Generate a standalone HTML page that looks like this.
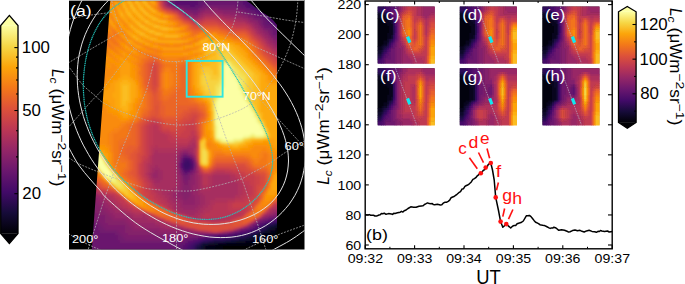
<!DOCTYPE html>
<html><head><meta charset="utf-8"><style>
html,body{margin:0;padding:0;background:#fff;width:685px;height:284px;overflow:hidden}
svg{display:block}
</style></head><body>
<svg width="685" height="284" viewBox="0 0 685 284">
<defs><linearGradient id="cbL" x1="0" y1="0" x2="0" y2="1"><stop offset="0.000" stop-color="#fcffa4"/><stop offset="0.100" stop-color="#f6d746"/><stop offset="0.200" stop-color="#fca50a"/><stop offset="0.300" stop-color="#f37819"/><stop offset="0.400" stop-color="#dd513a"/><stop offset="0.500" stop-color="#bc3754"/><stop offset="0.600" stop-color="#932667"/><stop offset="0.700" stop-color="#6a176e"/><stop offset="0.800" stop-color="#420a68"/><stop offset="0.900" stop-color="#160b39"/><stop offset="1.000" stop-color="#000004"/></linearGradient><linearGradient id="cbR" x1="0" y1="0" x2="0" y2="1"><stop offset="0.000" stop-color="#fcffa4"/><stop offset="0.100" stop-color="#f6d746"/><stop offset="0.200" stop-color="#fca50a"/><stop offset="0.300" stop-color="#f37819"/><stop offset="0.400" stop-color="#dd513a"/><stop offset="0.500" stop-color="#bc3754"/><stop offset="0.600" stop-color="#932667"/><stop offset="0.700" stop-color="#6a176e"/><stop offset="0.800" stop-color="#420a68"/><stop offset="0.900" stop-color="#160b39"/><stop offset="1.000" stop-color="#000004"/></linearGradient><clipPath id="clipA"><polygon points="110.3,0 245,0 250,3 256,8 262,12 268,16 273,20 277,25 277,249.5 91.8,249.5"/></clipPath><clipPath id="clipPanelA"><rect x="69" y="0" width="235.5" height="249.5"/></clipPath><filter id="blurA" x="-5%" y="-5%" width="110%" height="110%"><feGaussianBlur stdDeviation="1.3"/></filter></defs>
<rect x="69" y="0" width="235.5" height="249.5" fill="#000"/>
<g clip-path="url(#clipA)"><g filter="url(#blurA)"><path fill="#000004" d="M272.5 0h8.1v3.1h-8.1zM272.5 2.5h8.1v3.1h-8.1zM275 232.5h5.6v3.1h-5.6zM270 235h10.6v3.1h-10.6zM270 237.5h10.6v3.1h-10.6zM265 240h15.6v3.1h-15.6zM255 242.5h25.6v3.1h-25.6zM222.5 245h58.1v3.1h-58.1zM222.5 247.5h58.1v3.1h-58.1z"/>
<path fill="#02020c" d="M267.5 0h5.6v3.1h-5.6zM267.5 2.5h5.6v3.1h-5.6zM272.5 5h8.1v3.1h-8.1zM275 230h5.6v3.1h-5.6zM267.5 232.5h8.1v3.1h-8.1zM262.5 235h8.1v3.1h-8.1zM260 237.5h10.6v3.1h-10.6zM255 240h10.6v3.1h-10.6zM225 242.5h30.6v3.1h-30.6zM215 245h8.1v3.1h-8.1zM215 247.5h8.1v3.1h-8.1z"/>
<path fill="#050417" d="M265 0h3.1v3.1h-3.1zM265 2.5h3.1v3.1h-3.1zM267.5 5h5.6v3.1h-5.6zM272.5 7.5h8.1v3.1h-8.1zM275 227.5h5.6v3.1h-5.6zM270 230h5.6v3.1h-5.6zM262.5 232.5h5.6v3.1h-5.6zM260 235h3.1v3.1h-3.1zM255 237.5h5.6v3.1h-5.6zM245 240h10.6v3.1h-10.6zM217.5 242.5h8.1v3.1h-8.1zM205 245h10.6v3.1h-10.6zM205 247.5h10.6v3.1h-10.6z"/>
<path fill="#0b0724" d="M262.5 0h3.1v3.1h-3.1zM262.5 2.5h3.1v3.1h-3.1zM265 5h3.1v3.1h-3.1zM270 7.5h3.1v3.1h-3.1zM275 10h5.6v3.1h-5.6zM275 225h5.6v3.1h-5.6zM270 227.5h5.6v3.1h-5.6zM265 230h5.6v3.1h-5.6zM260 232.5h3.1v3.1h-3.1zM255 235h5.6v3.1h-5.6zM250 237.5h5.6v3.1h-5.6zM235 240h10.6v3.1h-10.6zM207.5 242.5h10.6v3.1h-10.6zM202.5 245h3.1v3.1h-3.1zM202.5 247.5h3.1v3.1h-3.1z"/>
<path fill="#110a30" d="M262.5 5h3.1v3.1h-3.1zM267.5 7.5h3.1v3.1h-3.1zM272.5 10h3.1v3.1h-3.1zM275 12.5h5.6v3.1h-5.6zM270 225h5.6v3.1h-5.6zM267.5 227.5h3.1v3.1h-3.1zM262.5 230h3.1v3.1h-3.1zM257.5 232.5h3.1v3.1h-3.1zM250 235h5.6v3.1h-5.6zM245 237.5h5.6v3.1h-5.6zM225 240h10.6v3.1h-10.6zM202.5 242.5h5.6v3.1h-5.6zM200 245h3.1v3.1h-3.1zM200 247.5h3.1v3.1h-3.1z"/>
<path fill="#190c3e" d="M260 0h3.1v3.1h-3.1zM260 2.5h3.1v3.1h-3.1zM265 7.5h3.1v3.1h-3.1zM270 10h3.1v3.1h-3.1zM272.5 12.5h3.1v3.1h-3.1zM275 222.5h5.6v3.1h-5.6zM267.5 225h3.1v3.1h-3.1zM265 227.5h3.1v3.1h-3.1zM260 230h3.1v3.1h-3.1zM252.5 232.5h5.6v3.1h-5.6zM247.5 235h3.1v3.1h-3.1zM237.5 237.5h8.1v3.1h-8.1zM212.5 240h13.1v3.1h-13.1zM200 242.5h3.1v3.1h-3.1zM197.5 245h3.1v3.1h-3.1zM197.5 247.5h3.1v3.1h-3.1z"/>
<path fill="#210c4a" d="M260 5h3.1v3.1h-3.1zM267.5 10h3.1v3.1h-3.1zM272.5 15h8.1v3.1h-8.1zM272.5 222.5h3.1v3.1h-3.1zM265 225h3.1v3.1h-3.1zM262.5 227.5h3.1v3.1h-3.1zM257.5 230h3.1v3.1h-3.1zM250 232.5h3.1v3.1h-3.1zM242.5 235h5.6v3.1h-5.6zM230 237.5h8.1v3.1h-8.1zM207.5 240h5.6v3.1h-5.6zM195 245h3.1v3.1h-3.1zM195 247.5h3.1v3.1h-3.1z"/>
<path fill="#2b0b57" d="M257.5 0h3.1v3.1h-3.1zM257.5 2.5h3.1v3.1h-3.1zM262.5 7.5h3.1v3.1h-3.1zM270 12.5h3.1v3.1h-3.1zM275 17.5h5.6v3.1h-5.6zM267.5 222.5h5.6v3.1h-5.6zM262.5 225h3.1v3.1h-3.1zM260 227.5h3.1v3.1h-3.1zM255 230h3.1v3.1h-3.1zM247.5 232.5h3.1v3.1h-3.1zM237.5 235h5.6v3.1h-5.6zM222.5 237.5h8.1v3.1h-8.1zM202.5 240h5.6v3.1h-5.6zM197.5 242.5h3.1v3.1h-3.1z"/>
<path fill="#340a5f" d="M257.5 5h3.1v3.1h-3.1zM260 7.5h3.1v3.1h-3.1zM265 10h3.1v3.1h-3.1zM267.5 12.5h3.1v3.1h-3.1zM270 15h3.1v3.1h-3.1zM272.5 17.5h3.1v3.1h-3.1zM265 222.5h3.1v3.1h-3.1zM257.5 227.5h3.1v3.1h-3.1zM252.5 230h3.1v3.1h-3.1zM245 232.5h3.1v3.1h-3.1zM232.5 235h5.6v3.1h-5.6zM212.5 237.5h10.6v3.1h-10.6zM200 240h3.1v3.1h-3.1zM195 242.5h3.1v3.1h-3.1zM192.5 245h3.1v3.1h-3.1zM192.5 247.5h3.1v3.1h-3.1z"/>
<path fill="#3e0966" d="M255 0h3.1v3.1h-3.1zM255 2.5h3.1v3.1h-3.1zM255 5h3.1v3.1h-3.1zM257.5 7.5h3.1v3.1h-3.1zM262.5 10h3.1v3.1h-3.1zM270 17.5h3.1v3.1h-3.1zM275 20h5.6v3.1h-5.6zM185 160h5.6v3.1h-5.6zM182.5 162.5h8.1v3.1h-8.1zM182.5 165h8.1v3.1h-8.1zM185 167.5h3.1v3.1h-3.1zM272.5 220h8.1v3.1h-8.1zM260 225h3.1v3.1h-3.1zM250 230h3.1v3.1h-3.1zM240 232.5h5.6v3.1h-5.6zM230 235h3.1v3.1h-3.1zM205 237.5h8.1v3.1h-8.1zM197.5 240h3.1v3.1h-3.1zM192.5 242.5h3.1v3.1h-3.1zM190 245h3.1v3.1h-3.1zM190 247.5h3.1v3.1h-3.1z"/>
<path fill="#470b6a" d="M250 0h5.6v3.1h-5.6zM250 2.5h5.6v3.1h-5.6zM252.5 5h3.1v3.1h-3.1zM260 10h3.1v3.1h-3.1zM265 12.5h3.1v3.1h-3.1zM267.5 15h3.1v3.1h-3.1zM272.5 20h3.1v3.1h-3.1zM185 157.5h3.1v3.1h-3.1zM182.5 160h3.1v3.1h-3.1zM190 162.5h3.1v3.1h-3.1zM190 165h3.1v3.1h-3.1zM182.5 167.5h3.1v3.1h-3.1zM187.5 167.5h3.1v3.1h-3.1zM270 220h3.1v3.1h-3.1zM262.5 222.5h3.1v3.1h-3.1zM257.5 225h3.1v3.1h-3.1zM255 227.5h3.1v3.1h-3.1zM247.5 230h3.1v3.1h-3.1zM237.5 232.5h3.1v3.1h-3.1zM215 235h15.6v3.1h-15.6zM202.5 237.5h3.1v3.1h-3.1zM195 240h3.1v3.1h-3.1zM190 242.5h3.1v3.1h-3.1zM187.5 245h3.1v3.1h-3.1zM187.5 247.5h3.1v3.1h-3.1z"/>
<path fill="#4f0d6c" d="M245 0h5.6v3.1h-5.6zM245 2.5h5.6v3.1h-5.6zM247.5 5h5.6v3.1h-5.6zM252.5 7.5h5.6v3.1h-5.6zM257.5 10h3.1v3.1h-3.1zM262.5 12.5h3.1v3.1h-3.1zM265 15h3.1v3.1h-3.1zM267.5 17.5h3.1v3.1h-3.1zM270 20h3.1v3.1h-3.1zM272.5 22.5h8.1v3.1h-8.1zM182.5 157.5h3.1v3.1h-3.1zM187.5 157.5h3.1v3.1h-3.1zM190 160h3.1v3.1h-3.1zM190 167.5h3.1v3.1h-3.1zM185 170h3.1v3.1h-3.1zM267.5 220h3.1v3.1h-3.1zM260 222.5h3.1v3.1h-3.1zM252.5 227.5h3.1v3.1h-3.1zM245 230h3.1v3.1h-3.1zM232.5 232.5h5.6v3.1h-5.6zM210 235h5.6v3.1h-5.6zM200 237.5h3.1v3.1h-3.1zM192.5 240h3.1v3.1h-3.1zM187.5 242.5h3.1v3.1h-3.1zM185 245h3.1v3.1h-3.1zM185 247.5h3.1v3.1h-3.1z"/>
<path fill="#59106e" d="M175 0h23.1v3.1h-23.1zM242.5 0h3.1v3.1h-3.1zM175 2.5h23.1v3.1h-23.1zM242.5 2.5h3.1v3.1h-3.1zM190 5h5.6v3.1h-5.6zM245 5h3.1v3.1h-3.1zM250 7.5h3.1v3.1h-3.1zM255 10h3.1v3.1h-3.1zM257.5 12.5h5.6v3.1h-5.6zM262.5 15h3.1v3.1h-3.1zM265 17.5h3.1v3.1h-3.1zM267.5 20h3.1v3.1h-3.1zM270 22.5h3.1v3.1h-3.1zM272.5 25h8.1v3.1h-8.1zM190 157.5h3.1v3.1h-3.1zM180 162.5h3.1v3.1h-3.1zM180 165h3.1v3.1h-3.1zM182.5 170h3.1v3.1h-3.1zM187.5 170h3.1v3.1h-3.1zM272.5 217.5h8.1v3.1h-8.1zM265 220h3.1v3.1h-3.1zM255 225h3.1v3.1h-3.1zM250 227.5h3.1v3.1h-3.1zM240 230h5.6v3.1h-5.6zM227.5 232.5h5.6v3.1h-5.6zM205 235h5.6v3.1h-5.6zM197.5 237.5h3.1v3.1h-3.1zM187.5 240h5.6v3.1h-5.6zM185 242.5h3.1v3.1h-3.1zM182.5 245h3.1v3.1h-3.1zM182.5 247.5h3.1v3.1h-3.1z"/>
<path fill="#61136e" d="M172.5 0h3.1v3.1h-3.1zM197.5 0h5.6v3.1h-5.6zM237.5 0h5.6v3.1h-5.6zM172.5 2.5h3.1v3.1h-3.1zM197.5 2.5h5.6v3.1h-5.6zM237.5 2.5h5.6v3.1h-5.6zM180 5h10.6v3.1h-10.6zM195 5h5.6v3.1h-5.6zM240 5h5.6v3.1h-5.6zM245 7.5h5.6v3.1h-5.6zM250 10h5.6v3.1h-5.6zM255 12.5h3.1v3.1h-3.1zM260 15h3.1v3.1h-3.1zM262.5 17.5h3.1v3.1h-3.1zM265 20h3.1v3.1h-3.1zM265 22.5h5.6v3.1h-5.6zM270 25h3.1v3.1h-3.1zM272.5 27.5h8.1v3.1h-8.1zM275 30h5.6v3.1h-5.6zM182.5 155h5.6v3.1h-5.6zM180 160h3.1v3.1h-3.1zM192.5 162.5h3.1v3.1h-3.1zM192.5 165h3.1v3.1h-3.1zM180 167.5h3.1v3.1h-3.1zM185 172.5h3.1v3.1h-3.1zM270 217.5h3.1v3.1h-3.1zM262.5 220h3.1v3.1h-3.1zM257.5 222.5h3.1v3.1h-3.1zM252.5 225h3.1v3.1h-3.1zM247.5 227.5h3.1v3.1h-3.1zM237.5 230h3.1v3.1h-3.1zM222.5 232.5h5.6v3.1h-5.6zM202.5 235h3.1v3.1h-3.1zM192.5 237.5h5.6v3.1h-5.6zM185 240h3.1v3.1h-3.1zM180 242.5h5.6v3.1h-5.6zM177.5 245h5.6v3.1h-5.6zM177.5 247.5h5.6v3.1h-5.6z"/>
<path fill="#6a176e" d="M170 0h3.1v3.1h-3.1zM202.5 0h35.6v3.1h-35.6zM170 2.5h3.1v3.1h-3.1zM202.5 2.5h35.6v3.1h-35.6zM175 5h5.6v3.1h-5.6zM200 5h3.1v3.1h-3.1zM235 5h5.6v3.1h-5.6zM185 7.5h13.1v3.1h-13.1zM240 7.5h5.6v3.1h-5.6zM245 10h5.6v3.1h-5.6zM250 12.5h5.6v3.1h-5.6zM255 15h5.6v3.1h-5.6zM260 17.5h3.1v3.1h-3.1zM262.5 20h3.1v3.1h-3.1zM262.5 22.5h3.1v3.1h-3.1zM265 25h5.6v3.1h-5.6zM270 27.5h3.1v3.1h-3.1zM272.5 30h3.1v3.1h-3.1zM272.5 32.5h8.1v3.1h-8.1zM187.5 155h3.1v3.1h-3.1zM180 157.5h3.1v3.1h-3.1zM192.5 160h3.1v3.1h-3.1zM192.5 167.5h3.1v3.1h-3.1zM190 170h3.1v3.1h-3.1zM182.5 172.5h3.1v3.1h-3.1zM267.5 217.5h3.1v3.1h-3.1zM260 220h3.1v3.1h-3.1zM90 222.5h5.6v3.1h-5.6zM255 222.5h3.1v3.1h-3.1zM90 225h8.1v3.1h-8.1zM90 227.5h8.1v3.1h-8.1zM245 227.5h3.1v3.1h-3.1zM90 230h10.6v3.1h-10.6zM235 230h3.1v3.1h-3.1zM90 232.5h25.6v3.1h-25.6zM217.5 232.5h5.6v3.1h-5.6zM90 235h28.1v3.1h-28.1zM197.5 235h5.6v3.1h-5.6zM90 237.5h28.1v3.1h-28.1zM185 237.5h8.1v3.1h-8.1zM90 240h30.6v3.1h-30.6zM177.5 240h8.1v3.1h-8.1zM90 242.5h90.6v3.1h-90.6zM90 245h88.1v3.1h-88.1zM90 247.5h88.1v3.1h-88.1z"/>
<path fill="#721a6e" d="M172.5 5h3.1v3.1h-3.1zM202.5 5h33.1v3.1h-33.1zM182.5 7.5h3.1v3.1h-3.1zM197.5 7.5h3.1v3.1h-3.1zM237.5 7.5h3.1v3.1h-3.1zM190 10h8.1v3.1h-8.1zM242.5 10h3.1v3.1h-3.1zM247.5 12.5h3.1v3.1h-3.1zM252.5 15h3.1v3.1h-3.1zM255 17.5h5.6v3.1h-5.6zM260 20h3.1v3.1h-3.1zM260 22.5h3.1v3.1h-3.1zM262.5 25h3.1v3.1h-3.1zM265 27.5h5.6v3.1h-5.6zM270 30h3.1v3.1h-3.1zM270 32.5h3.1v3.1h-3.1zM272.5 35h8.1v3.1h-8.1zM180 170h3.1v3.1h-3.1zM187.5 172.5h3.1v3.1h-3.1zM182.5 175h5.6v3.1h-5.6zM185 177.5h3.1v3.1h-3.1zM272.5 215h8.1v3.1h-8.1zM265 217.5h3.1v3.1h-3.1zM90 220h8.1v3.1h-8.1zM257.5 220h3.1v3.1h-3.1zM95 222.5h5.6v3.1h-5.6zM97.5 225h5.6v3.1h-5.6zM250 225h3.1v3.1h-3.1zM97.5 227.5h8.1v3.1h-8.1zM242.5 227.5h3.1v3.1h-3.1zM100 230h18.1v3.1h-18.1zM232.5 230h3.1v3.1h-3.1zM115 232.5h5.6v3.1h-5.6zM202.5 232.5h15.6v3.1h-15.6zM117.5 235h5.6v3.1h-5.6zM190 235h8.1v3.1h-8.1zM117.5 237.5h8.1v3.1h-8.1zM175 237.5h10.6v3.1h-10.6zM120 240h58.1v3.1h-58.1z"/>
<path fill="#7c1d6d" d="M167.5 0h3.1v3.1h-3.1zM167.5 2.5h3.1v3.1h-3.1zM180 7.5h3.1v3.1h-3.1zM200 7.5h5.6v3.1h-5.6zM217.5 7.5h20.6v3.1h-20.6zM185 10h5.6v3.1h-5.6zM197.5 10h3.1v3.1h-3.1zM237.5 10h5.6v3.1h-5.6zM192.5 12.5h5.6v3.1h-5.6zM242.5 12.5h5.6v3.1h-5.6zM247.5 15h5.6v3.1h-5.6zM252.5 17.5h3.1v3.1h-3.1zM257.5 20h3.1v3.1h-3.1zM260 25h3.1v3.1h-3.1zM262.5 27.5h3.1v3.1h-3.1zM267.5 30h3.1v3.1h-3.1zM270 35h3.1v3.1h-3.1zM272.5 37.5h8.1v3.1h-8.1zM182.5 152.5h5.6v3.1h-5.6zM180 155h3.1v3.1h-3.1zM190 155h3.1v3.1h-3.1zM192.5 157.5h3.1v3.1h-3.1zM177.5 162.5h3.1v3.1h-3.1zM177.5 165h3.1v3.1h-3.1zM192.5 170h3.1v3.1h-3.1zM180 172.5h3.1v3.1h-3.1zM190 172.5h3.1v3.1h-3.1zM187.5 175h3.1v3.1h-3.1zM182.5 177.5h3.1v3.1h-3.1zM187.5 177.5h3.1v3.1h-3.1zM182.5 180h5.6v3.1h-5.6zM185 182.5h3.1v3.1h-3.1zM90 205h5.6v3.1h-5.6zM90 207.5h5.6v3.1h-5.6zM90 210h5.6v3.1h-5.6zM90 212.5h8.1v3.1h-8.1zM90 215h15.6v3.1h-15.6zM270 215h3.1v3.1h-3.1zM90 217.5h15.6v3.1h-15.6zM262.5 217.5h3.1v3.1h-3.1zM97.5 220h8.1v3.1h-8.1zM100 222.5h8.1v3.1h-8.1zM252.5 222.5h3.1v3.1h-3.1zM102.5 225h23.1v3.1h-23.1zM247.5 225h3.1v3.1h-3.1zM105 227.5h20.6v3.1h-20.6zM240 227.5h3.1v3.1h-3.1zM117.5 230h8.1v3.1h-8.1zM120 232.5h8.1v3.1h-8.1zM197.5 232.5h5.6v3.1h-5.6zM122.5 235h68.1v3.1h-68.1zM125 237.5h50.6v3.1h-50.6z"/>
<path fill="#84206b" d="M170 5h3.1v3.1h-3.1zM177.5 7.5h3.1v3.1h-3.1zM205 7.5h13.1v3.1h-13.1zM182.5 10h3.1v3.1h-3.1zM200 10h3.1v3.1h-3.1zM222.5 10h15.6v3.1h-15.6zM187.5 12.5h5.6v3.1h-5.6zM237.5 12.5h5.6v3.1h-5.6zM245 15h3.1v3.1h-3.1zM250 17.5h3.1v3.1h-3.1zM255 20h3.1v3.1h-3.1zM257.5 22.5h3.1v3.1h-3.1zM265 30h3.1v3.1h-3.1zM267.5 32.5h3.1v3.1h-3.1zM275 40h5.6v3.1h-5.6zM180 152.5h3.1v3.1h-3.1zM187.5 152.5h3.1v3.1h-3.1zM177.5 160h3.1v3.1h-3.1zM195 162.5h3.1v3.1h-3.1zM195 165h3.1v3.1h-3.1zM177.5 167.5h3.1v3.1h-3.1zM192.5 172.5h3.1v3.1h-3.1zM180 175h3.1v3.1h-3.1zM190 175h3.1v3.1h-3.1zM180 177.5h3.1v3.1h-3.1zM190 177.5h3.1v3.1h-3.1zM187.5 180h3.1v3.1h-3.1zM182.5 182.5h3.1v3.1h-3.1zM187.5 182.5h3.1v3.1h-3.1zM182.5 185h8.1v3.1h-8.1zM182.5 187.5h8.1v3.1h-8.1zM182.5 190h8.1v3.1h-8.1zM180 192.5h10.6v3.1h-10.6zM182.5 195h8.1v3.1h-8.1zM182.5 197.5h5.6v3.1h-5.6zM90 200h5.6v3.1h-5.6zM90 202.5h8.1v3.1h-8.1zM95 205h5.6v3.1h-5.6zM95 207.5h8.1v3.1h-8.1zM95 210h10.6v3.1h-10.6zM97.5 212.5h10.6v3.1h-10.6zM275 212.5h5.6v3.1h-5.6zM105 215h5.6v3.1h-5.6zM267.5 215h3.1v3.1h-3.1zM105 217.5h8.1v3.1h-8.1zM260 217.5h3.1v3.1h-3.1zM105 220h20.6v3.1h-20.6zM255 220h3.1v3.1h-3.1zM107.5 222.5h20.6v3.1h-20.6zM125 225h5.6v3.1h-5.6zM125 227.5h8.1v3.1h-8.1zM125 230h33.1v3.1h-33.1zM127.5 232.5h70.6v3.1h-70.6z"/>
<path fill="#8d2369" d="M165 0h3.1v3.1h-3.1zM165 2.5h3.1v3.1h-3.1zM167.5 5h3.1v3.1h-3.1zM175 7.5h3.1v3.1h-3.1zM202.5 10h3.1v3.1h-3.1zM215 10h8.1v3.1h-8.1zM185 12.5h3.1v3.1h-3.1zM197.5 12.5h3.1v3.1h-3.1zM222.5 12.5h15.6v3.1h-15.6zM192.5 15h5.6v3.1h-5.6zM240 15h5.6v3.1h-5.6zM247.5 17.5h3.1v3.1h-3.1zM250 20h5.6v3.1h-5.6zM255 22.5h3.1v3.1h-3.1zM257.5 25h3.1v3.1h-3.1zM260 27.5h3.1v3.1h-3.1zM262.5 30h3.1v3.1h-3.1zM265 32.5h3.1v3.1h-3.1zM267.5 35h3.1v3.1h-3.1zM270 37.5h3.1v3.1h-3.1zM272.5 40h3.1v3.1h-3.1zM275 42.5h5.6v3.1h-5.6zM182.5 150h5.6v3.1h-5.6zM190 152.5h3.1v3.1h-3.1zM177.5 155h3.1v3.1h-3.1zM192.5 155h3.1v3.1h-3.1zM177.5 157.5h3.1v3.1h-3.1zM195 167.5h3.1v3.1h-3.1zM177.5 170h3.1v3.1h-3.1zM195 170h3.1v3.1h-3.1zM177.5 172.5h3.1v3.1h-3.1zM192.5 175h3.1v3.1h-3.1zM192.5 177.5h3.1v3.1h-3.1zM180 180h3.1v3.1h-3.1zM190 180h5.6v3.1h-5.6zM180 182.5h3.1v3.1h-3.1zM190 182.5h5.6v3.1h-5.6zM180 185h3.1v3.1h-3.1zM190 185h3.1v3.1h-3.1zM180 187.5h3.1v3.1h-3.1zM190 187.5h3.1v3.1h-3.1zM177.5 190h5.6v3.1h-5.6zM190 190h3.1v3.1h-3.1zM177.5 192.5h3.1v3.1h-3.1zM190 192.5h3.1v3.1h-3.1zM177.5 195h5.6v3.1h-5.6zM190 195h5.6v3.1h-5.6zM90 197.5h8.1v3.1h-8.1zM180 197.5h3.1v3.1h-3.1zM187.5 197.5h8.1v3.1h-8.1zM95 200h5.6v3.1h-5.6zM182.5 200h13.1v3.1h-13.1zM97.5 202.5h5.6v3.1h-5.6zM182.5 202.5h13.1v3.1h-13.1zM100 205h5.6v3.1h-5.6zM102.5 207.5h5.6v3.1h-5.6zM105 210h5.6v3.1h-5.6zM107.5 212.5h5.6v3.1h-5.6zM272.5 212.5h3.1v3.1h-3.1zM110 215h5.6v3.1h-5.6zM265 215h3.1v3.1h-3.1zM112.5 217.5h15.6v3.1h-15.6zM125 220h5.6v3.1h-5.6zM127.5 222.5h5.6v3.1h-5.6zM250 222.5h3.1v3.1h-3.1zM130 225h5.6v3.1h-5.6zM132.5 227.5h28.1v3.1h-28.1zM157.5 230h35.6v3.1h-35.6zM230 230h3.1v3.1h-3.1z"/>
<path fill="#952667" d="M180 10h3.1v3.1h-3.1zM205 10h10.6v3.1h-10.6zM182.5 12.5h3.1v3.1h-3.1zM200 12.5h3.1v3.1h-3.1zM217.5 12.5h5.6v3.1h-5.6zM187.5 15h5.6v3.1h-5.6zM197.5 15h3.1v3.1h-3.1zM230 15h10.6v3.1h-10.6zM242.5 17.5h5.6v3.1h-5.6zM247.5 20h3.1v3.1h-3.1zM252.5 22.5h3.1v3.1h-3.1zM255 25h3.1v3.1h-3.1zM257.5 27.5h3.1v3.1h-3.1zM260 30h3.1v3.1h-3.1zM262.5 32.5h3.1v3.1h-3.1zM265 35h3.1v3.1h-3.1zM267.5 37.5h3.1v3.1h-3.1zM270 40h3.1v3.1h-3.1zM272.5 42.5h3.1v3.1h-3.1zM275 45h5.6v3.1h-5.6zM180 150h3.1v3.1h-3.1zM187.5 150h3.1v3.1h-3.1zM177.5 152.5h3.1v3.1h-3.1zM195 160h3.1v3.1h-3.1zM155 170h3.1v3.1h-3.1zM152.5 172.5h5.6v3.1h-5.6zM195 172.5h3.1v3.1h-3.1zM152.5 175h5.6v3.1h-5.6zM177.5 175h3.1v3.1h-3.1zM195 175h3.1v3.1h-3.1zM177.5 177.5h3.1v3.1h-3.1zM195 177.5h3.1v3.1h-3.1zM177.5 180h3.1v3.1h-3.1zM195 180h3.1v3.1h-3.1zM177.5 182.5h3.1v3.1h-3.1zM195 182.5h3.1v3.1h-3.1zM177.5 185h3.1v3.1h-3.1zM192.5 185h5.6v3.1h-5.6zM177.5 187.5h3.1v3.1h-3.1zM192.5 187.5h5.6v3.1h-5.6zM175 190h3.1v3.1h-3.1zM192.5 190h5.6v3.1h-5.6zM172.5 192.5h5.6v3.1h-5.6zM192.5 192.5h5.6v3.1h-5.6zM90 195h10.6v3.1h-10.6zM172.5 195h5.6v3.1h-5.6zM195 195h5.6v3.1h-5.6zM97.5 197.5h5.6v3.1h-5.6zM175 197.5h5.6v3.1h-5.6zM195 197.5h5.6v3.1h-5.6zM100 200h5.6v3.1h-5.6zM177.5 200h5.6v3.1h-5.6zM195 200h5.6v3.1h-5.6zM102.5 202.5h5.6v3.1h-5.6zM180 202.5h3.1v3.1h-3.1zM195 202.5h5.6v3.1h-5.6zM105 205h5.6v3.1h-5.6zM180 205h18.1v3.1h-18.1zM107.5 207.5h5.6v3.1h-5.6zM182.5 207.5h13.1v3.1h-13.1zM110 210h5.6v3.1h-5.6zM275 210h5.6v3.1h-5.6zM112.5 212.5h13.1v3.1h-13.1zM270 212.5h3.1v3.1h-3.1zM115 215h15.6v3.1h-15.6zM262.5 215h3.1v3.1h-3.1zM127.5 217.5h5.6v3.1h-5.6zM257.5 217.5h3.1v3.1h-3.1zM130 220h5.6v3.1h-5.6zM132.5 222.5h23.1v3.1h-23.1zM135 225h25.6v3.1h-25.6zM245 225h3.1v3.1h-3.1zM160 227.5h23.1v3.1h-23.1zM237.5 227.5h3.1v3.1h-3.1zM192.5 230h5.6v3.1h-5.6z"/>
<path fill="#9d2964" d="M165 5h3.1v3.1h-3.1zM172.5 7.5h3.1v3.1h-3.1zM202.5 12.5h15.6v3.1h-15.6zM185 15h3.1v3.1h-3.1zM200 15h3.1v3.1h-3.1zM222.5 15h8.1v3.1h-8.1zM192.5 17.5h5.6v3.1h-5.6zM235 17.5h8.1v3.1h-8.1zM245 20h3.1v3.1h-3.1zM250 22.5h3.1v3.1h-3.1zM252.5 25h3.1v3.1h-3.1zM255 27.5h3.1v3.1h-3.1zM257.5 30h3.1v3.1h-3.1zM260 32.5h3.1v3.1h-3.1zM262.5 35h3.1v3.1h-3.1zM265 37.5h3.1v3.1h-3.1zM267.5 40h3.1v3.1h-3.1zM270 42.5h3.1v3.1h-3.1zM272.5 45h3.1v3.1h-3.1zM182.5 147.5h10.6v3.1h-10.6zM177.5 150h3.1v3.1h-3.1zM190 150h3.1v3.1h-3.1zM192.5 152.5h3.1v3.1h-3.1zM175 155h3.1v3.1h-3.1zM175 157.5h3.1v3.1h-3.1zM175 160h3.1v3.1h-3.1zM175 162.5h3.1v3.1h-3.1zM155 165h3.1v3.1h-3.1zM175 165h3.1v3.1h-3.1zM152.5 167.5h8.1v3.1h-8.1zM175 167.5h3.1v3.1h-3.1zM152.5 170h3.1v3.1h-3.1zM157.5 170h5.6v3.1h-5.6zM175 170h3.1v3.1h-3.1zM150 172.5h3.1v3.1h-3.1zM157.5 172.5h5.6v3.1h-5.6zM175 172.5h3.1v3.1h-3.1zM150 175h3.1v3.1h-3.1zM157.5 175h5.6v3.1h-5.6zM175 175h3.1v3.1h-3.1zM197.5 175h3.1v3.1h-3.1zM152.5 177.5h10.6v3.1h-10.6zM175 177.5h3.1v3.1h-3.1zM197.5 177.5h3.1v3.1h-3.1zM155 180h5.6v3.1h-5.6zM175 180h3.1v3.1h-3.1zM197.5 180h3.1v3.1h-3.1zM197.5 182.5h3.1v3.1h-3.1zM175 185h3.1v3.1h-3.1zM197.5 185h3.1v3.1h-3.1zM172.5 187.5h5.6v3.1h-5.6zM197.5 187.5h3.1v3.1h-3.1zM170 190h5.6v3.1h-5.6zM197.5 190h3.1v3.1h-3.1zM90 192.5h8.1v3.1h-8.1zM167.5 192.5h5.6v3.1h-5.6zM197.5 192.5h5.6v3.1h-5.6zM100 195h3.1v3.1h-3.1zM170 195h3.1v3.1h-3.1zM200 195h5.6v3.1h-5.6zM102.5 197.5h3.1v3.1h-3.1zM170 197.5h5.6v3.1h-5.6zM200 197.5h5.6v3.1h-5.6zM105 200h3.1v3.1h-3.1zM172.5 200h5.6v3.1h-5.6zM200 200h5.6v3.1h-5.6zM107.5 202.5h3.1v3.1h-3.1zM175 202.5h5.6v3.1h-5.6zM200 202.5h5.6v3.1h-5.6zM110 205h3.1v3.1h-3.1zM175 205h5.6v3.1h-5.6zM197.5 205h5.6v3.1h-5.6zM112.5 207.5h5.6v3.1h-5.6zM175 207.5h8.1v3.1h-8.1zM195 207.5h5.6v3.1h-5.6zM115 210h10.6v3.1h-10.6zM177.5 210h20.6v3.1h-20.6zM272.5 210h3.1v3.1h-3.1zM125 212.5h5.6v3.1h-5.6zM185 212.5h10.6v3.1h-10.6zM267.5 212.5h3.1v3.1h-3.1zM130 215h3.1v3.1h-3.1zM142.5 215h3.1v3.1h-3.1zM132.5 217.5h15.6v3.1h-15.6zM135 220h20.6v3.1h-20.6zM155 222.5h5.6v3.1h-5.6zM160 225h5.6v3.1h-5.6zM182.5 227.5h5.6v3.1h-5.6zM197.5 230h3.1v3.1h-3.1zM227.5 230h3.1v3.1h-3.1z"/>
<path fill="#a62d60" d="M162.5 0h3.1v3.1h-3.1zM162.5 2.5h3.1v3.1h-3.1zM170 7.5h3.1v3.1h-3.1zM177.5 10h3.1v3.1h-3.1zM202.5 15h3.1v3.1h-3.1zM217.5 15h5.6v3.1h-5.6zM197.5 17.5h3.1v3.1h-3.1zM225 17.5h10.6v3.1h-10.6zM237.5 20h8.1v3.1h-8.1zM247.5 22.5h3.1v3.1h-3.1zM250 25h3.1v3.1h-3.1zM252.5 27.5h3.1v3.1h-3.1zM255 30h3.1v3.1h-3.1zM257.5 32.5h3.1v3.1h-3.1zM260 35h3.1v3.1h-3.1zM262.5 37.5h3.1v3.1h-3.1zM265 40h3.1v3.1h-3.1zM267.5 42.5h3.1v3.1h-3.1zM270 45h3.1v3.1h-3.1zM272.5 47.5h8.1v3.1h-8.1zM192.5 142.5h3.1v3.1h-3.1zM187.5 145h8.1v3.1h-8.1zM177.5 147.5h5.6v3.1h-5.6zM192.5 147.5h3.1v3.1h-3.1zM155 150h3.1v3.1h-3.1zM175 150h3.1v3.1h-3.1zM192.5 150h3.1v3.1h-3.1zM152.5 152.5h25.6v3.1h-25.6zM152.5 155h23.1v3.1h-23.1zM152.5 157.5h23.1v3.1h-23.1zM195 157.5h3.1v3.1h-3.1zM152.5 160h23.1v3.1h-23.1zM152.5 162.5h23.1v3.1h-23.1zM150 165h5.6v3.1h-5.6zM157.5 165h18.1v3.1h-18.1zM150 167.5h3.1v3.1h-3.1zM160 167.5h15.6v3.1h-15.6zM150 170h3.1v3.1h-3.1zM162.5 170h13.1v3.1h-13.1zM197.5 170h3.1v3.1h-3.1zM147.5 172.5h3.1v3.1h-3.1zM162.5 172.5h13.1v3.1h-13.1zM197.5 172.5h3.1v3.1h-3.1zM162.5 175h13.1v3.1h-13.1zM200 175h3.1v3.1h-3.1zM212.5 175h18.1v3.1h-18.1zM150 177.5h3.1v3.1h-3.1zM162.5 177.5h13.1v3.1h-13.1zM200 177.5h3.1v3.1h-3.1zM212.5 177.5h18.1v3.1h-18.1zM152.5 180h3.1v3.1h-3.1zM160 180h15.6v3.1h-15.6zM200 180h3.1v3.1h-3.1zM212.5 180h23.1v3.1h-23.1zM152.5 182.5h25.6v3.1h-25.6zM200 182.5h3.1v3.1h-3.1zM212.5 182.5h25.6v3.1h-25.6zM155 185h20.6v3.1h-20.6zM200 185h3.1v3.1h-3.1zM210 185h28.1v3.1h-28.1zM160 187.5h13.1v3.1h-13.1zM200 187.5h3.1v3.1h-3.1zM210 187.5h28.1v3.1h-28.1zM90 190h5.6v3.1h-5.6zM162.5 190h8.1v3.1h-8.1zM200 190h38.1v3.1h-38.1zM97.5 192.5h5.6v3.1h-5.6zM162.5 192.5h5.6v3.1h-5.6zM202.5 192.5h35.6v3.1h-35.6zM102.5 195h5.6v3.1h-5.6zM165 195h5.6v3.1h-5.6zM205 195h30.6v3.1h-30.6zM105 197.5h5.6v3.1h-5.6zM167.5 197.5h3.1v3.1h-3.1zM205 197.5h10.6v3.1h-10.6zM107.5 200h5.6v3.1h-5.6zM167.5 200h5.6v3.1h-5.6zM205 200h5.6v3.1h-5.6zM110 202.5h5.6v3.1h-5.6zM170 202.5h5.6v3.1h-5.6zM205 202.5h5.6v3.1h-5.6zM112.5 205h5.6v3.1h-5.6zM172.5 205h3.1v3.1h-3.1zM202.5 205h5.6v3.1h-5.6zM117.5 207.5h5.6v3.1h-5.6zM172.5 207.5h3.1v3.1h-3.1zM200 207.5h5.6v3.1h-5.6zM272.5 207.5h8.1v3.1h-8.1zM125 210h5.6v3.1h-5.6zM175 210h3.1v3.1h-3.1zM197.5 210h5.6v3.1h-5.6zM270 210h3.1v3.1h-3.1zM130 212.5h5.6v3.1h-5.6zM140 212.5h5.6v3.1h-5.6zM180 212.5h5.6v3.1h-5.6zM195 212.5h5.6v3.1h-5.6zM265 212.5h3.1v3.1h-3.1zM132.5 215h10.6v3.1h-10.6zM145 215h5.6v3.1h-5.6zM187.5 215h10.6v3.1h-10.6zM147.5 217.5h8.1v3.1h-8.1zM155 220h8.1v3.1h-8.1zM252.5 220h3.1v3.1h-3.1zM160 222.5h10.6v3.1h-10.6zM165 225h15.6v3.1h-15.6zM187.5 227.5h3.1v3.1h-3.1zM200 230h3.1v3.1h-3.1zM225 230h3.1v3.1h-3.1z"/>
<path fill="#ae305c" d="M180 12.5h3.1v3.1h-3.1zM182.5 15h3.1v3.1h-3.1zM205 15h13.1v3.1h-13.1zM190 17.5h3.1v3.1h-3.1zM200 17.5h3.1v3.1h-3.1zM220 17.5h5.6v3.1h-5.6zM230 20h8.1v3.1h-8.1zM245 22.5h3.1v3.1h-3.1zM255 32.5h3.1v3.1h-3.1zM265 42.5h3.1v3.1h-3.1zM267.5 45h3.1v3.1h-3.1zM270 47.5h3.1v3.1h-3.1zM272.5 50h8.1v3.1h-8.1zM192.5 137.5h3.1v3.1h-3.1zM190 140h5.6v3.1h-5.6zM187.5 142.5h5.6v3.1h-5.6zM155 145h3.1v3.1h-3.1zM177.5 145h10.6v3.1h-10.6zM195 145h3.1v3.1h-3.1zM152.5 147.5h25.6v3.1h-25.6zM152.5 150h3.1v3.1h-3.1zM157.5 150h18.1v3.1h-18.1zM150 155h3.1v3.1h-3.1zM195 155h3.1v3.1h-3.1zM150 157.5h3.1v3.1h-3.1zM150 160h3.1v3.1h-3.1zM147.5 162.5h5.6v3.1h-5.6zM147.5 165h3.1v3.1h-3.1zM147.5 167.5h3.1v3.1h-3.1zM197.5 167.5h3.1v3.1h-3.1zM147.5 170h3.1v3.1h-3.1zM145 172.5h3.1v3.1h-3.1zM200 172.5h3.1v3.1h-3.1zM212.5 172.5h18.1v3.1h-18.1zM147.5 175h3.1v3.1h-3.1zM207.5 175h5.6v3.1h-5.6zM230 175h5.6v3.1h-5.6zM147.5 177.5h3.1v3.1h-3.1zM207.5 177.5h5.6v3.1h-5.6zM230 177.5h8.1v3.1h-8.1zM150 180h3.1v3.1h-3.1zM207.5 180h5.6v3.1h-5.6zM235 180h5.6v3.1h-5.6zM207.5 182.5h5.6v3.1h-5.6zM237.5 182.5h5.6v3.1h-5.6zM152.5 185h3.1v3.1h-3.1zM202.5 185h8.1v3.1h-8.1zM237.5 185h5.6v3.1h-5.6zM155 187.5h5.6v3.1h-5.6zM202.5 187.5h8.1v3.1h-8.1zM237.5 187.5h5.6v3.1h-5.6zM95 190h3.1v3.1h-3.1zM155 190h8.1v3.1h-8.1zM237.5 190h5.6v3.1h-5.6zM102.5 192.5h3.1v3.1h-3.1zM157.5 192.5h5.6v3.1h-5.6zM237.5 192.5h5.6v3.1h-5.6zM107.5 195h5.6v3.1h-5.6zM160 195h5.6v3.1h-5.6zM235 195h5.6v3.1h-5.6zM110 197.5h5.6v3.1h-5.6zM162.5 197.5h5.6v3.1h-5.6zM215 197.5h20.6v3.1h-20.6zM112.5 200h5.6v3.1h-5.6zM165 200h3.1v3.1h-3.1zM210 200h18.1v3.1h-18.1zM115 202.5h5.6v3.1h-5.6zM167.5 202.5h3.1v3.1h-3.1zM210 202.5h5.6v3.1h-5.6zM117.5 205h5.6v3.1h-5.6zM167.5 205h5.6v3.1h-5.6zM207.5 205h5.6v3.1h-5.6zM122.5 207.5h5.6v3.1h-5.6zM170 207.5h3.1v3.1h-3.1zM205 207.5h8.1v3.1h-8.1zM270 207.5h3.1v3.1h-3.1zM130 210h3.1v3.1h-3.1zM172.5 210h3.1v3.1h-3.1zM202.5 210h8.1v3.1h-8.1zM267.5 210h3.1v3.1h-3.1zM135 212.5h5.6v3.1h-5.6zM145 212.5h3.1v3.1h-3.1zM200 212.5h5.6v3.1h-5.6zM150 215h3.1v3.1h-3.1zM197.5 215h5.6v3.1h-5.6zM260 215h3.1v3.1h-3.1zM155 217.5h5.6v3.1h-5.6zM195 217.5h35.6v3.1h-35.6zM162.5 220h3.1v3.1h-3.1zM210 220h10.6v3.1h-10.6zM170 222.5h3.1v3.1h-3.1zM180 225h3.1v3.1h-3.1zM242.5 225h3.1v3.1h-3.1zM235 227.5h3.1v3.1h-3.1zM202.5 230h3.1v3.1h-3.1zM222.5 230h3.1v3.1h-3.1z"/>
<path fill="#b73557" d="M162.5 5h3.1v3.1h-3.1zM167.5 7.5h3.1v3.1h-3.1zM175 10h3.1v3.1h-3.1zM187.5 17.5h3.1v3.1h-3.1zM202.5 17.5h3.1v3.1h-3.1zM217.5 17.5h3.1v3.1h-3.1zM192.5 20h5.6v3.1h-5.6zM225 20h5.6v3.1h-5.6zM232.5 22.5h13.1v3.1h-13.1zM247.5 25h3.1v3.1h-3.1zM250 27.5h3.1v3.1h-3.1zM252.5 30h3.1v3.1h-3.1zM257.5 35h3.1v3.1h-3.1zM260 37.5h3.1v3.1h-3.1zM262.5 40h3.1v3.1h-3.1zM275 52.5h5.6v3.1h-5.6zM152.5 125h5.6v3.1h-5.6zM152.5 127.5h5.6v3.1h-5.6zM152.5 130h8.1v3.1h-8.1zM152.5 132.5h13.1v3.1h-13.1zM152.5 135h15.6v3.1h-15.6zM192.5 135h3.1v3.1h-3.1zM152.5 137.5h15.6v3.1h-15.6zM190 137.5h3.1v3.1h-3.1zM152.5 140h18.1v3.1h-18.1zM187.5 140h3.1v3.1h-3.1zM195 140h3.1v3.1h-3.1zM152.5 142.5h35.6v3.1h-35.6zM195 142.5h3.1v3.1h-3.1zM150 145h5.6v3.1h-5.6zM157.5 145h20.6v3.1h-20.6zM150 147.5h3.1v3.1h-3.1zM195 147.5h3.1v3.1h-3.1zM150 150h3.1v3.1h-3.1zM195 150h3.1v3.1h-3.1zM150 152.5h3.1v3.1h-3.1zM195 152.5h3.1v3.1h-3.1zM147.5 155h3.1v3.1h-3.1zM147.5 157.5h3.1v3.1h-3.1zM147.5 160h3.1v3.1h-3.1zM145 162.5h3.1v3.1h-3.1zM145 165h3.1v3.1h-3.1zM197.5 165h3.1v3.1h-3.1zM145 167.5h3.1v3.1h-3.1zM145 170h3.1v3.1h-3.1zM215 170h10.6v3.1h-10.6zM210 172.5h3.1v3.1h-3.1zM230 172.5h5.6v3.1h-5.6zM145 175h3.1v3.1h-3.1zM202.5 175h5.6v3.1h-5.6zM235 175h3.1v3.1h-3.1zM202.5 177.5h5.6v3.1h-5.6zM237.5 177.5h3.1v3.1h-3.1zM147.5 180h3.1v3.1h-3.1zM202.5 180h5.6v3.1h-5.6zM240 180h3.1v3.1h-3.1zM150 182.5h3.1v3.1h-3.1zM202.5 182.5h5.6v3.1h-5.6zM242.5 182.5h3.1v3.1h-3.1zM150 185h3.1v3.1h-3.1zM242.5 185h5.6v3.1h-5.6zM90 187.5h5.6v3.1h-5.6zM150 187.5h5.6v3.1h-5.6zM242.5 187.5h5.6v3.1h-5.6zM97.5 190h5.6v3.1h-5.6zM152.5 190h3.1v3.1h-3.1zM242.5 190h5.6v3.1h-5.6zM105 192.5h5.6v3.1h-5.6zM155 192.5h3.1v3.1h-3.1zM242.5 192.5h5.6v3.1h-5.6zM112.5 195h3.1v3.1h-3.1zM155 195h5.6v3.1h-5.6zM240 195h5.6v3.1h-5.6zM115 197.5h3.1v3.1h-3.1zM157.5 197.5h5.6v3.1h-5.6zM235 197.5h8.1v3.1h-8.1zM117.5 200h3.1v3.1h-3.1zM160 200h5.6v3.1h-5.6zM227.5 200h8.1v3.1h-8.1zM120 202.5h3.1v3.1h-3.1zM162.5 202.5h5.6v3.1h-5.6zM215 202.5h13.1v3.1h-13.1zM122.5 205h5.6v3.1h-5.6zM165 205h3.1v3.1h-3.1zM212.5 205h15.6v3.1h-15.6zM272.5 205h8.1v3.1h-8.1zM127.5 207.5h5.6v3.1h-5.6zM167.5 207.5h3.1v3.1h-3.1zM212.5 207.5h15.6v3.1h-15.6zM132.5 210h10.6v3.1h-10.6zM210 210h20.6v3.1h-20.6zM147.5 212.5h3.1v3.1h-3.1zM177.5 212.5h3.1v3.1h-3.1zM205 212.5h38.1v3.1h-38.1zM262.5 212.5h3.1v3.1h-3.1zM152.5 215h3.1v3.1h-3.1zM185 215h3.1v3.1h-3.1zM202.5 215h38.1v3.1h-38.1zM192.5 217.5h3.1v3.1h-3.1zM230 217.5h3.1v3.1h-3.1zM165 220h3.1v3.1h-3.1zM205 220h5.6v3.1h-5.6zM220 220h5.6v3.1h-5.6zM172.5 222.5h3.1v3.1h-3.1zM247.5 222.5h3.1v3.1h-3.1zM190 227.5h3.1v3.1h-3.1zM205 230h3.1v3.1h-3.1z"/>
<path fill="#bf3952" d="M165 7.5h3.1v3.1h-3.1zM172.5 10h3.1v3.1h-3.1zM177.5 12.5h3.1v3.1h-3.1zM185 17.5h3.1v3.1h-3.1zM205 17.5h13.1v3.1h-13.1zM190 20h3.1v3.1h-3.1zM197.5 20h5.6v3.1h-5.6zM220 20h5.6v3.1h-5.6zM227.5 22.5h5.6v3.1h-5.6zM235 25h13.1v3.1h-13.1zM247.5 27.5h3.1v3.1h-3.1zM250 30h3.1v3.1h-3.1zM252.5 32.5h3.1v3.1h-3.1zM255 35h3.1v3.1h-3.1zM257.5 37.5h3.1v3.1h-3.1zM260 40h3.1v3.1h-3.1zM262.5 42.5h3.1v3.1h-3.1zM265 45h3.1v3.1h-3.1zM267.5 47.5h3.1v3.1h-3.1zM270 50h3.1v3.1h-3.1zM272.5 52.5h3.1v3.1h-3.1zM275 55h5.6v3.1h-5.6zM150 122.5h8.1v3.1h-8.1zM147.5 125h5.6v3.1h-5.6zM157.5 125h3.1v3.1h-3.1zM147.5 127.5h5.6v3.1h-5.6zM157.5 127.5h3.1v3.1h-3.1zM147.5 130h5.6v3.1h-5.6zM160 130h3.1v3.1h-3.1zM190 130h5.6v3.1h-5.6zM147.5 132.5h5.6v3.1h-5.6zM165 132.5h5.6v3.1h-5.6zM190 132.5h5.6v3.1h-5.6zM147.5 135h5.6v3.1h-5.6zM167.5 135h5.6v3.1h-5.6zM187.5 135h5.6v3.1h-5.6zM195 135h3.1v3.1h-3.1zM147.5 137.5h5.6v3.1h-5.6zM167.5 137.5h23.1v3.1h-23.1zM195 137.5h3.1v3.1h-3.1zM147.5 140h5.6v3.1h-5.6zM170 140h18.1v3.1h-18.1zM147.5 142.5h5.6v3.1h-5.6zM147.5 145h3.1v3.1h-3.1zM147.5 147.5h3.1v3.1h-3.1zM147.5 150h3.1v3.1h-3.1zM147.5 152.5h3.1v3.1h-3.1zM145 157.5h3.1v3.1h-3.1zM142.5 160h5.6v3.1h-5.6zM142.5 162.5h3.1v3.1h-3.1zM142.5 165h3.1v3.1h-3.1zM142.5 167.5h3.1v3.1h-3.1zM142.5 170h3.1v3.1h-3.1zM200 170h3.1v3.1h-3.1zM212.5 170h3.1v3.1h-3.1zM225 170h8.1v3.1h-8.1zM142.5 172.5h3.1v3.1h-3.1zM202.5 172.5h8.1v3.1h-8.1zM235 172.5h5.6v3.1h-5.6zM142.5 175h3.1v3.1h-3.1zM237.5 175h5.6v3.1h-5.6zM145 177.5h3.1v3.1h-3.1zM240 177.5h5.6v3.1h-5.6zM145 180h3.1v3.1h-3.1zM242.5 180h8.1v3.1h-8.1zM147.5 182.5h3.1v3.1h-3.1zM245 182.5h5.6v3.1h-5.6zM147.5 185h3.1v3.1h-3.1zM247.5 185h5.6v3.1h-5.6zM95 187.5h3.1v3.1h-3.1zM147.5 187.5h3.1v3.1h-3.1zM247.5 187.5h5.6v3.1h-5.6zM102.5 190h3.1v3.1h-3.1zM150 190h3.1v3.1h-3.1zM247.5 190h5.6v3.1h-5.6zM110 192.5h5.6v3.1h-5.6zM150 192.5h5.6v3.1h-5.6zM247.5 192.5h5.6v3.1h-5.6zM115 195h5.6v3.1h-5.6zM152.5 195h3.1v3.1h-3.1zM245 195h5.6v3.1h-5.6zM117.5 197.5h5.6v3.1h-5.6zM152.5 197.5h5.6v3.1h-5.6zM242.5 197.5h5.6v3.1h-5.6zM120 200h5.6v3.1h-5.6zM155 200h5.6v3.1h-5.6zM235 200h10.6v3.1h-10.6zM122.5 202.5h5.6v3.1h-5.6zM157.5 202.5h5.6v3.1h-5.6zM227.5 202.5h5.6v3.1h-5.6zM127.5 205h5.6v3.1h-5.6zM162.5 205h3.1v3.1h-3.1zM227.5 205h5.6v3.1h-5.6zM132.5 207.5h5.6v3.1h-5.6zM227.5 207.5h18.1v3.1h-18.1zM267.5 207.5h3.1v3.1h-3.1zM230 210h18.1v3.1h-18.1zM265 210h3.1v3.1h-3.1zM242.5 212.5h3.1v3.1h-3.1zM240 215h3.1v3.1h-3.1zM160 217.5h3.1v3.1h-3.1zM232.5 217.5h3.1v3.1h-3.1zM255 217.5h3.1v3.1h-3.1zM167.5 220h3.1v3.1h-3.1zM200 220h5.6v3.1h-5.6zM225 220h5.6v3.1h-5.6zM175 222.5h3.1v3.1h-3.1zM182.5 225h3.1v3.1h-3.1zM192.5 227.5h3.1v3.1h-3.1zM207.5 230h3.1v3.1h-3.1zM220 230h3.1v3.1h-3.1z"/>
<path fill="#c73e4c" d="M160 0h3.1v3.1h-3.1zM160 2.5h3.1v3.1h-3.1zM180 15h3.1v3.1h-3.1zM182.5 17.5h3.1v3.1h-3.1zM202.5 20h3.1v3.1h-3.1zM215 20h5.6v3.1h-5.6zM192.5 22.5h5.6v3.1h-5.6zM222.5 22.5h5.6v3.1h-5.6zM230 25h5.6v3.1h-5.6zM245 27.5h3.1v3.1h-3.1zM250 32.5h3.1v3.1h-3.1zM252.5 35h3.1v3.1h-3.1zM255 37.5h3.1v3.1h-3.1zM260 42.5h3.1v3.1h-3.1zM262.5 45h3.1v3.1h-3.1zM265 47.5h3.1v3.1h-3.1zM267.5 50h3.1v3.1h-3.1zM270 52.5h3.1v3.1h-3.1zM272.5 55h3.1v3.1h-3.1zM275 57.5h5.6v3.1h-5.6zM152.5 120h5.6v3.1h-5.6zM147.5 122.5h3.1v3.1h-3.1zM157.5 122.5h3.1v3.1h-3.1zM192.5 122.5h3.1v3.1h-3.1zM145 125h3.1v3.1h-3.1zM160 125h3.1v3.1h-3.1zM185 125h10.6v3.1h-10.6zM145 127.5h3.1v3.1h-3.1zM160 127.5h3.1v3.1h-3.1zM185 127.5h10.6v3.1h-10.6zM145 130h3.1v3.1h-3.1zM162.5 130h8.1v3.1h-8.1zM182.5 130h8.1v3.1h-8.1zM195 130h3.1v3.1h-3.1zM145 132.5h3.1v3.1h-3.1zM170 132.5h5.6v3.1h-5.6zM180 132.5h10.6v3.1h-10.6zM195 132.5h3.1v3.1h-3.1zM145 135h3.1v3.1h-3.1zM172.5 135h15.6v3.1h-15.6zM145 137.5h3.1v3.1h-3.1zM145 140h3.1v3.1h-3.1zM145 142.5h3.1v3.1h-3.1zM145 145h3.1v3.1h-3.1zM145 147.5h3.1v3.1h-3.1zM145 150h3.1v3.1h-3.1zM145 152.5h3.1v3.1h-3.1zM142.5 155h5.6v3.1h-5.6zM142.5 157.5h3.1v3.1h-3.1zM140 162.5h3.1v3.1h-3.1zM140 165h3.1v3.1h-3.1zM140 167.5h3.1v3.1h-3.1zM215 167.5h15.6v3.1h-15.6zM140 170h3.1v3.1h-3.1zM210 170h3.1v3.1h-3.1zM232.5 170h8.1v3.1h-8.1zM140 172.5h3.1v3.1h-3.1zM240 172.5h5.6v3.1h-5.6zM140 175h3.1v3.1h-3.1zM242.5 175h13.1v3.1h-13.1zM142.5 177.5h3.1v3.1h-3.1zM245 177.5h10.6v3.1h-10.6zM142.5 180h3.1v3.1h-3.1zM250 180h5.6v3.1h-5.6zM145 182.5h3.1v3.1h-3.1zM250 182.5h5.6v3.1h-5.6zM90 185h5.6v3.1h-5.6zM145 185h3.1v3.1h-3.1zM252.5 185h3.1v3.1h-3.1zM97.5 187.5h3.1v3.1h-3.1zM145 187.5h3.1v3.1h-3.1zM252.5 187.5h3.1v3.1h-3.1zM105 190h3.1v3.1h-3.1zM145 190h5.6v3.1h-5.6zM252.5 190h3.1v3.1h-3.1zM115 192.5h3.1v3.1h-3.1zM147.5 192.5h3.1v3.1h-3.1zM252.5 192.5h3.1v3.1h-3.1zM120 195h3.1v3.1h-3.1zM147.5 195h5.6v3.1h-5.6zM250 195h5.6v3.1h-5.6zM122.5 197.5h3.1v3.1h-3.1zM147.5 197.5h5.6v3.1h-5.6zM247.5 197.5h5.6v3.1h-5.6zM125 200h3.1v3.1h-3.1zM152.5 200h3.1v3.1h-3.1zM245 200h5.6v3.1h-5.6zM127.5 202.5h3.1v3.1h-3.1zM232.5 202.5h15.6v3.1h-15.6zM272.5 202.5h8.1v3.1h-8.1zM132.5 205h3.1v3.1h-3.1zM232.5 205h15.6v3.1h-15.6zM270 205h3.1v3.1h-3.1zM137.5 207.5h3.1v3.1h-3.1zM165 207.5h3.1v3.1h-3.1zM245 207.5h5.6v3.1h-5.6zM142.5 210h3.1v3.1h-3.1zM170 210h3.1v3.1h-3.1zM155 215h3.1v3.1h-3.1zM182.5 215h3.1v3.1h-3.1zM190 217.5h3.1v3.1h-3.1zM235 217.5h3.1v3.1h-3.1zM197.5 220h3.1v3.1h-3.1zM240 225h3.1v3.1h-3.1zM232.5 227.5h3.1v3.1h-3.1zM210 230h3.1v3.1h-3.1zM217.5 230h3.1v3.1h-3.1z"/>
<path fill="#ce4347" d="M160 5h3.1v3.1h-3.1zM162.5 7.5h3.1v3.1h-3.1zM170 10h3.1v3.1h-3.1zM187.5 20h3.1v3.1h-3.1zM205 20h10.6v3.1h-10.6zM197.5 22.5h5.6v3.1h-5.6zM217.5 22.5h5.6v3.1h-5.6zM225 25h5.6v3.1h-5.6zM232.5 27.5h13.1v3.1h-13.1zM247.5 30h3.1v3.1h-3.1zM257.5 40h3.1v3.1h-3.1zM262.5 47.5h3.1v3.1h-3.1zM265 50h3.1v3.1h-3.1zM267.5 52.5h3.1v3.1h-3.1zM270 55h3.1v3.1h-3.1zM272.5 57.5h3.1v3.1h-3.1zM275 60h5.6v3.1h-5.6zM152.5 65h3.1v3.1h-3.1zM152.5 67.5h3.1v3.1h-3.1zM152.5 70h3.1v3.1h-3.1zM152.5 72.5h3.1v3.1h-3.1zM152.5 75h3.1v3.1h-3.1zM152.5 77.5h3.1v3.1h-3.1zM152.5 80h3.1v3.1h-3.1zM152.5 82.5h3.1v3.1h-3.1zM192.5 115h5.6v3.1h-5.6zM152.5 117.5h3.1v3.1h-3.1zM190 117.5h5.6v3.1h-5.6zM147.5 120h5.6v3.1h-5.6zM157.5 120h3.1v3.1h-3.1zM185 120h10.6v3.1h-10.6zM145 122.5h3.1v3.1h-3.1zM160 122.5h3.1v3.1h-3.1zM182.5 122.5h10.6v3.1h-10.6zM142.5 125h3.1v3.1h-3.1zM180 125h5.6v3.1h-5.6zM195 125h3.1v3.1h-3.1zM142.5 127.5h3.1v3.1h-3.1zM162.5 127.5h8.1v3.1h-8.1zM177.5 127.5h8.1v3.1h-8.1zM195 127.5h3.1v3.1h-3.1zM142.5 130h3.1v3.1h-3.1zM170 130h13.1v3.1h-13.1zM142.5 132.5h3.1v3.1h-3.1zM175 132.5h5.6v3.1h-5.6zM142.5 135h3.1v3.1h-3.1zM142.5 137.5h3.1v3.1h-3.1zM142.5 140h3.1v3.1h-3.1zM142.5 142.5h3.1v3.1h-3.1zM142.5 145h3.1v3.1h-3.1zM142.5 147.5h3.1v3.1h-3.1zM142.5 150h3.1v3.1h-3.1zM142.5 152.5h3.1v3.1h-3.1zM140 155h3.1v3.1h-3.1zM140 157.5h3.1v3.1h-3.1zM140 160h3.1v3.1h-3.1zM137.5 162.5h3.1v3.1h-3.1zM197.5 162.5h3.1v3.1h-3.1zM137.5 165h3.1v3.1h-3.1zM137.5 167.5h3.1v3.1h-3.1zM200 167.5h3.1v3.1h-3.1zM212.5 167.5h3.1v3.1h-3.1zM230 167.5h10.6v3.1h-10.6zM137.5 170h3.1v3.1h-3.1zM240 170h5.6v3.1h-5.6zM137.5 172.5h3.1v3.1h-3.1zM245 172.5h10.6v3.1h-10.6zM255 175h5.6v3.1h-5.6zM140 177.5h3.1v3.1h-3.1zM255 177.5h5.6v3.1h-5.6zM255 180h5.6v3.1h-5.6zM142.5 182.5h3.1v3.1h-3.1zM255 182.5h5.6v3.1h-5.6zM95 185h3.1v3.1h-3.1zM142.5 185h3.1v3.1h-3.1zM255 185h3.1v3.1h-3.1zM100 187.5h3.1v3.1h-3.1zM142.5 187.5h3.1v3.1h-3.1zM255 187.5h3.1v3.1h-3.1zM107.5 190h5.6v3.1h-5.6zM142.5 190h3.1v3.1h-3.1zM255 190h3.1v3.1h-3.1zM142.5 192.5h5.6v3.1h-5.6zM255 192.5h3.1v3.1h-3.1zM142.5 195h5.6v3.1h-5.6zM255 195h3.1v3.1h-3.1zM145 197.5h3.1v3.1h-3.1zM252.5 197.5h3.1v3.1h-3.1zM150 200h3.1v3.1h-3.1zM250 200h3.1v3.1h-3.1zM130 202.5h3.1v3.1h-3.1zM155 202.5h3.1v3.1h-3.1zM247.5 202.5h3.1v3.1h-3.1zM160 205h3.1v3.1h-3.1zM247.5 205h5.6v3.1h-5.6zM250 207.5h3.1v3.1h-3.1zM247.5 210h3.1v3.1h-3.1zM150 212.5h3.1v3.1h-3.1zM175 212.5h3.1v3.1h-3.1zM162.5 217.5h3.1v3.1h-3.1zM187.5 217.5h3.1v3.1h-3.1zM230 220h3.1v3.1h-3.1zM250 220h3.1v3.1h-3.1zM177.5 222.5h3.1v3.1h-3.1zM210 222.5h10.6v3.1h-10.6zM185 225h3.1v3.1h-3.1zM195 227.5h3.1v3.1h-3.1zM212.5 230h5.6v3.1h-5.6z"/>
<path fill="#d54a41" d="M167.5 10h3.1v3.1h-3.1zM175 12.5h3.1v3.1h-3.1zM177.5 15h3.1v3.1h-3.1zM180 17.5h3.1v3.1h-3.1zM185 20h3.1v3.1h-3.1zM190 22.5h3.1v3.1h-3.1zM202.5 22.5h15.6v3.1h-15.6zM195 25h3.1v3.1h-3.1zM222.5 25h3.1v3.1h-3.1zM230 27.5h3.1v3.1h-3.1zM245 30h3.1v3.1h-3.1zM247.5 32.5h3.1v3.1h-3.1zM250 35h3.1v3.1h-3.1zM252.5 37.5h3.1v3.1h-3.1zM255 40h3.1v3.1h-3.1zM257.5 42.5h3.1v3.1h-3.1zM260 45h3.1v3.1h-3.1zM262.5 50h3.1v3.1h-3.1zM265 52.5h3.1v3.1h-3.1zM267.5 55h3.1v3.1h-3.1zM270 57.5h3.1v3.1h-3.1zM272.5 60h3.1v3.1h-3.1zM152.5 62.5h3.1v3.1h-3.1zM155 65h3.1v3.1h-3.1zM155 67.5h3.1v3.1h-3.1zM155 70h3.1v3.1h-3.1zM155 72.5h3.1v3.1h-3.1zM155 75h3.1v3.1h-3.1zM155 77.5h3.1v3.1h-3.1zM155 80h3.1v3.1h-3.1zM155 82.5h3.1v3.1h-3.1zM152.5 85h5.6v3.1h-5.6zM152.5 87.5h3.1v3.1h-3.1zM190 112.5h8.1v3.1h-8.1zM187.5 115h5.6v3.1h-5.6zM150 117.5h3.1v3.1h-3.1zM155 117.5h5.6v3.1h-5.6zM182.5 117.5h8.1v3.1h-8.1zM195 117.5h3.1v3.1h-3.1zM145 120h3.1v3.1h-3.1zM160 120h3.1v3.1h-3.1zM180 120h5.6v3.1h-5.6zM195 120h3.1v3.1h-3.1zM142.5 122.5h3.1v3.1h-3.1zM162.5 122.5h3.1v3.1h-3.1zM177.5 122.5h5.6v3.1h-5.6zM195 122.5h3.1v3.1h-3.1zM140 125h3.1v3.1h-3.1zM162.5 125h18.1v3.1h-18.1zM140 127.5h3.1v3.1h-3.1zM170 127.5h8.1v3.1h-8.1zM140 130h3.1v3.1h-3.1zM140 132.5h3.1v3.1h-3.1zM140 135h3.1v3.1h-3.1zM197.5 135h3.1v3.1h-3.1zM140 137.5h3.1v3.1h-3.1zM197.5 137.5h3.1v3.1h-3.1zM140 140h3.1v3.1h-3.1zM140 142.5h3.1v3.1h-3.1zM140 145h3.1v3.1h-3.1zM140 147.5h3.1v3.1h-3.1zM140 150h3.1v3.1h-3.1zM137.5 152.5h5.6v3.1h-5.6zM137.5 155h3.1v3.1h-3.1zM137.5 157.5h3.1v3.1h-3.1zM137.5 160h3.1v3.1h-3.1zM215 165h30.6v3.1h-30.6zM240 167.5h8.1v3.1h-8.1zM202.5 170h3.1v3.1h-3.1zM207.5 170h3.1v3.1h-3.1zM245 170h8.1v3.1h-8.1zM255 172.5h5.6v3.1h-5.6zM137.5 175h3.1v3.1h-3.1zM260 175h5.6v3.1h-5.6zM137.5 177.5h3.1v3.1h-3.1zM260 177.5h5.6v3.1h-5.6zM140 180h3.1v3.1h-3.1zM260 180h5.6v3.1h-5.6zM90 182.5h8.1v3.1h-8.1zM140 182.5h3.1v3.1h-3.1zM260 182.5h5.6v3.1h-5.6zM97.5 185h3.1v3.1h-3.1zM257.5 185h5.6v3.1h-5.6zM102.5 187.5h5.6v3.1h-5.6zM140 187.5h3.1v3.1h-3.1zM257.5 187.5h3.1v3.1h-3.1zM112.5 190h3.1v3.1h-3.1zM140 190h3.1v3.1h-3.1zM257.5 190h3.1v3.1h-3.1zM117.5 192.5h3.1v3.1h-3.1zM140 192.5h3.1v3.1h-3.1zM255 197.5h3.1v3.1h-3.1zM252.5 200h5.6v3.1h-5.6zM250 202.5h5.6v3.1h-5.6zM252.5 205h3.1v3.1h-3.1zM245 212.5h3.1v3.1h-3.1zM180 215h3.1v3.1h-3.1zM242.5 215h3.1v3.1h-3.1zM185 217.5h3.1v3.1h-3.1zM237.5 217.5h3.1v3.1h-3.1zM170 220h3.1v3.1h-3.1zM192.5 220h5.6v3.1h-5.6zM205 222.5h5.6v3.1h-5.6zM220 222.5h5.6v3.1h-5.6zM245 222.5h3.1v3.1h-3.1zM187.5 225h3.1v3.1h-3.1zM237.5 225h3.1v3.1h-3.1zM197.5 227.5h3.1v3.1h-3.1zM227.5 227.5h5.6v3.1h-5.6z"/>
<path fill="#db503b" d="M165 10h3.1v3.1h-3.1zM182.5 20h3.1v3.1h-3.1zM192.5 25h3.1v3.1h-3.1zM197.5 25h5.6v3.1h-5.6zM217.5 25h5.6v3.1h-5.6zM225 27.5h5.6v3.1h-5.6zM232.5 30h13.1v3.1h-13.1zM250 37.5h3.1v3.1h-3.1zM257.5 45h3.1v3.1h-3.1zM260 47.5h3.1v3.1h-3.1zM262.5 52.5h3.1v3.1h-3.1zM265 55h3.1v3.1h-3.1zM267.5 57.5h3.1v3.1h-3.1zM270 60h3.1v3.1h-3.1zM150 62.5h3.1v3.1h-3.1zM155 62.5h3.1v3.1h-3.1zM272.5 62.5h8.1v3.1h-8.1zM150 65h3.1v3.1h-3.1zM150 67.5h3.1v3.1h-3.1zM150 70h3.1v3.1h-3.1zM150 72.5h3.1v3.1h-3.1zM150 75h3.1v3.1h-3.1zM150 77.5h3.1v3.1h-3.1zM150 80h3.1v3.1h-3.1zM150 82.5h3.1v3.1h-3.1zM150 85h3.1v3.1h-3.1zM150 87.5h3.1v3.1h-3.1zM155 87.5h3.1v3.1h-3.1zM152.5 90h5.6v3.1h-5.6zM152.5 92.5h3.1v3.1h-3.1zM155 105h3.1v3.1h-3.1zM155 107.5h3.1v3.1h-3.1zM155 110h3.1v3.1h-3.1zM190 110h8.1v3.1h-8.1zM155 112.5h3.1v3.1h-3.1zM185 112.5h5.6v3.1h-5.6zM197.5 112.5h3.1v3.1h-3.1zM150 115h8.1v3.1h-8.1zM182.5 115h5.6v3.1h-5.6zM197.5 115h3.1v3.1h-3.1zM145 117.5h5.6v3.1h-5.6zM160 117.5h3.1v3.1h-3.1zM180 117.5h3.1v3.1h-3.1zM197.5 117.5h3.1v3.1h-3.1zM142.5 120h3.1v3.1h-3.1zM162.5 120h3.1v3.1h-3.1zM175 120h5.6v3.1h-5.6zM140 122.5h3.1v3.1h-3.1zM165 122.5h13.1v3.1h-13.1zM197.5 130h3.1v3.1h-3.1zM197.5 132.5h3.1v3.1h-3.1zM137.5 145h3.1v3.1h-3.1zM137.5 147.5h3.1v3.1h-3.1zM137.5 150h3.1v3.1h-3.1zM135 152.5h3.1v3.1h-3.1zM135 155h3.1v3.1h-3.1zM135 157.5h3.1v3.1h-3.1zM135 160h3.1v3.1h-3.1zM197.5 160h3.1v3.1h-3.1zM135 162.5h3.1v3.1h-3.1zM215 162.5h30.6v3.1h-30.6zM135 165h3.1v3.1h-3.1zM212.5 165h3.1v3.1h-3.1zM245 165h3.1v3.1h-3.1zM135 167.5h3.1v3.1h-3.1zM210 167.5h3.1v3.1h-3.1zM247.5 167.5h3.1v3.1h-3.1zM135 170h3.1v3.1h-3.1zM205 170h3.1v3.1h-3.1zM252.5 170h5.6v3.1h-5.6zM135 172.5h3.1v3.1h-3.1zM260 172.5h5.6v3.1h-5.6zM135 175h3.1v3.1h-3.1zM90 180h5.6v3.1h-5.6zM137.5 180h3.1v3.1h-3.1zM97.5 182.5h3.1v3.1h-3.1zM100 185h3.1v3.1h-3.1zM140 185h3.1v3.1h-3.1zM262.5 185h3.1v3.1h-3.1zM107.5 187.5h3.1v3.1h-3.1zM137.5 187.5h3.1v3.1h-3.1zM260 187.5h3.1v3.1h-3.1zM115 190h3.1v3.1h-3.1zM137.5 190h3.1v3.1h-3.1zM137.5 192.5h3.1v3.1h-3.1zM257.5 192.5h3.1v3.1h-3.1zM257.5 195h3.1v3.1h-3.1zM257.5 197.5h3.1v3.1h-3.1zM127.5 200h3.1v3.1h-3.1zM147.5 200h3.1v3.1h-3.1zM275 200h5.6v3.1h-5.6zM152.5 202.5h3.1v3.1h-3.1zM255 202.5h3.1v3.1h-3.1zM135 205h3.1v3.1h-3.1zM157.5 205h3.1v3.1h-3.1zM162.5 207.5h3.1v3.1h-3.1zM145 210h3.1v3.1h-3.1zM167.5 210h3.1v3.1h-3.1zM172.5 212.5h3.1v3.1h-3.1zM260 212.5h3.1v3.1h-3.1zM157.5 215h3.1v3.1h-3.1zM257.5 215h3.1v3.1h-3.1zM182.5 217.5h3.1v3.1h-3.1zM240 217.5h3.1v3.1h-3.1zM172.5 220h3.1v3.1h-3.1zM185 220h8.1v3.1h-8.1zM232.5 220h3.1v3.1h-3.1zM180 222.5h25.6v3.1h-25.6zM225 222.5h8.1v3.1h-8.1zM190 225h48.1v3.1h-48.1zM200 227.5h28.1v3.1h-28.1z"/>
<path fill="#e15635" d="M157.5 0h3.1v3.1h-3.1zM157.5 2.5h3.1v3.1h-3.1zM160 7.5h3.1v3.1h-3.1zM172.5 12.5h3.1v3.1h-3.1zM177.5 17.5h3.1v3.1h-3.1zM187.5 22.5h3.1v3.1h-3.1zM190 25h3.1v3.1h-3.1zM202.5 25h15.6v3.1h-15.6zM192.5 27.5h8.1v3.1h-8.1zM220 27.5h5.6v3.1h-5.6zM227.5 30h5.6v3.1h-5.6zM245 32.5h3.1v3.1h-3.1zM247.5 35h3.1v3.1h-3.1zM252.5 40h3.1v3.1h-3.1zM255 42.5h3.1v3.1h-3.1zM257.5 47.5h3.1v3.1h-3.1zM260 50h3.1v3.1h-3.1zM260 52.5h3.1v3.1h-3.1zM262.5 55h3.1v3.1h-3.1zM265 57.5h3.1v3.1h-3.1zM152.5 60h5.6v3.1h-5.6zM267.5 60h3.1v3.1h-3.1zM147.5 62.5h3.1v3.1h-3.1zM157.5 62.5h3.1v3.1h-3.1zM270 62.5h3.1v3.1h-3.1zM147.5 65h3.1v3.1h-3.1zM157.5 65h3.1v3.1h-3.1zM272.5 65h8.1v3.1h-8.1zM147.5 67.5h3.1v3.1h-3.1zM157.5 67.5h3.1v3.1h-3.1zM147.5 70h3.1v3.1h-3.1zM157.5 70h3.1v3.1h-3.1zM147.5 72.5h3.1v3.1h-3.1zM157.5 72.5h3.1v3.1h-3.1zM147.5 75h3.1v3.1h-3.1zM157.5 75h3.1v3.1h-3.1zM147.5 77.5h3.1v3.1h-3.1zM157.5 77.5h3.1v3.1h-3.1zM147.5 80h3.1v3.1h-3.1zM157.5 80h3.1v3.1h-3.1zM147.5 82.5h3.1v3.1h-3.1zM157.5 82.5h3.1v3.1h-3.1zM147.5 85h3.1v3.1h-3.1zM157.5 85h3.1v3.1h-3.1zM150 90h3.1v3.1h-3.1zM155 92.5h3.1v3.1h-3.1zM152.5 95h5.6v3.1h-5.6zM152.5 97.5h5.6v3.1h-5.6zM152.5 100h8.1v3.1h-8.1zM152.5 102.5h8.1v3.1h-8.1zM152.5 105h3.1v3.1h-3.1zM157.5 105h3.1v3.1h-3.1zM152.5 107.5h3.1v3.1h-3.1zM157.5 107.5h3.1v3.1h-3.1zM187.5 107.5h10.6v3.1h-10.6zM150 110h5.6v3.1h-5.6zM157.5 110h3.1v3.1h-3.1zM182.5 110h8.1v3.1h-8.1zM197.5 110h3.1v3.1h-3.1zM150 112.5h5.6v3.1h-5.6zM157.5 112.5h3.1v3.1h-3.1zM180 112.5h5.6v3.1h-5.6zM200 112.5h3.1v3.1h-3.1zM147.5 115h3.1v3.1h-3.1zM157.5 115h5.6v3.1h-5.6zM177.5 115h5.6v3.1h-5.6zM200 115h3.1v3.1h-3.1zM142.5 117.5h3.1v3.1h-3.1zM162.5 117.5h18.1v3.1h-18.1zM140 120h3.1v3.1h-3.1zM165 120h10.6v3.1h-10.6zM197.5 120h3.1v3.1h-3.1zM137.5 122.5h3.1v3.1h-3.1zM197.5 122.5h3.1v3.1h-3.1zM137.5 125h3.1v3.1h-3.1zM197.5 125h3.1v3.1h-3.1zM137.5 127.5h3.1v3.1h-3.1zM197.5 127.5h3.1v3.1h-3.1zM137.5 130h3.1v3.1h-3.1zM137.5 132.5h3.1v3.1h-3.1zM137.5 135h3.1v3.1h-3.1zM137.5 137.5h3.1v3.1h-3.1zM137.5 140h3.1v3.1h-3.1zM197.5 140h3.1v3.1h-3.1zM137.5 142.5h3.1v3.1h-3.1zM197.5 142.5h3.1v3.1h-3.1zM197.5 145h3.1v3.1h-3.1zM135 147.5h3.1v3.1h-3.1zM197.5 147.5h3.1v3.1h-3.1zM132.5 150h5.6v3.1h-5.6zM130 152.5h5.6v3.1h-5.6zM130 155h5.6v3.1h-5.6zM130 157.5h5.6v3.1h-5.6zM197.5 157.5h3.1v3.1h-3.1zM132.5 160h3.1v3.1h-3.1zM132.5 162.5h3.1v3.1h-3.1zM245 162.5h3.1v3.1h-3.1zM132.5 165h3.1v3.1h-3.1zM247.5 165h3.1v3.1h-3.1zM132.5 167.5h3.1v3.1h-3.1zM207.5 167.5h3.1v3.1h-3.1zM250 167.5h3.1v3.1h-3.1zM130 170h5.6v3.1h-5.6zM257.5 170h8.1v3.1h-8.1zM130 172.5h5.6v3.1h-5.6zM265 172.5h3.1v3.1h-3.1zM132.5 175h3.1v3.1h-3.1zM265 175h3.1v3.1h-3.1zM135 177.5h3.1v3.1h-3.1zM265 177.5h3.1v3.1h-3.1zM95 180h3.1v3.1h-3.1zM135 180h3.1v3.1h-3.1zM265 180h3.1v3.1h-3.1zM100 182.5h3.1v3.1h-3.1zM137.5 182.5h3.1v3.1h-3.1zM265 182.5h3.1v3.1h-3.1zM102.5 185h3.1v3.1h-3.1zM137.5 185h3.1v3.1h-3.1zM110 187.5h3.1v3.1h-3.1zM135 187.5h3.1v3.1h-3.1zM262.5 187.5h3.1v3.1h-3.1zM135 190h3.1v3.1h-3.1zM260 190h3.1v3.1h-3.1zM140 195h3.1v3.1h-3.1zM125 197.5h3.1v3.1h-3.1zM257.5 200h3.1v3.1h-3.1zM272.5 200h3.1v3.1h-3.1zM270 202.5h3.1v3.1h-3.1zM267.5 205h3.1v3.1h-3.1zM140 207.5h3.1v3.1h-3.1zM265 207.5h3.1v3.1h-3.1zM250 210h3.1v3.1h-3.1zM262.5 210h3.1v3.1h-3.1zM152.5 212.5h3.1v3.1h-3.1zM177.5 215h3.1v3.1h-3.1zM165 217.5h3.1v3.1h-3.1zM177.5 217.5h5.6v3.1h-5.6zM252.5 217.5h3.1v3.1h-3.1zM175 220h10.6v3.1h-10.6zM235 220h8.1v3.1h-8.1zM247.5 220h3.1v3.1h-3.1zM232.5 222.5h13.1v3.1h-13.1z"/>
<path fill="#e75e2e" d="M157.5 5h3.1v3.1h-3.1zM162.5 10h3.1v3.1h-3.1zM170 12.5h3.1v3.1h-3.1zM175 15h3.1v3.1h-3.1zM180 20h3.1v3.1h-3.1zM185 22.5h3.1v3.1h-3.1zM190 27.5h3.1v3.1h-3.1zM200 27.5h3.1v3.1h-3.1zM217.5 27.5h3.1v3.1h-3.1zM225 30h3.1v3.1h-3.1zM232.5 32.5h13.1v3.1h-13.1zM245 35h3.1v3.1h-3.1zM247.5 37.5h3.1v3.1h-3.1zM250 40h3.1v3.1h-3.1zM252.5 42.5h3.1v3.1h-3.1zM255 45h3.1v3.1h-3.1zM257.5 50h3.1v3.1h-3.1zM152.5 57.5h3.1v3.1h-3.1zM147.5 60h5.6v3.1h-5.6zM157.5 60h3.1v3.1h-3.1zM145 62.5h3.1v3.1h-3.1zM145 65h3.1v3.1h-3.1zM160 65h3.1v3.1h-3.1zM145 67.5h3.1v3.1h-3.1zM275 67.5h5.6v3.1h-5.6zM145 70h3.1v3.1h-3.1zM145 72.5h3.1v3.1h-3.1zM145 75h3.1v3.1h-3.1zM145 77.5h3.1v3.1h-3.1zM145 80h3.1v3.1h-3.1zM145 82.5h3.1v3.1h-3.1zM145 85h3.1v3.1h-3.1zM147.5 87.5h3.1v3.1h-3.1zM157.5 87.5h3.1v3.1h-3.1zM147.5 90h3.1v3.1h-3.1zM157.5 90h3.1v3.1h-3.1zM150 92.5h3.1v3.1h-3.1zM157.5 92.5h3.1v3.1h-3.1zM150 95h3.1v3.1h-3.1zM157.5 95h3.1v3.1h-3.1zM150 97.5h3.1v3.1h-3.1zM157.5 97.5h3.1v3.1h-3.1zM150 100h3.1v3.1h-3.1zM160 100h3.1v3.1h-3.1zM150 102.5h3.1v3.1h-3.1zM160 102.5h3.1v3.1h-3.1zM150 105h3.1v3.1h-3.1zM160 105h5.6v3.1h-5.6zM177.5 105h20.6v3.1h-20.6zM150 107.5h3.1v3.1h-3.1zM160 107.5h5.6v3.1h-5.6zM175 107.5h13.1v3.1h-13.1zM197.5 107.5h3.1v3.1h-3.1zM147.5 110h3.1v3.1h-3.1zM160 110h5.6v3.1h-5.6zM175 110h8.1v3.1h-8.1zM200 110h3.1v3.1h-3.1zM147.5 112.5h3.1v3.1h-3.1zM160 112.5h5.6v3.1h-5.6zM175 112.5h5.6v3.1h-5.6zM202.5 112.5h3.1v3.1h-3.1zM142.5 115h5.6v3.1h-5.6zM162.5 115h15.6v3.1h-15.6zM202.5 115h3.1v3.1h-3.1zM140 117.5h3.1v3.1h-3.1zM200 117.5h3.1v3.1h-3.1zM137.5 120h3.1v3.1h-3.1zM135 122.5h3.1v3.1h-3.1zM135 125h3.1v3.1h-3.1zM135 127.5h3.1v3.1h-3.1zM135 130h3.1v3.1h-3.1zM135 132.5h3.1v3.1h-3.1zM135 135h3.1v3.1h-3.1zM135 137.5h3.1v3.1h-3.1zM135 140h3.1v3.1h-3.1zM135 142.5h3.1v3.1h-3.1zM127.5 145h10.6v3.1h-10.6zM125 147.5h10.6v3.1h-10.6zM125 150h8.1v3.1h-8.1zM197.5 150h3.1v3.1h-3.1zM125 152.5h5.6v3.1h-5.6zM197.5 152.5h3.1v3.1h-3.1zM127.5 155h3.1v3.1h-3.1zM197.5 155h3.1v3.1h-3.1zM127.5 157.5h3.1v3.1h-3.1zM130 160h3.1v3.1h-3.1zM215 160h33.1v3.1h-33.1zM130 162.5h3.1v3.1h-3.1zM212.5 162.5h3.1v3.1h-3.1zM247.5 162.5h3.1v3.1h-3.1zM130 165h3.1v3.1h-3.1zM200 165h3.1v3.1h-3.1zM210 165h3.1v3.1h-3.1zM250 165h3.1v3.1h-3.1zM130 167.5h3.1v3.1h-3.1zM202.5 167.5h3.1v3.1h-3.1zM252.5 167.5h8.1v3.1h-8.1zM127.5 170h3.1v3.1h-3.1zM265 170h3.1v3.1h-3.1zM127.5 172.5h3.1v3.1h-3.1zM127.5 175h5.6v3.1h-5.6zM90 177.5h5.6v3.1h-5.6zM130 177.5h5.6v3.1h-5.6zM97.5 180h3.1v3.1h-3.1zM132.5 180h3.1v3.1h-3.1zM135 182.5h3.1v3.1h-3.1zM105 185h5.6v3.1h-5.6zM135 185h3.1v3.1h-3.1zM265 185h3.1v3.1h-3.1zM112.5 187.5h3.1v3.1h-3.1zM132.5 187.5h3.1v3.1h-3.1zM262.5 190h3.1v3.1h-3.1zM260 192.5h3.1v3.1h-3.1zM260 195h3.1v3.1h-3.1zM142.5 197.5h3.1v3.1h-3.1zM260 197.5h3.1v3.1h-3.1zM252.5 207.5h3.1v3.1h-3.1zM170 212.5h3.1v3.1h-3.1zM247.5 212.5h3.1v3.1h-3.1zM160 215h3.1v3.1h-3.1zM172.5 215h5.6v3.1h-5.6zM245 215h3.1v3.1h-3.1zM167.5 217.5h10.6v3.1h-10.6zM242.5 217.5h5.6v3.1h-5.6zM242.5 220h5.6v3.1h-5.6z"/>
<path fill="#eb6628" d="M160 10h3.1v3.1h-3.1zM167.5 12.5h3.1v3.1h-3.1zM175 17.5h3.1v3.1h-3.1zM182.5 22.5h3.1v3.1h-3.1zM187.5 25h3.1v3.1h-3.1zM187.5 27.5h3.1v3.1h-3.1zM202.5 27.5h15.6v3.1h-15.6zM192.5 30h10.6v3.1h-10.6zM220 30h5.6v3.1h-5.6zM227.5 32.5h5.6v3.1h-5.6zM235 35h10.6v3.1h-10.6zM247.5 40h3.1v3.1h-3.1zM252.5 45h3.1v3.1h-3.1zM255 47.5h3.1v3.1h-3.1zM255 50h3.1v3.1h-3.1zM257.5 52.5h3.1v3.1h-3.1zM260 55h3.1v3.1h-3.1zM147.5 57.5h5.6v3.1h-5.6zM155 57.5h3.1v3.1h-3.1zM262.5 57.5h3.1v3.1h-3.1zM145 60h3.1v3.1h-3.1zM265 60h3.1v3.1h-3.1zM142.5 62.5h3.1v3.1h-3.1zM160 62.5h3.1v3.1h-3.1zM182.5 62.5h3.1v3.1h-3.1zM267.5 62.5h3.1v3.1h-3.1zM142.5 65h3.1v3.1h-3.1zM180 65h8.1v3.1h-8.1zM270 65h3.1v3.1h-3.1zM142.5 67.5h3.1v3.1h-3.1zM160 67.5h3.1v3.1h-3.1zM180 67.5h8.1v3.1h-8.1zM272.5 67.5h3.1v3.1h-3.1zM142.5 70h3.1v3.1h-3.1zM160 70h3.1v3.1h-3.1zM180 70h8.1v3.1h-8.1zM275 70h5.6v3.1h-5.6zM142.5 72.5h3.1v3.1h-3.1zM180 72.5h8.1v3.1h-8.1zM142.5 75h3.1v3.1h-3.1zM180 75h8.1v3.1h-8.1zM142.5 77.5h3.1v3.1h-3.1zM180 77.5h8.1v3.1h-8.1zM142.5 80h3.1v3.1h-3.1zM180 80h8.1v3.1h-8.1zM142.5 82.5h3.1v3.1h-3.1zM180 82.5h8.1v3.1h-8.1zM180 85h8.1v3.1h-8.1zM145 87.5h3.1v3.1h-3.1zM177.5 87.5h10.6v3.1h-10.6zM145 90h3.1v3.1h-3.1zM160 90h3.1v3.1h-3.1zM175 90h13.1v3.1h-13.1zM147.5 92.5h3.1v3.1h-3.1zM160 92.5h3.1v3.1h-3.1zM172.5 92.5h15.6v3.1h-15.6zM147.5 95h3.1v3.1h-3.1zM160 95h3.1v3.1h-3.1zM170 95h18.1v3.1h-18.1zM147.5 97.5h3.1v3.1h-3.1zM160 97.5h3.1v3.1h-3.1zM167.5 97.5h20.6v3.1h-20.6zM147.5 100h3.1v3.1h-3.1zM162.5 100h28.1v3.1h-28.1zM147.5 102.5h3.1v3.1h-3.1zM162.5 102.5h35.6v3.1h-35.6zM147.5 105h3.1v3.1h-3.1zM165 105h13.1v3.1h-13.1zM197.5 105h3.1v3.1h-3.1zM147.5 107.5h3.1v3.1h-3.1zM165 107.5h10.6v3.1h-10.6zM200 107.5h3.1v3.1h-3.1zM145 110h3.1v3.1h-3.1zM165 110h10.6v3.1h-10.6zM202.5 110h3.1v3.1h-3.1zM142.5 112.5h5.6v3.1h-5.6zM165 112.5h10.6v3.1h-10.6zM202.5 117.5h3.1v3.1h-3.1zM200 120h3.1v3.1h-3.1zM132.5 122.5h3.1v3.1h-3.1zM200 122.5h3.1v3.1h-3.1zM130 125h5.6v3.1h-5.6zM200 125h3.1v3.1h-3.1zM130 127.5h5.6v3.1h-5.6zM200 127.5h3.1v3.1h-3.1zM130 130h5.6v3.1h-5.6zM200 130h3.1v3.1h-3.1zM130 132.5h5.6v3.1h-5.6zM200 132.5h3.1v3.1h-3.1zM130 135h5.6v3.1h-5.6zM200 135h3.1v3.1h-3.1zM127.5 137.5h8.1v3.1h-8.1zM125 140h10.6v3.1h-10.6zM122.5 142.5h13.1v3.1h-13.1zM120 145h8.1v3.1h-8.1zM120 147.5h5.6v3.1h-5.6zM120 150h5.6v3.1h-5.6zM120 152.5h5.6v3.1h-5.6zM122.5 155h5.6v3.1h-5.6zM125 157.5h3.1v3.1h-3.1zM215 157.5h33.1v3.1h-33.1zM127.5 160h3.1v3.1h-3.1zM212.5 160h3.1v3.1h-3.1zM247.5 160h3.1v3.1h-3.1zM127.5 162.5h3.1v3.1h-3.1zM250 162.5h3.1v3.1h-3.1zM127.5 165h3.1v3.1h-3.1zM252.5 165h3.1v3.1h-3.1zM127.5 167.5h3.1v3.1h-3.1zM205 167.5h3.1v3.1h-3.1zM260 167.5h8.1v3.1h-8.1zM125 170h3.1v3.1h-3.1zM122.5 172.5h5.6v3.1h-5.6zM267.5 172.5h3.1v3.1h-3.1zM125 175h3.1v3.1h-3.1zM267.5 175h3.1v3.1h-3.1zM95 177.5h5.6v3.1h-5.6zM127.5 177.5h3.1v3.1h-3.1zM267.5 177.5h3.1v3.1h-3.1zM100 180h3.1v3.1h-3.1zM130 180h3.1v3.1h-3.1zM267.5 180h3.1v3.1h-3.1zM102.5 182.5h5.6v3.1h-5.6zM132.5 182.5h3.1v3.1h-3.1zM132.5 185h3.1v3.1h-3.1zM265 187.5h3.1v3.1h-3.1zM122.5 195h3.1v3.1h-3.1zM275 197.5h5.6v3.1h-5.6zM132.5 202.5h3.1v3.1h-3.1zM150 202.5h3.1v3.1h-3.1zM155 205h3.1v3.1h-3.1zM255 205h3.1v3.1h-3.1zM160 207.5h3.1v3.1h-3.1zM147.5 210h3.1v3.1h-3.1zM165 210h3.1v3.1h-3.1zM155 212.5h3.1v3.1h-3.1zM167.5 212.5h3.1v3.1h-3.1zM162.5 215h10.6v3.1h-10.6zM247.5 215h3.1v3.1h-3.1zM255 215h3.1v3.1h-3.1zM247.5 217.5h5.6v3.1h-5.6z"/>
<path fill="#f06f20" d="M155 0h3.1v3.1h-3.1zM157.5 7.5h3.1v3.1h-3.1zM165 12.5h3.1v3.1h-3.1zM172.5 15h3.1v3.1h-3.1zM172.5 17.5h3.1v3.1h-3.1zM177.5 20h3.1v3.1h-3.1zM180 22.5h3.1v3.1h-3.1zM112.5 30h3.1v3.1h-3.1zM190 30h3.1v3.1h-3.1zM202.5 30h3.1v3.1h-3.1zM210 30h10.6v3.1h-10.6zM90 32.5h3.1v3.1h-3.1zM97.5 32.5h3.1v3.1h-3.1zM105 32.5h3.1v3.1h-3.1zM115 32.5h3.1v3.1h-3.1zM192.5 32.5h5.6v3.1h-5.6zM222.5 32.5h5.6v3.1h-5.6zM92.5 35h3.1v3.1h-3.1zM100 35h3.1v3.1h-3.1zM107.5 35h3.1v3.1h-3.1zM117.5 35h3.1v3.1h-3.1zM230 35h5.6v3.1h-5.6zM92.5 37.5h3.1v3.1h-3.1zM102.5 37.5h3.1v3.1h-3.1zM110 37.5h3.1v3.1h-3.1zM242.5 37.5h5.6v3.1h-5.6zM95 40h3.1v3.1h-3.1zM102.5 40h5.6v3.1h-5.6zM112.5 40h3.1v3.1h-3.1zM90 42.5h3.1v3.1h-3.1zM97.5 42.5h3.1v3.1h-3.1zM105 42.5h5.6v3.1h-5.6zM115 42.5h3.1v3.1h-3.1zM250 42.5h3.1v3.1h-3.1zM90 45h3.1v3.1h-3.1zM100 45h3.1v3.1h-3.1zM107.5 45h3.1v3.1h-3.1zM252.5 47.5h3.1v3.1h-3.1zM145 52.5h3.1v3.1h-3.1zM255 52.5h3.1v3.1h-3.1zM147.5 55h10.6v3.1h-10.6zM257.5 55h3.1v3.1h-3.1zM142.5 57.5h5.6v3.1h-5.6zM157.5 57.5h3.1v3.1h-3.1zM260 57.5h3.1v3.1h-3.1zM142.5 60h3.1v3.1h-3.1zM160 60h3.1v3.1h-3.1zM262.5 60h3.1v3.1h-3.1zM162.5 62.5h3.1v3.1h-3.1zM177.5 62.5h5.6v3.1h-5.6zM185 62.5h3.1v3.1h-3.1zM265 62.5h3.1v3.1h-3.1zM140 65h3.1v3.1h-3.1zM162.5 65h3.1v3.1h-3.1zM177.5 65h3.1v3.1h-3.1zM267.5 65h3.1v3.1h-3.1zM140 67.5h3.1v3.1h-3.1zM177.5 67.5h3.1v3.1h-3.1zM270 67.5h3.1v3.1h-3.1zM140 70h3.1v3.1h-3.1zM177.5 70h3.1v3.1h-3.1zM272.5 70h3.1v3.1h-3.1zM140 72.5h3.1v3.1h-3.1zM160 72.5h3.1v3.1h-3.1zM177.5 72.5h3.1v3.1h-3.1zM275 72.5h5.6v3.1h-5.6zM140 75h3.1v3.1h-3.1zM160 75h3.1v3.1h-3.1zM177.5 75h3.1v3.1h-3.1zM160 77.5h3.1v3.1h-3.1zM177.5 77.5h3.1v3.1h-3.1zM160 80h3.1v3.1h-3.1zM177.5 80h3.1v3.1h-3.1zM160 82.5h3.1v3.1h-3.1zM177.5 82.5h3.1v3.1h-3.1zM142.5 85h3.1v3.1h-3.1zM160 85h3.1v3.1h-3.1zM175 85h5.6v3.1h-5.6zM142.5 87.5h3.1v3.1h-3.1zM160 87.5h3.1v3.1h-3.1zM172.5 87.5h5.6v3.1h-5.6zM170 90h5.6v3.1h-5.6zM145 92.5h3.1v3.1h-3.1zM167.5 92.5h5.6v3.1h-5.6zM187.5 92.5h3.1v3.1h-3.1zM145 95h3.1v3.1h-3.1zM162.5 95h8.1v3.1h-8.1zM187.5 95h3.1v3.1h-3.1zM145 97.5h3.1v3.1h-3.1zM162.5 97.5h5.6v3.1h-5.6zM187.5 97.5h5.6v3.1h-5.6zM145 100h3.1v3.1h-3.1zM190 100h5.6v3.1h-5.6zM145 102.5h3.1v3.1h-3.1zM197.5 102.5h3.1v3.1h-3.1zM145 105h3.1v3.1h-3.1zM200 105h5.6v3.1h-5.6zM142.5 107.5h5.6v3.1h-5.6zM202.5 107.5h3.1v3.1h-3.1zM142.5 110h3.1v3.1h-3.1zM140 112.5h3.1v3.1h-3.1zM205 112.5h3.1v3.1h-3.1zM140 115h3.1v3.1h-3.1zM205 115h3.1v3.1h-3.1zM137.5 117.5h3.1v3.1h-3.1zM135 120h3.1v3.1h-3.1zM202.5 120h3.1v3.1h-3.1zM130 122.5h3.1v3.1h-3.1zM127.5 125h3.1v3.1h-3.1zM127.5 127.5h3.1v3.1h-3.1zM127.5 130h3.1v3.1h-3.1zM127.5 132.5h3.1v3.1h-3.1zM125 135h5.6v3.1h-5.6zM120 137.5h8.1v3.1h-8.1zM117.5 140h8.1v3.1h-8.1zM117.5 142.5h5.6v3.1h-5.6zM117.5 145h3.1v3.1h-3.1zM117.5 147.5h3.1v3.1h-3.1zM117.5 150h3.1v3.1h-3.1zM117.5 152.5h3.1v3.1h-3.1zM117.5 155h5.6v3.1h-5.6zM215 155h30.6v3.1h-30.6zM117.5 157.5h8.1v3.1h-8.1zM212.5 157.5h3.1v3.1h-3.1zM247.5 157.5h3.1v3.1h-3.1zM120 160h8.1v3.1h-8.1zM250 160h3.1v3.1h-3.1zM125 162.5h3.1v3.1h-3.1zM210 162.5h3.1v3.1h-3.1zM125 165h3.1v3.1h-3.1zM255 165h10.6v3.1h-10.6zM122.5 167.5h5.6v3.1h-5.6zM122.5 170h3.1v3.1h-3.1zM267.5 170h3.1v3.1h-3.1zM120 172.5h3.1v3.1h-3.1zM90 175h8.1v3.1h-8.1zM122.5 175h3.1v3.1h-3.1zM100 177.5h3.1v3.1h-3.1zM125 177.5h3.1v3.1h-3.1zM102.5 180h3.1v3.1h-3.1zM127.5 180h3.1v3.1h-3.1zM130 182.5h3.1v3.1h-3.1zM267.5 182.5h3.1v3.1h-3.1zM110 185h3.1v3.1h-3.1zM130 185h3.1v3.1h-3.1zM132.5 190h3.1v3.1h-3.1zM262.5 192.5h3.1v3.1h-3.1zM145 200h3.1v3.1h-3.1zM257.5 202.5h3.1v3.1h-3.1zM157.5 207.5h3.1v3.1h-3.1zM160 210h5.6v3.1h-5.6zM252.5 210h3.1v3.1h-3.1zM157.5 212.5h10.6v3.1h-10.6zM250 212.5h5.6v3.1h-5.6zM257.5 212.5h3.1v3.1h-3.1zM250 215h5.6v3.1h-5.6z"/>
<path fill="#f37819" d="M90 0h3.1v3.1h-3.1zM110 0h3.1v3.1h-3.1zM97.5 2.5h3.1v3.1h-3.1zM105 5h3.1v3.1h-3.1zM112.5 5h3.1v3.1h-3.1zM92.5 7.5h3.1v3.1h-3.1zM155 7.5h3.1v3.1h-3.1zM100 10h3.1v3.1h-3.1zM107.5 10h3.1v3.1h-3.1zM157.5 10h3.1v3.1h-3.1zM95 15h3.1v3.1h-3.1zM102.5 15h3.1v3.1h-3.1zM110 15h3.1v3.1h-3.1zM167.5 17.5h5.6v3.1h-5.6zM90 20h3.1v3.1h-3.1zM97.5 20h3.1v3.1h-3.1zM105 20h3.1v3.1h-3.1zM112.5 20h3.1v3.1h-3.1zM175 20h3.1v3.1h-3.1zM107.5 22.5h3.1v3.1h-3.1zM115 22.5h3.1v3.1h-3.1zM177.5 22.5h3.1v3.1h-3.1zM92.5 25h3.1v3.1h-3.1zM100 25h3.1v3.1h-3.1zM117.5 25h3.1v3.1h-3.1zM175 25h5.6v3.1h-5.6zM185 25h3.1v3.1h-3.1zM95 27.5h3.1v3.1h-3.1zM102.5 27.5h3.1v3.1h-3.1zM110 27.5h3.1v3.1h-3.1zM185 27.5h3.1v3.1h-3.1zM90 30h3.1v3.1h-3.1zM95 30h5.6v3.1h-5.6zM102.5 30h5.6v3.1h-5.6zM120 30h3.1v3.1h-3.1zM180 30h10.6v3.1h-10.6zM207.5 30h3.1v3.1h-3.1zM100 32.5h3.1v3.1h-3.1zM107.5 32.5h3.1v3.1h-3.1zM112.5 32.5h3.1v3.1h-3.1zM190 32.5h3.1v3.1h-3.1zM197.5 32.5h3.1v3.1h-3.1zM207.5 32.5h3.1v3.1h-3.1zM217.5 32.5h5.6v3.1h-5.6zM90 35h3.1v3.1h-3.1zM97.5 35h3.1v3.1h-3.1zM102.5 35h3.1v3.1h-3.1zM110 35h3.1v3.1h-3.1zM115 35h3.1v3.1h-3.1zM187.5 35h8.1v3.1h-8.1zM225 35h5.6v3.1h-5.6zM95 37.5h3.1v3.1h-3.1zM100 37.5h3.1v3.1h-3.1zM107.5 37.5h3.1v3.1h-3.1zM112.5 37.5h3.1v3.1h-3.1zM120 37.5h3.1v3.1h-3.1zM197.5 37.5h3.1v3.1h-3.1zM232.5 37.5h10.6v3.1h-10.6zM90 40h3.1v3.1h-3.1zM97.5 40h3.1v3.1h-3.1zM110 40h3.1v3.1h-3.1zM115 40h3.1v3.1h-3.1zM122.5 40h3.1v3.1h-3.1zM192.5 40h5.6v3.1h-5.6zM245 40h3.1v3.1h-3.1zM95 42.5h3.1v3.1h-3.1zM100 42.5h3.1v3.1h-3.1zM112.5 42.5h3.1v3.1h-3.1zM117.5 42.5h3.1v3.1h-3.1zM125 42.5h3.1v3.1h-3.1zM137.5 42.5h3.1v3.1h-3.1zM157.5 42.5h3.1v3.1h-3.1zM182.5 42.5h8.1v3.1h-8.1zM247.5 42.5h3.1v3.1h-3.1zM92.5 45h3.1v3.1h-3.1zM97.5 45h3.1v3.1h-3.1zM110 45h3.1v3.1h-3.1zM117.5 45h3.1v3.1h-3.1zM130 45h3.1v3.1h-3.1zM142.5 45h5.6v3.1h-5.6zM250 45h3.1v3.1h-3.1zM92.5 47.5h3.1v3.1h-3.1zM102.5 47.5h3.1v3.1h-3.1zM110 47.5h5.6v3.1h-5.6zM147.5 47.5h8.1v3.1h-8.1zM250 47.5h3.1v3.1h-3.1zM95 50h3.1v3.1h-3.1zM105 50h3.1v3.1h-3.1zM115 50h3.1v3.1h-3.1zM137.5 50h5.6v3.1h-5.6zM155 50h8.1v3.1h-8.1zM252.5 50h3.1v3.1h-3.1zM142.5 52.5h3.1v3.1h-3.1zM147.5 52.5h5.6v3.1h-5.6zM252.5 52.5h3.1v3.1h-3.1zM145 55h3.1v3.1h-3.1zM157.5 55h3.1v3.1h-3.1zM255 55h3.1v3.1h-3.1zM140 57.5h3.1v3.1h-3.1zM160 57.5h5.6v3.1h-5.6zM177.5 57.5h8.1v3.1h-8.1zM257.5 57.5h3.1v3.1h-3.1zM140 60h3.1v3.1h-3.1zM180 60h8.1v3.1h-8.1zM260 60h3.1v3.1h-3.1zM137.5 62.5h5.6v3.1h-5.6zM165 62.5h13.1v3.1h-13.1zM187.5 62.5h3.1v3.1h-3.1zM262.5 62.5h3.1v3.1h-3.1zM137.5 65h3.1v3.1h-3.1zM165 65h13.1v3.1h-13.1zM187.5 65h3.1v3.1h-3.1zM265 65h3.1v3.1h-3.1zM162.5 67.5h3.1v3.1h-3.1zM170 67.5h8.1v3.1h-8.1zM187.5 67.5h3.1v3.1h-3.1zM267.5 67.5h3.1v3.1h-3.1zM137.5 70h3.1v3.1h-3.1zM162.5 70h3.1v3.1h-3.1zM170 70h8.1v3.1h-8.1zM187.5 70h3.1v3.1h-3.1zM270 70h3.1v3.1h-3.1zM137.5 72.5h3.1v3.1h-3.1zM172.5 72.5h5.6v3.1h-5.6zM187.5 72.5h3.1v3.1h-3.1zM272.5 72.5h3.1v3.1h-3.1zM172.5 75h5.6v3.1h-5.6zM187.5 75h3.1v3.1h-3.1zM275 75h5.6v3.1h-5.6zM140 77.5h3.1v3.1h-3.1zM172.5 77.5h5.6v3.1h-5.6zM187.5 77.5h3.1v3.1h-3.1zM140 80h3.1v3.1h-3.1zM172.5 80h5.6v3.1h-5.6zM187.5 80h3.1v3.1h-3.1zM140 82.5h3.1v3.1h-3.1zM172.5 82.5h5.6v3.1h-5.6zM187.5 82.5h3.1v3.1h-3.1zM140 85h3.1v3.1h-3.1zM170 85h5.6v3.1h-5.6zM187.5 85h3.1v3.1h-3.1zM162.5 87.5h3.1v3.1h-3.1zM167.5 87.5h5.6v3.1h-5.6zM187.5 87.5h3.1v3.1h-3.1zM142.5 90h3.1v3.1h-3.1zM162.5 90h8.1v3.1h-8.1zM187.5 90h3.1v3.1h-3.1zM142.5 92.5h3.1v3.1h-3.1zM162.5 92.5h5.6v3.1h-5.6zM142.5 95h3.1v3.1h-3.1zM190 95h3.1v3.1h-3.1zM142.5 97.5h3.1v3.1h-3.1zM192.5 97.5h3.1v3.1h-3.1zM142.5 100h3.1v3.1h-3.1zM195 100h3.1v3.1h-3.1zM142.5 102.5h3.1v3.1h-3.1zM200 102.5h5.6v3.1h-5.6zM142.5 105h3.1v3.1h-3.1zM140 107.5h3.1v3.1h-3.1zM205 107.5h3.1v3.1h-3.1zM140 110h3.1v3.1h-3.1zM205 110h3.1v3.1h-3.1zM137.5 115h3.1v3.1h-3.1zM135 117.5h3.1v3.1h-3.1zM205 117.5h3.1v3.1h-3.1zM130 120h5.6v3.1h-5.6zM125 122.5h5.6v3.1h-5.6zM122.5 125h5.6v3.1h-5.6zM120 127.5h8.1v3.1h-8.1zM117.5 130h10.6v3.1h-10.6zM112.5 132.5h15.6v3.1h-15.6zM112.5 135h13.1v3.1h-13.1zM112.5 137.5h8.1v3.1h-8.1zM200 137.5h3.1v3.1h-3.1zM112.5 140h5.6v3.1h-5.6zM112.5 142.5h5.6v3.1h-5.6zM112.5 145h5.6v3.1h-5.6zM112.5 147.5h5.6v3.1h-5.6zM112.5 150h5.6v3.1h-5.6zM112.5 152.5h5.6v3.1h-5.6zM215 152.5h10.6v3.1h-10.6zM262.5 152.5h5.6v3.1h-5.6zM112.5 155h5.6v3.1h-5.6zM212.5 155h3.1v3.1h-3.1zM245 155h5.6v3.1h-5.6zM262.5 155h5.6v3.1h-5.6zM112.5 157.5h5.6v3.1h-5.6zM250 157.5h3.1v3.1h-3.1zM260 157.5h8.1v3.1h-8.1zM112.5 160h8.1v3.1h-8.1zM210 160h3.1v3.1h-3.1zM252.5 160h3.1v3.1h-3.1zM257.5 160h10.6v3.1h-10.6zM112.5 162.5h13.1v3.1h-13.1zM252.5 162.5h15.6v3.1h-15.6zM115 165h10.6v3.1h-10.6zM207.5 165h3.1v3.1h-3.1zM265 165h5.6v3.1h-5.6zM117.5 167.5h5.6v3.1h-5.6zM267.5 167.5h3.1v3.1h-3.1zM117.5 170h5.6v3.1h-5.6zM270 170h3.1v3.1h-3.1zM90 172.5h5.6v3.1h-5.6zM117.5 172.5h3.1v3.1h-3.1zM270 172.5h3.1v3.1h-3.1zM97.5 175h3.1v3.1h-3.1zM120 175h3.1v3.1h-3.1zM270 175h3.1v3.1h-3.1zM122.5 177.5h3.1v3.1h-3.1zM105 180h3.1v3.1h-3.1zM125 180h3.1v3.1h-3.1zM107.5 182.5h3.1v3.1h-3.1zM127.5 182.5h3.1v3.1h-3.1zM267.5 185h3.1v3.1h-3.1zM130 187.5h3.1v3.1h-3.1zM265 190h3.1v3.1h-3.1zM120 192.5h3.1v3.1h-3.1zM135 192.5h3.1v3.1h-3.1zM262.5 195h3.1v3.1h-3.1zM272.5 197.5h3.1v3.1h-3.1zM260 200h3.1v3.1h-3.1zM270 200h3.1v3.1h-3.1zM137.5 205h3.1v3.1h-3.1zM152.5 205h3.1v3.1h-3.1zM142.5 207.5h3.1v3.1h-3.1zM155 207.5h3.1v3.1h-3.1zM255 207.5h3.1v3.1h-3.1zM262.5 207.5h3.1v3.1h-3.1zM150 210h10.6v3.1h-10.6zM255 210h8.1v3.1h-8.1zM255 212.5h3.1v3.1h-3.1z"/>
<path fill="#f78212" d="M97.5 0h3.1v3.1h-3.1zM102.5 0h3.1v3.1h-3.1zM117.5 0h3.1v3.1h-3.1zM90 2.5h3.1v3.1h-3.1zM105 2.5h3.1v3.1h-3.1zM110 2.5h5.6v3.1h-5.6zM117.5 2.5h3.1v3.1h-3.1zM155 2.5h3.1v3.1h-3.1zM92.5 5h3.1v3.1h-3.1zM97.5 5h3.1v3.1h-3.1zM152.5 5h5.6v3.1h-5.6zM100 7.5h3.1v3.1h-3.1zM105 7.5h5.6v3.1h-5.6zM112.5 7.5h3.1v3.1h-3.1zM92.5 10h3.1v3.1h-3.1zM115 10h3.1v3.1h-3.1zM95 12.5h3.1v3.1h-3.1zM100 12.5h5.6v3.1h-5.6zM107.5 12.5h3.1v3.1h-3.1zM115 12.5h3.1v3.1h-3.1zM162.5 12.5h3.1v3.1h-3.1zM117.5 15h3.1v3.1h-3.1zM170 15h3.1v3.1h-3.1zM90 17.5h3.1v3.1h-3.1zM97.5 17.5h3.1v3.1h-3.1zM102.5 17.5h5.6v3.1h-5.6zM110 17.5h5.6v3.1h-5.6zM162.5 17.5h5.6v3.1h-5.6zM120 20h3.1v3.1h-3.1zM172.5 20h3.1v3.1h-3.1zM92.5 22.5h3.1v3.1h-3.1zM100 22.5h3.1v3.1h-3.1zM122.5 22.5h3.1v3.1h-3.1zM107.5 25h5.6v3.1h-5.6zM115 25h3.1v3.1h-3.1zM125 25h3.1v3.1h-3.1zM170 25h5.6v3.1h-5.6zM180 25h5.6v3.1h-5.6zM112.5 27.5h3.1v3.1h-3.1zM117.5 27.5h5.6v3.1h-5.6zM127.5 27.5h3.1v3.1h-3.1zM110 30h3.1v3.1h-3.1zM115 30h3.1v3.1h-3.1zM122.5 30h3.1v3.1h-3.1zM177.5 30h3.1v3.1h-3.1zM205 30h3.1v3.1h-3.1zM92.5 32.5h5.6v3.1h-5.6zM102.5 32.5h3.1v3.1h-3.1zM110 32.5h3.1v3.1h-3.1zM122.5 32.5h5.6v3.1h-5.6zM205 32.5h3.1v3.1h-3.1zM210 32.5h3.1v3.1h-3.1zM215 32.5h3.1v3.1h-3.1zM95 35h3.1v3.1h-3.1zM105 35h3.1v3.1h-3.1zM112.5 35h3.1v3.1h-3.1zM125 35h5.6v3.1h-5.6zM185 35h3.1v3.1h-3.1zM202.5 35h5.6v3.1h-5.6zM222.5 35h3.1v3.1h-3.1zM90 37.5h3.1v3.1h-3.1zM97.5 37.5h3.1v3.1h-3.1zM105 37.5h3.1v3.1h-3.1zM115 37.5h5.6v3.1h-5.6zM130 37.5h3.1v3.1h-3.1zM175 37.5h10.6v3.1h-10.6zM195 37.5h3.1v3.1h-3.1zM200 37.5h3.1v3.1h-3.1zM230 37.5h3.1v3.1h-3.1zM92.5 40h3.1v3.1h-3.1zM100 40h3.1v3.1h-3.1zM107.5 40h3.1v3.1h-3.1zM120 40h3.1v3.1h-3.1zM132.5 40h5.6v3.1h-5.6zM147.5 40h5.6v3.1h-5.6zM190 40h3.1v3.1h-3.1zM237.5 40h8.1v3.1h-8.1zM92.5 42.5h3.1v3.1h-3.1zM102.5 42.5h3.1v3.1h-3.1zM110 42.5h3.1v3.1h-3.1zM127.5 42.5h3.1v3.1h-3.1zM140 42.5h3.1v3.1h-3.1zM152.5 42.5h5.6v3.1h-5.6zM160 42.5h5.6v3.1h-5.6zM180 42.5h3.1v3.1h-3.1zM190 42.5h3.1v3.1h-3.1zM245 42.5h3.1v3.1h-3.1zM95 45h3.1v3.1h-3.1zM102.5 45h5.6v3.1h-5.6zM112.5 45h5.6v3.1h-5.6zM120 45h3.1v3.1h-3.1zM127.5 45h3.1v3.1h-3.1zM165 45h15.6v3.1h-15.6zM247.5 45h3.1v3.1h-3.1zM95 47.5h3.1v3.1h-3.1zM100 47.5h3.1v3.1h-3.1zM105 47.5h3.1v3.1h-3.1zM120 47.5h5.6v3.1h-5.6zM132.5 47.5h5.6v3.1h-5.6zM145 47.5h3.1v3.1h-3.1zM155 47.5h3.1v3.1h-3.1zM187.5 47.5h8.1v3.1h-8.1zM247.5 47.5h3.1v3.1h-3.1zM97.5 50h3.1v3.1h-3.1zM102.5 50h3.1v3.1h-3.1zM112.5 50h3.1v3.1h-3.1zM125 50h3.1v3.1h-3.1zM142.5 50h3.1v3.1h-3.1zM152.5 50h3.1v3.1h-3.1zM162.5 50h25.6v3.1h-25.6zM250 50h3.1v3.1h-3.1zM90 52.5h3.1v3.1h-3.1zM97.5 52.5h3.1v3.1h-3.1zM107.5 52.5h3.1v3.1h-3.1zM117.5 52.5h3.1v3.1h-3.1zM127.5 52.5h5.6v3.1h-5.6zM140 52.5h3.1v3.1h-3.1zM152.5 52.5h5.6v3.1h-5.6zM195 52.5h3.1v3.1h-3.1zM250 52.5h3.1v3.1h-3.1zM90 55h3.1v3.1h-3.1zM100 55h3.1v3.1h-3.1zM110 55h3.1v3.1h-3.1zM120 55h3.1v3.1h-3.1zM132.5 55h13.1v3.1h-13.1zM160 55h3.1v3.1h-3.1zM182.5 55h10.6v3.1h-10.6zM252.5 55h3.1v3.1h-3.1zM102.5 57.5h3.1v3.1h-3.1zM112.5 57.5h3.1v3.1h-3.1zM137.5 57.5h3.1v3.1h-3.1zM165 57.5h13.1v3.1h-13.1zM185 57.5h3.1v3.1h-3.1zM255 57.5h3.1v3.1h-3.1zM137.5 60h3.1v3.1h-3.1zM162.5 60h18.1v3.1h-18.1zM187.5 60h3.1v3.1h-3.1zM257.5 60h3.1v3.1h-3.1zM135 62.5h3.1v3.1h-3.1zM260 62.5h3.1v3.1h-3.1zM262.5 65h3.1v3.1h-3.1zM137.5 67.5h3.1v3.1h-3.1zM165 67.5h5.6v3.1h-5.6zM265 67.5h3.1v3.1h-3.1zM165 70h5.6v3.1h-5.6zM267.5 70h3.1v3.1h-3.1zM162.5 72.5h3.1v3.1h-3.1zM167.5 72.5h5.6v3.1h-5.6zM270 72.5h3.1v3.1h-3.1zM137.5 75h3.1v3.1h-3.1zM162.5 75h3.1v3.1h-3.1zM167.5 75h5.6v3.1h-5.6zM272.5 75h3.1v3.1h-3.1zM137.5 77.5h3.1v3.1h-3.1zM162.5 77.5h3.1v3.1h-3.1zM167.5 77.5h5.6v3.1h-5.6zM137.5 80h3.1v3.1h-3.1zM162.5 80h3.1v3.1h-3.1zM167.5 80h5.6v3.1h-5.6zM162.5 82.5h3.1v3.1h-3.1zM167.5 82.5h5.6v3.1h-5.6zM162.5 85h3.1v3.1h-3.1zM167.5 85h3.1v3.1h-3.1zM140 87.5h3.1v3.1h-3.1zM165 87.5h3.1v3.1h-3.1zM190 87.5h3.1v3.1h-3.1zM140 90h3.1v3.1h-3.1zM190 90h3.1v3.1h-3.1zM140 92.5h3.1v3.1h-3.1zM190 92.5h3.1v3.1h-3.1zM192.5 95h3.1v3.1h-3.1zM140 97.5h3.1v3.1h-3.1zM195 97.5h3.1v3.1h-3.1zM140 100h3.1v3.1h-3.1zM197.5 100h5.6v3.1h-5.6zM140 102.5h3.1v3.1h-3.1zM137.5 105h5.6v3.1h-5.6zM205 105h3.1v3.1h-3.1zM137.5 107.5h3.1v3.1h-3.1zM137.5 110h3.1v3.1h-3.1zM137.5 112.5h3.1v3.1h-3.1zM135 115h3.1v3.1h-3.1zM130 117.5h5.6v3.1h-5.6zM125 120h5.6v3.1h-5.6zM205 120h3.1v3.1h-3.1zM120 122.5h5.6v3.1h-5.6zM202.5 122.5h3.1v3.1h-3.1zM117.5 125h5.6v3.1h-5.6zM202.5 125h3.1v3.1h-3.1zM112.5 127.5h8.1v3.1h-8.1zM202.5 127.5h3.1v3.1h-3.1zM110 130h8.1v3.1h-8.1zM202.5 130h3.1v3.1h-3.1zM107.5 132.5h5.6v3.1h-5.6zM202.5 132.5h3.1v3.1h-3.1zM107.5 135h5.6v3.1h-5.6zM107.5 137.5h5.6v3.1h-5.6zM107.5 140h5.6v3.1h-5.6zM107.5 142.5h5.6v3.1h-5.6zM207.5 142.5h3.1v3.1h-3.1zM110 145h3.1v3.1h-3.1zM207.5 145h3.1v3.1h-3.1zM110 147.5h3.1v3.1h-3.1zM262.5 147.5h3.1v3.1h-3.1zM110 150h3.1v3.1h-3.1zM212.5 150h10.6v3.1h-10.6zM260 150h8.1v3.1h-8.1zM212.5 152.5h3.1v3.1h-3.1zM225 152.5h25.6v3.1h-25.6zM257.5 152.5h5.6v3.1h-5.6zM267.5 152.5h3.1v3.1h-3.1zM250 155h3.1v3.1h-3.1zM257.5 155h5.6v3.1h-5.6zM267.5 155h5.6v3.1h-5.6zM210 157.5h3.1v3.1h-3.1zM252.5 157.5h8.1v3.1h-8.1zM267.5 157.5h5.6v3.1h-5.6zM255 160h3.1v3.1h-3.1zM267.5 160h5.6v3.1h-5.6zM267.5 162.5h5.6v3.1h-5.6zM112.5 165h3.1v3.1h-3.1zM270 165h3.1v3.1h-3.1zM112.5 167.5h5.6v3.1h-5.6zM270 167.5h3.1v3.1h-3.1zM115 170h3.1v3.1h-3.1zM95 172.5h5.6v3.1h-5.6zM100 175h3.1v3.1h-3.1zM102.5 177.5h3.1v3.1h-3.1zM120 177.5h3.1v3.1h-3.1zM270 177.5h3.1v3.1h-3.1zM127.5 185h3.1v3.1h-3.1zM137.5 195h3.1v3.1h-3.1zM275 195h5.6v3.1h-5.6zM262.5 197.5h3.1v3.1h-3.1zM130 200h3.1v3.1h-3.1zM147.5 202.5h3.1v3.1h-3.1zM260 202.5h3.1v3.1h-3.1zM267.5 202.5h3.1v3.1h-3.1zM150 205h3.1v3.1h-3.1zM257.5 205h10.6v3.1h-10.6zM145 207.5h3.1v3.1h-3.1zM150 207.5h5.6v3.1h-5.6zM257.5 207.5h5.6v3.1h-5.6z"/>
<path fill="#f98b0b" d="M105 0h3.1v3.1h-3.1zM147.5 0h3.1v3.1h-3.1zM92.5 2.5h3.1v3.1h-3.1zM147.5 2.5h5.6v3.1h-5.6zM90 5h3.1v3.1h-3.1zM100 5h3.1v3.1h-3.1zM120 5h3.1v3.1h-3.1zM150 5h3.1v3.1h-3.1zM97.5 7.5h3.1v3.1h-3.1zM115 7.5h3.1v3.1h-3.1zM120 7.5h3.1v3.1h-3.1zM145 7.5h3.1v3.1h-3.1zM95 10h3.1v3.1h-3.1zM122.5 10h3.1v3.1h-3.1zM147.5 10h3.1v3.1h-3.1zM92.5 12.5h3.1v3.1h-3.1zM110 12.5h3.1v3.1h-3.1zM90 15h3.1v3.1h-3.1zM125 15h3.1v3.1h-3.1zM155 15h5.6v3.1h-5.6zM167.5 15h3.1v3.1h-3.1zM95 17.5h3.1v3.1h-3.1zM117.5 17.5h5.6v3.1h-5.6zM127.5 17.5h3.1v3.1h-3.1zM160 17.5h3.1v3.1h-3.1zM122.5 20h3.1v3.1h-3.1zM130 20h3.1v3.1h-3.1zM170 20h3.1v3.1h-3.1zM90 22.5h3.1v3.1h-3.1zM97.5 22.5h3.1v3.1h-3.1zM105 22.5h3.1v3.1h-3.1zM125 22.5h3.1v3.1h-3.1zM132.5 22.5h3.1v3.1h-3.1zM142.5 22.5h3.1v3.1h-3.1zM157.5 22.5h3.1v3.1h-3.1zM175 22.5h3.1v3.1h-3.1zM95 25h3.1v3.1h-3.1zM102.5 25h3.1v3.1h-3.1zM135 25h3.1v3.1h-3.1zM167.5 25h3.1v3.1h-3.1zM92.5 27.5h3.1v3.1h-3.1zM100 27.5h3.1v3.1h-3.1zM105 27.5h5.6v3.1h-5.6zM182.5 27.5h3.1v3.1h-3.1zM92.5 30h3.1v3.1h-3.1zM100 30h3.1v3.1h-3.1zM107.5 30h3.1v3.1h-3.1zM130 30h3.1v3.1h-3.1zM142.5 30h3.1v3.1h-3.1zM160 30h3.1v3.1h-3.1zM175 30h3.1v3.1h-3.1zM117.5 32.5h3.1v3.1h-3.1zM187.5 32.5h3.1v3.1h-3.1zM200 32.5h5.6v3.1h-5.6zM120 35h3.1v3.1h-3.1zM137.5 35h3.1v3.1h-3.1zM152.5 35h5.6v3.1h-5.6zM182.5 35h3.1v3.1h-3.1zM195 35h3.1v3.1h-3.1zM200 35h3.1v3.1h-3.1zM212.5 35h3.1v3.1h-3.1zM217.5 35h5.6v3.1h-5.6zM122.5 37.5h3.1v3.1h-3.1zM127.5 37.5h3.1v3.1h-3.1zM142.5 37.5h3.1v3.1h-3.1zM160 37.5h15.6v3.1h-15.6zM185 37.5h3.1v3.1h-3.1zM192.5 37.5h3.1v3.1h-3.1zM212.5 37.5h3.1v3.1h-3.1zM225 37.5h5.6v3.1h-5.6zM117.5 40h3.1v3.1h-3.1zM125 40h3.1v3.1h-3.1zM145 40h3.1v3.1h-3.1zM187.5 40h3.1v3.1h-3.1zM232.5 40h5.6v3.1h-5.6zM135 42.5h3.1v3.1h-3.1zM165 42.5h5.6v3.1h-5.6zM172.5 42.5h8.1v3.1h-8.1zM240 42.5h5.6v3.1h-5.6zM132.5 45h3.1v3.1h-3.1zM140 45h3.1v3.1h-3.1zM147.5 45h3.1v3.1h-3.1zM160 45h5.6v3.1h-5.6zM180 45h3.1v3.1h-3.1zM195 45h5.6v3.1h-5.6zM245 45h3.1v3.1h-3.1zM90 47.5h3.1v3.1h-3.1zM97.5 47.5h3.1v3.1h-3.1zM107.5 47.5h3.1v3.1h-3.1zM115 47.5h5.6v3.1h-5.6zM137.5 47.5h3.1v3.1h-3.1zM157.5 47.5h3.1v3.1h-3.1zM185 47.5h3.1v3.1h-3.1zM195 47.5h3.1v3.1h-3.1zM90 50h5.6v3.1h-5.6zM107.5 50h3.1v3.1h-3.1zM117.5 50h3.1v3.1h-3.1zM122.5 50h3.1v3.1h-3.1zM127.5 50h3.1v3.1h-3.1zM135 50h3.1v3.1h-3.1zM145 50h8.1v3.1h-8.1zM187.5 50h3.1v3.1h-3.1zM247.5 50h3.1v3.1h-3.1zM95 52.5h3.1v3.1h-3.1zM100 52.5h3.1v3.1h-3.1zM105 52.5h3.1v3.1h-3.1zM110 52.5h3.1v3.1h-3.1zM115 52.5h3.1v3.1h-3.1zM120 52.5h3.1v3.1h-3.1zM132.5 52.5h3.1v3.1h-3.1zM137.5 52.5h3.1v3.1h-3.1zM157.5 52.5h5.6v3.1h-5.6zM192.5 52.5h3.1v3.1h-3.1zM197.5 52.5h3.1v3.1h-3.1zM92.5 55h3.1v3.1h-3.1zM102.5 55h3.1v3.1h-3.1zM107.5 55h3.1v3.1h-3.1zM112.5 55h3.1v3.1h-3.1zM122.5 55h3.1v3.1h-3.1zM162.5 55h20.6v3.1h-20.6zM192.5 55h3.1v3.1h-3.1zM250 55h3.1v3.1h-3.1zM92.5 57.5h5.6v3.1h-5.6zM105 57.5h3.1v3.1h-3.1zM115 57.5h3.1v3.1h-3.1zM125 57.5h5.6v3.1h-5.6zM135 57.5h3.1v3.1h-3.1zM187.5 57.5h3.1v3.1h-3.1zM252.5 57.5h3.1v3.1h-3.1zM95 60h5.6v3.1h-5.6zM105 60h5.6v3.1h-5.6zM115 60h5.6v3.1h-5.6zM130 60h8.1v3.1h-8.1zM190 60h3.1v3.1h-3.1zM255 60h3.1v3.1h-3.1zM90 62.5h3.1v3.1h-3.1zM97.5 62.5h5.6v3.1h-5.6zM107.5 62.5h8.1v3.1h-8.1zM132.5 62.5h3.1v3.1h-3.1zM190 62.5h3.1v3.1h-3.1zM257.5 62.5h3.1v3.1h-3.1zM90 65h8.1v3.1h-8.1zM100 65h8.1v3.1h-8.1zM110 65h8.1v3.1h-8.1zM135 65h3.1v3.1h-3.1zM190 65h3.1v3.1h-3.1zM260 65h3.1v3.1h-3.1zM90 67.5h28.1v3.1h-28.1zM132.5 67.5h5.6v3.1h-5.6zM190 67.5h3.1v3.1h-3.1zM262.5 67.5h3.1v3.1h-3.1zM90 70h25.6v3.1h-25.6zM135 70h3.1v3.1h-3.1zM190 70h3.1v3.1h-3.1zM265 70h3.1v3.1h-3.1zM90 72.5h25.6v3.1h-25.6zM135 72.5h3.1v3.1h-3.1zM165 72.5h3.1v3.1h-3.1zM190 72.5h3.1v3.1h-3.1zM267.5 72.5h3.1v3.1h-3.1zM90 75h23.1v3.1h-23.1zM135 75h3.1v3.1h-3.1zM165 75h3.1v3.1h-3.1zM190 75h3.1v3.1h-3.1zM270 75h3.1v3.1h-3.1zM90 77.5h18.1v3.1h-18.1zM135 77.5h3.1v3.1h-3.1zM165 77.5h3.1v3.1h-3.1zM190 77.5h3.1v3.1h-3.1zM272.5 77.5h8.1v3.1h-8.1zM90 80h18.1v3.1h-18.1zM165 80h3.1v3.1h-3.1zM190 80h3.1v3.1h-3.1zM90 82.5h15.6v3.1h-15.6zM137.5 82.5h3.1v3.1h-3.1zM165 82.5h3.1v3.1h-3.1zM190 82.5h3.1v3.1h-3.1zM137.5 85h3.1v3.1h-3.1zM165 85h3.1v3.1h-3.1zM190 85h3.1v3.1h-3.1zM137.5 87.5h3.1v3.1h-3.1zM192.5 90h3.1v3.1h-3.1zM192.5 92.5h3.1v3.1h-3.1zM140 95h3.1v3.1h-3.1zM195 95h3.1v3.1h-3.1zM137.5 97.5h3.1v3.1h-3.1zM197.5 97.5h3.1v3.1h-3.1zM137.5 100h3.1v3.1h-3.1zM202.5 100h3.1v3.1h-3.1zM135 102.5h5.6v3.1h-5.6zM205 102.5h3.1v3.1h-3.1zM90 105h15.6v3.1h-15.6zM135 105h3.1v3.1h-3.1zM90 107.5h18.1v3.1h-18.1zM135 107.5h3.1v3.1h-3.1zM90 110h18.1v3.1h-18.1zM135 110h3.1v3.1h-3.1zM90 112.5h23.1v3.1h-23.1zM135 112.5h3.1v3.1h-3.1zM207.5 112.5h3.1v3.1h-3.1zM90 115h28.1v3.1h-28.1zM132.5 115h3.1v3.1h-3.1zM207.5 115h3.1v3.1h-3.1zM90 117.5h30.6v3.1h-30.6zM127.5 117.5h3.1v3.1h-3.1zM90 120h35.6v3.1h-35.6zM90 122.5h30.6v3.1h-30.6zM205 122.5h3.1v3.1h-3.1zM90 125h28.1v3.1h-28.1zM90 127.5h23.1v3.1h-23.1zM90 130h20.6v3.1h-20.6zM90 132.5h18.1v3.1h-18.1zM90 135h18.1v3.1h-18.1zM202.5 135h5.6v3.1h-5.6zM92.5 137.5h15.6v3.1h-15.6zM207.5 137.5h3.1v3.1h-3.1zM95 140h13.1v3.1h-13.1zM207.5 140h5.6v3.1h-5.6zM97.5 142.5h10.6v3.1h-10.6zM205 142.5h3.1v3.1h-3.1zM210 142.5h5.6v3.1h-5.6zM105 145h5.6v3.1h-5.6zM210 145h8.1v3.1h-8.1zM252.5 145h15.6v3.1h-15.6zM107.5 147.5h3.1v3.1h-3.1zM207.5 147.5h15.6v3.1h-15.6zM250 147.5h13.1v3.1h-13.1zM265 147.5h5.6v3.1h-5.6zM107.5 150h3.1v3.1h-3.1zM210 150h3.1v3.1h-3.1zM222.5 150h38.1v3.1h-38.1zM267.5 150h5.6v3.1h-5.6zM110 152.5h3.1v3.1h-3.1zM210 152.5h3.1v3.1h-3.1zM250 152.5h8.1v3.1h-8.1zM270 152.5h5.6v3.1h-5.6zM110 155h3.1v3.1h-3.1zM210 155h3.1v3.1h-3.1zM252.5 155h5.6v3.1h-5.6zM272.5 155h8.1v3.1h-8.1zM110 157.5h3.1v3.1h-3.1zM272.5 157.5h8.1v3.1h-8.1zM110 160h3.1v3.1h-3.1zM272.5 160h8.1v3.1h-8.1zM110 162.5h3.1v3.1h-3.1zM272.5 162.5h8.1v3.1h-8.1zM110 165h3.1v3.1h-3.1zM202.5 165h3.1v3.1h-3.1zM272.5 165h8.1v3.1h-8.1zM272.5 167.5h8.1v3.1h-8.1zM90 170h8.1v3.1h-8.1zM272.5 170h3.1v3.1h-3.1zM117.5 175h3.1v3.1h-3.1zM122.5 180h3.1v3.1h-3.1zM270 180h3.1v3.1h-3.1zM125 182.5h3.1v3.1h-3.1zM267.5 187.5h3.1v3.1h-3.1zM117.5 190h3.1v3.1h-3.1zM265 192.5h3.1v3.1h-3.1zM140 197.5h3.1v3.1h-3.1zM142.5 200h3.1v3.1h-3.1zM262.5 200h8.1v3.1h-8.1zM145 202.5h3.1v3.1h-3.1zM262.5 202.5h5.6v3.1h-5.6zM140 205h3.1v3.1h-3.1zM145 205h5.6v3.1h-5.6zM147.5 207.5h3.1v3.1h-3.1z"/>
<path fill="#fb9606" d="M95 0h3.1v3.1h-3.1zM112.5 0h5.6v3.1h-5.6zM125 0h3.1v3.1h-3.1zM132.5 0h3.1v3.1h-3.1zM137.5 0h3.1v3.1h-3.1zM102.5 2.5h3.1v3.1h-3.1zM125 2.5h3.1v3.1h-3.1zM132.5 2.5h3.1v3.1h-3.1zM140 2.5h3.1v3.1h-3.1zM107.5 5h5.6v3.1h-5.6zM117.5 5h3.1v3.1h-3.1zM127.5 5h3.1v3.1h-3.1zM135 5h3.1v3.1h-3.1zM142.5 5h3.1v3.1h-3.1zM90 7.5h3.1v3.1h-3.1zM127.5 7.5h3.1v3.1h-3.1zM135 7.5h3.1v3.1h-3.1zM152.5 7.5h3.1v3.1h-3.1zM102.5 10h5.6v3.1h-5.6zM112.5 10h3.1v3.1h-3.1zM130 10h3.1v3.1h-3.1zM137.5 10h3.1v3.1h-3.1zM117.5 12.5h3.1v3.1h-3.1zM122.5 12.5h3.1v3.1h-3.1zM132.5 12.5h3.1v3.1h-3.1zM140 12.5h3.1v3.1h-3.1zM150 12.5h5.6v3.1h-5.6zM160 12.5h3.1v3.1h-3.1zM97.5 15h5.6v3.1h-5.6zM105 15h5.6v3.1h-5.6zM115 15h3.1v3.1h-3.1zM132.5 15h5.6v3.1h-5.6zM142.5 15h5.6v3.1h-5.6zM160 15h3.1v3.1h-3.1zM135 17.5h5.6v3.1h-5.6zM145 17.5h5.6v3.1h-5.6zM92.5 20h3.1v3.1h-3.1zM100 20h3.1v3.1h-3.1zM107.5 20h3.1v3.1h-3.1zM115 20h3.1v3.1h-3.1zM127.5 20h3.1v3.1h-3.1zM140 20h3.1v3.1h-3.1zM150 20h5.6v3.1h-5.6zM167.5 20h3.1v3.1h-3.1zM112.5 22.5h3.1v3.1h-3.1zM117.5 22.5h3.1v3.1h-3.1zM155 22.5h3.1v3.1h-3.1zM160 22.5h3.1v3.1h-3.1zM172.5 22.5h3.1v3.1h-3.1zM122.5 25h3.1v3.1h-3.1zM127.5 25h3.1v3.1h-3.1zM145 25h5.6v3.1h-5.6zM165 25h3.1v3.1h-3.1zM90 27.5h3.1v3.1h-3.1zM97.5 27.5h3.1v3.1h-3.1zM115 27.5h3.1v3.1h-3.1zM125 27.5h3.1v3.1h-3.1zM130 27.5h3.1v3.1h-3.1zM137.5 27.5h5.6v3.1h-5.6zM150 27.5h8.1v3.1h-8.1zM180 27.5h3.1v3.1h-3.1zM117.5 30h3.1v3.1h-3.1zM132.5 30h3.1v3.1h-3.1zM157.5 30h3.1v3.1h-3.1zM162.5 30h13.1v3.1h-13.1zM120 32.5h3.1v3.1h-3.1zM132.5 32.5h5.6v3.1h-5.6zM145 32.5h5.6v3.1h-5.6zM185 32.5h3.1v3.1h-3.1zM212.5 32.5h3.1v3.1h-3.1zM140 35h3.1v3.1h-3.1zM150 35h3.1v3.1h-3.1zM157.5 35h3.1v3.1h-3.1zM180 35h3.1v3.1h-3.1zM197.5 35h3.1v3.1h-3.1zM215 35h3.1v3.1h-3.1zM132.5 37.5h3.1v3.1h-3.1zM140 37.5h3.1v3.1h-3.1zM145 37.5h3.1v3.1h-3.1zM157.5 37.5h3.1v3.1h-3.1zM187.5 37.5h5.6v3.1h-5.6zM210 37.5h3.1v3.1h-3.1zM217.5 37.5h8.1v3.1h-8.1zM152.5 40h3.1v3.1h-3.1zM197.5 40h3.1v3.1h-3.1zM207.5 40h3.1v3.1h-3.1zM227.5 40h5.6v3.1h-5.6zM120 42.5h5.6v3.1h-5.6zM142.5 42.5h3.1v3.1h-3.1zM150 42.5h3.1v3.1h-3.1zM170 42.5h3.1v3.1h-3.1zM192.5 42.5h3.1v3.1h-3.1zM235 42.5h5.6v3.1h-5.6zM122.5 45h3.1v3.1h-3.1zM150 45h3.1v3.1h-3.1zM157.5 45h3.1v3.1h-3.1zM182.5 45h3.1v3.1h-3.1zM192.5 45h3.1v3.1h-3.1zM200 45h3.1v3.1h-3.1zM240 45h5.6v3.1h-5.6zM125 47.5h3.1v3.1h-3.1zM130 47.5h3.1v3.1h-3.1zM140 47.5h5.6v3.1h-5.6zM160 47.5h3.1v3.1h-3.1zM182.5 47.5h3.1v3.1h-3.1zM242.5 47.5h5.6v3.1h-5.6zM100 50h3.1v3.1h-3.1zM110 50h3.1v3.1h-3.1zM120 50h3.1v3.1h-3.1zM130 50h3.1v3.1h-3.1zM190 50h3.1v3.1h-3.1zM245 50h3.1v3.1h-3.1zM92.5 52.5h3.1v3.1h-3.1zM102.5 52.5h3.1v3.1h-3.1zM112.5 52.5h3.1v3.1h-3.1zM125 52.5h3.1v3.1h-3.1zM135 52.5h3.1v3.1h-3.1zM162.5 52.5h20.6v3.1h-20.6zM187.5 52.5h5.6v3.1h-5.6zM200 52.5h3.1v3.1h-3.1zM247.5 52.5h3.1v3.1h-3.1zM95 55h5.6v3.1h-5.6zM105 55h3.1v3.1h-3.1zM115 55h5.6v3.1h-5.6zM125 55h3.1v3.1h-3.1zM130 55h3.1v3.1h-3.1zM195 55h3.1v3.1h-3.1zM247.5 55h3.1v3.1h-3.1zM90 57.5h3.1v3.1h-3.1zM97.5 57.5h5.6v3.1h-5.6zM107.5 57.5h5.6v3.1h-5.6zM117.5 57.5h3.1v3.1h-3.1zM122.5 57.5h3.1v3.1h-3.1zM130 57.5h5.6v3.1h-5.6zM190 57.5h3.1v3.1h-3.1zM250 57.5h3.1v3.1h-3.1zM90 60h5.6v3.1h-5.6zM100 60h5.6v3.1h-5.6zM110 60h5.6v3.1h-5.6zM120 60h3.1v3.1h-3.1zM127.5 60h3.1v3.1h-3.1zM192.5 60h5.6v3.1h-5.6zM252.5 60h3.1v3.1h-3.1zM92.5 62.5h5.6v3.1h-5.6zM102.5 62.5h5.6v3.1h-5.6zM115 62.5h8.1v3.1h-8.1zM130 62.5h3.1v3.1h-3.1zM255 62.5h3.1v3.1h-3.1zM97.5 65h3.1v3.1h-3.1zM107.5 65h3.1v3.1h-3.1zM117.5 65h3.1v3.1h-3.1zM130 65h5.6v3.1h-5.6zM257.5 65h3.1v3.1h-3.1zM117.5 67.5h3.1v3.1h-3.1zM130 67.5h3.1v3.1h-3.1zM260 67.5h3.1v3.1h-3.1zM115 70h5.6v3.1h-5.6zM130 70h5.6v3.1h-5.6zM262.5 70h3.1v3.1h-3.1zM115 72.5h5.6v3.1h-5.6zM130 72.5h5.6v3.1h-5.6zM265 72.5h3.1v3.1h-3.1zM112.5 75h8.1v3.1h-8.1zM130 75h5.6v3.1h-5.6zM267.5 75h3.1v3.1h-3.1zM107.5 77.5h10.6v3.1h-10.6zM132.5 77.5h3.1v3.1h-3.1zM267.5 77.5h5.6v3.1h-5.6zM107.5 80h5.6v3.1h-5.6zM135 80h3.1v3.1h-3.1zM270 80h10.6v3.1h-10.6zM105 82.5h5.6v3.1h-5.6zM135 82.5h3.1v3.1h-3.1zM90 85h20.6v3.1h-20.6zM192.5 85h3.1v3.1h-3.1zM90 87.5h18.1v3.1h-18.1zM192.5 87.5h3.1v3.1h-3.1zM137.5 90h3.1v3.1h-3.1zM137.5 92.5h3.1v3.1h-3.1zM195 92.5h3.1v3.1h-3.1zM137.5 95h3.1v3.1h-3.1zM197.5 95h3.1v3.1h-3.1zM135 97.5h3.1v3.1h-3.1zM200 97.5h3.1v3.1h-3.1zM90 100h18.1v3.1h-18.1zM135 100h3.1v3.1h-3.1zM205 100h3.1v3.1h-3.1zM90 102.5h20.6v3.1h-20.6zM132.5 102.5h3.1v3.1h-3.1zM105 105h5.6v3.1h-5.6zM132.5 105h3.1v3.1h-3.1zM207.5 105h3.1v3.1h-3.1zM107.5 107.5h5.6v3.1h-5.6zM132.5 107.5h3.1v3.1h-3.1zM207.5 107.5h3.1v3.1h-3.1zM107.5 110h10.6v3.1h-10.6zM130 110h5.6v3.1h-5.6zM207.5 110h3.1v3.1h-3.1zM112.5 112.5h8.1v3.1h-8.1zM130 112.5h5.6v3.1h-5.6zM117.5 115h5.6v3.1h-5.6zM127.5 115h5.6v3.1h-5.6zM120 117.5h8.1v3.1h-8.1zM207.5 117.5h3.1v3.1h-3.1zM207.5 120h3.1v3.1h-3.1zM205 125h3.1v3.1h-3.1zM205 127.5h3.1v3.1h-3.1zM205 130h5.6v3.1h-5.6zM205 132.5h5.6v3.1h-5.6zM207.5 135h3.1v3.1h-3.1zM90 137.5h3.1v3.1h-3.1zM205 137.5h3.1v3.1h-3.1zM210 137.5h3.1v3.1h-3.1zM92.5 140h3.1v3.1h-3.1zM205 140h3.1v3.1h-3.1zM262.5 140h5.6v3.1h-5.6zM95 142.5h3.1v3.1h-3.1zM215 142.5h3.1v3.1h-3.1zM252.5 142.5h18.1v3.1h-18.1zM97.5 145h8.1v3.1h-8.1zM205 145h3.1v3.1h-3.1zM217.5 145h5.6v3.1h-5.6zM247.5 145h5.6v3.1h-5.6zM267.5 145h5.6v3.1h-5.6zM100 147.5h8.1v3.1h-8.1zM222.5 147.5h8.1v3.1h-8.1zM240 147.5h10.6v3.1h-10.6zM270 147.5h5.6v3.1h-5.6zM105 150h3.1v3.1h-3.1zM272.5 150h8.1v3.1h-8.1zM107.5 152.5h3.1v3.1h-3.1zM275 152.5h5.6v3.1h-5.6zM107.5 155h3.1v3.1h-3.1zM107.5 157.5h3.1v3.1h-3.1zM107.5 160h3.1v3.1h-3.1zM107.5 162.5h3.1v3.1h-3.1zM207.5 162.5h3.1v3.1h-3.1zM205 165h3.1v3.1h-3.1zM90 167.5h5.6v3.1h-5.6zM112.5 170h3.1v3.1h-3.1zM275 170h5.6v3.1h-5.6zM115 172.5h3.1v3.1h-3.1zM272.5 172.5h3.1v3.1h-3.1zM115 187.5h3.1v3.1h-3.1zM277.5 190h3.1v3.1h-3.1zM275 192.5h5.6v3.1h-5.6zM265 195h10.6v3.1h-10.6zM127.5 197.5h3.1v3.1h-3.1zM265 197.5h8.1v3.1h-8.1zM135 202.5h3.1v3.1h-3.1zM142.5 202.5h3.1v3.1h-3.1zM142.5 205h3.1v3.1h-3.1z"/>
<path fill="#fc9f07" d="M92.5 0h3.1v3.1h-3.1zM100 0h3.1v3.1h-3.1zM107.5 0h3.1v3.1h-3.1zM122.5 0h3.1v3.1h-3.1zM130 0h3.1v3.1h-3.1zM140 0h3.1v3.1h-3.1zM145 0h3.1v3.1h-3.1zM152.5 0h3.1v3.1h-3.1zM95 2.5h3.1v3.1h-3.1zM100 2.5h3.1v3.1h-3.1zM107.5 2.5h3.1v3.1h-3.1zM120 2.5h3.1v3.1h-3.1zM152.5 2.5h3.1v3.1h-3.1zM95 5h3.1v3.1h-3.1zM102.5 5h3.1v3.1h-3.1zM115 5h3.1v3.1h-3.1zM125 5h3.1v3.1h-3.1zM132.5 5h3.1v3.1h-3.1zM95 7.5h3.1v3.1h-3.1zM102.5 7.5h3.1v3.1h-3.1zM110 7.5h3.1v3.1h-3.1zM122.5 7.5h3.1v3.1h-3.1zM137.5 7.5h3.1v3.1h-3.1zM142.5 7.5h3.1v3.1h-3.1zM90 10h3.1v3.1h-3.1zM97.5 10h3.1v3.1h-3.1zM110 10h3.1v3.1h-3.1zM120 10h3.1v3.1h-3.1zM140 10h3.1v3.1h-3.1zM145 10h3.1v3.1h-3.1zM150 10h3.1v3.1h-3.1zM155 10h3.1v3.1h-3.1zM90 12.5h3.1v3.1h-3.1zM97.5 12.5h3.1v3.1h-3.1zM105 12.5h3.1v3.1h-3.1zM112.5 12.5h3.1v3.1h-3.1zM125 12.5h3.1v3.1h-3.1zM130 12.5h3.1v3.1h-3.1zM142.5 12.5h3.1v3.1h-3.1zM155 12.5h3.1v3.1h-3.1zM92.5 15h3.1v3.1h-3.1zM112.5 15h3.1v3.1h-3.1zM152.5 15h3.1v3.1h-3.1zM162.5 15h5.6v3.1h-5.6zM92.5 17.5h3.1v3.1h-3.1zM100 17.5h3.1v3.1h-3.1zM107.5 17.5h3.1v3.1h-3.1zM125 17.5h3.1v3.1h-3.1zM157.5 17.5h3.1v3.1h-3.1zM95 20h3.1v3.1h-3.1zM102.5 20h3.1v3.1h-3.1zM110 20h3.1v3.1h-3.1zM117.5 20h3.1v3.1h-3.1zM137.5 20h3.1v3.1h-3.1zM155 20h3.1v3.1h-3.1zM95 22.5h3.1v3.1h-3.1zM102.5 22.5h3.1v3.1h-3.1zM110 22.5h3.1v3.1h-3.1zM120 22.5h3.1v3.1h-3.1zM130 22.5h3.1v3.1h-3.1zM140 22.5h3.1v3.1h-3.1zM145 22.5h3.1v3.1h-3.1zM162.5 22.5h10.6v3.1h-10.6zM90 25h3.1v3.1h-3.1zM97.5 25h3.1v3.1h-3.1zM105 25h3.1v3.1h-3.1zM112.5 25h3.1v3.1h-3.1zM120 25h3.1v3.1h-3.1zM132.5 25h3.1v3.1h-3.1zM137.5 25h3.1v3.1h-3.1zM150 25h3.1v3.1h-3.1zM162.5 25h3.1v3.1h-3.1zM122.5 27.5h3.1v3.1h-3.1zM177.5 27.5h3.1v3.1h-3.1zM125 30h5.6v3.1h-5.6zM140 30h3.1v3.1h-3.1zM145 30h3.1v3.1h-3.1zM155 30h3.1v3.1h-3.1zM150 32.5h3.1v3.1h-3.1zM167.5 32.5h18.1v3.1h-18.1zM122.5 35h3.1v3.1h-3.1zM130 35h3.1v3.1h-3.1zM135 35h3.1v3.1h-3.1zM160 35h3.1v3.1h-3.1zM207.5 35h3.1v3.1h-3.1zM125 37.5h3.1v3.1h-3.1zM202.5 37.5h3.1v3.1h-3.1zM215 37.5h3.1v3.1h-3.1zM130 40h3.1v3.1h-3.1zM137.5 40h3.1v3.1h-3.1zM142.5 40h3.1v3.1h-3.1zM155 40h3.1v3.1h-3.1zM182.5 40h5.6v3.1h-5.6zM210 40h3.1v3.1h-3.1zM222.5 40h5.6v3.1h-5.6zM130 42.5h5.6v3.1h-5.6zM147.5 42.5h3.1v3.1h-3.1zM202.5 42.5h3.1v3.1h-3.1zM232.5 42.5h3.1v3.1h-3.1zM125 45h3.1v3.1h-3.1zM135 45h5.6v3.1h-5.6zM152.5 45h5.6v3.1h-5.6zM185 45h8.1v3.1h-8.1zM237.5 45h3.1v3.1h-3.1zM127.5 47.5h3.1v3.1h-3.1zM162.5 47.5h20.6v3.1h-20.6zM197.5 47.5h3.1v3.1h-3.1zM240 47.5h3.1v3.1h-3.1zM132.5 50h3.1v3.1h-3.1zM192.5 50h13.1v3.1h-13.1zM242.5 50h3.1v3.1h-3.1zM122.5 52.5h3.1v3.1h-3.1zM182.5 52.5h5.6v3.1h-5.6zM245 52.5h3.1v3.1h-3.1zM127.5 55h3.1v3.1h-3.1zM197.5 55h3.1v3.1h-3.1zM245 55h3.1v3.1h-3.1zM120 57.5h3.1v3.1h-3.1zM192.5 57.5h13.1v3.1h-13.1zM247.5 57.5h3.1v3.1h-3.1zM122.5 60h5.6v3.1h-5.6zM197.5 60h3.1v3.1h-3.1zM250 60h3.1v3.1h-3.1zM122.5 62.5h8.1v3.1h-8.1zM192.5 62.5h3.1v3.1h-3.1zM252.5 62.5h3.1v3.1h-3.1zM120 65h10.6v3.1h-10.6zM192.5 65h3.1v3.1h-3.1zM255 65h3.1v3.1h-3.1zM120 67.5h10.6v3.1h-10.6zM192.5 67.5h3.1v3.1h-3.1zM257.5 67.5h3.1v3.1h-3.1zM120 70h10.6v3.1h-10.6zM192.5 70h3.1v3.1h-3.1zM260 70h3.1v3.1h-3.1zM120 72.5h10.6v3.1h-10.6zM192.5 72.5h3.1v3.1h-3.1zM262.5 72.5h3.1v3.1h-3.1zM120 75h3.1v3.1h-3.1zM127.5 75h3.1v3.1h-3.1zM192.5 75h3.1v3.1h-3.1zM265 75h3.1v3.1h-3.1zM117.5 77.5h3.1v3.1h-3.1zM130 77.5h3.1v3.1h-3.1zM192.5 77.5h3.1v3.1h-3.1zM265 77.5h3.1v3.1h-3.1zM112.5 80h5.6v3.1h-5.6zM132.5 80h3.1v3.1h-3.1zM192.5 80h3.1v3.1h-3.1zM265 80h5.6v3.1h-5.6zM110 82.5h5.6v3.1h-5.6zM192.5 82.5h3.1v3.1h-3.1zM267.5 82.5h13.1v3.1h-13.1zM110 85h5.6v3.1h-5.6zM135 85h3.1v3.1h-3.1zM107.5 87.5h8.1v3.1h-8.1zM135 87.5h3.1v3.1h-3.1zM195 87.5h3.1v3.1h-3.1zM90 90h25.6v3.1h-25.6zM135 90h3.1v3.1h-3.1zM195 90h3.1v3.1h-3.1zM90 92.5h23.1v3.1h-23.1zM135 92.5h3.1v3.1h-3.1zM197.5 92.5h3.1v3.1h-3.1zM90 95h23.1v3.1h-23.1zM135 95h3.1v3.1h-3.1zM200 95h3.1v3.1h-3.1zM90 97.5h25.6v3.1h-25.6zM132.5 97.5h3.1v3.1h-3.1zM202.5 97.5h3.1v3.1h-3.1zM107.5 100h8.1v3.1h-8.1zM132.5 100h3.1v3.1h-3.1zM110 102.5h5.6v3.1h-5.6zM130 102.5h3.1v3.1h-3.1zM207.5 102.5h3.1v3.1h-3.1zM110 105h5.6v3.1h-5.6zM130 105h3.1v3.1h-3.1zM112.5 107.5h5.6v3.1h-5.6zM130 107.5h3.1v3.1h-3.1zM117.5 110h3.1v3.1h-3.1zM127.5 110h3.1v3.1h-3.1zM120 112.5h3.1v3.1h-3.1zM127.5 112.5h3.1v3.1h-3.1zM122.5 115h5.6v3.1h-5.6zM207.5 122.5h3.1v3.1h-3.1zM207.5 125h3.1v3.1h-3.1zM207.5 127.5h3.1v3.1h-3.1zM210 130h3.1v3.1h-3.1zM210 132.5h3.1v3.1h-3.1zM210 135h3.1v3.1h-3.1zM270 137.5h5.6v3.1h-5.6zM212.5 140h3.1v3.1h-3.1zM252.5 140h10.6v3.1h-10.6zM267.5 140h8.1v3.1h-8.1zM217.5 142.5h3.1v3.1h-3.1zM247.5 142.5h5.6v3.1h-5.6zM270 142.5h5.6v3.1h-5.6zM222.5 145h5.6v3.1h-5.6zM242.5 145h5.6v3.1h-5.6zM272.5 145h8.1v3.1h-8.1zM97.5 147.5h3.1v3.1h-3.1zM230 147.5h10.6v3.1h-10.6zM275 147.5h5.6v3.1h-5.6zM100 150h5.6v3.1h-5.6zM207.5 150h3.1v3.1h-3.1zM102.5 152.5h5.6v3.1h-5.6zM105 155h3.1v3.1h-3.1zM105 157.5h3.1v3.1h-3.1zM207.5 157.5h3.1v3.1h-3.1zM207.5 160h3.1v3.1h-3.1zM90 165h5.6v3.1h-5.6zM95 167.5h3.1v3.1h-3.1zM110 167.5h3.1v3.1h-3.1zM97.5 170h3.1v3.1h-3.1zM275 172.5h5.6v3.1h-5.6zM272.5 175h3.1v3.1h-3.1zM272.5 177.5h3.1v3.1h-3.1zM270 182.5h3.1v3.1h-3.1zM270 185h3.1v3.1h-3.1zM277.5 185h3.1v3.1h-3.1zM270 187.5h3.1v3.1h-3.1zM277.5 187.5h3.1v3.1h-3.1zM267.5 190h10.6v3.1h-10.6zM267.5 192.5h8.1v3.1h-8.1zM137.5 197.5h3.1v3.1h-3.1zM132.5 200h3.1v3.1h-3.1zM137.5 200h5.6v3.1h-5.6zM137.5 202.5h5.6v3.1h-5.6z"/>
<path fill="#fca80d" d="M120 0h3.1v3.1h-3.1zM150 0h3.1v3.1h-3.1zM115 2.5h3.1v3.1h-3.1zM127.5 2.5h3.1v3.1h-3.1zM135 2.5h3.1v3.1h-3.1zM142.5 2.5h3.1v3.1h-3.1zM140 5h3.1v3.1h-3.1zM145 5h3.1v3.1h-3.1zM117.5 7.5h3.1v3.1h-3.1zM130 7.5h3.1v3.1h-3.1zM147.5 7.5h3.1v3.1h-3.1zM117.5 10h3.1v3.1h-3.1zM127.5 10h3.1v3.1h-3.1zM147.5 12.5h3.1v3.1h-3.1zM157.5 12.5h3.1v3.1h-3.1zM120 15h5.6v3.1h-5.6zM127.5 15h3.1v3.1h-3.1zM115 17.5h3.1v3.1h-3.1zM122.5 17.5h3.1v3.1h-3.1zM130 17.5h3.1v3.1h-3.1zM150 17.5h3.1v3.1h-3.1zM125 20h3.1v3.1h-3.1zM132.5 20h3.1v3.1h-3.1zM142.5 20h3.1v3.1h-3.1zM147.5 20h3.1v3.1h-3.1zM165 20h3.1v3.1h-3.1zM127.5 22.5h3.1v3.1h-3.1zM135 22.5h3.1v3.1h-3.1zM152.5 22.5h3.1v3.1h-3.1zM160 25h3.1v3.1h-3.1zM135 27.5h3.1v3.1h-3.1zM147.5 27.5h3.1v3.1h-3.1zM157.5 27.5h3.1v3.1h-3.1zM172.5 27.5h5.6v3.1h-5.6zM127.5 32.5h5.6v3.1h-5.6zM137.5 32.5h3.1v3.1h-3.1zM152.5 32.5h3.1v3.1h-3.1zM162.5 32.5h5.6v3.1h-5.6zM142.5 35h3.1v3.1h-3.1zM147.5 35h3.1v3.1h-3.1zM162.5 35h3.1v3.1h-3.1zM177.5 35h3.1v3.1h-3.1zM210 35h3.1v3.1h-3.1zM137.5 37.5h3.1v3.1h-3.1zM147.5 37.5h3.1v3.1h-3.1zM155 37.5h3.1v3.1h-3.1zM207.5 37.5h3.1v3.1h-3.1zM127.5 40h3.1v3.1h-3.1zM140 40h3.1v3.1h-3.1zM157.5 40h25.6v3.1h-25.6zM205 40h3.1v3.1h-3.1zM215 40h8.1v3.1h-8.1zM145 42.5h3.1v3.1h-3.1zM195 42.5h8.1v3.1h-8.1zM205 42.5h3.1v3.1h-3.1zM227.5 42.5h5.6v3.1h-5.6zM212.5 45h3.1v3.1h-3.1zM232.5 45h5.6v3.1h-5.6zM207.5 47.5h3.1v3.1h-3.1zM235 47.5h5.6v3.1h-5.6zM205 50h3.1v3.1h-3.1zM237.5 50h5.6v3.1h-5.6zM202.5 52.5h3.1v3.1h-3.1zM212.5 52.5h3.1v3.1h-3.1zM240 52.5h5.6v3.1h-5.6zM200 55h10.6v3.1h-10.6zM242.5 55h3.1v3.1h-3.1zM205 57.5h3.1v3.1h-3.1zM245 57.5h3.1v3.1h-3.1zM200 60h3.1v3.1h-3.1zM247.5 60h3.1v3.1h-3.1zM195 62.5h3.1v3.1h-3.1zM250 62.5h3.1v3.1h-3.1zM195 65h5.6v3.1h-5.6zM252.5 65h3.1v3.1h-3.1zM195 67.5h3.1v3.1h-3.1zM255 67.5h3.1v3.1h-3.1zM195 70h3.1v3.1h-3.1zM257.5 70h3.1v3.1h-3.1zM195 72.5h3.1v3.1h-3.1zM260 72.5h3.1v3.1h-3.1zM122.5 75h5.6v3.1h-5.6zM195 75h3.1v3.1h-3.1zM260 75h5.6v3.1h-5.6zM120 77.5h10.6v3.1h-10.6zM195 77.5h3.1v3.1h-3.1zM260 77.5h5.6v3.1h-5.6zM117.5 80h5.6v3.1h-5.6zM127.5 80h5.6v3.1h-5.6zM195 80h3.1v3.1h-3.1zM260 80h5.6v3.1h-5.6zM115 82.5h5.6v3.1h-5.6zM130 82.5h5.6v3.1h-5.6zM195 82.5h3.1v3.1h-3.1zM260 82.5h8.1v3.1h-8.1zM115 85h5.6v3.1h-5.6zM130 85h5.6v3.1h-5.6zM195 85h3.1v3.1h-3.1zM260 85h20.6v3.1h-20.6zM115 87.5h5.6v3.1h-5.6zM130 87.5h5.6v3.1h-5.6zM197.5 87.5h3.1v3.1h-3.1zM260 87.5h20.6v3.1h-20.6zM115 90h5.6v3.1h-5.6zM130 90h5.6v3.1h-5.6zM197.5 90h3.1v3.1h-3.1zM260 90h20.6v3.1h-20.6zM112.5 92.5h8.1v3.1h-8.1zM130 92.5h5.6v3.1h-5.6zM200 92.5h3.1v3.1h-3.1zM260 92.5h20.6v3.1h-20.6zM112.5 95h8.1v3.1h-8.1zM130 95h5.6v3.1h-5.6zM260 95h20.6v3.1h-20.6zM115 97.5h5.6v3.1h-5.6zM130 97.5h3.1v3.1h-3.1zM205 97.5h3.1v3.1h-3.1zM260 97.5h20.6v3.1h-20.6zM115 100h5.6v3.1h-5.6zM130 100h3.1v3.1h-3.1zM207.5 100h3.1v3.1h-3.1zM260 100h20.6v3.1h-20.6zM115 102.5h5.6v3.1h-5.6zM127.5 102.5h3.1v3.1h-3.1zM260 102.5h20.6v3.1h-20.6zM115 105h5.6v3.1h-5.6zM127.5 105h3.1v3.1h-3.1zM260 105h20.6v3.1h-20.6zM117.5 107.5h5.6v3.1h-5.6zM127.5 107.5h3.1v3.1h-3.1zM260 107.5h20.6v3.1h-20.6zM120 110h8.1v3.1h-8.1zM210 110h3.1v3.1h-3.1zM260 110h20.6v3.1h-20.6zM122.5 112.5h5.6v3.1h-5.6zM210 112.5h3.1v3.1h-3.1zM262.5 112.5h18.1v3.1h-18.1zM210 115h3.1v3.1h-3.1zM262.5 115h18.1v3.1h-18.1zM210 117.5h3.1v3.1h-3.1zM262.5 117.5h18.1v3.1h-18.1zM210 120h3.1v3.1h-3.1zM265 120h15.6v3.1h-15.6zM210 122.5h3.1v3.1h-3.1zM265 122.5h15.6v3.1h-15.6zM210 125h3.1v3.1h-3.1zM265 125h15.6v3.1h-15.6zM210 127.5h3.1v3.1h-3.1zM267.5 127.5h13.1v3.1h-13.1zM267.5 130h13.1v3.1h-13.1zM270 132.5h10.6v3.1h-10.6zM270 135h10.6v3.1h-10.6zM212.5 137.5h3.1v3.1h-3.1zM267.5 137.5h3.1v3.1h-3.1zM275 137.5h5.6v3.1h-5.6zM250 140h3.1v3.1h-3.1zM275 140h5.6v3.1h-5.6zM245 142.5h3.1v3.1h-3.1zM275 142.5h5.6v3.1h-5.6zM95 145h3.1v3.1h-3.1zM227.5 145h5.6v3.1h-5.6zM237.5 145h5.6v3.1h-5.6zM205 147.5h3.1v3.1h-3.1zM207.5 152.5h3.1v3.1h-3.1zM102.5 155h3.1v3.1h-3.1zM207.5 155h3.1v3.1h-3.1zM90 160h3.1v3.1h-3.1zM105 160h3.1v3.1h-3.1zM90 162.5h3.1v3.1h-3.1zM100 172.5h3.1v3.1h-3.1zM275 175h5.6v3.1h-5.6zM275 177.5h5.6v3.1h-5.6zM272.5 180h8.1v3.1h-8.1zM110 182.5h3.1v3.1h-3.1zM272.5 182.5h8.1v3.1h-8.1zM112.5 185h3.1v3.1h-3.1zM272.5 185h5.6v3.1h-5.6zM127.5 187.5h3.1v3.1h-3.1zM272.5 187.5h5.6v3.1h-5.6zM130 190h3.1v3.1h-3.1zM132.5 192.5h3.1v3.1h-3.1zM125 195h3.1v3.1h-3.1zM135 195h3.1v3.1h-3.1zM135 197.5h3.1v3.1h-3.1zM135 200h3.1v3.1h-3.1z"/>
<path fill="#fcb418" d="M122.5 2.5h3.1v3.1h-3.1zM130 2.5h3.1v3.1h-3.1zM137.5 2.5h3.1v3.1h-3.1zM145 2.5h3.1v3.1h-3.1zM122.5 5h3.1v3.1h-3.1zM137.5 5h3.1v3.1h-3.1zM147.5 5h3.1v3.1h-3.1zM125 7.5h3.1v3.1h-3.1zM150 7.5h3.1v3.1h-3.1zM125 10h3.1v3.1h-3.1zM132.5 10h5.6v3.1h-5.6zM152.5 10h3.1v3.1h-3.1zM120 12.5h3.1v3.1h-3.1zM135 12.5h5.6v3.1h-5.6zM130 15h3.1v3.1h-3.1zM137.5 15h5.6v3.1h-5.6zM147.5 15h5.6v3.1h-5.6zM132.5 17.5h3.1v3.1h-3.1zM140 17.5h5.6v3.1h-5.6zM155 17.5h3.1v3.1h-3.1zM135 20h3.1v3.1h-3.1zM157.5 20h8.1v3.1h-8.1zM147.5 22.5h5.6v3.1h-5.6zM130 25h3.1v3.1h-3.1zM142.5 25h3.1v3.1h-3.1zM152.5 25h3.1v3.1h-3.1zM157.5 25h3.1v3.1h-3.1zM132.5 27.5h3.1v3.1h-3.1zM142.5 27.5h3.1v3.1h-3.1zM160 27.5h3.1v3.1h-3.1zM167.5 27.5h5.6v3.1h-5.6zM135 30h5.6v3.1h-5.6zM147.5 30h3.1v3.1h-3.1zM152.5 30h3.1v3.1h-3.1zM142.5 32.5h3.1v3.1h-3.1zM160 32.5h3.1v3.1h-3.1zM132.5 35h3.1v3.1h-3.1zM145 35h3.1v3.1h-3.1zM165 35h13.1v3.1h-13.1zM135 37.5h3.1v3.1h-3.1zM150 37.5h5.6v3.1h-5.6zM205 37.5h3.1v3.1h-3.1zM200 40h5.6v3.1h-5.6zM215 42.5h13.1v3.1h-13.1zM202.5 45h3.1v3.1h-3.1zM210 45h3.1v3.1h-3.1zM227.5 45h5.6v3.1h-5.6zM200 47.5h3.1v3.1h-3.1zM205 47.5h3.1v3.1h-3.1zM210 47.5h3.1v3.1h-3.1zM230 47.5h5.6v3.1h-5.6zM232.5 50h5.6v3.1h-5.6zM207.5 52.5h5.6v3.1h-5.6zM235 52.5h5.6v3.1h-5.6zM210 55h3.1v3.1h-3.1zM237.5 55h5.6v3.1h-5.6zM240 57.5h5.6v3.1h-5.6zM202.5 60h3.1v3.1h-3.1zM210 60h5.6v3.1h-5.6zM242.5 60h5.6v3.1h-5.6zM197.5 62.5h13.1v3.1h-13.1zM245 62.5h5.6v3.1h-5.6zM200 65h3.1v3.1h-3.1zM247.5 65h5.6v3.1h-5.6zM197.5 67.5h3.1v3.1h-3.1zM250 67.5h5.6v3.1h-5.6zM197.5 70h3.1v3.1h-3.1zM252.5 70h5.6v3.1h-5.6zM197.5 72.5h3.1v3.1h-3.1zM255 72.5h5.6v3.1h-5.6zM197.5 75h3.1v3.1h-3.1zM257.5 75h3.1v3.1h-3.1zM197.5 77.5h3.1v3.1h-3.1zM257.5 77.5h3.1v3.1h-3.1zM122.5 80h5.6v3.1h-5.6zM197.5 80h3.1v3.1h-3.1zM257.5 80h3.1v3.1h-3.1zM120 82.5h10.6v3.1h-10.6zM197.5 82.5h3.1v3.1h-3.1zM257.5 82.5h3.1v3.1h-3.1zM120 85h3.1v3.1h-3.1zM127.5 85h3.1v3.1h-3.1zM197.5 85h3.1v3.1h-3.1zM257.5 85h3.1v3.1h-3.1zM120 87.5h3.1v3.1h-3.1zM127.5 87.5h3.1v3.1h-3.1zM257.5 87.5h3.1v3.1h-3.1zM120 90h3.1v3.1h-3.1zM127.5 90h3.1v3.1h-3.1zM200 90h3.1v3.1h-3.1zM257.5 90h3.1v3.1h-3.1zM120 92.5h3.1v3.1h-3.1zM127.5 92.5h3.1v3.1h-3.1zM257.5 92.5h3.1v3.1h-3.1zM120 95h3.1v3.1h-3.1zM127.5 95h3.1v3.1h-3.1zM202.5 95h5.6v3.1h-5.6zM257.5 95h3.1v3.1h-3.1zM120 97.5h3.1v3.1h-3.1zM127.5 97.5h3.1v3.1h-3.1zM207.5 97.5h3.1v3.1h-3.1zM257.5 97.5h3.1v3.1h-3.1zM120 100h3.1v3.1h-3.1zM125 100h5.6v3.1h-5.6zM257.5 100h3.1v3.1h-3.1zM120 102.5h3.1v3.1h-3.1zM125 102.5h3.1v3.1h-3.1zM210 102.5h3.1v3.1h-3.1zM257.5 102.5h3.1v3.1h-3.1zM120 105h8.1v3.1h-8.1zM210 105h3.1v3.1h-3.1zM257.5 105h3.1v3.1h-3.1zM122.5 107.5h5.6v3.1h-5.6zM210 107.5h3.1v3.1h-3.1zM257.5 107.5h3.1v3.1h-3.1zM257.5 110h3.1v3.1h-3.1zM260 112.5h3.1v3.1h-3.1zM260 115h3.1v3.1h-3.1zM260 117.5h3.1v3.1h-3.1zM262.5 120h3.1v3.1h-3.1zM267.5 132.5h3.1v3.1h-3.1zM212.5 135h3.1v3.1h-3.1zM267.5 135h3.1v3.1h-3.1zM202.5 137.5h3.1v3.1h-3.1zM262.5 137.5h5.6v3.1h-5.6zM200 140h3.1v3.1h-3.1zM215 140h3.1v3.1h-3.1zM245 140h5.6v3.1h-5.6zM220 142.5h3.1v3.1h-3.1zM240 142.5h5.6v3.1h-5.6zM232.5 145h5.6v3.1h-5.6zM100 152.5h3.1v3.1h-3.1zM92.5 162.5h3.1v3.1h-3.1zM200 162.5h3.1v3.1h-3.1zM107.5 165h3.1v3.1h-3.1zM107.5 180h3.1v3.1h-3.1zM122.5 182.5h3.1v3.1h-3.1zM125 185h3.1v3.1h-3.1zM122.5 192.5h3.1v3.1h-3.1zM132.5 195h3.1v3.1h-3.1zM130 197.5h5.6v3.1h-5.6z"/>
<path fill="#fbbe23" d="M127.5 0h3.1v3.1h-3.1zM135 0h3.1v3.1h-3.1zM142.5 0h3.1v3.1h-3.1zM130 5h3.1v3.1h-3.1zM132.5 7.5h3.1v3.1h-3.1zM140 7.5h3.1v3.1h-3.1zM142.5 10h3.1v3.1h-3.1zM127.5 12.5h3.1v3.1h-3.1zM145 12.5h3.1v3.1h-3.1zM152.5 17.5h3.1v3.1h-3.1zM145 20h3.1v3.1h-3.1zM137.5 22.5h3.1v3.1h-3.1zM140 25h3.1v3.1h-3.1zM155 25h3.1v3.1h-3.1zM145 27.5h3.1v3.1h-3.1zM162.5 27.5h5.6v3.1h-5.6zM150 30h3.1v3.1h-3.1zM140 32.5h3.1v3.1h-3.1zM155 32.5h5.6v3.1h-5.6zM212.5 40h3.1v3.1h-3.1zM207.5 42.5h3.1v3.1h-3.1zM212.5 42.5h3.1v3.1h-3.1zM215 45h13.1v3.1h-13.1zM202.5 47.5h3.1v3.1h-3.1zM215 47.5h5.6v3.1h-5.6zM227.5 47.5h3.1v3.1h-3.1zM207.5 50h3.1v3.1h-3.1zM212.5 50h5.6v3.1h-5.6zM230 50h3.1v3.1h-3.1zM205 52.5h3.1v3.1h-3.1zM215 52.5h3.1v3.1h-3.1zM232.5 52.5h3.1v3.1h-3.1zM212.5 55h5.6v3.1h-5.6zM235 55h3.1v3.1h-3.1zM207.5 57.5h10.6v3.1h-10.6zM237.5 57.5h3.1v3.1h-3.1zM205 60h5.6v3.1h-5.6zM215 60h3.1v3.1h-3.1zM240 60h3.1v3.1h-3.1zM210 62.5h8.1v3.1h-8.1zM242.5 62.5h3.1v3.1h-3.1zM202.5 65h15.6v3.1h-15.6zM245 65h3.1v3.1h-3.1zM200 67.5h3.1v3.1h-3.1zM210 67.5h8.1v3.1h-8.1zM247.5 67.5h3.1v3.1h-3.1zM200 70h3.1v3.1h-3.1zM212.5 70h5.6v3.1h-5.6zM250 70h3.1v3.1h-3.1zM200 72.5h3.1v3.1h-3.1zM212.5 72.5h5.6v3.1h-5.6zM252.5 72.5h3.1v3.1h-3.1zM252.5 75h5.6v3.1h-5.6zM252.5 77.5h5.6v3.1h-5.6zM252.5 80h5.6v3.1h-5.6zM252.5 82.5h5.6v3.1h-5.6zM122.5 85h5.6v3.1h-5.6zM200 85h3.1v3.1h-3.1zM252.5 85h5.6v3.1h-5.6zM122.5 87.5h5.6v3.1h-5.6zM200 87.5h3.1v3.1h-3.1zM252.5 87.5h5.6v3.1h-5.6zM122.5 90h5.6v3.1h-5.6zM202.5 90h3.1v3.1h-3.1zM252.5 90h5.6v3.1h-5.6zM122.5 92.5h5.6v3.1h-5.6zM202.5 92.5h3.1v3.1h-3.1zM252.5 92.5h5.6v3.1h-5.6zM122.5 95h5.6v3.1h-5.6zM207.5 95h3.1v3.1h-3.1zM252.5 95h5.6v3.1h-5.6zM122.5 97.5h5.6v3.1h-5.6zM210 97.5h3.1v3.1h-3.1zM252.5 97.5h5.6v3.1h-5.6zM122.5 100h3.1v3.1h-3.1zM210 100h3.1v3.1h-3.1zM252.5 100h5.6v3.1h-5.6zM122.5 102.5h3.1v3.1h-3.1zM252.5 102.5h5.6v3.1h-5.6zM255 105h3.1v3.1h-3.1zM255 107.5h3.1v3.1h-3.1zM257.5 112.5h3.1v3.1h-3.1zM262.5 122.5h3.1v3.1h-3.1zM265 127.5h3.1v3.1h-3.1zM212.5 130h3.1v3.1h-3.1zM212.5 132.5h3.1v3.1h-3.1zM250 137.5h13.1v3.1h-13.1zM242.5 140h3.1v3.1h-3.1zM92.5 142.5h3.1v3.1h-3.1zM222.5 142.5h3.1v3.1h-3.1zM237.5 142.5h3.1v3.1h-3.1zM97.5 150h3.1v3.1h-3.1zM90 157.5h3.1v3.1h-3.1zM102.5 157.5h3.1v3.1h-3.1zM102.5 175h3.1v3.1h-3.1zM105 177.5h3.1v3.1h-3.1zM117.5 177.5h3.1v3.1h-3.1zM120 180h3.1v3.1h-3.1zM120 190h3.1v3.1h-3.1zM127.5 190h3.1v3.1h-3.1zM127.5 192.5h5.6v3.1h-5.6zM127.5 195h5.6v3.1h-5.6z"/>
<path fill="#f9c932" d="M210 42.5h3.1v3.1h-3.1zM207.5 45h3.1v3.1h-3.1zM212.5 47.5h3.1v3.1h-3.1zM220 47.5h8.1v3.1h-8.1zM210 50h3.1v3.1h-3.1zM217.5 50h13.1v3.1h-13.1zM217.5 52.5h5.6v3.1h-5.6zM227.5 52.5h5.6v3.1h-5.6zM217.5 55h5.6v3.1h-5.6zM230 55h5.6v3.1h-5.6zM217.5 57.5h5.6v3.1h-5.6zM230 57.5h8.1v3.1h-8.1zM217.5 60h3.1v3.1h-3.1zM235 60h5.6v3.1h-5.6zM217.5 62.5h3.1v3.1h-3.1zM237.5 62.5h5.6v3.1h-5.6zM217.5 65h3.1v3.1h-3.1zM240 65h5.6v3.1h-5.6zM202.5 67.5h8.1v3.1h-8.1zM217.5 67.5h3.1v3.1h-3.1zM242.5 67.5h5.6v3.1h-5.6zM202.5 70h10.6v3.1h-10.6zM217.5 70h3.1v3.1h-3.1zM245 70h5.6v3.1h-5.6zM202.5 72.5h3.1v3.1h-3.1zM207.5 72.5h5.6v3.1h-5.6zM217.5 72.5h3.1v3.1h-3.1zM247.5 72.5h5.6v3.1h-5.6zM200 75h3.1v3.1h-3.1zM210 75h10.6v3.1h-10.6zM247.5 75h5.6v3.1h-5.6zM200 77.5h3.1v3.1h-3.1zM210 77.5h8.1v3.1h-8.1zM247.5 77.5h5.6v3.1h-5.6zM200 80h3.1v3.1h-3.1zM247.5 80h5.6v3.1h-5.6zM200 82.5h3.1v3.1h-3.1zM247.5 82.5h5.6v3.1h-5.6zM202.5 85h3.1v3.1h-3.1zM247.5 85h5.6v3.1h-5.6zM202.5 87.5h3.1v3.1h-3.1zM247.5 87.5h5.6v3.1h-5.6zM205 90h5.6v3.1h-5.6zM247.5 90h5.6v3.1h-5.6zM205 92.5h5.6v3.1h-5.6zM247.5 92.5h5.6v3.1h-5.6zM210 95h3.1v3.1h-3.1zM250 95h3.1v3.1h-3.1zM250 97.5h3.1v3.1h-3.1zM250 100h3.1v3.1h-3.1zM252.5 105h3.1v3.1h-3.1zM255 110h3.1v3.1h-3.1zM257.5 115h3.1v3.1h-3.1zM260 120h3.1v3.1h-3.1zM212.5 122.5h3.1v3.1h-3.1zM212.5 125h3.1v3.1h-3.1zM262.5 125h3.1v3.1h-3.1zM212.5 127.5h3.1v3.1h-3.1zM265 130h3.1v3.1h-3.1zM247.5 137.5h3.1v3.1h-3.1zM202.5 140h3.1v3.1h-3.1zM217.5 140h3.1v3.1h-3.1zM200 142.5h5.6v3.1h-5.6zM225 142.5h13.1v3.1h-13.1zM200 145h5.6v3.1h-5.6zM200 147.5h3.1v3.1h-3.1zM200 150h3.1v3.1h-3.1zM205 150h3.1v3.1h-3.1zM200 152.5h3.1v3.1h-3.1zM200 155h3.1v3.1h-3.1zM200 157.5h3.1v3.1h-3.1zM200 160h3.1v3.1h-3.1zM105 162.5h3.1v3.1h-3.1zM205 162.5h3.1v3.1h-3.1zM95 165h3.1v3.1h-3.1zM115 175h3.1v3.1h-3.1zM125 187.5h3.1v3.1h-3.1zM122.5 190h5.6v3.1h-5.6zM125 192.5h3.1v3.1h-3.1z"/>
<path fill="#f7d340" d="M205 45h3.1v3.1h-3.1zM222.5 52.5h5.6v3.1h-5.6zM222.5 55h8.1v3.1h-8.1zM222.5 57.5h8.1v3.1h-8.1zM220 60h3.1v3.1h-3.1zM230 60h5.6v3.1h-5.6zM220 62.5h3.1v3.1h-3.1zM232.5 62.5h5.6v3.1h-5.6zM235 65h5.6v3.1h-5.6zM237.5 67.5h5.6v3.1h-5.6zM240 70h5.6v3.1h-5.6zM205 72.5h3.1v3.1h-3.1zM242.5 72.5h5.6v3.1h-5.6zM202.5 75h8.1v3.1h-8.1zM245 75h3.1v3.1h-3.1zM202.5 77.5h8.1v3.1h-8.1zM217.5 77.5h3.1v3.1h-3.1zM245 77.5h3.1v3.1h-3.1zM202.5 80h18.1v3.1h-18.1zM245 80h3.1v3.1h-3.1zM202.5 82.5h15.6v3.1h-15.6zM245 82.5h3.1v3.1h-3.1zM205 85h10.6v3.1h-10.6zM245 85h3.1v3.1h-3.1zM205 87.5h10.6v3.1h-10.6zM245 87.5h3.1v3.1h-3.1zM210 90h5.6v3.1h-5.6zM245 90h3.1v3.1h-3.1zM210 92.5h5.6v3.1h-5.6zM245 92.5h3.1v3.1h-3.1zM212.5 95h3.1v3.1h-3.1zM247.5 95h3.1v3.1h-3.1zM212.5 97.5h3.1v3.1h-3.1zM247.5 97.5h3.1v3.1h-3.1zM250 102.5h3.1v3.1h-3.1zM252.5 107.5h3.1v3.1h-3.1zM212.5 110h3.1v3.1h-3.1zM212.5 112.5h3.1v3.1h-3.1zM255 112.5h3.1v3.1h-3.1zM212.5 115h3.1v3.1h-3.1zM212.5 117.5h3.1v3.1h-3.1zM257.5 117.5h3.1v3.1h-3.1zM212.5 120h3.1v3.1h-3.1zM245 137.5h3.1v3.1h-3.1zM90 140h3.1v3.1h-3.1zM240 140h3.1v3.1h-3.1zM202.5 147.5h3.1v3.1h-3.1zM205 152.5h3.1v3.1h-3.1zM100 155h3.1v3.1h-3.1zM205 155h3.1v3.1h-3.1zM205 157.5h3.1v3.1h-3.1zM205 160h3.1v3.1h-3.1zM202.5 162.5h3.1v3.1h-3.1zM110 170h3.1v3.1h-3.1zM112.5 172.5h3.1v3.1h-3.1zM115 185h3.1v3.1h-3.1zM122.5 185h3.1v3.1h-3.1zM117.5 187.5h8.1v3.1h-8.1z"/>
<path fill="#f4df53" d="M222.5 60h8.1v3.1h-8.1zM230 62.5h3.1v3.1h-3.1zM220 65h3.1v3.1h-3.1zM232.5 65h3.1v3.1h-3.1zM220 67.5h3.1v3.1h-3.1zM235 67.5h3.1v3.1h-3.1zM220 70h3.1v3.1h-3.1zM237.5 70h3.1v3.1h-3.1zM220 72.5h3.1v3.1h-3.1zM237.5 72.5h5.6v3.1h-5.6zM220 75h3.1v3.1h-3.1zM240 75h5.6v3.1h-5.6zM220 77.5h3.1v3.1h-3.1zM242.5 77.5h3.1v3.1h-3.1zM242.5 80h3.1v3.1h-3.1zM217.5 82.5h3.1v3.1h-3.1zM242.5 82.5h3.1v3.1h-3.1zM215 85h5.6v3.1h-5.6zM242.5 85h3.1v3.1h-3.1zM215 87.5h3.1v3.1h-3.1zM242.5 87.5h3.1v3.1h-3.1zM215 90h3.1v3.1h-3.1zM215 92.5h3.1v3.1h-3.1zM215 95h3.1v3.1h-3.1zM245 95h3.1v3.1h-3.1zM212.5 100h3.1v3.1h-3.1zM247.5 100h3.1v3.1h-3.1zM212.5 102.5h3.1v3.1h-3.1zM212.5 105h3.1v3.1h-3.1zM250 105h3.1v3.1h-3.1zM212.5 107.5h3.1v3.1h-3.1zM265 132.5h3.1v3.1h-3.1zM265 135h3.1v3.1h-3.1zM215 137.5h3.1v3.1h-3.1zM242.5 137.5h3.1v3.1h-3.1zM235 140h5.6v3.1h-5.6zM95 147.5h3.1v3.1h-3.1zM202.5 150h3.1v3.1h-3.1zM202.5 152.5h3.1v3.1h-3.1zM202.5 155h3.1v3.1h-3.1zM202.5 157.5h3.1v3.1h-3.1zM92.5 160h3.1v3.1h-3.1zM202.5 160h3.1v3.1h-3.1zM97.5 167.5h3.1v3.1h-3.1zM117.5 180h3.1v3.1h-3.1zM112.5 182.5h3.1v3.1h-3.1zM120 182.5h3.1v3.1h-3.1zM117.5 185h5.6v3.1h-5.6z"/>
<path fill="#f2e865" d="M230 65h3.1v3.1h-3.1zM232.5 67.5h3.1v3.1h-3.1zM232.5 70h5.6v3.1h-5.6zM235 72.5h3.1v3.1h-3.1zM237.5 75h3.1v3.1h-3.1zM237.5 77.5h5.6v3.1h-5.6zM220 80h3.1v3.1h-3.1zM240 80h3.1v3.1h-3.1zM220 82.5h3.1v3.1h-3.1zM240 82.5h3.1v3.1h-3.1zM240 85h3.1v3.1h-3.1zM217.5 87.5h3.1v3.1h-3.1zM217.5 90h3.1v3.1h-3.1zM242.5 90h3.1v3.1h-3.1zM217.5 92.5h3.1v3.1h-3.1zM242.5 92.5h3.1v3.1h-3.1zM215 97.5h3.1v3.1h-3.1zM245 97.5h3.1v3.1h-3.1zM252.5 110h3.1v3.1h-3.1zM255 115h3.1v3.1h-3.1zM257.5 120h3.1v3.1h-3.1zM260 122.5h3.1v3.1h-3.1zM262.5 127.5h3.1v3.1h-3.1zM250 135h5.6v3.1h-5.6zM262.5 135h3.1v3.1h-3.1zM220 140h3.1v3.1h-3.1zM232.5 140h3.1v3.1h-3.1zM92.5 145h3.1v3.1h-3.1zM97.5 152.5h3.1v3.1h-3.1zM90 155h3.1v3.1h-3.1zM102.5 160h3.1v3.1h-3.1zM107.5 167.5h3.1v3.1h-3.1zM100 170h3.1v3.1h-3.1zM115 177.5h3.1v3.1h-3.1zM110 180h3.1v3.1h-3.1zM115 180h3.1v3.1h-3.1zM115 182.5h5.6v3.1h-5.6z"/>
<path fill="#f2f27d" d="M222.5 62.5h3.1v3.1h-3.1zM227.5 62.5h3.1v3.1h-3.1zM230 67.5h3.1v3.1h-3.1zM232.5 72.5h3.1v3.1h-3.1zM235 75h3.1v3.1h-3.1zM237.5 80h3.1v3.1h-3.1zM237.5 82.5h3.1v3.1h-3.1zM220 85h3.1v3.1h-3.1zM220 87.5h3.1v3.1h-3.1zM240 87.5h3.1v3.1h-3.1zM220 90h3.1v3.1h-3.1zM217.5 95h3.1v3.1h-3.1zM242.5 95h3.1v3.1h-3.1zM215 100h3.1v3.1h-3.1zM245 100h3.1v3.1h-3.1zM247.5 102.5h3.1v3.1h-3.1zM250 107.5h3.1v3.1h-3.1zM215 125h3.1v3.1h-3.1zM260 125h3.1v3.1h-3.1zM215 127.5h3.1v3.1h-3.1zM215 130h3.1v3.1h-3.1zM262.5 130h3.1v3.1h-3.1zM215 132.5h3.1v3.1h-3.1zM215 135h3.1v3.1h-3.1zM247.5 135h3.1v3.1h-3.1zM255 135h8.1v3.1h-8.1zM217.5 137.5h3.1v3.1h-3.1zM240 137.5h3.1v3.1h-3.1zM222.5 140h10.6v3.1h-10.6zM95 162.5h3.1v3.1h-3.1zM105 165h3.1v3.1h-3.1zM102.5 172.5h3.1v3.1h-3.1zM112.5 175h3.1v3.1h-3.1zM107.5 177.5h3.1v3.1h-3.1zM112.5 177.5h3.1v3.1h-3.1zM112.5 180h3.1v3.1h-3.1z"/>
<path fill="#f5f992" d="M225 62.5h3.1v3.1h-3.1zM222.5 65h3.1v3.1h-3.1zM227.5 65h3.1v3.1h-3.1zM222.5 67.5h3.1v3.1h-3.1zM222.5 70h3.1v3.1h-3.1zM230 70h3.1v3.1h-3.1zM222.5 72.5h3.1v3.1h-3.1zM230 72.5h3.1v3.1h-3.1zM222.5 75h3.1v3.1h-3.1zM232.5 75h3.1v3.1h-3.1zM222.5 77.5h3.1v3.1h-3.1zM235 77.5h3.1v3.1h-3.1zM222.5 80h3.1v3.1h-3.1zM235 80h3.1v3.1h-3.1zM222.5 82.5h3.1v3.1h-3.1zM222.5 85h3.1v3.1h-3.1zM237.5 85h3.1v3.1h-3.1zM237.5 87.5h3.1v3.1h-3.1zM240 90h3.1v3.1h-3.1zM220 92.5h3.1v3.1h-3.1zM240 92.5h3.1v3.1h-3.1zM220 95h3.1v3.1h-3.1zM217.5 97.5h3.1v3.1h-3.1zM242.5 97.5h3.1v3.1h-3.1zM215 102.5h3.1v3.1h-3.1zM215 105h3.1v3.1h-3.1zM247.5 105h3.1v3.1h-3.1zM215 107.5h3.1v3.1h-3.1zM215 110h3.1v3.1h-3.1zM250 110h3.1v3.1h-3.1zM215 112.5h3.1v3.1h-3.1zM252.5 112.5h3.1v3.1h-3.1zM215 115h3.1v3.1h-3.1zM252.5 115h3.1v3.1h-3.1zM215 117.5h3.1v3.1h-3.1zM255 117.5h3.1v3.1h-3.1zM215 120h3.1v3.1h-3.1zM255 120h3.1v3.1h-3.1zM215 122.5h3.1v3.1h-3.1zM257.5 122.5h3.1v3.1h-3.1zM260 127.5h3.1v3.1h-3.1zM250 132.5h5.6v3.1h-5.6zM262.5 132.5h3.1v3.1h-3.1zM242.5 135h5.6v3.1h-5.6zM220 137.5h3.1v3.1h-3.1zM232.5 137.5h8.1v3.1h-8.1zM90 142.5h3.1v3.1h-3.1zM95 150h3.1v3.1h-3.1zM90 152.5h3.1v3.1h-3.1zM92.5 157.5h3.1v3.1h-3.1zM100 157.5h3.1v3.1h-3.1zM102.5 162.5h3.1v3.1h-3.1zM97.5 165h3.1v3.1h-3.1zM110 172.5h3.1v3.1h-3.1zM105 175h8.1v3.1h-8.1zM110 177.5h3.1v3.1h-3.1z"/>
<path fill="#fcffa4" d="M225 65h3.1v3.1h-3.1zM225 67.5h5.6v3.1h-5.6zM225 70h5.6v3.1h-5.6zM225 72.5h5.6v3.1h-5.6zM225 75h8.1v3.1h-8.1zM225 77.5h10.6v3.1h-10.6zM225 80h10.6v3.1h-10.6zM225 82.5h13.1v3.1h-13.1zM225 85h13.1v3.1h-13.1zM222.5 87.5h15.6v3.1h-15.6zM222.5 90h18.1v3.1h-18.1zM222.5 92.5h18.1v3.1h-18.1zM222.5 95h20.6v3.1h-20.6zM220 97.5h23.1v3.1h-23.1zM217.5 100h28.1v3.1h-28.1zM217.5 102.5h30.6v3.1h-30.6zM217.5 105h30.6v3.1h-30.6zM217.5 107.5h33.1v3.1h-33.1zM217.5 110h33.1v3.1h-33.1zM217.5 112.5h35.6v3.1h-35.6zM217.5 115h35.6v3.1h-35.6zM217.5 117.5h38.1v3.1h-38.1zM217.5 120h38.1v3.1h-38.1zM217.5 122.5h40.6v3.1h-40.6zM217.5 125h43.1v3.1h-43.1zM217.5 127.5h43.1v3.1h-43.1zM217.5 130h45.6v3.1h-45.6zM217.5 132.5h33.1v3.1h-33.1zM255 132.5h8.1v3.1h-8.1zM217.5 135h25.6v3.1h-25.6zM222.5 137.5h10.6v3.1h-10.6zM90 145h3.1v3.1h-3.1zM90 147.5h5.6v3.1h-5.6zM90 150h5.6v3.1h-5.6zM92.5 152.5h5.6v3.1h-5.6zM92.5 155h8.1v3.1h-8.1zM95 157.5h5.6v3.1h-5.6zM95 160h8.1v3.1h-8.1zM97.5 162.5h5.6v3.1h-5.6zM100 165h5.6v3.1h-5.6zM100 167.5h8.1v3.1h-8.1zM102.5 170h8.1v3.1h-8.1zM105 172.5h5.6v3.1h-5.6z"/></g></g>
<g clip-path="url(#clipPanelA)" fill="none">
<path d="M111.0 -2.0C111.5 0.0 113.0 6.3 114.0 10.0C115.0 13.7 115.7 16.7 117.0 20.0C118.3 23.3 119.1 25.3 122.0 30.0C124.9 34.7 128.1 43.4 134.4 48.3C140.7 53.2 153.1 57.2 160.0 59.4C166.9 61.6 169.3 61.7 176.0 61.5C182.7 61.3 193.5 59.9 200.0 58.0C206.5 56.1 210.0 54.4 215.0 50.0C220.0 45.6 226.3 37.5 229.8 31.7C233.3 25.9 234.6 20.6 236.0 15.0C237.4 9.4 237.9 0.8 238.3 -2.0" stroke="#b4b4b4" stroke-width="0.8" stroke-dasharray="2 1.2" opacity="0.9"/>
<path d="M62.0 58.0C63.5 60.0 67.8 65.5 71.3 70.0C74.8 74.5 78.8 80.6 82.9 85.0C87.0 89.4 92.7 93.5 96.0 96.4C99.3 99.3 99.0 100.2 103.0 102.6C107.0 105.0 113.8 108.4 120.0 111.0C126.2 113.6 135.0 116.3 140.0 118.0C145.0 119.7 143.3 119.8 150.0 121.0C156.7 122.2 170.0 125.0 180.0 125.0C190.0 125.0 200.0 123.5 210.0 121.0C220.0 118.5 232.5 113.5 240.0 110.0C247.5 106.5 250.3 104.0 255.0 100.0C259.7 96.0 263.8 91.3 268.0 86.0C272.2 80.7 276.3 74.8 280.0 68.0C283.7 61.2 287.3 53.0 290.0 45.0C292.7 37.0 294.7 27.8 296.0 20.0C297.3 12.2 297.7 1.7 298.0 -2.0" stroke="#b4b4b4" stroke-width="0.8" stroke-dasharray="2 1.2" opacity="0.9"/>
<path d="M60.0 153.0C61.5 153.8 66.3 156.3 69.2 158.0C72.1 159.7 72.5 160.7 77.3 163.0C82.0 165.3 90.6 168.9 97.7 171.7C104.8 174.5 113.6 177.7 120.0 180.0C126.4 182.3 131.0 183.9 136.0 185.4C141.0 186.9 142.7 188.1 150.0 189.0C157.3 189.9 171.7 190.9 180.0 191.0C188.3 191.1 190.3 191.3 200.0 189.5C209.7 187.7 229.7 182.6 238.0 180.0C246.3 177.4 244.7 176.8 250.0 174.0C255.3 171.2 264.0 166.7 270.0 163.0C276.0 159.3 280.0 155.8 286.0 152.0C292.0 148.2 302.7 142.0 306.0 140.0" stroke="#b4b4b4" stroke-width="0.8" stroke-dasharray="2 1.2" opacity="0.9"/>
<path d="M60.0 229.0C61.5 229.8 64.8 231.7 69.0 234.0C73.2 236.3 79.8 240.3 85.0 243.0C90.2 245.7 95.8 247.8 100.0 250.0C104.2 252.2 108.3 255.0 110.0 256.0" stroke="#b4b4b4" stroke-width="0.8" stroke-dasharray="2 1.2" opacity="0.9"/>
<path d="M235.0 256.0C237.0 254.8 240.4 251.8 247.0 248.5C253.6 245.2 265.2 240.0 274.6 236.2C284.0 232.3 297.4 227.8 303.6 225.4C309.8 223.0 310.6 222.6 312.0 222.0" stroke="#b4b4b4" stroke-width="0.8" stroke-dasharray="2 1.2" opacity="0.9"/>
<path d="M176.5 61.5L176.5 250.0 M155.3 57L146.7 90L121.7 150L104 200L88 250 M199 58L212.6 100L230.2 150L242.3 180L257 222.3L266 250 M134.4 48.3L102.3 90L92.4 100L69.2 126.4L60 137 M215 50L236 73.3L265.6 105.3L306 149 M122 31L90 49.6L69 62.5L60 68 M229.8 31.7L256 47.1L306 69.3 M69 19L85 15.8L105 13.2L112 12.3 M238 12L256 14.8L285.6 20L304 22.5" stroke="#b4b4b4" stroke-width="0.8" stroke-dasharray="2 1.2" opacity="0.9"/>
<path d="M110.2 -1.4 L106.1 2.7 L102.3 6.9 L98.8 11.2 L95.5 15.6 L92.6 20.1 L89.9 24.8 L87.5 29.5 L85.3 34.3 L83.5 39.1 L81.8 44.1 L80.5 49.1 L79.3 54.1 L78.4 59.2 L77.8 64.4 L77.4 69.6 L77.2 74.8 L77.3 80.0 L77.5 85.2 L78.0 90.4 L78.7 95.7 L79.6 100.9 L80.7 106.1 L82.0 111.3 L83.4 116.5 L85.1 121.6 L87.0 126.7 L89.0 131.7 L91.2 136.7 L93.6 141.6 L96.1 146.4 L98.8 151.2 L101.6 155.8 L104.6 160.4 L107.7 164.9 L111.0 169.3 L114.4 173.5 L118.0 177.7 L121.6 181.7 L125.4 185.6 L129.3 189.3 L133.3 192.9 L137.4 196.3 L141.6 199.6 L146.0 202.7 L150.4 205.6 L154.9 208.3 L159.4 210.9 L164.1 213.3 L168.8 215.4 L173.6 217.3 L178.5 219.1 L183.4 220.6 L188.4 221.8 L193.4 222.9 L198.5 223.6 L203.6 224.2 L208.7 224.4 L213.9 224.4 L219.1 224.2 L224.3 223.6 L229.5 222.8 L234.8 221.6 L240.0 220.2 L245.1 218.5 L250.0 216.5 L254.9 214.2 L259.5 211.6 L263.9 208.7 L268.0 205.5 L271.8 202.1 L275.2 198.3 L278.3 194.3 L280.9 190.0 L283.2 185.5 L285.1 180.8 L286.5 176.0 L287.6 171.0 L288.2 166.0 L288.5 161.0 L288.3 155.9 L287.8 150.8 L286.9 145.8 L285.6 140.7 L284.1 135.6 L282.3 130.6 L280.2 125.6 L277.9 120.6 L275.4 115.7 L272.7 110.8 L269.8 106.0 L266.9 101.2 L263.8 96.5 L260.6 91.9 L257.4 87.4 L254.2 82.9 L250.9 78.5 L247.6 74.3 L244.2 70.1 L240.8 66.0 L237.4 62.0 L234.0 58.0 L230.5 54.1 L226.9 50.3 L223.4 46.6 L219.7 42.9 L216.0 39.3 L212.3 35.8 L208.5 32.3 L204.6 28.9 L200.7 25.5 L196.8 22.2 L192.7 18.9 L188.6 15.7 L184.4 12.5 L180.2 9.4 L175.9 6.3 L171.5 3.2 L167.0 0.2 L162.4 -2.8" stroke="#e2e2e2" stroke-width="1.0"/>
<path d="M83.2 -2.0 L80.5 3.1 L78.0 8.3 L75.8 13.5 L73.8 18.7 L72.0 24.0 L70.4 29.4 L69.0 34.7 L67.8 40.1 L66.8 45.4 L66.0 50.8 L65.4 56.3 L65.0 61.7 L64.9 67.1 L64.8 72.5 L65.0 77.9 L65.4 83.2 L65.9 88.6 L66.7 93.9 L67.6 99.3 L68.7 104.5 L69.9 109.8 L71.3 115.0 L72.9 120.1 L74.7 125.2 L76.6 130.3 L78.7 135.3 L80.9 140.2 L83.3 145.1 L85.9 149.8 L88.6 154.6 L91.4 159.2 L94.4 163.7 L97.6 168.2 L100.8 172.6 L104.3 176.8 L107.9 181.0 L111.6 185.1 L115.4 189.1 L119.4 192.9 L123.6 196.7 L127.8 200.3 L132.3 203.8 L136.8 207.2 L141.5 210.4 L146.3 213.6 L151.2 216.5 L156.2 219.4 L161.3 222.0 L166.5 224.5 L171.7 226.8 L177.1 228.9 L182.4 230.8 L187.8 232.5 L193.3 234.0 L198.7 235.2 L204.2 236.2 L209.6 237.0 L215.0 237.4 L220.4 237.6 L225.8 237.5 L231.1 237.2 L236.3 236.5 L241.4 235.5 L246.5 234.2 L251.5 232.5 L256.3 230.5 L261.1 228.2 L265.7 225.6 L270.1 222.7 L274.3 219.5 L278.4 216.0 L282.2 212.3 L285.7 208.4 L289.1 204.3 L292.1 199.9 L294.9 195.4 L297.3 190.7 L299.5 185.8 L301.2 180.9 L302.7 175.8 L303.8 170.5 L304.7 165.3 L305.2 159.9 L305.3 154.5 L305.2 149.1 L304.8 143.7 L304.1 138.4 L303.1 133.0 L301.8 127.8 L300.2 122.6 L298.4 117.4 L296.3 112.4 L294.0 107.4 L291.5 102.5 L288.8 97.7 L285.9 93.0 L282.8 88.3 L279.5 83.7 L276.1 79.2 L272.6 74.7 L269.0 70.3 L265.3 66.0 L261.5 61.7 L257.7 57.4 L253.8 53.3 L249.9 49.2 L245.9 45.1 L242.0 41.1 L238.1 37.1 L234.2 33.2 L230.3 29.3 L226.5 25.4 L222.7 21.6 L219.1 17.8 L215.5 14.0 L211.9 10.2 L208.6 6.3 L205.3 2.5 L202.1 -1.3" stroke="#e2e2e2" stroke-width="1.0"/>
<path d="M58.0 128.0C59.9 131.4 65.6 142.0 69.1 148.2C72.5 154.4 75.2 159.9 78.7 165.0C82.2 170.1 86.5 174.8 90.0 179.0C93.5 183.2 96.9 186.8 100.0 190.3C103.1 193.8 101.8 194.1 108.5 200.0C115.2 205.9 127.7 217.6 140.0 225.9C152.3 234.2 172.3 244.7 182.3 250.0C192.3 255.3 197.1 256.7 200.0 258.0" stroke="#e2e2e2" stroke-width="1.0"/>
<path d="M250.0 262.0C254.1 259.8 267.9 252.6 274.6 249.0C281.3 245.4 285.4 243.3 290.0 240.5C294.6 237.7 298.3 235.0 302.5 231.9C306.7 228.8 312.9 223.7 315.0 222.0" stroke="#e2e2e2" stroke-width="1.0"/>
<path d="M318.0 68.0C316.0 66.2 314.3 65.0 306.0 57.0C297.7 49.0 277.7 29.7 268.3 20.0C258.9 10.3 255.0 4.3 249.9 -1.0C244.8 -6.3 240.0 -10.2 238.0 -12.0" stroke="#e2e2e2" stroke-width="1.0"/>
<path d="M130.0 -2.0 L125.1 0.2 L120.5 2.7 L116.2 5.5 L112.3 8.6 L108.6 11.9 L105.3 15.5 L102.2 19.4 L99.4 23.4 L96.9 27.7 L94.6 32.1 L92.5 36.7 L90.7 41.4 L89.1 46.2 L87.7 51.1 L86.5 56.1 L85.5 61.1 L84.7 66.2 L84.1 71.4 L83.6 76.5 L83.4 81.7 L83.3 86.9 L83.5 92.0 L83.8 97.1 L84.3 102.2 L85.0 107.3 L85.9 112.2 L86.9 117.1 L88.1 121.9 L89.6 126.6 L91.2 131.3 L92.9 135.8 L94.9 140.3 L97.0 144.6 L99.3 148.9 L101.8 153.2 L104.5 157.3 L107.3 161.4 L110.3 165.4 L113.5 169.3 L116.8 173.1 L120.4 176.9 L124.1 180.6 L127.9 184.2 L131.9 187.7 L136.1 191.1 L140.3 194.4 L144.7 197.5 L149.2 200.5 L153.8 203.3 L158.5 206.0 L163.2 208.4 L168.0 210.7 L172.9 212.7 L177.8 214.5 L182.8 216.0 L187.7 217.3 L192.7 218.3 L197.7 219.0 L202.6 219.4 L207.6 219.5 L212.5 219.2 L217.4 218.6 L222.2 217.7 L227.0 216.4 L231.6 214.7 L236.2 212.6 L240.7 210.2 L245.0 207.5 L249.0 204.5 L252.9 201.3 L256.5 197.7 L259.9 194.0 L262.9 190.1 L265.5 186.0 L267.8 181.8 L269.7 177.4 L271.1 173.0 L272.1 168.5 L272.6 164.0 L272.6 159.4 L272.2 154.7 L271.5 150.1 L270.4 145.4 L269.0 140.7 L267.4 135.9 L265.5 131.2 L263.4 126.4 L261.1 121.7 L258.7 117.0 L256.1 112.3 L253.5 107.6 L250.9 102.9 L248.2 98.3 L245.6 93.7 L243.0 89.1 L240.4 84.6 L237.8 80.1 L235.2 75.7 L232.5 71.3 L229.9 67.0 L227.2 62.8 L224.5 58.6 L221.7 54.4 L218.9 50.3 L216.0 46.3 L213.0 42.4 L210.0 38.6 L206.9 34.8 L203.7 31.1 L200.4 27.5 L196.9 23.9 L193.4 20.5 L189.8 17.1 L186.0 13.9 L182.0 10.7 L178.0 7.7 L173.7 4.7 L169.3 1.8 L164.8 -0.9" stroke="#22c4bc" stroke-width="1.2" stroke-dasharray="1.2 0.6"/>
<rect x="186.7" y="60.9" width="35.9" height="35.8" fill="none" stroke="#2ee6e0" stroke-width="1.9"/>
<line x1="69" y1="0.4" x2="304.5" y2="0.4" stroke="#c8c8c8" stroke-width="0.9"/>
</g>
<text x="70.11" y="16.14" font-size="15.10" textLength="21.51" lengthAdjust="spacingAndGlyphs" fill="#ffffff" font-family='"Liberation Sans", sans-serif'>(a)</text>
<text x="202.46" y="51.10" font-size="11.71" textLength="27.73" lengthAdjust="spacingAndGlyphs" fill="#ffffff" font-family='"Liberation Sans", sans-serif'>80°N</text>
<text x="243.00" y="99.80" font-size="11.71" textLength="27.73" lengthAdjust="spacingAndGlyphs" fill="#ffffff" font-family='"Liberation Sans", sans-serif'>70°N</text>
<text x="284.54" y="150.00" font-size="11.71" textLength="19.50" lengthAdjust="spacingAndGlyphs" fill="#ffffff" font-family='"Liberation Sans", sans-serif'>60°</text>
<text x="71.90" y="242.50" font-size="11.71" textLength="26.50" lengthAdjust="spacingAndGlyphs" fill="#ffffff" font-family='"Liberation Sans", sans-serif'>200°</text>
<text x="162.00" y="241.80" font-size="11.71" textLength="26.50" lengthAdjust="spacingAndGlyphs" fill="#ffffff" font-family='"Liberation Sans", sans-serif'>180°</text>
<text x="252.00" y="243.00" font-size="11.71" textLength="26.50" lengthAdjust="spacingAndGlyphs" fill="#ffffff" font-family='"Liberation Sans", sans-serif'>160°</text>
<polygon points="9.35,15.4 18.0,25.6 0.7,25.6" fill="#fcffa4"/>
<polygon points="0.7,233.4 18.0,233.4 9.35,243.6" fill="#000004"/>
<rect x="0.7" y="25.3" width="17.3" height="208.4" fill="url(#cbL)"/>
<polygon points="9.35,15.4 18.0,25.6 18.0,233.4 9.35,243.6 0.7,233.4 0.7,25.6" fill="none" stroke="#000" stroke-width="1.3"/>
<line x1="14.4" y1="193.68" x2="18.0" y2="193.68" stroke="#000" stroke-width="1.1"/>
<line x1="16.0" y1="156.88" x2="18.0" y2="156.88" stroke="#000" stroke-width="1.1"/>
<line x1="16.0" y1="130.77" x2="18.0" y2="130.77" stroke="#000" stroke-width="1.1"/>
<line x1="14.4" y1="110.52" x2="18.0" y2="110.52" stroke="#000" stroke-width="1.1"/>
<line x1="16.0" y1="93.97" x2="18.0" y2="93.97" stroke="#000" stroke-width="1.1"/>
<line x1="16.0" y1="79.97" x2="18.0" y2="79.97" stroke="#000" stroke-width="1.1"/>
<line x1="16.0" y1="67.85" x2="18.0" y2="67.85" stroke="#000" stroke-width="1.1"/>
<line x1="16.0" y1="57.16" x2="18.0" y2="57.16" stroke="#000" stroke-width="1.1"/>
<line x1="14.4" y1="47.60" x2="18.0" y2="47.60" stroke="#000" stroke-width="1.1"/>
<text x="21.80" y="53.10" font-size="15.66" textLength="28.06" lengthAdjust="spacingAndGlyphs" fill="#000" font-family='"Liberation Sans", sans-serif'>100</text>
<text x="22.27" y="116.02" font-size="15.66" textLength="18.71" lengthAdjust="spacingAndGlyphs" fill="#000" font-family='"Liberation Sans", sans-serif'>50</text>
<text x="22.33" y="199.18" font-size="15.66" textLength="18.71" lengthAdjust="spacingAndGlyphs" fill="#000" font-family='"Liberation Sans", sans-serif'>20</text>
<polygon points="627.3,6.5 636.1,11.8 618.5,11.8" fill="#fcffa4"/>
<polygon points="618.5,122.5 636.1,122.5 627.3,128.2" fill="#000004"/>
<rect x="618.5" y="11.5" width="17.600000000000023" height="111.3" fill="url(#cbR)"/>
<polygon points="627.3,6.5 636.1,11.8 636.1,122.5 627.3,128.2 618.5,122.5 618.5,11.8" fill="none" stroke="#000" stroke-width="1.3"/>
<line x1="634.1" y1="111.12" x2="636.1" y2="111.12" stroke="#000" stroke-width="1.1"/>
<line x1="632.5" y1="93.80" x2="636.1" y2="93.80" stroke="#000" stroke-width="1.1"/>
<line x1="634.1" y1="76.47" x2="636.1" y2="76.47" stroke="#000" stroke-width="1.1"/>
<line x1="632.5" y1="59.15" x2="636.1" y2="59.15" stroke="#000" stroke-width="1.1"/>
<line x1="634.1" y1="41.83" x2="636.1" y2="41.83" stroke="#000" stroke-width="1.1"/>
<line x1="632.5" y1="24.50" x2="636.1" y2="24.50" stroke="#000" stroke-width="1.1"/>
<text x="639.60" y="30.00" font-size="15.66" textLength="28.06" lengthAdjust="spacingAndGlyphs" fill="#000" font-family='"Liberation Sans", sans-serif'>120</text>
<text x="639.60" y="64.65" font-size="15.66" textLength="28.06" lengthAdjust="spacingAndGlyphs" fill="#000" font-family='"Liberation Sans", sans-serif'>100</text>
<text x="640.22" y="99.30" font-size="15.66" textLength="18.71" lengthAdjust="spacingAndGlyphs" fill="#000" font-family='"Liberation Sans", sans-serif'>80</text>
<g clip-path="url(#clip_c)"><rect x="377.7" y="6.6" width="56.7" height="56.5" fill="#000"/><g filter="url(#blurI)"><path fill="#02020e" d="M377.7 17.94h4.28v2.39h-4.28zM377.7 19.83h6.17v2.39h-6.17zM377.7 21.72h6.17v2.39h-6.17zM377.7 23.61h9.95v2.39h-9.95zM377.7 25.5h11.84v2.39h-11.84zM377.7 27.39h11.84v2.39h-11.84zM377.7 29.28h11.84v2.39h-11.84zM377.7 31.17h11.84v2.39h-11.84zM377.7 33.06h9.95v2.39h-9.95zM377.7 34.95h9.95v2.39h-9.95zM377.7 36.84h9.95v2.39h-9.95zM377.7 38.73h9.95v2.39h-9.95zM377.7 40.62h6.17v2.39h-6.17zM377.7 42.51h6.17v2.39h-6.17zM377.7 44.4h4.28v2.39h-4.28z"/>
<path fill="#08051d" d="M377.7 14.16h6.17v2.39h-6.17zM377.7 16.05h8.06v2.39h-8.06zM381.48 17.94h6.17v2.39h-6.17zM383.37 19.83h6.17v2.39h-6.17zM383.37 21.72h8.06v2.39h-8.06zM387.15 23.61h6.17v2.39h-6.17zM389.04 25.5h4.28v2.39h-4.28zM389.04 27.39h4.28v2.39h-4.28zM389.04 29.28h4.28v2.39h-4.28zM389.04 31.17h4.28v2.39h-4.28zM387.15 33.06h6.17v2.39h-6.17zM387.15 34.95h4.28v2.39h-4.28zM387.15 36.84h4.28v2.39h-4.28zM383.37 40.62h4.28v2.39h-4.28zM383.37 42.51h4.28v2.39h-4.28zM381.48 44.4h2.39v2.39h-2.39zM377.7 46.29h4.28v2.39h-4.28zM377.7 48.18h4.28v2.39h-4.28z"/>
<path fill="#0e092b" d="M377.7 12.27h4.28v2.39h-4.28zM383.37 14.16h4.28v2.39h-4.28zM385.26 16.05h2.39v2.39h-2.39zM387.15 17.94h2.39v2.39h-2.39zM389.04 19.83h4.28v2.39h-4.28zM390.93 21.72h2.39v2.39h-2.39zM390.93 34.95h2.39v2.39h-2.39zM390.93 36.84h2.39v2.39h-2.39zM387.15 38.73h2.39v2.39h-2.39zM387.15 40.62h2.39v2.39h-2.39zM383.37 44.4h4.28v2.39h-4.28zM381.48 46.29h2.39v2.39h-2.39zM381.48 48.18h2.39v2.39h-2.39zM377.7 50.07h4.28v2.39h-4.28zM377.7 51.96h4.28v2.39h-4.28z"/>
<path fill="#180c3c" d="M381.48 12.27h4.28v2.39h-4.28zM387.15 16.05h2.39v2.39h-2.39zM389.04 17.94h2.39v2.39h-2.39zM389.04 38.73h2.39v2.39h-2.39zM387.15 42.51h2.39v2.39h-2.39zM383.37 46.29h2.39v2.39h-2.39zM381.48 50.07h2.39v2.39h-2.39zM377.7 53.85h4.28v2.39h-4.28z"/>
<path fill="#210c4a" d="M377.7 10.38h6.17v2.39h-6.17zM385.26 12.27h2.39v2.39h-2.39zM387.15 14.16h2.39v2.39h-2.39zM390.93 17.94h2.39v2.39h-2.39zM392.82 23.61h2.39v2.39h-2.39zM392.82 25.5h2.39v2.39h-2.39zM392.82 27.39h2.39v2.39h-2.39zM392.82 29.28h2.39v2.39h-2.39zM392.82 31.17h2.39v2.39h-2.39zM392.82 33.06h2.39v2.39h-2.39zM390.93 38.73h2.39v2.39h-2.39zM389.04 40.62h2.39v2.39h-2.39zM387.15 44.4h2.39v2.39h-2.39zM385.26 46.29h2.39v2.39h-2.39zM383.37 48.18h2.39v2.39h-2.39zM381.48 51.96h2.39v2.39h-2.39zM377.7 55.74h4.28v2.39h-4.28z"/>
<path fill="#2d0b59" d="M377.7 6.6h6.17v2.39h-6.17zM377.7 8.49h6.17v2.39h-6.17zM383.37 10.38h4.28v2.39h-4.28zM387.15 12.27h2.39v2.39h-2.39zM389.04 16.05h2.39v2.39h-2.39zM392.82 19.83h2.39v2.39h-2.39zM392.82 21.72h2.39v2.39h-2.39zM392.82 34.95h2.39v2.39h-2.39zM392.82 36.84h2.39v2.39h-2.39zM390.93 40.62h2.39v2.39h-2.39zM389.04 42.51h2.39v2.39h-2.39zM387.15 46.29h2.39v2.39h-2.39zM385.26 48.18h2.39v2.39h-2.39zM383.37 50.07h2.39v2.39h-2.39zM381.48 53.85h2.39v2.39h-2.39zM377.7 57.63h4.28v2.39h-4.28z"/>
<path fill="#380962" d="M383.37 6.6h2.39v2.39h-2.39zM383.37 8.49h2.39v2.39h-2.39zM387.15 10.38h2.39v2.39h-2.39zM392.82 38.73h2.39v2.39h-2.39zM389.04 44.4h2.39v2.39h-2.39zM385.26 50.07h2.39v2.39h-2.39zM383.37 51.96h2.39v2.39h-2.39zM381.48 55.74h2.39v2.39h-2.39z"/>
<path fill="#440a68" d="M385.26 6.6h4.28v2.39h-4.28zM385.26 8.49h4.28v2.39h-4.28zM389.04 12.27h2.39v2.39h-2.39zM389.04 14.16h2.39v2.39h-2.39zM390.93 16.05h2.39v2.39h-2.39zM392.82 17.94h2.39v2.39h-2.39zM394.71 25.5h2.39v2.39h-2.39zM394.71 27.39h2.39v2.39h-2.39zM394.71 29.28h2.39v2.39h-2.39zM394.71 31.17h2.39v2.39h-2.39zM392.82 40.62h2.39v2.39h-2.39zM390.93 42.51h2.39v2.39h-2.39zM389.04 46.29h2.39v2.39h-2.39zM387.15 48.18h2.39v2.39h-2.39zM385.26 51.96h2.39v2.39h-2.39zM383.37 53.85h2.39v2.39h-2.39zM381.48 57.63h2.39v2.39h-2.39zM377.7 59.52h4.28v2.39h-4.28zM377.7 61.41h4.28v2.39h-4.28z"/>
<path fill="#4f0d6c" d="M389.04 6.6h2.39v2.39h-2.39zM389.04 8.49h2.39v2.39h-2.39zM389.04 10.38h2.39v2.39h-2.39zM392.82 16.05h2.39v2.39h-2.39zM394.71 19.83h2.39v2.39h-2.39zM394.71 21.72h2.39v2.39h-2.39zM394.71 23.61h2.39v2.39h-2.39zM394.71 33.06h2.39v2.39h-2.39zM394.71 34.95h2.39v2.39h-2.39zM394.71 36.84h2.39v2.39h-2.39zM390.93 44.4h2.39v2.39h-2.39zM387.15 50.07h2.39v2.39h-2.39zM383.37 55.74h2.39v2.39h-2.39zM381.48 59.52h2.39v2.39h-2.39zM381.48 61.41h2.39v2.39h-2.39z"/>
<path fill="#59106e" d="M390.93 6.6h4.28v2.39h-4.28zM390.93 8.49h4.28v2.39h-4.28zM390.93 10.38h2.39v2.39h-2.39zM390.93 12.27h2.39v2.39h-2.39zM390.93 14.16h2.39v2.39h-2.39zM394.71 17.94h2.39v2.39h-2.39zM394.71 38.73h2.39v2.39h-2.39zM392.82 42.51h2.39v2.39h-2.39zM390.93 46.29h2.39v2.39h-2.39zM389.04 48.18h2.39v2.39h-2.39zM389.04 50.07h2.39v2.39h-2.39zM387.15 51.96h2.39v2.39h-2.39zM385.26 53.85h4.28v2.39h-4.28zM385.26 55.74h2.39v2.39h-2.39zM383.37 57.63h2.39v2.39h-2.39zM383.37 59.52h2.39v2.39h-2.39zM383.37 61.41h2.39v2.39h-2.39z"/>
<path fill="#64156e" d="M394.71 6.6h2.39v2.39h-2.39zM394.71 8.49h2.39v2.39h-2.39zM392.82 10.38h4.28v2.39h-4.28zM392.82 12.27h2.39v2.39h-2.39zM392.82 14.16h2.39v2.39h-2.39zM394.71 16.05h2.39v2.39h-2.39zM394.71 40.62h2.39v2.39h-2.39zM392.82 44.4h2.39v2.39h-2.39zM392.82 46.29h2.39v2.39h-2.39zM389.04 51.96h2.39v2.39h-2.39zM389.04 53.85h2.39v2.39h-2.39zM387.15 55.74h4.28v2.39h-4.28zM385.26 57.63h6.17v2.39h-6.17z"/>
<path fill="#6d186e" d="M396.6 6.6h2.39v2.39h-2.39zM396.6 8.49h2.39v2.39h-2.39zM396.6 10.38h2.39v2.39h-2.39zM394.71 12.27h2.39v2.39h-2.39zM394.71 14.16h2.39v2.39h-2.39zM396.6 17.94h2.39v2.39h-2.39zM396.6 19.83h2.39v2.39h-2.39zM396.6 21.72h2.39v2.39h-2.39zM396.6 23.61h2.39v2.39h-2.39zM396.6 25.5h2.39v2.39h-2.39zM396.6 27.39h2.39v2.39h-2.39zM396.6 29.28h2.39v2.39h-2.39zM396.6 31.17h2.39v2.39h-2.39zM396.6 33.06h2.39v2.39h-2.39zM396.6 34.95h2.39v2.39h-2.39zM396.6 36.84h2.39v2.39h-2.39zM396.6 38.73h2.39v2.39h-2.39zM394.71 42.51h2.39v2.39h-2.39zM394.71 44.4h2.39v2.39h-2.39zM390.93 48.18h4.28v2.39h-4.28zM390.93 50.07h4.28v2.39h-4.28zM390.93 51.96h4.28v2.39h-4.28zM390.93 53.85h4.28v2.39h-4.28zM390.93 55.74h4.28v2.39h-4.28zM390.93 57.63h4.28v2.39h-4.28zM385.26 59.52h9.95v2.39h-9.95zM385.26 61.41h9.95v2.39h-9.95z"/>
<path fill="#781c6d" d="M396.6 12.27h2.39v2.39h-2.39zM396.6 16.05h2.39v2.39h-2.39zM396.6 40.62h2.39v2.39h-2.39zM394.71 46.29h2.39v2.39h-2.39zM394.71 48.18h2.39v2.39h-2.39zM394.71 50.07h2.39v2.39h-2.39zM394.71 51.96h2.39v2.39h-2.39zM394.71 53.85h2.39v2.39h-2.39zM394.71 55.74h2.39v2.39h-2.39zM394.71 57.63h2.39v2.39h-2.39zM394.71 59.52h2.39v2.39h-2.39zM394.71 61.41h2.39v2.39h-2.39z"/>
<path fill="#82206c" d="M398.49 6.6h2.39v2.39h-2.39zM398.49 8.49h2.39v2.39h-2.39zM396.6 14.16h2.39v2.39h-2.39zM396.6 42.51h2.39v2.39h-2.39zM396.6 44.4h2.39v2.39h-2.39zM396.6 46.29h2.39v2.39h-2.39zM396.6 48.18h4.28v2.39h-4.28zM396.6 50.07h4.28v2.39h-4.28zM396.6 51.96h4.28v2.39h-4.28zM396.6 53.85h4.28v2.39h-4.28zM396.6 55.74h4.28v2.39h-4.28zM396.6 57.63h4.28v2.39h-4.28zM396.6 59.52h4.28v2.39h-4.28zM396.6 61.41h4.28v2.39h-4.28z"/>
<path fill="#8d2369" d="M398.49 10.38h2.39v2.39h-2.39zM398.49 34.95h2.39v2.39h-2.39zM398.49 36.84h2.39v2.39h-2.39zM398.49 38.73h2.39v2.39h-2.39zM398.49 40.62h2.39v2.39h-2.39zM398.49 42.51h2.39v2.39h-2.39zM398.49 44.4h2.39v2.39h-2.39zM398.49 46.29h4.28v2.39h-4.28zM400.38 48.18h2.39v2.39h-2.39zM400.38 50.07h2.39v2.39h-2.39zM400.38 51.96h2.39v2.39h-2.39zM400.38 53.85h2.39v2.39h-2.39zM400.38 55.74h2.39v2.39h-2.39zM400.38 57.63h2.39v2.39h-2.39zM400.38 59.52h2.39v2.39h-2.39zM400.38 61.41h2.39v2.39h-2.39z"/>
<path fill="#982766" d="M400.38 6.6h2.39v2.39h-2.39zM423.06 6.6h11.84v2.39h-11.84zM400.38 8.49h2.39v2.39h-2.39zM423.06 8.49h11.84v2.39h-11.84zM423.06 10.38h11.84v2.39h-11.84zM398.49 12.27h2.39v2.39h-2.39zM423.06 12.27h8.06v2.39h-8.06zM423.06 14.16h6.17v2.39h-6.17zM424.95 16.05h2.39v2.39h-2.39zM398.49 17.94h2.39v2.39h-2.39zM398.49 19.83h2.39v2.39h-2.39zM398.49 21.72h2.39v2.39h-2.39zM398.49 23.61h2.39v2.39h-2.39zM398.49 25.5h2.39v2.39h-2.39zM398.49 27.39h2.39v2.39h-2.39zM398.49 29.28h2.39v2.39h-2.39zM398.49 31.17h2.39v2.39h-2.39zM398.49 33.06h2.39v2.39h-2.39zM400.38 42.51h2.39v2.39h-2.39zM400.38 44.4h2.39v2.39h-2.39zM402.27 46.29h2.39v2.39h-2.39zM402.27 48.18h2.39v2.39h-2.39zM402.27 50.07h2.39v2.39h-2.39zM402.27 51.96h2.39v2.39h-2.39zM402.27 53.85h4.28v2.39h-4.28zM402.27 55.74h6.17v2.39h-6.17zM402.27 57.63h8.06v2.39h-8.06zM402.27 59.52h9.95v2.39h-9.95zM402.27 61.41h9.95v2.39h-9.95z"/>
<path fill="#a22b62" d="M421.17 6.6h2.39v2.39h-2.39zM421.17 8.49h2.39v2.39h-2.39zM400.38 10.38h2.39v2.39h-2.39zM421.17 10.38h2.39v2.39h-2.39zM421.17 12.27h2.39v2.39h-2.39zM430.62 12.27h4.28v2.39h-4.28zM398.49 14.16h2.39v2.39h-2.39zM421.17 14.16h2.39v2.39h-2.39zM428.73 14.16h2.39v2.39h-2.39zM398.49 16.05h2.39v2.39h-2.39zM423.06 16.05h2.39v2.39h-2.39zM426.84 16.05h2.39v2.39h-2.39zM424.95 17.94h2.39v2.39h-2.39zM400.38 40.62h2.39v2.39h-2.39zM402.27 44.4h2.39v2.39h-2.39zM404.16 50.07h2.39v2.39h-2.39zM404.16 51.96h2.39v2.39h-2.39zM406.05 53.85h2.39v2.39h-2.39zM407.94 55.74h2.39v2.39h-2.39zM409.83 57.63h2.39v2.39h-2.39zM411.72 59.52h2.39v2.39h-2.39zM411.72 61.41h2.39v2.39h-2.39z"/>
<path fill="#ad305d" d="M402.27 6.6h2.39v2.39h-2.39zM417.39 6.6h4.28v2.39h-4.28zM402.27 8.49h2.39v2.39h-2.39zM417.39 8.49h4.28v2.39h-4.28zM417.39 10.38h4.28v2.39h-4.28zM417.39 12.27h4.28v2.39h-4.28zM417.39 14.16h4.28v2.39h-4.28zM430.62 14.16h4.28v2.39h-4.28zM421.17 16.05h2.39v2.39h-2.39zM428.73 16.05h2.39v2.39h-2.39zM423.06 17.94h2.39v2.39h-2.39zM426.84 17.94h2.39v2.39h-2.39zM424.95 19.83h2.39v2.39h-2.39zM424.95 21.72h2.39v2.39h-2.39zM424.95 23.61h2.39v2.39h-2.39zM424.95 25.5h2.39v2.39h-2.39zM424.95 27.39h2.39v2.39h-2.39zM424.95 29.28h2.39v2.39h-2.39zM424.95 31.17h2.39v2.39h-2.39zM424.95 33.06h2.39v2.39h-2.39zM400.38 36.84h2.39v2.39h-2.39zM400.38 38.73h2.39v2.39h-2.39zM402.27 42.51h2.39v2.39h-2.39zM404.16 46.29h2.39v2.39h-2.39zM404.16 48.18h2.39v2.39h-2.39zM406.05 51.96h2.39v2.39h-2.39zM407.94 53.85h4.28v2.39h-4.28zM409.83 55.74h4.28v2.39h-4.28zM411.72 57.63h9.95v2.39h-9.95zM413.61 59.52h9.95v2.39h-9.95zM413.61 61.41h9.95v2.39h-9.95z"/>
<path fill="#b63458" d="M404.16 6.6h2.39v2.39h-2.39zM415.5 6.6h2.39v2.39h-2.39zM404.16 8.49h2.39v2.39h-2.39zM415.5 8.49h2.39v2.39h-2.39zM402.27 10.38h2.39v2.39h-2.39zM415.5 10.38h2.39v2.39h-2.39zM400.38 12.27h2.39v2.39h-2.39zM415.5 12.27h2.39v2.39h-2.39zM415.5 14.16h2.39v2.39h-2.39zM430.62 16.05h4.28v2.39h-4.28zM428.73 17.94h2.39v2.39h-2.39zM426.84 19.83h2.39v2.39h-2.39zM426.84 21.72h2.39v2.39h-2.39zM426.84 23.61h2.39v2.39h-2.39zM400.38 34.95h2.39v2.39h-2.39zM424.95 34.95h2.39v2.39h-2.39zM402.27 40.62h2.39v2.39h-2.39zM404.16 44.4h2.39v2.39h-2.39zM406.05 48.18h2.39v2.39h-2.39zM406.05 50.07h2.39v2.39h-2.39zM407.94 51.96h2.39v2.39h-2.39zM411.72 53.85h2.39v2.39h-2.39zM413.61 55.74h11.84v2.39h-11.84zM421.17 57.63h4.28v2.39h-4.28zM423.06 59.52h2.39v2.39h-2.39zM423.06 61.41h2.39v2.39h-2.39z"/>
<path fill="#c03a51" d="M406.05 6.6h2.39v2.39h-2.39zM411.72 6.6h4.28v2.39h-4.28zM406.05 8.49h2.39v2.39h-2.39zM411.72 8.49h4.28v2.39h-4.28zM413.61 10.38h2.39v2.39h-2.39zM413.61 12.27h2.39v2.39h-2.39zM400.38 14.16h2.39v2.39h-2.39zM413.61 14.16h2.39v2.39h-2.39zM400.38 16.05h2.39v2.39h-2.39zM413.61 16.05h8.06v2.39h-8.06zM413.61 17.94h4.28v2.39h-4.28zM421.17 17.94h2.39v2.39h-2.39zM430.62 17.94h4.28v2.39h-4.28zM413.61 19.83h2.39v2.39h-2.39zM423.06 19.83h2.39v2.39h-2.39zM428.73 19.83h2.39v2.39h-2.39zM413.61 21.72h2.39v2.39h-2.39zM423.06 21.72h2.39v2.39h-2.39zM423.06 23.61h2.39v2.39h-2.39zM426.84 25.5h2.39v2.39h-2.39zM426.84 27.39h2.39v2.39h-2.39zM413.61 29.28h2.39v2.39h-2.39zM426.84 29.28h2.39v2.39h-2.39zM413.61 31.17h2.39v2.39h-2.39zM426.84 31.17h2.39v2.39h-2.39zM400.38 33.06h2.39v2.39h-2.39zM413.61 33.06h2.39v2.39h-2.39zM413.61 34.95h2.39v2.39h-2.39zM413.61 36.84h2.39v2.39h-2.39zM424.95 36.84h2.39v2.39h-2.39zM402.27 38.73h2.39v2.39h-2.39zM424.95 38.73h2.39v2.39h-2.39zM424.95 40.62h2.39v2.39h-2.39zM404.16 42.51h2.39v2.39h-2.39zM424.95 42.51h2.39v2.39h-2.39zM424.95 44.4h2.39v2.39h-2.39zM424.95 46.29h2.39v2.39h-2.39zM424.95 48.18h2.39v2.39h-2.39zM407.94 50.07h2.39v2.39h-2.39zM423.06 50.07h4.28v2.39h-4.28zM409.83 51.96h2.39v2.39h-2.39zM421.17 51.96h6.17v2.39h-6.17zM413.61 53.85h13.73v2.39h-13.73zM424.95 55.74h2.39v2.39h-2.39zM424.95 57.63h2.39v2.39h-2.39zM424.95 59.52h2.39v2.39h-2.39zM424.95 61.41h2.39v2.39h-2.39z"/>
<path fill="#c83f4b" d="M407.94 6.6h4.28v2.39h-4.28zM407.94 8.49h4.28v2.39h-4.28zM404.16 10.38h2.39v2.39h-2.39zM411.72 10.38h2.39v2.39h-2.39zM402.27 12.27h2.39v2.39h-2.39zM411.72 12.27h2.39v2.39h-2.39zM411.72 14.16h2.39v2.39h-2.39zM400.38 17.94h2.39v2.39h-2.39zM417.39 17.94h4.28v2.39h-4.28zM400.38 19.83h2.39v2.39h-2.39zM415.5 19.83h2.39v2.39h-2.39zM421.17 19.83h2.39v2.39h-2.39zM430.62 19.83h4.28v2.39h-4.28zM400.38 21.72h2.39v2.39h-2.39zM428.73 21.72h2.39v2.39h-2.39zM400.38 23.61h2.39v2.39h-2.39zM413.61 23.61h2.39v2.39h-2.39zM428.73 23.61h2.39v2.39h-2.39zM400.38 25.5h2.39v2.39h-2.39zM413.61 25.5h2.39v2.39h-2.39zM423.06 25.5h2.39v2.39h-2.39zM428.73 25.5h2.39v2.39h-2.39zM400.38 27.39h2.39v2.39h-2.39zM413.61 27.39h2.39v2.39h-2.39zM423.06 27.39h2.39v2.39h-2.39zM400.38 29.28h2.39v2.39h-2.39zM423.06 29.28h2.39v2.39h-2.39zM400.38 31.17h2.39v2.39h-2.39zM423.06 31.17h2.39v2.39h-2.39zM423.06 33.06h2.39v2.39h-2.39zM426.84 33.06h2.39v2.39h-2.39zM426.84 34.95h2.39v2.39h-2.39zM402.27 36.84h2.39v2.39h-2.39zM413.61 38.73h2.39v2.39h-2.39zM404.16 40.62h2.39v2.39h-2.39zM406.05 46.29h2.39v2.39h-2.39zM423.06 46.29h2.39v2.39h-2.39zM407.94 48.18h2.39v2.39h-2.39zM423.06 48.18h2.39v2.39h-2.39zM409.83 50.07h2.39v2.39h-2.39zM421.17 50.07h2.39v2.39h-2.39zM411.72 51.96h9.95v2.39h-9.95z"/>
<path fill="#d24644" d="M406.05 10.38h2.39v2.39h-2.39zM409.83 10.38h2.39v2.39h-2.39zM404.16 12.27h2.39v2.39h-2.39zM411.72 16.05h2.39v2.39h-2.39zM411.72 17.94h2.39v2.39h-2.39zM411.72 19.83h2.39v2.39h-2.39zM417.39 19.83h2.39v2.39h-2.39zM415.5 21.72h2.39v2.39h-2.39zM421.17 21.72h2.39v2.39h-2.39zM430.62 21.72h4.28v2.39h-4.28zM428.73 27.39h2.39v2.39h-2.39zM428.73 29.28h2.39v2.39h-2.39zM415.5 31.17h2.39v2.39h-2.39zM415.5 33.06h2.39v2.39h-2.39zM411.72 34.95h2.39v2.39h-2.39zM415.5 34.95h2.39v2.39h-2.39zM423.06 34.95h2.39v2.39h-2.39zM411.72 36.84h2.39v2.39h-2.39zM415.5 36.84h2.39v2.39h-2.39zM423.06 36.84h2.39v2.39h-2.39zM426.84 36.84h2.39v2.39h-2.39zM404.16 38.73h2.39v2.39h-2.39zM423.06 38.73h2.39v2.39h-2.39zM426.84 38.73h2.39v2.39h-2.39zM413.61 40.62h2.39v2.39h-2.39zM423.06 40.62h2.39v2.39h-2.39zM423.06 42.51h2.39v2.39h-2.39zM406.05 44.4h2.39v2.39h-2.39zM423.06 44.4h2.39v2.39h-2.39zM421.17 48.18h2.39v2.39h-2.39zM411.72 50.07h2.39v2.39h-2.39zM419.28 50.07h2.39v2.39h-2.39z"/>
<path fill="#d94d3d" d="M407.94 10.38h2.39v2.39h-2.39zM406.05 12.27h2.39v2.39h-2.39zM409.83 12.27h2.39v2.39h-2.39zM402.27 14.16h2.39v2.39h-2.39zM409.83 14.16h2.39v2.39h-2.39zM419.28 19.83h2.39v2.39h-2.39zM411.72 21.72h2.39v2.39h-2.39zM417.39 21.72h2.39v2.39h-2.39zM411.72 23.61h2.39v2.39h-2.39zM415.5 23.61h2.39v2.39h-2.39zM421.17 23.61h2.39v2.39h-2.39zM430.62 23.61h4.28v2.39h-4.28zM411.72 25.5h2.39v2.39h-2.39zM415.5 25.5h2.39v2.39h-2.39zM430.62 25.5h4.28v2.39h-4.28zM411.72 27.39h2.39v2.39h-2.39zM415.5 27.39h2.39v2.39h-2.39zM411.72 29.28h2.39v2.39h-2.39zM415.5 29.28h2.39v2.39h-2.39zM411.72 31.17h2.39v2.39h-2.39zM428.73 31.17h2.39v2.39h-2.39zM411.72 33.06h2.39v2.39h-2.39zM428.73 33.06h2.39v2.39h-2.39zM402.27 34.95h2.39v2.39h-2.39zM404.16 36.84h2.39v2.39h-2.39zM411.72 38.73h2.39v2.39h-2.39zM415.5 38.73h2.39v2.39h-2.39zM411.72 40.62h2.39v2.39h-2.39zM426.84 40.62h2.39v2.39h-2.39zM406.05 42.51h2.39v2.39h-2.39zM413.61 42.51h2.39v2.39h-2.39zM426.84 42.51h2.39v2.39h-2.39zM426.84 44.4h2.39v2.39h-2.39zM407.94 46.29h4.28v2.39h-4.28zM421.17 46.29h2.39v2.39h-2.39zM426.84 46.29h2.39v2.39h-2.39zM409.83 48.18h2.39v2.39h-2.39zM419.28 48.18h2.39v2.39h-2.39zM426.84 48.18h2.39v2.39h-2.39zM413.61 50.07h6.17v2.39h-6.17zM426.84 50.07h2.39v2.39h-2.39zM426.84 51.96h2.39v2.39h-2.39zM426.84 53.85h2.39v2.39h-2.39z"/>
<path fill="#e15635" d="M407.94 12.27h2.39v2.39h-2.39zM404.16 14.16h2.39v2.39h-2.39zM402.27 16.05h2.39v2.39h-2.39zM409.83 16.05h2.39v2.39h-2.39zM409.83 17.94h2.39v2.39h-2.39zM417.39 23.61h2.39v2.39h-2.39zM421.17 25.5h2.39v2.39h-2.39zM421.17 27.39h2.39v2.39h-2.39zM430.62 27.39h4.28v2.39h-4.28zM421.17 29.28h2.39v2.39h-2.39zM421.17 31.17h2.39v2.39h-2.39zM402.27 33.06h2.39v2.39h-2.39zM421.17 33.06h2.39v2.39h-2.39zM404.16 34.95h2.39v2.39h-2.39zM421.17 34.95h2.39v2.39h-2.39zM428.73 34.95h2.39v2.39h-2.39zM406.05 38.73h2.39v2.39h-2.39zM406.05 40.62h2.39v2.39h-2.39zM415.5 40.62h2.39v2.39h-2.39zM411.72 42.51h2.39v2.39h-2.39zM407.94 44.4h8.06v2.39h-8.06zM421.17 44.4h2.39v2.39h-2.39zM411.72 46.29h2.39v2.39h-2.39zM411.72 48.18h2.39v2.39h-2.39zM417.39 48.18h2.39v2.39h-2.39zM426.84 55.74h2.39v2.39h-2.39zM426.84 57.63h2.39v2.39h-2.39zM426.84 59.52h2.39v2.39h-2.39zM426.84 61.41h2.39v2.39h-2.39z"/>
<path fill="#e8602d" d="M406.05 14.16h4.28v2.39h-4.28zM404.16 16.05h4.28v2.39h-4.28zM402.27 17.94h4.28v2.39h-4.28zM402.27 19.83h2.39v2.39h-2.39zM409.83 19.83h2.39v2.39h-2.39zM402.27 21.72h2.39v2.39h-2.39zM409.83 21.72h2.39v2.39h-2.39zM419.28 21.72h2.39v2.39h-2.39zM402.27 23.61h2.39v2.39h-2.39zM409.83 23.61h2.39v2.39h-2.39zM402.27 25.5h2.39v2.39h-2.39zM409.83 25.5h2.39v2.39h-2.39zM417.39 25.5h2.39v2.39h-2.39zM402.27 27.39h2.39v2.39h-2.39zM417.39 27.39h2.39v2.39h-2.39zM402.27 29.28h2.39v2.39h-2.39zM417.39 29.28h2.39v2.39h-2.39zM430.62 29.28h4.28v2.39h-4.28zM402.27 31.17h2.39v2.39h-2.39zM417.39 31.17h2.39v2.39h-2.39zM430.62 31.17h4.28v2.39h-4.28zM417.39 33.06h2.39v2.39h-2.39zM409.83 34.95h2.39v2.39h-2.39zM417.39 34.95h2.39v2.39h-2.39zM406.05 36.84h2.39v2.39h-2.39zM409.83 36.84h2.39v2.39h-2.39zM417.39 36.84h2.39v2.39h-2.39zM421.17 36.84h2.39v2.39h-2.39zM428.73 36.84h2.39v2.39h-2.39zM409.83 38.73h2.39v2.39h-2.39zM417.39 38.73h2.39v2.39h-2.39zM421.17 38.73h2.39v2.39h-2.39zM428.73 38.73h2.39v2.39h-2.39zM409.83 40.62h2.39v2.39h-2.39zM421.17 40.62h2.39v2.39h-2.39zM407.94 42.51h4.28v2.39h-4.28zM415.5 42.51h2.39v2.39h-2.39zM421.17 42.51h2.39v2.39h-2.39zM415.5 44.4h4.28v2.39h-4.28zM413.61 46.29h8.06v2.39h-8.06zM413.61 48.18h4.28v2.39h-4.28z"/>
<path fill="#ed6925" d="M407.94 16.05h2.39v2.39h-2.39zM406.05 17.94h2.39v2.39h-2.39zM404.16 19.83h2.39v2.39h-2.39zM404.16 21.72h2.39v2.39h-2.39zM404.16 23.61h2.39v2.39h-2.39zM419.28 23.61h2.39v2.39h-2.39zM404.16 25.5h2.39v2.39h-2.39zM404.16 27.39h2.39v2.39h-2.39zM409.83 27.39h2.39v2.39h-2.39zM404.16 29.28h2.39v2.39h-2.39zM409.83 29.28h2.39v2.39h-2.39zM409.83 31.17h2.39v2.39h-2.39zM404.16 33.06h2.39v2.39h-2.39zM409.83 33.06h2.39v2.39h-2.39zM430.62 33.06h4.28v2.39h-4.28zM406.05 34.95h2.39v2.39h-2.39zM407.94 40.62h2.39v2.39h-2.39zM417.39 40.62h2.39v2.39h-2.39zM428.73 40.62h2.39v2.39h-2.39zM417.39 42.51h2.39v2.39h-2.39zM428.73 42.51h2.39v2.39h-2.39zM419.28 44.4h2.39v2.39h-2.39zM428.73 44.4h2.39v2.39h-2.39z"/>
<path fill="#f2741c" d="M407.94 17.94h2.39v2.39h-2.39zM406.05 19.83h4.28v2.39h-4.28zM406.05 21.72h4.28v2.39h-4.28zM406.05 23.61h4.28v2.39h-4.28zM406.05 25.5h4.28v2.39h-4.28zM419.28 25.5h2.39v2.39h-2.39zM406.05 27.39h2.39v2.39h-2.39zM419.28 27.39h2.39v2.39h-2.39zM419.28 29.28h2.39v2.39h-2.39zM404.16 31.17h2.39v2.39h-2.39zM419.28 31.17h2.39v2.39h-2.39zM406.05 33.06h2.39v2.39h-2.39zM419.28 33.06h2.39v2.39h-2.39zM419.28 34.95h2.39v2.39h-2.39zM430.62 34.95h4.28v2.39h-4.28zM407.94 36.84h2.39v2.39h-2.39zM419.28 36.84h2.39v2.39h-2.39zM430.62 36.84h4.28v2.39h-4.28zM407.94 38.73h2.39v2.39h-2.39zM419.28 38.73h2.39v2.39h-2.39zM419.28 40.62h2.39v2.39h-2.39zM419.28 42.51h2.39v2.39h-2.39zM428.73 46.29h2.39v2.39h-2.39zM428.73 48.18h2.39v2.39h-2.39zM428.73 50.07h2.39v2.39h-2.39zM428.73 51.96h2.39v2.39h-2.39zM428.73 53.85h2.39v2.39h-2.39z"/>
<path fill="#f67e14" d="M407.94 27.39h2.39v2.39h-2.39zM406.05 29.28h2.39v2.39h-2.39zM406.05 31.17h2.39v2.39h-2.39zM407.94 34.95h2.39v2.39h-2.39zM430.62 38.73h4.28v2.39h-4.28zM428.73 55.74h2.39v2.39h-2.39zM428.73 57.63h2.39v2.39h-2.39z"/>
<path fill="#f98b0b" d="M407.94 29.28h2.39v2.39h-2.39zM407.94 31.17h2.39v2.39h-2.39zM407.94 33.06h2.39v2.39h-2.39zM430.62 40.62h4.28v2.39h-4.28zM430.62 42.51h4.28v2.39h-4.28zM428.73 59.52h2.39v2.39h-2.39zM428.73 61.41h2.39v2.39h-2.39z"/>
<path fill="#fb9606" d="M430.62 44.4h4.28v2.39h-4.28z"/>
<path fill="#fca309" d="M430.62 46.29h4.28v2.39h-4.28zM430.62 48.18h4.28v2.39h-4.28zM430.62 50.07h4.28v2.39h-4.28zM430.62 51.96h4.28v2.39h-4.28zM430.62 53.85h4.28v2.39h-4.28z"/>
<path fill="#fcb014" d="M430.62 55.74h4.28v2.39h-4.28zM430.62 57.63h4.28v2.39h-4.28z"/>
<path fill="#fbbc21" d="M430.62 59.52h4.28v2.39h-4.28zM430.62 61.41h4.28v2.39h-4.28z"/></g>
<line x1="395.5" y1="6.6" x2="416.6" y2="63.1" stroke="#b8b8c8" stroke-width="0.8" stroke-dasharray="1.5 1" opacity="0.85"/>
<rect x="407.1" y="36.4" width="3.2" height="6.4" fill="#10e8f0" transform="rotate(-21 408.7 39.6)"/>
</g>
<text x="380.18" y="19.64" font-size="14.15" textLength="19.21" lengthAdjust="spacingAndGlyphs" fill="#fff" font-family='"Liberation Sans", sans-serif'>(c)</text>
<g clip-path="url(#clip_d)"><rect x="459.8" y="6.6" width="56.7" height="56.5" fill="#000"/><g filter="url(#blurI)"><path fill="#02020e" d="M459.8 17.94h4.28v2.39h-4.28zM459.8 19.83h6.17v2.39h-6.17zM459.8 21.72h6.17v2.39h-6.17zM459.8 23.61h9.95v2.39h-9.95zM459.8 25.5h11.84v2.39h-11.84zM459.8 27.39h11.84v2.39h-11.84zM459.8 29.28h11.84v2.39h-11.84zM459.8 31.17h11.84v2.39h-11.84zM459.8 33.06h9.95v2.39h-9.95zM459.8 34.95h9.95v2.39h-9.95zM459.8 36.84h9.95v2.39h-9.95zM459.8 38.73h9.95v2.39h-9.95zM459.8 40.62h6.17v2.39h-6.17zM459.8 42.51h6.17v2.39h-6.17zM459.8 44.4h4.28v2.39h-4.28z"/>
<path fill="#08051d" d="M459.8 14.16h6.17v2.39h-6.17zM459.8 16.05h8.06v2.39h-8.06zM463.58 17.94h6.17v2.39h-6.17zM465.47 19.83h6.17v2.39h-6.17zM465.47 21.72h8.06v2.39h-8.06zM469.25 23.61h6.17v2.39h-6.17zM471.14 25.5h4.28v2.39h-4.28zM471.14 27.39h4.28v2.39h-4.28zM471.14 29.28h4.28v2.39h-4.28zM471.14 31.17h4.28v2.39h-4.28zM469.25 33.06h6.17v2.39h-6.17zM469.25 34.95h4.28v2.39h-4.28zM469.25 36.84h4.28v2.39h-4.28zM465.47 40.62h4.28v2.39h-4.28zM465.47 42.51h4.28v2.39h-4.28zM463.58 44.4h2.39v2.39h-2.39zM459.8 46.29h4.28v2.39h-4.28zM459.8 48.18h4.28v2.39h-4.28z"/>
<path fill="#0e092b" d="M459.8 12.27h4.28v2.39h-4.28zM465.47 14.16h4.28v2.39h-4.28zM467.36 16.05h2.39v2.39h-2.39zM469.25 17.94h2.39v2.39h-2.39zM471.14 19.83h4.28v2.39h-4.28zM473.03 21.72h2.39v2.39h-2.39zM473.03 34.95h2.39v2.39h-2.39zM473.03 36.84h2.39v2.39h-2.39zM469.25 38.73h2.39v2.39h-2.39zM469.25 40.62h2.39v2.39h-2.39zM465.47 44.4h4.28v2.39h-4.28zM463.58 46.29h2.39v2.39h-2.39zM463.58 48.18h2.39v2.39h-2.39zM459.8 50.07h4.28v2.39h-4.28zM459.8 51.96h4.28v2.39h-4.28z"/>
<path fill="#180c3c" d="M463.58 12.27h4.28v2.39h-4.28zM469.25 16.05h2.39v2.39h-2.39zM471.14 17.94h2.39v2.39h-2.39zM471.14 38.73h2.39v2.39h-2.39zM469.25 42.51h2.39v2.39h-2.39zM465.47 46.29h2.39v2.39h-2.39zM463.58 50.07h2.39v2.39h-2.39zM459.8 53.85h4.28v2.39h-4.28z"/>
<path fill="#210c4a" d="M459.8 10.38h6.17v2.39h-6.17zM467.36 12.27h2.39v2.39h-2.39zM469.25 14.16h2.39v2.39h-2.39zM473.03 17.94h2.39v2.39h-2.39zM474.92 23.61h2.39v2.39h-2.39zM474.92 25.5h2.39v2.39h-2.39zM474.92 27.39h2.39v2.39h-2.39zM474.92 29.28h2.39v2.39h-2.39zM474.92 31.17h2.39v2.39h-2.39zM474.92 33.06h2.39v2.39h-2.39zM473.03 38.73h2.39v2.39h-2.39zM471.14 40.62h2.39v2.39h-2.39zM469.25 44.4h2.39v2.39h-2.39zM467.36 46.29h2.39v2.39h-2.39zM465.47 48.18h2.39v2.39h-2.39zM463.58 51.96h2.39v2.39h-2.39zM459.8 55.74h4.28v2.39h-4.28z"/>
<path fill="#2d0b59" d="M459.8 6.6h6.17v2.39h-6.17zM459.8 8.49h6.17v2.39h-6.17zM465.47 10.38h4.28v2.39h-4.28zM469.25 12.27h2.39v2.39h-2.39zM471.14 16.05h2.39v2.39h-2.39zM474.92 19.83h2.39v2.39h-2.39zM474.92 21.72h2.39v2.39h-2.39zM474.92 34.95h2.39v2.39h-2.39zM474.92 36.84h2.39v2.39h-2.39zM473.03 40.62h2.39v2.39h-2.39zM471.14 42.51h2.39v2.39h-2.39zM469.25 46.29h2.39v2.39h-2.39zM467.36 48.18h2.39v2.39h-2.39zM465.47 50.07h2.39v2.39h-2.39zM463.58 53.85h2.39v2.39h-2.39zM459.8 57.63h4.28v2.39h-4.28z"/>
<path fill="#380962" d="M465.47 6.6h2.39v2.39h-2.39zM465.47 8.49h2.39v2.39h-2.39zM469.25 10.38h2.39v2.39h-2.39zM474.92 38.73h2.39v2.39h-2.39zM471.14 44.4h2.39v2.39h-2.39zM467.36 50.07h2.39v2.39h-2.39zM465.47 51.96h2.39v2.39h-2.39zM463.58 55.74h2.39v2.39h-2.39z"/>
<path fill="#440a68" d="M467.36 6.6h4.28v2.39h-4.28zM467.36 8.49h4.28v2.39h-4.28zM471.14 12.27h2.39v2.39h-2.39zM471.14 14.16h2.39v2.39h-2.39zM473.03 16.05h2.39v2.39h-2.39zM474.92 17.94h2.39v2.39h-2.39zM476.81 25.5h2.39v2.39h-2.39zM476.81 27.39h2.39v2.39h-2.39zM476.81 29.28h2.39v2.39h-2.39zM476.81 31.17h2.39v2.39h-2.39zM474.92 40.62h2.39v2.39h-2.39zM473.03 42.51h2.39v2.39h-2.39zM471.14 46.29h2.39v2.39h-2.39zM469.25 48.18h2.39v2.39h-2.39zM467.36 51.96h2.39v2.39h-2.39zM465.47 53.85h2.39v2.39h-2.39zM463.58 57.63h2.39v2.39h-2.39zM459.8 59.52h4.28v2.39h-4.28zM459.8 61.41h4.28v2.39h-4.28z"/>
<path fill="#4f0d6c" d="M471.14 6.6h2.39v2.39h-2.39zM471.14 8.49h2.39v2.39h-2.39zM471.14 10.38h2.39v2.39h-2.39zM474.92 16.05h2.39v2.39h-2.39zM476.81 19.83h2.39v2.39h-2.39zM476.81 21.72h2.39v2.39h-2.39zM476.81 23.61h2.39v2.39h-2.39zM476.81 33.06h2.39v2.39h-2.39zM476.81 34.95h2.39v2.39h-2.39zM476.81 36.84h2.39v2.39h-2.39zM473.03 44.4h2.39v2.39h-2.39zM469.25 50.07h2.39v2.39h-2.39zM465.47 55.74h2.39v2.39h-2.39zM463.58 59.52h2.39v2.39h-2.39zM463.58 61.41h2.39v2.39h-2.39z"/>
<path fill="#59106e" d="M473.03 6.6h4.28v2.39h-4.28zM473.03 8.49h4.28v2.39h-4.28zM473.03 10.38h2.39v2.39h-2.39zM473.03 12.27h2.39v2.39h-2.39zM473.03 14.16h2.39v2.39h-2.39zM476.81 17.94h2.39v2.39h-2.39zM476.81 38.73h2.39v2.39h-2.39zM474.92 42.51h2.39v2.39h-2.39zM473.03 46.29h2.39v2.39h-2.39zM471.14 48.18h2.39v2.39h-2.39zM471.14 50.07h2.39v2.39h-2.39zM469.25 51.96h2.39v2.39h-2.39zM467.36 53.85h4.28v2.39h-4.28zM467.36 55.74h2.39v2.39h-2.39zM465.47 57.63h2.39v2.39h-2.39zM465.47 59.52h2.39v2.39h-2.39zM465.47 61.41h2.39v2.39h-2.39z"/>
<path fill="#64156e" d="M476.81 6.6h2.39v2.39h-2.39zM476.81 8.49h2.39v2.39h-2.39zM474.92 10.38h4.28v2.39h-4.28zM474.92 12.27h2.39v2.39h-2.39zM474.92 14.16h2.39v2.39h-2.39zM476.81 16.05h2.39v2.39h-2.39zM476.81 40.62h2.39v2.39h-2.39zM474.92 44.4h2.39v2.39h-2.39zM474.92 46.29h2.39v2.39h-2.39zM471.14 51.96h2.39v2.39h-2.39zM471.14 53.85h2.39v2.39h-2.39zM469.25 55.74h4.28v2.39h-4.28zM467.36 57.63h6.17v2.39h-6.17z"/>
<path fill="#6d186e" d="M478.7 6.6h2.39v2.39h-2.39zM478.7 8.49h2.39v2.39h-2.39zM478.7 10.38h2.39v2.39h-2.39zM476.81 12.27h2.39v2.39h-2.39zM476.81 14.16h2.39v2.39h-2.39zM478.7 17.94h2.39v2.39h-2.39zM478.7 19.83h2.39v2.39h-2.39zM478.7 21.72h2.39v2.39h-2.39zM478.7 23.61h2.39v2.39h-2.39zM478.7 25.5h2.39v2.39h-2.39zM478.7 27.39h2.39v2.39h-2.39zM478.7 29.28h2.39v2.39h-2.39zM478.7 31.17h2.39v2.39h-2.39zM478.7 33.06h2.39v2.39h-2.39zM478.7 34.95h2.39v2.39h-2.39zM478.7 36.84h2.39v2.39h-2.39zM478.7 38.73h2.39v2.39h-2.39zM476.81 42.51h2.39v2.39h-2.39zM476.81 44.4h2.39v2.39h-2.39zM473.03 48.18h4.28v2.39h-4.28zM473.03 50.07h4.28v2.39h-4.28zM473.03 51.96h4.28v2.39h-4.28zM473.03 53.85h4.28v2.39h-4.28zM473.03 55.74h4.28v2.39h-4.28zM473.03 57.63h4.28v2.39h-4.28zM467.36 59.52h9.95v2.39h-9.95zM467.36 61.41h9.95v2.39h-9.95z"/>
<path fill="#781c6d" d="M478.7 12.27h2.39v2.39h-2.39zM478.7 16.05h2.39v2.39h-2.39zM478.7 40.62h2.39v2.39h-2.39zM476.81 46.29h2.39v2.39h-2.39zM476.81 48.18h2.39v2.39h-2.39zM476.81 50.07h2.39v2.39h-2.39zM476.81 51.96h2.39v2.39h-2.39zM476.81 53.85h2.39v2.39h-2.39zM476.81 55.74h2.39v2.39h-2.39zM476.81 57.63h2.39v2.39h-2.39zM476.81 59.52h2.39v2.39h-2.39zM476.81 61.41h2.39v2.39h-2.39z"/>
<path fill="#82206c" d="M480.59 6.6h2.39v2.39h-2.39zM480.59 8.49h2.39v2.39h-2.39zM478.7 14.16h2.39v2.39h-2.39zM478.7 42.51h2.39v2.39h-2.39zM478.7 44.4h2.39v2.39h-2.39zM478.7 46.29h2.39v2.39h-2.39zM478.7 48.18h4.28v2.39h-4.28zM478.7 50.07h4.28v2.39h-4.28zM478.7 51.96h4.28v2.39h-4.28zM478.7 53.85h4.28v2.39h-4.28zM478.7 55.74h4.28v2.39h-4.28zM478.7 57.63h4.28v2.39h-4.28zM478.7 59.52h4.28v2.39h-4.28zM478.7 61.41h4.28v2.39h-4.28z"/>
<path fill="#8d2369" d="M480.59 10.38h2.39v2.39h-2.39zM480.59 34.95h2.39v2.39h-2.39zM480.59 36.84h2.39v2.39h-2.39zM480.59 38.73h2.39v2.39h-2.39zM480.59 40.62h2.39v2.39h-2.39zM480.59 42.51h2.39v2.39h-2.39zM480.59 44.4h2.39v2.39h-2.39zM480.59 46.29h4.28v2.39h-4.28zM482.48 48.18h2.39v2.39h-2.39zM482.48 50.07h2.39v2.39h-2.39zM482.48 51.96h2.39v2.39h-2.39zM482.48 53.85h2.39v2.39h-2.39zM482.48 55.74h2.39v2.39h-2.39zM482.48 57.63h2.39v2.39h-2.39zM482.48 59.52h2.39v2.39h-2.39zM482.48 61.41h2.39v2.39h-2.39z"/>
<path fill="#982766" d="M482.48 6.6h2.39v2.39h-2.39zM505.16 6.6h11.84v2.39h-11.84zM482.48 8.49h2.39v2.39h-2.39zM505.16 8.49h11.84v2.39h-11.84zM507.05 10.38h9.95v2.39h-9.95zM480.59 12.27h2.39v2.39h-2.39zM480.59 17.94h2.39v2.39h-2.39zM480.59 19.83h2.39v2.39h-2.39zM480.59 21.72h2.39v2.39h-2.39zM480.59 23.61h2.39v2.39h-2.39zM480.59 25.5h2.39v2.39h-2.39zM480.59 27.39h2.39v2.39h-2.39zM480.59 29.28h2.39v2.39h-2.39zM480.59 31.17h2.39v2.39h-2.39zM480.59 33.06h2.39v2.39h-2.39zM482.48 42.51h2.39v2.39h-2.39zM482.48 44.4h2.39v2.39h-2.39zM484.37 46.29h2.39v2.39h-2.39zM484.37 48.18h2.39v2.39h-2.39zM484.37 50.07h2.39v2.39h-2.39zM484.37 51.96h2.39v2.39h-2.39zM484.37 53.85h4.28v2.39h-4.28zM484.37 55.74h6.17v2.39h-6.17zM484.37 57.63h8.06v2.39h-8.06zM484.37 59.52h9.95v2.39h-9.95zM484.37 61.41h9.95v2.39h-9.95z"/>
<path fill="#a22b62" d="M503.27 6.6h2.39v2.39h-2.39zM503.27 8.49h2.39v2.39h-2.39zM482.48 10.38h2.39v2.39h-2.39zM503.27 10.38h4.28v2.39h-4.28zM503.27 12.27h13.73v2.39h-13.73zM480.59 14.16h2.39v2.39h-2.39zM480.59 16.05h2.39v2.39h-2.39zM482.48 40.62h2.39v2.39h-2.39zM484.37 44.4h2.39v2.39h-2.39zM486.26 50.07h2.39v2.39h-2.39zM486.26 51.96h2.39v2.39h-2.39zM488.15 53.85h2.39v2.39h-2.39zM490.04 55.74h2.39v2.39h-2.39zM491.93 57.63h2.39v2.39h-2.39zM493.82 59.52h2.39v2.39h-2.39zM493.82 61.41h2.39v2.39h-2.39z"/>
<path fill="#ad305d" d="M484.37 6.6h2.39v2.39h-2.39zM499.49 6.6h4.28v2.39h-4.28zM484.37 8.49h2.39v2.39h-2.39zM499.49 8.49h4.28v2.39h-4.28zM499.49 10.38h4.28v2.39h-4.28zM499.49 12.27h4.28v2.39h-4.28zM499.49 14.16h17.51v2.39h-17.51zM507.05 16.05h4.28v2.39h-4.28zM482.48 36.84h2.39v2.39h-2.39zM482.48 38.73h2.39v2.39h-2.39zM484.37 42.51h2.39v2.39h-2.39zM486.26 46.29h2.39v2.39h-2.39zM486.26 48.18h2.39v2.39h-2.39zM488.15 51.96h2.39v2.39h-2.39zM490.04 53.85h4.28v2.39h-4.28zM491.93 55.74h4.28v2.39h-4.28zM493.82 57.63h9.95v2.39h-9.95zM495.71 59.52h9.95v2.39h-9.95zM495.71 61.41h9.95v2.39h-9.95z"/>
<path fill="#b63458" d="M486.26 6.6h2.39v2.39h-2.39zM497.6 6.6h2.39v2.39h-2.39zM486.26 8.49h2.39v2.39h-2.39zM497.6 8.49h2.39v2.39h-2.39zM484.37 10.38h2.39v2.39h-2.39zM497.6 10.38h2.39v2.39h-2.39zM482.48 12.27h2.39v2.39h-2.39zM497.6 12.27h2.39v2.39h-2.39zM497.6 14.16h2.39v2.39h-2.39zM505.16 16.05h2.39v2.39h-2.39zM510.83 16.05h6.17v2.39h-6.17zM507.05 17.94h4.28v2.39h-4.28zM482.48 34.95h2.39v2.39h-2.39zM484.37 40.62h2.39v2.39h-2.39zM486.26 44.4h2.39v2.39h-2.39zM488.15 48.18h2.39v2.39h-2.39zM488.15 50.07h2.39v2.39h-2.39zM490.04 51.96h2.39v2.39h-2.39zM493.82 53.85h2.39v2.39h-2.39zM495.71 55.74h8.06v2.39h-8.06zM503.27 57.63h2.39v2.39h-2.39zM505.16 59.52h2.39v2.39h-2.39zM505.16 61.41h2.39v2.39h-2.39z"/>
<path fill="#c03a51" d="M488.15 6.6h2.39v2.39h-2.39zM493.82 6.6h4.28v2.39h-4.28zM488.15 8.49h2.39v2.39h-2.39zM493.82 8.49h4.28v2.39h-4.28zM495.71 10.38h2.39v2.39h-2.39zM495.71 12.27h2.39v2.39h-2.39zM482.48 14.16h2.39v2.39h-2.39zM495.71 14.16h2.39v2.39h-2.39zM482.48 16.05h2.39v2.39h-2.39zM495.71 16.05h9.95v2.39h-9.95zM495.71 17.94h2.39v2.39h-2.39zM505.16 17.94h2.39v2.39h-2.39zM510.83 17.94h6.17v2.39h-6.17zM495.71 19.83h2.39v2.39h-2.39zM507.05 19.83h4.28v2.39h-4.28zM495.71 21.72h2.39v2.39h-2.39zM507.05 21.72h2.39v2.39h-2.39zM507.05 23.61h2.39v2.39h-2.39zM507.05 25.5h2.39v2.39h-2.39zM507.05 27.39h2.39v2.39h-2.39zM495.71 29.28h2.39v2.39h-2.39zM507.05 29.28h2.39v2.39h-2.39zM495.71 31.17h2.39v2.39h-2.39zM507.05 31.17h2.39v2.39h-2.39zM482.48 33.06h2.39v2.39h-2.39zM495.71 33.06h2.39v2.39h-2.39zM507.05 33.06h2.39v2.39h-2.39zM484.37 38.73h2.39v2.39h-2.39zM486.26 42.51h2.39v2.39h-2.39zM490.04 50.07h2.39v2.39h-2.39zM491.93 51.96h2.39v2.39h-2.39zM495.71 53.85h9.95v2.39h-9.95zM503.27 55.74h4.28v2.39h-4.28zM505.16 57.63h4.28v2.39h-4.28zM507.05 59.52h2.39v2.39h-2.39zM507.05 61.41h2.39v2.39h-2.39z"/>
<path fill="#c83f4b" d="M490.04 6.6h4.28v2.39h-4.28zM490.04 8.49h4.28v2.39h-4.28zM486.26 10.38h2.39v2.39h-2.39zM493.82 10.38h2.39v2.39h-2.39zM484.37 12.27h2.39v2.39h-2.39zM493.82 12.27h2.39v2.39h-2.39zM493.82 14.16h2.39v2.39h-2.39zM482.48 17.94h2.39v2.39h-2.39zM497.6 17.94h2.39v2.39h-2.39zM503.27 17.94h2.39v2.39h-2.39zM482.48 19.83h2.39v2.39h-2.39zM497.6 19.83h2.39v2.39h-2.39zM505.16 19.83h2.39v2.39h-2.39zM510.83 19.83h6.17v2.39h-6.17zM482.48 21.72h2.39v2.39h-2.39zM508.94 21.72h2.39v2.39h-2.39zM482.48 23.61h2.39v2.39h-2.39zM495.71 23.61h2.39v2.39h-2.39zM482.48 25.5h2.39v2.39h-2.39zM495.71 25.5h2.39v2.39h-2.39zM482.48 27.39h2.39v2.39h-2.39zM495.71 27.39h2.39v2.39h-2.39zM482.48 29.28h2.39v2.39h-2.39zM482.48 31.17h2.39v2.39h-2.39zM495.71 34.95h2.39v2.39h-2.39zM507.05 34.95h2.39v2.39h-2.39zM484.37 36.84h2.39v2.39h-2.39zM495.71 36.84h2.39v2.39h-2.39zM507.05 36.84h2.39v2.39h-2.39zM507.05 38.73h2.39v2.39h-2.39zM486.26 40.62h2.39v2.39h-2.39zM507.05 40.62h2.39v2.39h-2.39zM507.05 42.51h2.39v2.39h-2.39zM507.05 44.4h2.39v2.39h-2.39zM488.15 46.29h2.39v2.39h-2.39zM507.05 46.29h2.39v2.39h-2.39zM490.04 48.18h2.39v2.39h-2.39zM507.05 48.18h2.39v2.39h-2.39zM491.93 50.07h2.39v2.39h-2.39zM507.05 50.07h2.39v2.39h-2.39zM493.82 51.96h15.62v2.39h-15.62zM505.16 53.85h4.28v2.39h-4.28zM507.05 55.74h2.39v2.39h-2.39z"/>
<path fill="#d24644" d="M488.15 10.38h2.39v2.39h-2.39zM491.93 10.38h2.39v2.39h-2.39zM486.26 12.27h2.39v2.39h-2.39zM493.82 16.05h2.39v2.39h-2.39zM493.82 17.94h2.39v2.39h-2.39zM499.49 17.94h2.39v2.39h-2.39zM493.82 19.83h2.39v2.39h-2.39zM497.6 21.72h2.39v2.39h-2.39zM505.16 21.72h2.39v2.39h-2.39zM505.16 23.61h2.39v2.39h-2.39zM508.94 23.61h2.39v2.39h-2.39zM505.16 25.5h2.39v2.39h-2.39zM505.16 27.39h2.39v2.39h-2.39zM505.16 29.28h2.39v2.39h-2.39zM497.6 31.17h2.39v2.39h-2.39zM505.16 31.17h2.39v2.39h-2.39zM486.26 38.73h2.39v2.39h-2.39zM495.71 38.73h2.39v2.39h-2.39zM488.15 44.4h2.39v2.39h-2.39zM505.16 48.18h2.39v2.39h-2.39zM493.82 50.07h2.39v2.39h-2.39zM501.38 50.07h6.17v2.39h-6.17z"/>
<path fill="#d94d3d" d="M490.04 10.38h2.39v2.39h-2.39zM488.15 12.27h2.39v2.39h-2.39zM491.93 12.27h2.39v2.39h-2.39zM484.37 14.16h2.39v2.39h-2.39zM491.93 14.16h2.39v2.39h-2.39zM501.38 17.94h2.39v2.39h-2.39zM499.49 19.83h2.39v2.39h-2.39zM503.27 19.83h2.39v2.39h-2.39zM493.82 21.72h2.39v2.39h-2.39zM510.83 21.72h2.39v2.39h-2.39zM493.82 23.61h2.39v2.39h-2.39zM497.6 23.61h2.39v2.39h-2.39zM493.82 25.5h2.39v2.39h-2.39zM497.6 25.5h2.39v2.39h-2.39zM508.94 25.5h2.39v2.39h-2.39zM493.82 27.39h2.39v2.39h-2.39zM497.6 27.39h2.39v2.39h-2.39zM508.94 27.39h2.39v2.39h-2.39zM493.82 29.28h2.39v2.39h-2.39zM497.6 29.28h2.39v2.39h-2.39zM493.82 31.17h2.39v2.39h-2.39zM493.82 33.06h2.39v2.39h-2.39zM497.6 33.06h2.39v2.39h-2.39zM505.16 33.06h2.39v2.39h-2.39zM484.37 34.95h2.39v2.39h-2.39zM493.82 34.95h2.39v2.39h-2.39zM497.6 34.95h2.39v2.39h-2.39zM505.16 34.95h2.39v2.39h-2.39zM486.26 36.84h2.39v2.39h-2.39zM493.82 36.84h2.39v2.39h-2.39zM497.6 36.84h2.39v2.39h-2.39zM505.16 36.84h2.39v2.39h-2.39zM505.16 38.73h2.39v2.39h-2.39zM495.71 40.62h2.39v2.39h-2.39zM505.16 40.62h2.39v2.39h-2.39zM488.15 42.51h2.39v2.39h-2.39zM495.71 42.51h2.39v2.39h-2.39zM505.16 42.51h2.39v2.39h-2.39zM505.16 44.4h2.39v2.39h-2.39zM490.04 46.29h4.28v2.39h-4.28zM505.16 46.29h2.39v2.39h-2.39zM491.93 48.18h2.39v2.39h-2.39zM501.38 48.18h4.28v2.39h-4.28zM495.71 50.07h6.17v2.39h-6.17z"/>
<path fill="#e15635" d="M490.04 12.27h2.39v2.39h-2.39zM486.26 14.16h2.39v2.39h-2.39zM484.37 16.05h2.39v2.39h-2.39zM491.93 16.05h2.39v2.39h-2.39zM491.93 17.94h2.39v2.39h-2.39zM499.49 21.72h2.39v2.39h-2.39zM503.27 21.72h2.39v2.39h-2.39zM512.72 21.72h4.28v2.39h-4.28zM503.27 23.61h2.39v2.39h-2.39zM510.83 23.61h2.39v2.39h-2.39zM508.94 29.28h2.39v2.39h-2.39zM508.94 31.17h2.39v2.39h-2.39zM484.37 33.06h2.39v2.39h-2.39zM508.94 33.06h2.39v2.39h-2.39zM486.26 34.95h2.39v2.39h-2.39zM488.15 38.73h2.39v2.39h-2.39zM493.82 38.73h2.39v2.39h-2.39zM497.6 38.73h2.39v2.39h-2.39zM488.15 40.62h2.39v2.39h-2.39zM493.82 40.62h2.39v2.39h-2.39zM497.6 40.62h2.39v2.39h-2.39zM493.82 42.51h2.39v2.39h-2.39zM490.04 44.4h8.06v2.39h-8.06zM503.27 44.4h2.39v2.39h-2.39zM493.82 46.29h2.39v2.39h-2.39zM503.27 46.29h2.39v2.39h-2.39zM493.82 48.18h2.39v2.39h-2.39zM499.49 48.18h2.39v2.39h-2.39zM508.94 57.63h2.39v2.39h-2.39zM508.94 59.52h2.39v2.39h-2.39zM508.94 61.41h2.39v2.39h-2.39z"/>
<path fill="#e8602d" d="M488.15 14.16h4.28v2.39h-4.28zM486.26 16.05h4.28v2.39h-4.28zM484.37 17.94h4.28v2.39h-4.28zM484.37 19.83h2.39v2.39h-2.39zM491.93 19.83h2.39v2.39h-2.39zM501.38 19.83h2.39v2.39h-2.39zM484.37 21.72h2.39v2.39h-2.39zM491.93 21.72h2.39v2.39h-2.39zM484.37 23.61h2.39v2.39h-2.39zM491.93 23.61h2.39v2.39h-2.39zM499.49 23.61h2.39v2.39h-2.39zM484.37 25.5h2.39v2.39h-2.39zM491.93 25.5h2.39v2.39h-2.39zM499.49 25.5h2.39v2.39h-2.39zM503.27 25.5h2.39v2.39h-2.39zM484.37 27.39h2.39v2.39h-2.39zM499.49 27.39h2.39v2.39h-2.39zM503.27 27.39h2.39v2.39h-2.39zM484.37 29.28h2.39v2.39h-2.39zM499.49 29.28h2.39v2.39h-2.39zM503.27 29.28h2.39v2.39h-2.39zM484.37 31.17h2.39v2.39h-2.39zM499.49 31.17h2.39v2.39h-2.39zM503.27 31.17h2.39v2.39h-2.39zM499.49 33.06h2.39v2.39h-2.39zM503.27 33.06h2.39v2.39h-2.39zM499.49 34.95h2.39v2.39h-2.39zM503.27 34.95h2.39v2.39h-2.39zM508.94 34.95h2.39v2.39h-2.39zM488.15 36.84h2.39v2.39h-2.39zM491.93 36.84h2.39v2.39h-2.39zM499.49 36.84h2.39v2.39h-2.39zM503.27 36.84h2.39v2.39h-2.39zM508.94 36.84h2.39v2.39h-2.39zM491.93 38.73h2.39v2.39h-2.39zM503.27 38.73h2.39v2.39h-2.39zM508.94 38.73h2.39v2.39h-2.39zM491.93 40.62h2.39v2.39h-2.39zM503.27 40.62h2.39v2.39h-2.39zM508.94 40.62h2.39v2.39h-2.39zM490.04 42.51h4.28v2.39h-4.28zM497.6 42.51h2.39v2.39h-2.39zM503.27 42.51h2.39v2.39h-2.39zM508.94 42.51h2.39v2.39h-2.39zM497.6 44.4h4.28v2.39h-4.28zM508.94 44.4h2.39v2.39h-2.39zM495.71 46.29h8.06v2.39h-8.06zM508.94 46.29h2.39v2.39h-2.39zM495.71 48.18h4.28v2.39h-4.28zM508.94 48.18h2.39v2.39h-2.39zM508.94 50.07h2.39v2.39h-2.39zM508.94 51.96h2.39v2.39h-2.39zM508.94 53.85h2.39v2.39h-2.39zM508.94 55.74h2.39v2.39h-2.39z"/>
<path fill="#ed6925" d="M490.04 16.05h2.39v2.39h-2.39zM488.15 17.94h2.39v2.39h-2.39zM486.26 19.83h2.39v2.39h-2.39zM486.26 21.72h2.39v2.39h-2.39zM501.38 21.72h2.39v2.39h-2.39zM486.26 23.61h2.39v2.39h-2.39zM486.26 25.5h2.39v2.39h-2.39zM510.83 25.5h2.39v2.39h-2.39zM486.26 27.39h2.39v2.39h-2.39zM491.93 27.39h2.39v2.39h-2.39zM486.26 29.28h2.39v2.39h-2.39zM491.93 29.28h2.39v2.39h-2.39zM491.93 31.17h2.39v2.39h-2.39zM486.26 33.06h2.39v2.39h-2.39zM491.93 33.06h2.39v2.39h-2.39zM488.15 34.95h2.39v2.39h-2.39zM491.93 34.95h2.39v2.39h-2.39zM499.49 38.73h2.39v2.39h-2.39zM490.04 40.62h2.39v2.39h-2.39zM499.49 40.62h2.39v2.39h-2.39zM499.49 42.51h2.39v2.39h-2.39zM501.38 44.4h2.39v2.39h-2.39z"/>
<path fill="#f2741c" d="M490.04 17.94h2.39v2.39h-2.39zM488.15 19.83h4.28v2.39h-4.28zM488.15 21.72h4.28v2.39h-4.28zM488.15 23.61h4.28v2.39h-4.28zM501.38 23.61h2.39v2.39h-2.39zM512.72 23.61h4.28v2.39h-4.28zM488.15 25.5h4.28v2.39h-4.28zM501.38 25.5h2.39v2.39h-2.39zM488.15 27.39h2.39v2.39h-2.39zM501.38 27.39h2.39v2.39h-2.39zM510.83 27.39h2.39v2.39h-2.39zM501.38 29.28h2.39v2.39h-2.39zM486.26 31.17h2.39v2.39h-2.39zM501.38 31.17h2.39v2.39h-2.39zM488.15 33.06h2.39v2.39h-2.39zM501.38 33.06h2.39v2.39h-2.39zM501.38 34.95h2.39v2.39h-2.39zM490.04 36.84h2.39v2.39h-2.39zM501.38 36.84h2.39v2.39h-2.39zM490.04 38.73h2.39v2.39h-2.39zM501.38 38.73h2.39v2.39h-2.39zM501.38 40.62h2.39v2.39h-2.39zM501.38 42.51h2.39v2.39h-2.39z"/>
<path fill="#f67e14" d="M490.04 27.39h2.39v2.39h-2.39zM488.15 29.28h2.39v2.39h-2.39zM510.83 29.28h2.39v2.39h-2.39zM488.15 31.17h2.39v2.39h-2.39zM490.04 34.95h2.39v2.39h-2.39zM510.83 40.62h2.39v2.39h-2.39zM510.83 42.51h2.39v2.39h-2.39zM510.83 44.4h2.39v2.39h-2.39zM510.83 46.29h2.39v2.39h-2.39zM510.83 48.18h2.39v2.39h-2.39zM510.83 50.07h2.39v2.39h-2.39z"/>
<path fill="#f98b0b" d="M512.72 25.5h4.28v2.39h-4.28zM490.04 29.28h2.39v2.39h-2.39zM490.04 31.17h2.39v2.39h-2.39zM510.83 31.17h2.39v2.39h-2.39zM490.04 33.06h2.39v2.39h-2.39zM510.83 33.06h2.39v2.39h-2.39zM510.83 34.95h2.39v2.39h-2.39zM510.83 36.84h2.39v2.39h-2.39zM510.83 38.73h2.39v2.39h-2.39zM510.83 51.96h2.39v2.39h-2.39zM510.83 53.85h2.39v2.39h-2.39zM510.83 55.74h2.39v2.39h-2.39zM510.83 57.63h2.39v2.39h-2.39zM510.83 59.52h2.39v2.39h-2.39zM510.83 61.41h2.39v2.39h-2.39z"/>
<path fill="#fca309" d="M512.72 27.39h4.28v2.39h-4.28zM512.72 42.51h4.28v2.39h-4.28zM512.72 44.4h4.28v2.39h-4.28zM512.72 46.29h4.28v2.39h-4.28zM512.72 48.18h4.28v2.39h-4.28z"/>
<path fill="#fcb014" d="M512.72 29.28h4.28v2.39h-4.28zM512.72 38.73h4.28v2.39h-4.28zM512.72 40.62h4.28v2.39h-4.28zM512.72 50.07h4.28v2.39h-4.28zM512.72 51.96h4.28v2.39h-4.28z"/>
<path fill="#fbbc21" d="M512.72 31.17h4.28v2.39h-4.28zM512.72 33.06h4.28v2.39h-4.28zM512.72 34.95h4.28v2.39h-4.28zM512.72 36.84h4.28v2.39h-4.28zM512.72 53.85h4.28v2.39h-4.28zM512.72 55.74h4.28v2.39h-4.28zM512.72 57.63h4.28v2.39h-4.28zM512.72 59.52h4.28v2.39h-4.28zM512.72 61.41h4.28v2.39h-4.28z"/></g>
<line x1="477.6" y1="6.6" x2="498.7" y2="63.1" stroke="#b8b8c8" stroke-width="0.8" stroke-dasharray="1.5 1" opacity="0.85"/>
<rect x="489.2" y="36.4" width="3.2" height="6.4" fill="#10e8f0" transform="rotate(-21 490.8 39.6)"/>
</g>
<text x="462.26" y="19.66" font-size="14.16" textLength="20.51" lengthAdjust="spacingAndGlyphs" fill="#fff" font-family='"Liberation Sans", sans-serif'>(d)</text>
<g clip-path="url(#clip_e)"><rect x="542.5" y="6.6" width="56.7" height="56.5" fill="#000"/><g filter="url(#blurI)"><path fill="#02020e" d="M542.5 17.94h4.28v2.39h-4.28zM542.5 19.83h6.17v2.39h-6.17zM542.5 21.72h6.17v2.39h-6.17zM542.5 23.61h9.95v2.39h-9.95zM542.5 25.5h11.84v2.39h-11.84zM542.5 27.39h11.84v2.39h-11.84zM542.5 29.28h11.84v2.39h-11.84zM542.5 31.17h11.84v2.39h-11.84zM542.5 33.06h9.95v2.39h-9.95zM542.5 34.95h9.95v2.39h-9.95zM542.5 36.84h9.95v2.39h-9.95zM542.5 38.73h9.95v2.39h-9.95zM542.5 40.62h6.17v2.39h-6.17zM542.5 42.51h6.17v2.39h-6.17zM542.5 44.4h4.28v2.39h-4.28z"/>
<path fill="#08051d" d="M542.5 14.16h6.17v2.39h-6.17zM542.5 16.05h8.06v2.39h-8.06zM546.28 17.94h6.17v2.39h-6.17zM548.17 19.83h6.17v2.39h-6.17zM548.17 21.72h8.06v2.39h-8.06zM551.95 23.61h6.17v2.39h-6.17zM553.84 25.5h4.28v2.39h-4.28zM553.84 27.39h4.28v2.39h-4.28zM553.84 29.28h4.28v2.39h-4.28zM553.84 31.17h4.28v2.39h-4.28zM551.95 33.06h6.17v2.39h-6.17zM551.95 34.95h4.28v2.39h-4.28zM551.95 36.84h4.28v2.39h-4.28zM548.17 40.62h4.28v2.39h-4.28zM548.17 42.51h4.28v2.39h-4.28zM546.28 44.4h2.39v2.39h-2.39zM542.5 46.29h4.28v2.39h-4.28zM542.5 48.18h4.28v2.39h-4.28z"/>
<path fill="#0e092b" d="M542.5 12.27h4.28v2.39h-4.28zM548.17 14.16h4.28v2.39h-4.28zM550.06 16.05h2.39v2.39h-2.39zM551.95 17.94h2.39v2.39h-2.39zM553.84 19.83h4.28v2.39h-4.28zM555.73 21.72h2.39v2.39h-2.39zM555.73 34.95h2.39v2.39h-2.39zM555.73 36.84h2.39v2.39h-2.39zM551.95 38.73h2.39v2.39h-2.39zM551.95 40.62h2.39v2.39h-2.39zM548.17 44.4h4.28v2.39h-4.28zM546.28 46.29h2.39v2.39h-2.39zM546.28 48.18h2.39v2.39h-2.39zM542.5 50.07h4.28v2.39h-4.28zM542.5 51.96h4.28v2.39h-4.28z"/>
<path fill="#180c3c" d="M546.28 12.27h4.28v2.39h-4.28zM551.95 16.05h2.39v2.39h-2.39zM553.84 17.94h2.39v2.39h-2.39zM553.84 38.73h2.39v2.39h-2.39zM551.95 42.51h2.39v2.39h-2.39zM548.17 46.29h2.39v2.39h-2.39zM546.28 50.07h2.39v2.39h-2.39zM542.5 53.85h4.28v2.39h-4.28z"/>
<path fill="#210c4a" d="M542.5 10.38h6.17v2.39h-6.17zM550.06 12.27h2.39v2.39h-2.39zM551.95 14.16h2.39v2.39h-2.39zM555.73 17.94h2.39v2.39h-2.39zM557.62 23.61h2.39v2.39h-2.39zM557.62 25.5h2.39v2.39h-2.39zM557.62 27.39h2.39v2.39h-2.39zM557.62 29.28h2.39v2.39h-2.39zM557.62 31.17h2.39v2.39h-2.39zM557.62 33.06h2.39v2.39h-2.39zM555.73 38.73h2.39v2.39h-2.39zM553.84 40.62h2.39v2.39h-2.39zM551.95 44.4h2.39v2.39h-2.39zM550.06 46.29h2.39v2.39h-2.39zM548.17 48.18h2.39v2.39h-2.39zM546.28 51.96h2.39v2.39h-2.39zM542.5 55.74h4.28v2.39h-4.28z"/>
<path fill="#2d0b59" d="M542.5 6.6h6.17v2.39h-6.17zM542.5 8.49h6.17v2.39h-6.17zM548.17 10.38h4.28v2.39h-4.28zM551.95 12.27h2.39v2.39h-2.39zM553.84 16.05h2.39v2.39h-2.39zM557.62 19.83h2.39v2.39h-2.39zM557.62 21.72h2.39v2.39h-2.39zM557.62 34.95h2.39v2.39h-2.39zM557.62 36.84h2.39v2.39h-2.39zM555.73 40.62h2.39v2.39h-2.39zM553.84 42.51h2.39v2.39h-2.39zM551.95 46.29h2.39v2.39h-2.39zM550.06 48.18h2.39v2.39h-2.39zM548.17 50.07h2.39v2.39h-2.39zM546.28 53.85h2.39v2.39h-2.39zM542.5 57.63h4.28v2.39h-4.28z"/>
<path fill="#380962" d="M548.17 6.6h2.39v2.39h-2.39zM548.17 8.49h2.39v2.39h-2.39zM551.95 10.38h2.39v2.39h-2.39zM557.62 38.73h2.39v2.39h-2.39zM553.84 44.4h2.39v2.39h-2.39zM550.06 50.07h2.39v2.39h-2.39zM548.17 51.96h2.39v2.39h-2.39zM546.28 55.74h2.39v2.39h-2.39z"/>
<path fill="#440a68" d="M550.06 6.6h4.28v2.39h-4.28zM550.06 8.49h4.28v2.39h-4.28zM553.84 12.27h2.39v2.39h-2.39zM553.84 14.16h2.39v2.39h-2.39zM555.73 16.05h2.39v2.39h-2.39zM557.62 17.94h2.39v2.39h-2.39zM559.51 25.5h2.39v2.39h-2.39zM559.51 27.39h2.39v2.39h-2.39zM559.51 29.28h2.39v2.39h-2.39zM559.51 31.17h2.39v2.39h-2.39zM557.62 40.62h2.39v2.39h-2.39zM555.73 42.51h2.39v2.39h-2.39zM553.84 46.29h2.39v2.39h-2.39zM551.95 48.18h2.39v2.39h-2.39zM550.06 51.96h2.39v2.39h-2.39zM548.17 53.85h2.39v2.39h-2.39zM546.28 57.63h2.39v2.39h-2.39zM542.5 59.52h4.28v2.39h-4.28zM542.5 61.41h4.28v2.39h-4.28z"/>
<path fill="#4f0d6c" d="M553.84 6.6h2.39v2.39h-2.39zM553.84 8.49h2.39v2.39h-2.39zM553.84 10.38h2.39v2.39h-2.39zM557.62 16.05h2.39v2.39h-2.39zM559.51 19.83h2.39v2.39h-2.39zM559.51 21.72h2.39v2.39h-2.39zM559.51 23.61h2.39v2.39h-2.39zM559.51 33.06h2.39v2.39h-2.39zM559.51 34.95h2.39v2.39h-2.39zM559.51 36.84h2.39v2.39h-2.39zM555.73 44.4h2.39v2.39h-2.39zM551.95 50.07h2.39v2.39h-2.39zM548.17 55.74h2.39v2.39h-2.39zM546.28 59.52h2.39v2.39h-2.39zM546.28 61.41h2.39v2.39h-2.39z"/>
<path fill="#59106e" d="M555.73 6.6h4.28v2.39h-4.28zM555.73 8.49h4.28v2.39h-4.28zM555.73 10.38h2.39v2.39h-2.39zM555.73 12.27h2.39v2.39h-2.39zM555.73 14.16h2.39v2.39h-2.39zM559.51 17.94h2.39v2.39h-2.39zM559.51 38.73h2.39v2.39h-2.39zM557.62 42.51h2.39v2.39h-2.39zM555.73 46.29h2.39v2.39h-2.39zM553.84 48.18h2.39v2.39h-2.39zM553.84 50.07h2.39v2.39h-2.39zM551.95 51.96h2.39v2.39h-2.39zM550.06 53.85h4.28v2.39h-4.28zM550.06 55.74h2.39v2.39h-2.39zM548.17 57.63h2.39v2.39h-2.39zM548.17 59.52h2.39v2.39h-2.39zM548.17 61.41h2.39v2.39h-2.39z"/>
<path fill="#64156e" d="M559.51 6.6h2.39v2.39h-2.39zM559.51 8.49h2.39v2.39h-2.39zM557.62 10.38h4.28v2.39h-4.28zM557.62 12.27h2.39v2.39h-2.39zM557.62 14.16h2.39v2.39h-2.39zM559.51 16.05h2.39v2.39h-2.39zM559.51 40.62h2.39v2.39h-2.39zM557.62 44.4h2.39v2.39h-2.39zM557.62 46.29h2.39v2.39h-2.39zM553.84 51.96h2.39v2.39h-2.39zM553.84 53.85h2.39v2.39h-2.39zM551.95 55.74h4.28v2.39h-4.28zM550.06 57.63h6.17v2.39h-6.17z"/>
<path fill="#6d186e" d="M561.4 6.6h2.39v2.39h-2.39zM561.4 8.49h2.39v2.39h-2.39zM561.4 10.38h2.39v2.39h-2.39zM559.51 12.27h2.39v2.39h-2.39zM559.51 14.16h2.39v2.39h-2.39zM561.4 17.94h2.39v2.39h-2.39zM561.4 19.83h2.39v2.39h-2.39zM561.4 21.72h2.39v2.39h-2.39zM561.4 23.61h2.39v2.39h-2.39zM561.4 25.5h2.39v2.39h-2.39zM561.4 27.39h2.39v2.39h-2.39zM561.4 29.28h2.39v2.39h-2.39zM561.4 31.17h2.39v2.39h-2.39zM561.4 33.06h2.39v2.39h-2.39zM561.4 34.95h2.39v2.39h-2.39zM561.4 36.84h2.39v2.39h-2.39zM561.4 38.73h2.39v2.39h-2.39zM559.51 42.51h2.39v2.39h-2.39zM559.51 44.4h2.39v2.39h-2.39zM555.73 48.18h4.28v2.39h-4.28zM555.73 50.07h4.28v2.39h-4.28zM555.73 51.96h4.28v2.39h-4.28zM555.73 53.85h4.28v2.39h-4.28zM555.73 55.74h4.28v2.39h-4.28zM555.73 57.63h4.28v2.39h-4.28zM550.06 59.52h9.95v2.39h-9.95zM550.06 61.41h9.95v2.39h-9.95z"/>
<path fill="#781c6d" d="M561.4 12.27h2.39v2.39h-2.39zM561.4 16.05h2.39v2.39h-2.39zM561.4 40.62h2.39v2.39h-2.39zM559.51 46.29h2.39v2.39h-2.39zM559.51 48.18h2.39v2.39h-2.39zM559.51 50.07h2.39v2.39h-2.39zM559.51 51.96h2.39v2.39h-2.39zM559.51 53.85h2.39v2.39h-2.39zM559.51 55.74h2.39v2.39h-2.39zM559.51 57.63h2.39v2.39h-2.39zM559.51 59.52h2.39v2.39h-2.39zM559.51 61.41h2.39v2.39h-2.39z"/>
<path fill="#82206c" d="M563.29 6.6h2.39v2.39h-2.39zM563.29 8.49h2.39v2.39h-2.39zM561.4 14.16h2.39v2.39h-2.39zM561.4 42.51h2.39v2.39h-2.39zM561.4 44.4h2.39v2.39h-2.39zM561.4 46.29h2.39v2.39h-2.39zM561.4 48.18h4.28v2.39h-4.28zM561.4 50.07h4.28v2.39h-4.28zM561.4 51.96h4.28v2.39h-4.28zM561.4 53.85h4.28v2.39h-4.28zM561.4 55.74h4.28v2.39h-4.28zM561.4 57.63h4.28v2.39h-4.28zM561.4 59.52h4.28v2.39h-4.28zM561.4 61.41h4.28v2.39h-4.28z"/>
<path fill="#8d2369" d="M563.29 10.38h2.39v2.39h-2.39zM563.29 34.95h2.39v2.39h-2.39zM563.29 36.84h2.39v2.39h-2.39zM563.29 38.73h2.39v2.39h-2.39zM563.29 40.62h2.39v2.39h-2.39zM563.29 42.51h2.39v2.39h-2.39zM563.29 44.4h2.39v2.39h-2.39zM563.29 46.29h4.28v2.39h-4.28zM565.18 48.18h2.39v2.39h-2.39zM565.18 50.07h2.39v2.39h-2.39zM565.18 51.96h2.39v2.39h-2.39zM565.18 53.85h2.39v2.39h-2.39zM565.18 55.74h2.39v2.39h-2.39zM565.18 57.63h2.39v2.39h-2.39zM565.18 59.52h2.39v2.39h-2.39zM565.18 61.41h2.39v2.39h-2.39z"/>
<path fill="#982766" d="M565.18 6.6h2.39v2.39h-2.39zM587.86 6.6h11.84v2.39h-11.84zM565.18 8.49h2.39v2.39h-2.39zM587.86 8.49h11.84v2.39h-11.84zM589.75 10.38h9.95v2.39h-9.95zM563.29 12.27h2.39v2.39h-2.39zM563.29 17.94h2.39v2.39h-2.39zM563.29 19.83h2.39v2.39h-2.39zM563.29 21.72h2.39v2.39h-2.39zM563.29 23.61h2.39v2.39h-2.39zM563.29 25.5h2.39v2.39h-2.39zM563.29 27.39h2.39v2.39h-2.39zM563.29 29.28h2.39v2.39h-2.39zM563.29 31.17h2.39v2.39h-2.39zM563.29 33.06h2.39v2.39h-2.39zM565.18 42.51h2.39v2.39h-2.39zM565.18 44.4h2.39v2.39h-2.39zM567.07 46.29h2.39v2.39h-2.39zM567.07 48.18h2.39v2.39h-2.39zM567.07 50.07h2.39v2.39h-2.39zM567.07 51.96h2.39v2.39h-2.39zM567.07 53.85h4.28v2.39h-4.28zM567.07 55.74h6.17v2.39h-6.17zM567.07 57.63h8.06v2.39h-8.06zM567.07 59.52h9.95v2.39h-9.95zM567.07 61.41h9.95v2.39h-9.95z"/>
<path fill="#a22b62" d="M585.97 6.6h2.39v2.39h-2.39zM585.97 8.49h2.39v2.39h-2.39zM565.18 10.38h2.39v2.39h-2.39zM585.97 10.38h4.28v2.39h-4.28zM585.97 12.27h13.73v2.39h-13.73zM563.29 14.16h2.39v2.39h-2.39zM563.29 16.05h2.39v2.39h-2.39zM565.18 40.62h2.39v2.39h-2.39zM567.07 44.4h2.39v2.39h-2.39zM568.96 50.07h2.39v2.39h-2.39zM568.96 51.96h2.39v2.39h-2.39zM570.85 53.85h2.39v2.39h-2.39zM572.74 55.74h2.39v2.39h-2.39zM574.63 57.63h2.39v2.39h-2.39zM576.52 59.52h2.39v2.39h-2.39zM576.52 61.41h2.39v2.39h-2.39z"/>
<path fill="#ad305d" d="M567.07 6.6h2.39v2.39h-2.39zM582.19 6.6h4.28v2.39h-4.28zM567.07 8.49h2.39v2.39h-2.39zM582.19 8.49h4.28v2.39h-4.28zM582.19 10.38h4.28v2.39h-4.28zM582.19 12.27h4.28v2.39h-4.28zM582.19 14.16h17.51v2.39h-17.51zM589.75 16.05h4.28v2.39h-4.28zM565.18 36.84h2.39v2.39h-2.39zM565.18 38.73h2.39v2.39h-2.39zM567.07 42.51h2.39v2.39h-2.39zM568.96 46.29h2.39v2.39h-2.39zM568.96 48.18h2.39v2.39h-2.39zM570.85 51.96h2.39v2.39h-2.39zM572.74 53.85h4.28v2.39h-4.28zM574.63 55.74h4.28v2.39h-4.28zM576.52 57.63h9.95v2.39h-9.95zM578.41 59.52h9.95v2.39h-9.95zM578.41 61.41h9.95v2.39h-9.95z"/>
<path fill="#b63458" d="M568.96 6.6h2.39v2.39h-2.39zM580.3 6.6h2.39v2.39h-2.39zM568.96 8.49h2.39v2.39h-2.39zM580.3 8.49h2.39v2.39h-2.39zM567.07 10.38h2.39v2.39h-2.39zM580.3 10.38h2.39v2.39h-2.39zM565.18 12.27h2.39v2.39h-2.39zM580.3 12.27h2.39v2.39h-2.39zM580.3 14.16h2.39v2.39h-2.39zM587.86 16.05h2.39v2.39h-2.39zM593.53 16.05h6.17v2.39h-6.17zM589.75 17.94h4.28v2.39h-4.28zM565.18 34.95h2.39v2.39h-2.39zM567.07 40.62h2.39v2.39h-2.39zM568.96 44.4h2.39v2.39h-2.39zM570.85 48.18h2.39v2.39h-2.39zM570.85 50.07h2.39v2.39h-2.39zM572.74 51.96h2.39v2.39h-2.39zM576.52 53.85h2.39v2.39h-2.39zM578.41 55.74h8.06v2.39h-8.06zM585.97 57.63h2.39v2.39h-2.39zM587.86 59.52h2.39v2.39h-2.39zM587.86 61.41h2.39v2.39h-2.39z"/>
<path fill="#c03a51" d="M570.85 6.6h2.39v2.39h-2.39zM576.52 6.6h4.28v2.39h-4.28zM570.85 8.49h2.39v2.39h-2.39zM576.52 8.49h4.28v2.39h-4.28zM578.41 10.38h2.39v2.39h-2.39zM578.41 12.27h2.39v2.39h-2.39zM565.18 14.16h2.39v2.39h-2.39zM578.41 14.16h2.39v2.39h-2.39zM565.18 16.05h2.39v2.39h-2.39zM578.41 16.05h9.95v2.39h-9.95zM578.41 17.94h2.39v2.39h-2.39zM587.86 17.94h2.39v2.39h-2.39zM593.53 17.94h6.17v2.39h-6.17zM578.41 19.83h2.39v2.39h-2.39zM589.75 19.83h4.28v2.39h-4.28zM578.41 21.72h2.39v2.39h-2.39zM589.75 21.72h2.39v2.39h-2.39zM589.75 23.61h2.39v2.39h-2.39zM589.75 25.5h2.39v2.39h-2.39zM589.75 27.39h2.39v2.39h-2.39zM578.41 29.28h2.39v2.39h-2.39zM589.75 29.28h2.39v2.39h-2.39zM578.41 31.17h2.39v2.39h-2.39zM589.75 31.17h2.39v2.39h-2.39zM565.18 33.06h2.39v2.39h-2.39zM578.41 33.06h2.39v2.39h-2.39zM589.75 33.06h2.39v2.39h-2.39zM567.07 38.73h2.39v2.39h-2.39zM568.96 42.51h2.39v2.39h-2.39zM572.74 50.07h2.39v2.39h-2.39zM574.63 51.96h2.39v2.39h-2.39zM578.41 53.85h9.95v2.39h-9.95zM585.97 55.74h4.28v2.39h-4.28zM587.86 57.63h4.28v2.39h-4.28zM589.75 59.52h2.39v2.39h-2.39zM589.75 61.41h2.39v2.39h-2.39z"/>
<path fill="#c83f4b" d="M572.74 6.6h4.28v2.39h-4.28zM572.74 8.49h4.28v2.39h-4.28zM568.96 10.38h2.39v2.39h-2.39zM576.52 10.38h2.39v2.39h-2.39zM567.07 12.27h2.39v2.39h-2.39zM576.52 12.27h2.39v2.39h-2.39zM576.52 14.16h2.39v2.39h-2.39zM565.18 17.94h2.39v2.39h-2.39zM580.3 17.94h2.39v2.39h-2.39zM585.97 17.94h2.39v2.39h-2.39zM565.18 19.83h2.39v2.39h-2.39zM580.3 19.83h2.39v2.39h-2.39zM587.86 19.83h2.39v2.39h-2.39zM593.53 19.83h6.17v2.39h-6.17zM565.18 21.72h2.39v2.39h-2.39zM591.64 21.72h2.39v2.39h-2.39zM565.18 23.61h2.39v2.39h-2.39zM578.41 23.61h2.39v2.39h-2.39zM565.18 25.5h2.39v2.39h-2.39zM578.41 25.5h2.39v2.39h-2.39zM565.18 27.39h2.39v2.39h-2.39zM578.41 27.39h2.39v2.39h-2.39zM565.18 29.28h2.39v2.39h-2.39zM565.18 31.17h2.39v2.39h-2.39zM578.41 34.95h2.39v2.39h-2.39zM589.75 34.95h2.39v2.39h-2.39zM567.07 36.84h2.39v2.39h-2.39zM578.41 36.84h2.39v2.39h-2.39zM589.75 36.84h2.39v2.39h-2.39zM589.75 38.73h2.39v2.39h-2.39zM568.96 40.62h2.39v2.39h-2.39zM589.75 40.62h2.39v2.39h-2.39zM589.75 42.51h2.39v2.39h-2.39zM589.75 44.4h2.39v2.39h-2.39zM570.85 46.29h2.39v2.39h-2.39zM589.75 46.29h2.39v2.39h-2.39zM572.74 48.18h2.39v2.39h-2.39zM589.75 48.18h2.39v2.39h-2.39zM574.63 50.07h2.39v2.39h-2.39zM589.75 50.07h2.39v2.39h-2.39zM576.52 51.96h15.62v2.39h-15.62zM587.86 53.85h4.28v2.39h-4.28zM589.75 55.74h2.39v2.39h-2.39z"/>
<path fill="#d24644" d="M570.85 10.38h2.39v2.39h-2.39zM574.63 10.38h2.39v2.39h-2.39zM568.96 12.27h2.39v2.39h-2.39zM576.52 16.05h2.39v2.39h-2.39zM576.52 17.94h2.39v2.39h-2.39zM582.19 17.94h2.39v2.39h-2.39zM576.52 19.83h2.39v2.39h-2.39zM580.3 21.72h2.39v2.39h-2.39zM587.86 21.72h2.39v2.39h-2.39zM587.86 23.61h2.39v2.39h-2.39zM591.64 23.61h2.39v2.39h-2.39zM587.86 25.5h2.39v2.39h-2.39zM587.86 27.39h2.39v2.39h-2.39zM587.86 29.28h2.39v2.39h-2.39zM580.3 31.17h2.39v2.39h-2.39zM587.86 31.17h2.39v2.39h-2.39zM568.96 38.73h2.39v2.39h-2.39zM578.41 38.73h2.39v2.39h-2.39zM570.85 44.4h2.39v2.39h-2.39zM587.86 48.18h2.39v2.39h-2.39zM576.52 50.07h2.39v2.39h-2.39zM584.08 50.07h6.17v2.39h-6.17z"/>
<path fill="#d94d3d" d="M572.74 10.38h2.39v2.39h-2.39zM570.85 12.27h2.39v2.39h-2.39zM574.63 12.27h2.39v2.39h-2.39zM567.07 14.16h2.39v2.39h-2.39zM574.63 14.16h2.39v2.39h-2.39zM584.08 17.94h2.39v2.39h-2.39zM582.19 19.83h2.39v2.39h-2.39zM585.97 19.83h2.39v2.39h-2.39zM576.52 21.72h2.39v2.39h-2.39zM593.53 21.72h2.39v2.39h-2.39zM576.52 23.61h2.39v2.39h-2.39zM580.3 23.61h2.39v2.39h-2.39zM576.52 25.5h2.39v2.39h-2.39zM580.3 25.5h2.39v2.39h-2.39zM591.64 25.5h2.39v2.39h-2.39zM576.52 27.39h2.39v2.39h-2.39zM580.3 27.39h2.39v2.39h-2.39zM591.64 27.39h2.39v2.39h-2.39zM576.52 29.28h2.39v2.39h-2.39zM580.3 29.28h2.39v2.39h-2.39zM576.52 31.17h2.39v2.39h-2.39zM576.52 33.06h2.39v2.39h-2.39zM580.3 33.06h2.39v2.39h-2.39zM587.86 33.06h2.39v2.39h-2.39zM567.07 34.95h2.39v2.39h-2.39zM576.52 34.95h2.39v2.39h-2.39zM580.3 34.95h2.39v2.39h-2.39zM587.86 34.95h2.39v2.39h-2.39zM568.96 36.84h2.39v2.39h-2.39zM576.52 36.84h2.39v2.39h-2.39zM580.3 36.84h2.39v2.39h-2.39zM587.86 36.84h2.39v2.39h-2.39zM587.86 38.73h2.39v2.39h-2.39zM578.41 40.62h2.39v2.39h-2.39zM587.86 40.62h2.39v2.39h-2.39zM570.85 42.51h2.39v2.39h-2.39zM578.41 42.51h2.39v2.39h-2.39zM587.86 42.51h2.39v2.39h-2.39zM587.86 44.4h2.39v2.39h-2.39zM572.74 46.29h4.28v2.39h-4.28zM587.86 46.29h2.39v2.39h-2.39zM574.63 48.18h2.39v2.39h-2.39zM584.08 48.18h4.28v2.39h-4.28zM578.41 50.07h6.17v2.39h-6.17z"/>
<path fill="#e15635" d="M572.74 12.27h2.39v2.39h-2.39zM568.96 14.16h2.39v2.39h-2.39zM567.07 16.05h2.39v2.39h-2.39zM574.63 16.05h2.39v2.39h-2.39zM574.63 17.94h2.39v2.39h-2.39zM582.19 21.72h2.39v2.39h-2.39zM585.97 21.72h2.39v2.39h-2.39zM595.42 21.72h4.28v2.39h-4.28zM585.97 23.61h2.39v2.39h-2.39zM593.53 23.61h2.39v2.39h-2.39zM591.64 29.28h2.39v2.39h-2.39zM591.64 31.17h2.39v2.39h-2.39zM567.07 33.06h2.39v2.39h-2.39zM591.64 33.06h2.39v2.39h-2.39zM568.96 34.95h2.39v2.39h-2.39zM570.85 38.73h2.39v2.39h-2.39zM576.52 38.73h2.39v2.39h-2.39zM580.3 38.73h2.39v2.39h-2.39zM570.85 40.62h2.39v2.39h-2.39zM576.52 40.62h2.39v2.39h-2.39zM580.3 40.62h2.39v2.39h-2.39zM576.52 42.51h2.39v2.39h-2.39zM572.74 44.4h8.06v2.39h-8.06zM585.97 44.4h2.39v2.39h-2.39zM576.52 46.29h2.39v2.39h-2.39zM585.97 46.29h2.39v2.39h-2.39zM576.52 48.18h2.39v2.39h-2.39zM582.19 48.18h2.39v2.39h-2.39zM591.64 57.63h2.39v2.39h-2.39zM591.64 59.52h2.39v2.39h-2.39zM591.64 61.41h2.39v2.39h-2.39z"/>
<path fill="#e8602d" d="M570.85 14.16h4.28v2.39h-4.28zM568.96 16.05h4.28v2.39h-4.28zM567.07 17.94h4.28v2.39h-4.28zM567.07 19.83h2.39v2.39h-2.39zM574.63 19.83h2.39v2.39h-2.39zM584.08 19.83h2.39v2.39h-2.39zM567.07 21.72h2.39v2.39h-2.39zM574.63 21.72h2.39v2.39h-2.39zM567.07 23.61h2.39v2.39h-2.39zM574.63 23.61h2.39v2.39h-2.39zM582.19 23.61h2.39v2.39h-2.39zM567.07 25.5h2.39v2.39h-2.39zM574.63 25.5h2.39v2.39h-2.39zM582.19 25.5h2.39v2.39h-2.39zM585.97 25.5h2.39v2.39h-2.39zM567.07 27.39h2.39v2.39h-2.39zM582.19 27.39h2.39v2.39h-2.39zM585.97 27.39h2.39v2.39h-2.39zM567.07 29.28h2.39v2.39h-2.39zM582.19 29.28h2.39v2.39h-2.39zM585.97 29.28h2.39v2.39h-2.39zM567.07 31.17h2.39v2.39h-2.39zM582.19 31.17h2.39v2.39h-2.39zM585.97 31.17h2.39v2.39h-2.39zM582.19 33.06h2.39v2.39h-2.39zM585.97 33.06h2.39v2.39h-2.39zM582.19 34.95h2.39v2.39h-2.39zM585.97 34.95h2.39v2.39h-2.39zM591.64 34.95h2.39v2.39h-2.39zM570.85 36.84h2.39v2.39h-2.39zM574.63 36.84h2.39v2.39h-2.39zM582.19 36.84h2.39v2.39h-2.39zM585.97 36.84h2.39v2.39h-2.39zM591.64 36.84h2.39v2.39h-2.39zM574.63 38.73h2.39v2.39h-2.39zM585.97 38.73h2.39v2.39h-2.39zM591.64 38.73h2.39v2.39h-2.39zM574.63 40.62h2.39v2.39h-2.39zM585.97 40.62h2.39v2.39h-2.39zM591.64 40.62h2.39v2.39h-2.39zM572.74 42.51h4.28v2.39h-4.28zM580.3 42.51h2.39v2.39h-2.39zM585.97 42.51h2.39v2.39h-2.39zM591.64 42.51h2.39v2.39h-2.39zM580.3 44.4h4.28v2.39h-4.28zM591.64 44.4h2.39v2.39h-2.39zM578.41 46.29h8.06v2.39h-8.06zM591.64 46.29h2.39v2.39h-2.39zM578.41 48.18h4.28v2.39h-4.28zM591.64 48.18h2.39v2.39h-2.39zM591.64 50.07h2.39v2.39h-2.39zM591.64 51.96h2.39v2.39h-2.39zM591.64 53.85h2.39v2.39h-2.39zM591.64 55.74h2.39v2.39h-2.39z"/>
<path fill="#ed6925" d="M572.74 16.05h2.39v2.39h-2.39zM570.85 17.94h2.39v2.39h-2.39zM568.96 19.83h2.39v2.39h-2.39zM568.96 21.72h2.39v2.39h-2.39zM584.08 21.72h2.39v2.39h-2.39zM568.96 23.61h2.39v2.39h-2.39zM568.96 25.5h2.39v2.39h-2.39zM593.53 25.5h2.39v2.39h-2.39zM568.96 27.39h2.39v2.39h-2.39zM574.63 27.39h2.39v2.39h-2.39zM568.96 29.28h2.39v2.39h-2.39zM574.63 29.28h2.39v2.39h-2.39zM574.63 31.17h2.39v2.39h-2.39zM568.96 33.06h2.39v2.39h-2.39zM574.63 33.06h2.39v2.39h-2.39zM570.85 34.95h2.39v2.39h-2.39zM574.63 34.95h2.39v2.39h-2.39zM582.19 38.73h2.39v2.39h-2.39zM572.74 40.62h2.39v2.39h-2.39zM582.19 40.62h2.39v2.39h-2.39zM582.19 42.51h2.39v2.39h-2.39zM584.08 44.4h2.39v2.39h-2.39z"/>
<path fill="#f2741c" d="M572.74 17.94h2.39v2.39h-2.39zM570.85 19.83h4.28v2.39h-4.28zM570.85 21.72h4.28v2.39h-4.28zM570.85 23.61h4.28v2.39h-4.28zM584.08 23.61h2.39v2.39h-2.39zM595.42 23.61h4.28v2.39h-4.28zM570.85 25.5h4.28v2.39h-4.28zM584.08 25.5h2.39v2.39h-2.39zM570.85 27.39h2.39v2.39h-2.39zM584.08 27.39h2.39v2.39h-2.39zM593.53 27.39h2.39v2.39h-2.39zM584.08 29.28h2.39v2.39h-2.39zM568.96 31.17h2.39v2.39h-2.39zM584.08 31.17h2.39v2.39h-2.39zM570.85 33.06h2.39v2.39h-2.39zM584.08 33.06h2.39v2.39h-2.39zM584.08 34.95h2.39v2.39h-2.39zM572.74 36.84h2.39v2.39h-2.39zM584.08 36.84h2.39v2.39h-2.39zM572.74 38.73h2.39v2.39h-2.39zM584.08 38.73h2.39v2.39h-2.39zM584.08 40.62h2.39v2.39h-2.39zM584.08 42.51h2.39v2.39h-2.39z"/>
<path fill="#f67e14" d="M572.74 27.39h2.39v2.39h-2.39zM570.85 29.28h2.39v2.39h-2.39zM593.53 29.28h2.39v2.39h-2.39zM570.85 31.17h2.39v2.39h-2.39zM572.74 34.95h2.39v2.39h-2.39zM593.53 40.62h2.39v2.39h-2.39zM593.53 42.51h2.39v2.39h-2.39zM593.53 44.4h2.39v2.39h-2.39zM593.53 46.29h2.39v2.39h-2.39zM593.53 48.18h2.39v2.39h-2.39zM593.53 50.07h2.39v2.39h-2.39z"/>
<path fill="#f98b0b" d="M595.42 25.5h4.28v2.39h-4.28zM572.74 29.28h2.39v2.39h-2.39zM572.74 31.17h2.39v2.39h-2.39zM593.53 31.17h2.39v2.39h-2.39zM572.74 33.06h2.39v2.39h-2.39zM593.53 33.06h2.39v2.39h-2.39zM593.53 34.95h2.39v2.39h-2.39zM593.53 36.84h2.39v2.39h-2.39zM593.53 38.73h2.39v2.39h-2.39zM593.53 51.96h2.39v2.39h-2.39zM593.53 53.85h2.39v2.39h-2.39zM593.53 55.74h2.39v2.39h-2.39zM593.53 57.63h2.39v2.39h-2.39zM593.53 59.52h2.39v2.39h-2.39zM593.53 61.41h2.39v2.39h-2.39z"/>
<path fill="#fca309" d="M595.42 27.39h4.28v2.39h-4.28zM595.42 42.51h4.28v2.39h-4.28zM595.42 44.4h4.28v2.39h-4.28zM595.42 46.29h4.28v2.39h-4.28zM595.42 48.18h4.28v2.39h-4.28z"/>
<path fill="#fcb014" d="M595.42 29.28h4.28v2.39h-4.28zM595.42 38.73h4.28v2.39h-4.28zM595.42 40.62h4.28v2.39h-4.28zM595.42 50.07h4.28v2.39h-4.28zM595.42 51.96h4.28v2.39h-4.28z"/>
<path fill="#fbbc21" d="M595.42 31.17h4.28v2.39h-4.28zM595.42 33.06h4.28v2.39h-4.28zM595.42 34.95h4.28v2.39h-4.28zM595.42 36.84h4.28v2.39h-4.28zM595.42 53.85h4.28v2.39h-4.28zM595.42 55.74h4.28v2.39h-4.28zM595.42 57.63h4.28v2.39h-4.28zM595.42 59.52h4.28v2.39h-4.28zM595.42 61.41h4.28v2.39h-4.28z"/></g>
<line x1="560.3" y1="6.6" x2="581.4" y2="63.1" stroke="#b8b8c8" stroke-width="0.8" stroke-dasharray="1.5 1" opacity="0.85"/>
<rect x="571.9" y="36.4" width="3.2" height="6.4" fill="#10e8f0" transform="rotate(-21 573.5 39.6)"/>
</g>
<text x="544.98" y="19.64" font-size="14.15" textLength="20.18" lengthAdjust="spacingAndGlyphs" fill="#fff" font-family='"Liberation Sans", sans-serif'>(e)</text>
<g clip-path="url(#clip_f)"><rect x="377.7" y="68.3" width="56.7" height="56.5" fill="#000"/><g filter="url(#blurI)"><path fill="#02020e" d="M377.7 79.64h4.28v2.39h-4.28zM377.7 81.53h6.17v2.39h-6.17zM377.7 83.42h6.17v2.39h-6.17zM377.7 85.31h9.95v2.39h-9.95zM377.7 87.2h11.84v2.39h-11.84zM377.7 89.09h11.84v2.39h-11.84zM377.7 90.98h11.84v2.39h-11.84zM377.7 92.87h11.84v2.39h-11.84zM377.7 94.76h9.95v2.39h-9.95zM377.7 96.65h9.95v2.39h-9.95zM377.7 98.54h9.95v2.39h-9.95zM377.7 100.43h9.95v2.39h-9.95zM377.7 102.32h6.17v2.39h-6.17zM377.7 104.21h6.17v2.39h-6.17zM377.7 106.1h4.28v2.39h-4.28z"/>
<path fill="#08051d" d="M377.7 75.86h6.17v2.39h-6.17zM377.7 77.75h8.06v2.39h-8.06zM381.48 79.64h6.17v2.39h-6.17zM383.37 81.53h6.17v2.39h-6.17zM383.37 83.42h8.06v2.39h-8.06zM387.15 85.31h6.17v2.39h-6.17zM389.04 87.2h4.28v2.39h-4.28zM389.04 89.09h4.28v2.39h-4.28zM389.04 90.98h4.28v2.39h-4.28zM389.04 92.87h4.28v2.39h-4.28zM387.15 94.76h6.17v2.39h-6.17zM387.15 96.65h4.28v2.39h-4.28zM387.15 98.54h4.28v2.39h-4.28zM383.37 102.32h4.28v2.39h-4.28zM383.37 104.21h4.28v2.39h-4.28zM381.48 106.1h2.39v2.39h-2.39zM377.7 107.99h4.28v2.39h-4.28zM377.7 109.88h4.28v2.39h-4.28z"/>
<path fill="#0e092b" d="M377.7 73.97h4.28v2.39h-4.28zM383.37 75.86h4.28v2.39h-4.28zM385.26 77.75h2.39v2.39h-2.39zM387.15 79.64h2.39v2.39h-2.39zM389.04 81.53h4.28v2.39h-4.28zM390.93 83.42h2.39v2.39h-2.39zM390.93 96.65h2.39v2.39h-2.39zM390.93 98.54h2.39v2.39h-2.39zM387.15 100.43h2.39v2.39h-2.39zM387.15 102.32h2.39v2.39h-2.39zM383.37 106.1h4.28v2.39h-4.28zM381.48 107.99h2.39v2.39h-2.39zM381.48 109.88h2.39v2.39h-2.39zM377.7 111.77h4.28v2.39h-4.28zM377.7 113.66h4.28v2.39h-4.28z"/>
<path fill="#180c3c" d="M381.48 73.97h4.28v2.39h-4.28zM387.15 77.75h2.39v2.39h-2.39zM389.04 79.64h2.39v2.39h-2.39zM389.04 100.43h2.39v2.39h-2.39zM387.15 104.21h2.39v2.39h-2.39zM383.37 107.99h2.39v2.39h-2.39zM381.48 111.77h2.39v2.39h-2.39zM377.7 115.55h4.28v2.39h-4.28z"/>
<path fill="#210c4a" d="M377.7 72.08h6.17v2.39h-6.17zM385.26 73.97h2.39v2.39h-2.39zM387.15 75.86h2.39v2.39h-2.39zM390.93 79.64h2.39v2.39h-2.39zM390.93 100.43h2.39v2.39h-2.39zM389.04 102.32h2.39v2.39h-2.39zM387.15 106.1h2.39v2.39h-2.39zM385.26 107.99h2.39v2.39h-2.39zM383.37 109.88h2.39v2.39h-2.39zM381.48 113.66h2.39v2.39h-2.39zM377.7 117.44h4.28v2.39h-4.28z"/>
<path fill="#2d0b59" d="M377.7 68.3h6.17v2.39h-6.17zM377.7 70.19h6.17v2.39h-6.17zM383.37 72.08h4.28v2.39h-4.28zM387.15 73.97h2.39v2.39h-2.39zM389.04 77.75h2.39v2.39h-2.39zM392.82 83.42h2.39v2.39h-2.39zM392.82 85.31h2.39v2.39h-2.39zM392.82 87.2h2.39v2.39h-2.39zM392.82 89.09h2.39v2.39h-2.39zM392.82 90.98h2.39v2.39h-2.39zM392.82 92.87h2.39v2.39h-2.39zM392.82 94.76h2.39v2.39h-2.39zM392.82 96.65h2.39v2.39h-2.39zM390.93 102.32h2.39v2.39h-2.39zM389.04 104.21h2.39v2.39h-2.39zM387.15 107.99h2.39v2.39h-2.39zM385.26 109.88h2.39v2.39h-2.39zM383.37 111.77h2.39v2.39h-2.39zM381.48 115.55h2.39v2.39h-2.39zM377.7 119.33h4.28v2.39h-4.28z"/>
<path fill="#380962" d="M383.37 68.3h2.39v2.39h-2.39zM383.37 70.19h2.39v2.39h-2.39zM387.15 72.08h2.39v2.39h-2.39zM392.82 81.53h2.39v2.39h-2.39zM392.82 98.54h2.39v2.39h-2.39zM389.04 106.1h2.39v2.39h-2.39zM385.26 111.77h2.39v2.39h-2.39zM383.37 113.66h2.39v2.39h-2.39zM381.48 117.44h2.39v2.39h-2.39z"/>
<path fill="#440a68" d="M385.26 68.3h4.28v2.39h-4.28zM385.26 70.19h4.28v2.39h-4.28zM389.04 73.97h2.39v2.39h-2.39zM389.04 75.86h2.39v2.39h-2.39zM390.93 77.75h2.39v2.39h-2.39zM392.82 79.64h2.39v2.39h-2.39zM392.82 100.43h2.39v2.39h-2.39zM390.93 104.21h2.39v2.39h-2.39zM389.04 107.99h2.39v2.39h-2.39zM387.15 109.88h2.39v2.39h-2.39zM385.26 113.66h2.39v2.39h-2.39zM383.37 115.55h2.39v2.39h-2.39zM381.48 119.33h2.39v2.39h-2.39zM377.7 121.22h4.28v2.39h-4.28zM377.7 123.11h4.28v2.39h-4.28z"/>
<path fill="#4f0d6c" d="M389.04 68.3h2.39v2.39h-2.39zM389.04 70.19h2.39v2.39h-2.39zM389.04 72.08h2.39v2.39h-2.39zM392.82 102.32h2.39v2.39h-2.39zM390.93 106.1h2.39v2.39h-2.39zM387.15 111.77h2.39v2.39h-2.39zM383.37 117.44h2.39v2.39h-2.39zM381.48 121.22h2.39v2.39h-2.39zM381.48 123.11h2.39v2.39h-2.39z"/>
<path fill="#59106e" d="M390.93 68.3h4.28v2.39h-4.28zM390.93 70.19h4.28v2.39h-4.28zM390.93 72.08h2.39v2.39h-2.39zM390.93 73.97h2.39v2.39h-2.39zM390.93 75.86h2.39v2.39h-2.39zM392.82 77.75h2.39v2.39h-2.39zM394.71 81.53h2.39v2.39h-2.39zM394.71 83.42h2.39v2.39h-2.39zM394.71 85.31h2.39v2.39h-2.39zM394.71 87.2h2.39v2.39h-2.39zM394.71 89.09h2.39v2.39h-2.39zM394.71 90.98h2.39v2.39h-2.39zM394.71 92.87h2.39v2.39h-2.39zM394.71 94.76h2.39v2.39h-2.39zM394.71 96.65h2.39v2.39h-2.39zM394.71 98.54h2.39v2.39h-2.39zM392.82 104.21h2.39v2.39h-2.39zM390.93 107.99h2.39v2.39h-2.39zM389.04 109.88h2.39v2.39h-2.39zM389.04 111.77h2.39v2.39h-2.39zM387.15 113.66h2.39v2.39h-2.39zM385.26 115.55h4.28v2.39h-4.28zM385.26 117.44h2.39v2.39h-2.39zM383.37 119.33h2.39v2.39h-2.39zM383.37 121.22h2.39v2.39h-2.39zM383.37 123.11h2.39v2.39h-2.39z"/>
<path fill="#64156e" d="M394.71 68.3h2.39v2.39h-2.39zM394.71 70.19h2.39v2.39h-2.39zM392.82 72.08h4.28v2.39h-4.28zM392.82 73.97h2.39v2.39h-2.39zM392.82 75.86h2.39v2.39h-2.39zM394.71 79.64h2.39v2.39h-2.39zM394.71 100.43h2.39v2.39h-2.39zM394.71 102.32h2.39v2.39h-2.39zM392.82 106.1h2.39v2.39h-2.39zM389.04 113.66h2.39v2.39h-2.39zM389.04 115.55h2.39v2.39h-2.39zM387.15 117.44h4.28v2.39h-4.28zM385.26 119.33h6.17v2.39h-6.17z"/>
<path fill="#6d186e" d="M396.6 68.3h2.39v2.39h-2.39zM396.6 70.19h2.39v2.39h-2.39zM396.6 72.08h2.39v2.39h-2.39zM394.71 73.97h2.39v2.39h-2.39zM394.71 75.86h2.39v2.39h-2.39zM394.71 77.75h2.39v2.39h-2.39zM394.71 104.21h2.39v2.39h-2.39zM392.82 107.99h2.39v2.39h-2.39zM390.93 109.88h2.39v2.39h-2.39zM390.93 111.77h2.39v2.39h-2.39zM390.93 113.66h2.39v2.39h-2.39zM390.93 115.55h2.39v2.39h-2.39zM390.93 117.44h2.39v2.39h-2.39zM390.93 119.33h2.39v2.39h-2.39zM385.26 121.22h9.95v2.39h-9.95zM385.26 123.11h9.95v2.39h-9.95z"/>
<path fill="#781c6d" d="M398.49 68.3h2.39v2.39h-2.39zM398.49 70.19h2.39v2.39h-2.39zM396.6 73.97h2.39v2.39h-2.39zM394.71 106.1h2.39v2.39h-2.39zM394.71 107.99h2.39v2.39h-2.39zM392.82 109.88h2.39v2.39h-2.39zM392.82 111.77h2.39v2.39h-2.39zM392.82 113.66h2.39v2.39h-2.39zM392.82 115.55h2.39v2.39h-2.39zM392.82 117.44h2.39v2.39h-2.39zM392.82 119.33h4.28v2.39h-4.28zM394.71 121.22h2.39v2.39h-2.39zM394.71 123.11h2.39v2.39h-2.39z"/>
<path fill="#82206c" d="M400.38 68.3h2.39v2.39h-2.39zM400.38 70.19h2.39v2.39h-2.39zM398.49 72.08h2.39v2.39h-2.39zM398.49 73.97h2.39v2.39h-2.39zM396.6 75.86h2.39v2.39h-2.39zM396.6 77.75h2.39v2.39h-2.39zM396.6 79.64h2.39v2.39h-2.39zM396.6 81.53h2.39v2.39h-2.39zM396.6 83.42h2.39v2.39h-2.39zM396.6 85.31h2.39v2.39h-2.39zM396.6 87.2h2.39v2.39h-2.39zM396.6 89.09h2.39v2.39h-2.39zM396.6 90.98h2.39v2.39h-2.39zM396.6 92.87h2.39v2.39h-2.39zM396.6 94.76h2.39v2.39h-2.39zM396.6 96.65h2.39v2.39h-2.39zM396.6 98.54h2.39v2.39h-2.39zM396.6 100.43h2.39v2.39h-2.39zM396.6 102.32h2.39v2.39h-2.39zM396.6 104.21h2.39v2.39h-2.39zM396.6 106.1h2.39v2.39h-2.39zM394.71 109.88h2.39v2.39h-2.39zM394.71 111.77h2.39v2.39h-2.39zM394.71 113.66h2.39v2.39h-2.39zM394.71 115.55h2.39v2.39h-2.39zM394.71 117.44h2.39v2.39h-2.39zM396.6 119.33h2.39v2.39h-2.39zM396.6 121.22h4.28v2.39h-4.28zM396.6 123.11h4.28v2.39h-4.28z"/>
<path fill="#8d2369" d="M400.38 72.08h2.39v2.39h-2.39zM398.49 75.86h2.39v2.39h-2.39zM398.49 77.75h2.39v2.39h-2.39zM398.49 79.64h2.39v2.39h-2.39zM396.6 107.99h2.39v2.39h-2.39zM396.6 117.44h2.39v2.39h-2.39zM398.49 119.33h2.39v2.39h-2.39zM400.38 121.22h2.39v2.39h-2.39zM400.38 123.11h2.39v2.39h-2.39z"/>
<path fill="#982766" d="M402.27 68.3h4.28v2.39h-4.28zM423.06 68.3h11.84v2.39h-11.84zM402.27 70.19h4.28v2.39h-4.28zM423.06 70.19h11.84v2.39h-11.84zM402.27 72.08h2.39v2.39h-2.39zM424.95 72.08h9.95v2.39h-9.95zM400.38 73.97h2.39v2.39h-2.39zM400.38 75.86h2.39v2.39h-2.39zM398.49 81.53h2.39v2.39h-2.39zM398.49 83.42h2.39v2.39h-2.39zM398.49 85.31h2.39v2.39h-2.39zM398.49 87.2h2.39v2.39h-2.39zM398.49 89.09h2.39v2.39h-2.39zM398.49 90.98h2.39v2.39h-2.39zM398.49 92.87h2.39v2.39h-2.39zM398.49 94.76h2.39v2.39h-2.39zM398.49 96.65h2.39v2.39h-2.39zM398.49 98.54h2.39v2.39h-2.39zM398.49 100.43h2.39v2.39h-2.39zM398.49 102.32h2.39v2.39h-2.39zM398.49 104.21h2.39v2.39h-2.39zM398.49 106.1h2.39v2.39h-2.39zM398.49 107.99h2.39v2.39h-2.39zM396.6 109.88h2.39v2.39h-2.39zM396.6 111.77h2.39v2.39h-2.39zM396.6 113.66h4.28v2.39h-4.28zM396.6 115.55h4.28v2.39h-4.28zM398.49 117.44h4.28v2.39h-4.28zM400.38 119.33h9.95v2.39h-9.95zM402.27 121.22h9.95v2.39h-9.95zM402.27 123.11h9.95v2.39h-9.95z"/>
<path fill="#a22b62" d="M406.05 68.3h2.39v2.39h-2.39zM421.17 68.3h2.39v2.39h-2.39zM406.05 70.19h2.39v2.39h-2.39zM421.17 70.19h2.39v2.39h-2.39zM404.16 72.08h2.39v2.39h-2.39zM423.06 72.08h2.39v2.39h-2.39zM402.27 73.97h2.39v2.39h-2.39zM424.95 73.97h9.95v2.39h-9.95zM400.38 77.75h2.39v2.39h-2.39zM400.38 79.64h2.39v2.39h-2.39zM398.49 109.88h2.39v2.39h-2.39zM398.49 111.77h2.39v2.39h-2.39zM400.38 113.66h2.39v2.39h-2.39zM400.38 115.55h2.39v2.39h-2.39zM402.27 117.44h8.06v2.39h-8.06zM409.83 119.33h2.39v2.39h-2.39zM411.72 121.22h2.39v2.39h-2.39zM411.72 123.11h2.39v2.39h-2.39z"/>
<path fill="#ad305d" d="M407.94 68.3h13.73v2.39h-13.73zM407.94 70.19h13.73v2.39h-13.73zM406.05 72.08h9.95v2.39h-9.95zM421.17 72.08h2.39v2.39h-2.39zM404.16 73.97h4.28v2.39h-4.28zM423.06 73.97h2.39v2.39h-2.39zM402.27 75.86h4.28v2.39h-4.28zM424.95 75.86h9.95v2.39h-9.95zM402.27 77.75h2.39v2.39h-2.39zM424.95 77.75h4.28v2.39h-4.28zM400.38 81.53h2.39v2.39h-2.39zM400.38 83.42h2.39v2.39h-2.39zM400.38 85.31h2.39v2.39h-2.39zM413.61 85.31h2.39v2.39h-2.39zM400.38 87.2h2.39v2.39h-2.39zM411.72 87.2h4.28v2.39h-4.28zM400.38 89.09h2.39v2.39h-2.39zM411.72 89.09h4.28v2.39h-4.28zM400.38 90.98h2.39v2.39h-2.39zM411.72 90.98h4.28v2.39h-4.28zM400.38 92.87h2.39v2.39h-2.39zM411.72 92.87h4.28v2.39h-4.28zM400.38 94.76h2.39v2.39h-2.39zM411.72 94.76h4.28v2.39h-4.28zM400.38 96.65h2.39v2.39h-2.39zM411.72 96.65h4.28v2.39h-4.28zM400.38 98.54h2.39v2.39h-2.39zM411.72 98.54h4.28v2.39h-4.28zM400.38 100.43h2.39v2.39h-2.39zM413.61 100.43h2.39v2.39h-2.39zM400.38 102.32h2.39v2.39h-2.39zM400.38 104.21h2.39v2.39h-2.39zM400.38 106.1h2.39v2.39h-2.39zM400.38 107.99h2.39v2.39h-2.39zM400.38 109.88h2.39v2.39h-2.39zM400.38 111.77h2.39v2.39h-2.39zM402.27 113.66h8.06v2.39h-8.06zM402.27 115.55h9.95v2.39h-9.95zM409.83 117.44h4.28v2.39h-4.28zM411.72 119.33h4.28v2.39h-4.28zM413.61 121.22h4.28v2.39h-4.28zM413.61 123.11h4.28v2.39h-4.28z"/>
<path fill="#b63458" d="M415.5 72.08h4.28v2.39h-4.28zM407.94 73.97h8.06v2.39h-8.06zM406.05 75.86h2.39v2.39h-2.39zM404.16 77.75h4.28v2.39h-4.28zM428.73 77.75h6.17v2.39h-6.17zM402.27 79.64h6.17v2.39h-6.17zM424.95 79.64h4.28v2.39h-4.28zM402.27 81.53h2.39v2.39h-2.39zM402.27 83.42h2.39v2.39h-2.39zM409.83 83.42h6.17v2.39h-6.17zM402.27 85.31h2.39v2.39h-2.39zM409.83 85.31h4.28v2.39h-4.28zM402.27 87.2h2.39v2.39h-2.39zM409.83 87.2h2.39v2.39h-2.39zM402.27 89.09h2.39v2.39h-2.39zM409.83 89.09h2.39v2.39h-2.39zM402.27 90.98h2.39v2.39h-2.39zM409.83 90.98h2.39v2.39h-2.39zM402.27 92.87h2.39v2.39h-2.39zM409.83 92.87h2.39v2.39h-2.39zM402.27 94.76h2.39v2.39h-2.39zM409.83 94.76h2.39v2.39h-2.39zM402.27 96.65h2.39v2.39h-2.39zM409.83 96.65h2.39v2.39h-2.39zM402.27 98.54h2.39v2.39h-2.39zM409.83 98.54h2.39v2.39h-2.39zM402.27 100.43h2.39v2.39h-2.39zM409.83 100.43h4.28v2.39h-4.28zM402.27 102.32h2.39v2.39h-2.39zM409.83 102.32h6.17v2.39h-6.17zM402.27 104.21h2.39v2.39h-2.39zM413.61 104.21h2.39v2.39h-2.39zM402.27 106.1h2.39v2.39h-2.39zM402.27 107.99h2.39v2.39h-2.39zM402.27 109.88h2.39v2.39h-2.39zM402.27 111.77h11.84v2.39h-11.84zM409.83 113.66h4.28v2.39h-4.28zM411.72 115.55h2.39v2.39h-2.39zM413.61 117.44h2.39v2.39h-2.39zM415.5 119.33h2.39v2.39h-2.39zM417.39 121.22h2.39v2.39h-2.39zM417.39 123.11h2.39v2.39h-2.39z"/>
<path fill="#c03a51" d="M419.28 72.08h2.39v2.39h-2.39zM415.5 73.97h2.39v2.39h-2.39zM421.17 73.97h2.39v2.39h-2.39zM407.94 75.86h8.06v2.39h-8.06zM423.06 75.86h2.39v2.39h-2.39zM407.94 77.75h8.06v2.39h-8.06zM407.94 79.64h8.06v2.39h-8.06zM428.73 79.64h6.17v2.39h-6.17zM404.16 81.53h11.84v2.39h-11.84zM424.95 81.53h4.28v2.39h-4.28zM404.16 83.42h6.17v2.39h-6.17zM424.95 83.42h4.28v2.39h-4.28zM404.16 85.31h6.17v2.39h-6.17zM424.95 85.31h2.39v2.39h-2.39zM404.16 87.2h6.17v2.39h-6.17zM424.95 87.2h2.39v2.39h-2.39zM404.16 89.09h6.17v2.39h-6.17zM424.95 89.09h2.39v2.39h-2.39zM404.16 90.98h6.17v2.39h-6.17zM424.95 90.98h2.39v2.39h-2.39zM404.16 92.87h6.17v2.39h-6.17zM424.95 92.87h2.39v2.39h-2.39zM404.16 94.76h6.17v2.39h-6.17zM424.95 94.76h2.39v2.39h-2.39zM404.16 96.65h6.17v2.39h-6.17zM424.95 96.65h2.39v2.39h-2.39zM404.16 98.54h6.17v2.39h-6.17zM424.95 98.54h2.39v2.39h-2.39zM404.16 100.43h6.17v2.39h-6.17zM424.95 100.43h2.39v2.39h-2.39zM404.16 102.32h6.17v2.39h-6.17zM424.95 102.32h2.39v2.39h-2.39zM404.16 104.21h9.95v2.39h-9.95zM424.95 104.21h2.39v2.39h-2.39zM404.16 106.1h11.84v2.39h-11.84zM424.95 106.1h2.39v2.39h-2.39zM404.16 107.99h11.84v2.39h-11.84zM424.95 107.99h2.39v2.39h-2.39zM404.16 109.88h11.84v2.39h-11.84zM424.95 109.88h2.39v2.39h-2.39zM413.61 111.77h2.39v2.39h-2.39zM424.95 111.77h2.39v2.39h-2.39zM413.61 113.66h2.39v2.39h-2.39zM424.95 113.66h2.39v2.39h-2.39zM413.61 115.55h4.28v2.39h-4.28zM423.06 115.55h4.28v2.39h-4.28zM415.5 117.44h4.28v2.39h-4.28zM421.17 117.44h6.17v2.39h-6.17zM417.39 119.33h9.95v2.39h-9.95zM419.28 121.22h8.06v2.39h-8.06zM419.28 123.11h8.06v2.39h-8.06z"/>
<path fill="#c83f4b" d="M417.39 73.97h4.28v2.39h-4.28zM415.5 75.86h2.39v2.39h-2.39zM421.17 75.86h2.39v2.39h-2.39zM415.5 77.75h2.39v2.39h-2.39zM423.06 77.75h2.39v2.39h-2.39zM428.73 81.53h6.17v2.39h-6.17zM428.73 83.42h2.39v2.39h-2.39zM426.84 85.31h2.39v2.39h-2.39zM426.84 87.2h2.39v2.39h-2.39zM426.84 89.09h2.39v2.39h-2.39zM426.84 90.98h2.39v2.39h-2.39zM426.84 92.87h2.39v2.39h-2.39zM415.5 98.54h2.39v2.39h-2.39zM415.5 109.88h2.39v2.39h-2.39zM423.06 109.88h2.39v2.39h-2.39zM415.5 111.77h2.39v2.39h-2.39zM423.06 111.77h2.39v2.39h-2.39zM415.5 113.66h2.39v2.39h-2.39zM423.06 113.66h2.39v2.39h-2.39zM417.39 115.55h6.17v2.39h-6.17zM419.28 117.44h2.39v2.39h-2.39z"/>
<path fill="#d24644" d="M417.39 75.86h2.39v2.39h-2.39zM415.5 79.64h2.39v2.39h-2.39zM423.06 79.64h2.39v2.39h-2.39zM430.62 83.42h4.28v2.39h-4.28zM415.5 85.31h2.39v2.39h-2.39zM428.73 85.31h2.39v2.39h-2.39zM415.5 87.2h2.39v2.39h-2.39zM428.73 87.2h2.39v2.39h-2.39zM415.5 89.09h2.39v2.39h-2.39zM415.5 90.98h2.39v2.39h-2.39zM415.5 92.87h2.39v2.39h-2.39zM415.5 94.76h2.39v2.39h-2.39zM426.84 94.76h2.39v2.39h-2.39zM415.5 96.65h2.39v2.39h-2.39zM426.84 96.65h2.39v2.39h-2.39zM426.84 98.54h2.39v2.39h-2.39zM415.5 100.43h2.39v2.39h-2.39zM426.84 100.43h2.39v2.39h-2.39zM415.5 102.32h2.39v2.39h-2.39zM423.06 102.32h2.39v2.39h-2.39zM415.5 104.21h2.39v2.39h-2.39zM423.06 104.21h2.39v2.39h-2.39zM415.5 106.1h2.39v2.39h-2.39zM423.06 106.1h2.39v2.39h-2.39zM415.5 107.99h2.39v2.39h-2.39zM423.06 107.99h2.39v2.39h-2.39zM417.39 113.66h2.39v2.39h-2.39zM421.17 113.66h2.39v2.39h-2.39z"/>
<path fill="#d94d3d" d="M419.28 75.86h2.39v2.39h-2.39zM417.39 77.75h2.39v2.39h-2.39zM421.17 77.75h2.39v2.39h-2.39zM415.5 81.53h2.39v2.39h-2.39zM423.06 81.53h2.39v2.39h-2.39zM415.5 83.42h2.39v2.39h-2.39zM423.06 83.42h2.39v2.39h-2.39zM423.06 85.31h2.39v2.39h-2.39zM430.62 85.31h4.28v2.39h-4.28zM423.06 87.2h2.39v2.39h-2.39zM430.62 87.2h4.28v2.39h-4.28zM423.06 89.09h2.39v2.39h-2.39zM428.73 89.09h2.39v2.39h-2.39zM423.06 90.98h2.39v2.39h-2.39zM428.73 90.98h2.39v2.39h-2.39zM423.06 92.87h2.39v2.39h-2.39zM428.73 92.87h2.39v2.39h-2.39zM423.06 94.76h2.39v2.39h-2.39zM423.06 96.65h2.39v2.39h-2.39zM423.06 98.54h2.39v2.39h-2.39zM423.06 100.43h2.39v2.39h-2.39zM426.84 102.32h2.39v2.39h-2.39zM426.84 104.21h2.39v2.39h-2.39zM426.84 106.1h2.39v2.39h-2.39zM426.84 107.99h2.39v2.39h-2.39zM417.39 109.88h2.39v2.39h-2.39zM421.17 109.88h2.39v2.39h-2.39zM426.84 109.88h2.39v2.39h-2.39zM417.39 111.77h2.39v2.39h-2.39zM421.17 111.77h2.39v2.39h-2.39zM426.84 111.77h2.39v2.39h-2.39zM419.28 113.66h2.39v2.39h-2.39zM426.84 113.66h2.39v2.39h-2.39zM426.84 115.55h2.39v2.39h-2.39z"/>
<path fill="#e15635" d="M421.17 79.64h2.39v2.39h-2.39zM430.62 89.09h4.28v2.39h-4.28zM428.73 94.76h2.39v2.39h-2.39zM428.73 96.65h2.39v2.39h-2.39zM417.39 106.1h2.39v2.39h-2.39zM421.17 106.1h2.39v2.39h-2.39zM417.39 107.99h2.39v2.39h-2.39zM421.17 107.99h2.39v2.39h-2.39zM419.28 111.77h2.39v2.39h-2.39zM426.84 117.44h2.39v2.39h-2.39zM426.84 119.33h2.39v2.39h-2.39zM426.84 121.22h2.39v2.39h-2.39zM426.84 123.11h2.39v2.39h-2.39z"/>
<path fill="#e8602d" d="M419.28 77.75h2.39v2.39h-2.39zM417.39 79.64h2.39v2.39h-2.39zM430.62 90.98h4.28v2.39h-4.28zM430.62 92.87h4.28v2.39h-4.28zM417.39 98.54h2.39v2.39h-2.39zM428.73 98.54h2.39v2.39h-2.39zM417.39 100.43h2.39v2.39h-2.39zM428.73 100.43h2.39v2.39h-2.39zM417.39 102.32h2.39v2.39h-2.39zM421.17 102.32h2.39v2.39h-2.39zM417.39 104.21h2.39v2.39h-2.39zM421.17 104.21h2.39v2.39h-2.39zM419.28 109.88h2.39v2.39h-2.39z"/>
<path fill="#ed6925" d="M417.39 81.53h2.39v2.39h-2.39zM421.17 81.53h2.39v2.39h-2.39zM417.39 83.42h2.39v2.39h-2.39zM421.17 83.42h2.39v2.39h-2.39zM417.39 85.31h2.39v2.39h-2.39zM417.39 94.76h2.39v2.39h-2.39zM430.62 94.76h4.28v2.39h-4.28zM417.39 96.65h2.39v2.39h-2.39zM421.17 96.65h2.39v2.39h-2.39zM421.17 98.54h2.39v2.39h-2.39zM421.17 100.43h2.39v2.39h-2.39zM428.73 102.32h2.39v2.39h-2.39zM428.73 104.21h2.39v2.39h-2.39zM428.73 106.1h2.39v2.39h-2.39zM419.28 107.99h2.39v2.39h-2.39z"/>
<path fill="#f2741c" d="M419.28 79.64h2.39v2.39h-2.39zM421.17 85.31h2.39v2.39h-2.39zM417.39 87.2h2.39v2.39h-2.39zM421.17 87.2h2.39v2.39h-2.39zM417.39 89.09h2.39v2.39h-2.39zM421.17 89.09h2.39v2.39h-2.39zM417.39 90.98h2.39v2.39h-2.39zM421.17 90.98h2.39v2.39h-2.39zM417.39 92.87h2.39v2.39h-2.39zM421.17 92.87h2.39v2.39h-2.39zM421.17 94.76h2.39v2.39h-2.39zM430.62 96.65h4.28v2.39h-4.28zM430.62 98.54h4.28v2.39h-4.28zM419.28 104.21h2.39v2.39h-2.39zM419.28 106.1h2.39v2.39h-2.39zM428.73 107.99h2.39v2.39h-2.39zM428.73 109.88h2.39v2.39h-2.39zM428.73 111.77h2.39v2.39h-2.39zM428.73 113.66h2.39v2.39h-2.39zM428.73 115.55h2.39v2.39h-2.39z"/>
<path fill="#f67e14" d="M430.62 100.43h4.28v2.39h-4.28zM419.28 102.32h2.39v2.39h-2.39zM428.73 117.44h2.39v2.39h-2.39zM428.73 119.33h2.39v2.39h-2.39z"/>
<path fill="#f98b0b" d="M419.28 81.53h2.39v2.39h-2.39zM419.28 98.54h2.39v2.39h-2.39zM419.28 100.43h2.39v2.39h-2.39zM430.62 102.32h4.28v2.39h-4.28zM430.62 104.21h4.28v2.39h-4.28zM428.73 121.22h2.39v2.39h-2.39zM428.73 123.11h2.39v2.39h-2.39z"/>
<path fill="#fb9606" d="M419.28 83.42h2.39v2.39h-2.39zM419.28 96.65h2.39v2.39h-2.39zM430.62 106.1h4.28v2.39h-4.28z"/>
<path fill="#fca309" d="M419.28 85.31h2.39v2.39h-2.39zM419.28 87.2h2.39v2.39h-2.39zM419.28 89.09h2.39v2.39h-2.39zM419.28 90.98h2.39v2.39h-2.39zM419.28 92.87h2.39v2.39h-2.39zM419.28 94.76h2.39v2.39h-2.39zM430.62 107.99h4.28v2.39h-4.28zM430.62 109.88h4.28v2.39h-4.28zM430.62 111.77h4.28v2.39h-4.28zM430.62 113.66h4.28v2.39h-4.28zM430.62 115.55h4.28v2.39h-4.28z"/>
<path fill="#fcb014" d="M430.62 117.44h4.28v2.39h-4.28zM430.62 119.33h4.28v2.39h-4.28z"/>
<path fill="#fbbc21" d="M430.62 121.22h4.28v2.39h-4.28zM430.62 123.11h4.28v2.39h-4.28z"/></g>
<line x1="395.5" y1="68.3" x2="416.6" y2="124.8" stroke="#b8b8c8" stroke-width="0.8" stroke-dasharray="1.5 1" opacity="0.85"/>
<rect x="407.1" y="98.1" width="3.2" height="6.4" fill="#10e8f0" transform="rotate(-21 408.7 101.3)"/>
</g>
<text x="380.12" y="81.36" font-size="14.16" textLength="16.39" lengthAdjust="spacingAndGlyphs" fill="#fff" font-family='"Liberation Sans", sans-serif'>(f)</text>
<g clip-path="url(#clip_g)"><rect x="459.8" y="68.3" width="56.7" height="56.5" fill="#000"/><g filter="url(#blurI)"><path fill="#02020e" d="M459.8 79.64h4.28v2.39h-4.28zM459.8 81.53h6.17v2.39h-6.17zM459.8 83.42h6.17v2.39h-6.17zM459.8 85.31h9.95v2.39h-9.95zM459.8 87.2h9.95v2.39h-9.95zM459.8 89.09h9.95v2.39h-9.95zM459.8 90.98h9.95v2.39h-9.95zM459.8 92.87h9.95v2.39h-9.95zM459.8 94.76h9.95v2.39h-9.95zM459.8 96.65h9.95v2.39h-9.95zM459.8 98.54h9.95v2.39h-9.95zM459.8 100.43h6.17v2.39h-6.17zM459.8 102.32h4.28v2.39h-4.28zM459.8 104.21h4.28v2.39h-4.28zM459.8 106.1h4.28v2.39h-4.28z"/>
<path fill="#08051d" d="M459.8 75.86h6.17v2.39h-6.17zM459.8 77.75h8.06v2.39h-8.06zM463.58 79.64h6.17v2.39h-6.17zM465.47 81.53h6.17v2.39h-6.17zM465.47 83.42h6.17v2.39h-6.17zM469.25 85.31h2.39v2.39h-2.39zM469.25 87.2h4.28v2.39h-4.28zM469.25 89.09h4.28v2.39h-4.28zM469.25 90.98h4.28v2.39h-4.28zM469.25 92.87h4.28v2.39h-4.28zM469.25 94.76h4.28v2.39h-4.28zM469.25 96.65h4.28v2.39h-4.28zM469.25 98.54h4.28v2.39h-4.28zM465.47 100.43h4.28v2.39h-4.28zM463.58 102.32h4.28v2.39h-4.28zM463.58 104.21h2.39v2.39h-2.39zM459.8 107.99h4.28v2.39h-4.28zM459.8 109.88h4.28v2.39h-4.28z"/>
<path fill="#0e092b" d="M459.8 73.97h4.28v2.39h-4.28zM465.47 75.86h4.28v2.39h-4.28zM467.36 77.75h2.39v2.39h-2.39zM469.25 79.64h2.39v2.39h-2.39zM471.14 81.53h4.28v2.39h-4.28zM471.14 83.42h4.28v2.39h-4.28zM471.14 85.31h4.28v2.39h-4.28zM473.03 87.2h2.39v2.39h-2.39zM473.03 89.09h2.39v2.39h-2.39zM473.03 90.98h2.39v2.39h-2.39zM473.03 92.87h2.39v2.39h-2.39zM473.03 94.76h2.39v2.39h-2.39zM473.03 96.65h2.39v2.39h-2.39zM473.03 98.54h2.39v2.39h-2.39zM469.25 100.43h2.39v2.39h-2.39zM467.36 102.32h2.39v2.39h-2.39zM465.47 104.21h2.39v2.39h-2.39zM463.58 106.1h2.39v2.39h-2.39zM463.58 107.99h2.39v2.39h-2.39zM459.8 111.77h4.28v2.39h-4.28zM459.8 113.66h4.28v2.39h-4.28z"/>
<path fill="#180c3c" d="M463.58 73.97h4.28v2.39h-4.28zM469.25 77.75h2.39v2.39h-2.39zM471.14 79.64h2.39v2.39h-2.39zM467.36 104.21h2.39v2.39h-2.39zM465.47 106.1h2.39v2.39h-2.39zM463.58 109.88h2.39v2.39h-2.39zM459.8 115.55h4.28v2.39h-4.28z"/>
<path fill="#210c4a" d="M459.8 72.08h6.17v2.39h-6.17zM467.36 73.97h2.39v2.39h-2.39zM469.25 75.86h2.39v2.39h-2.39zM473.03 79.64h2.39v2.39h-2.39zM471.14 100.43h2.39v2.39h-2.39zM469.25 102.32h2.39v2.39h-2.39zM467.36 106.1h2.39v2.39h-2.39zM465.47 107.99h2.39v2.39h-2.39zM463.58 111.77h2.39v2.39h-2.39zM463.58 113.66h2.39v2.39h-2.39zM459.8 117.44h4.28v2.39h-4.28z"/>
<path fill="#2d0b59" d="M459.8 68.3h6.17v2.39h-6.17zM459.8 70.19h6.17v2.39h-6.17zM465.47 72.08h4.28v2.39h-4.28zM469.25 73.97h2.39v2.39h-2.39zM471.14 77.75h2.39v2.39h-2.39zM474.92 81.53h2.39v2.39h-2.39zM474.92 83.42h2.39v2.39h-2.39zM474.92 85.31h2.39v2.39h-2.39zM474.92 87.2h2.39v2.39h-2.39zM474.92 89.09h2.39v2.39h-2.39zM474.92 90.98h2.39v2.39h-2.39zM474.92 92.87h2.39v2.39h-2.39zM474.92 94.76h2.39v2.39h-2.39zM474.92 96.65h2.39v2.39h-2.39zM474.92 98.54h2.39v2.39h-2.39zM473.03 100.43h2.39v2.39h-2.39zM469.25 104.21h2.39v2.39h-2.39zM467.36 107.99h2.39v2.39h-2.39zM465.47 109.88h2.39v2.39h-2.39zM465.47 111.77h2.39v2.39h-2.39zM463.58 115.55h2.39v2.39h-2.39zM459.8 119.33h4.28v2.39h-4.28z"/>
<path fill="#380962" d="M465.47 68.3h2.39v2.39h-2.39zM465.47 70.19h2.39v2.39h-2.39zM469.25 72.08h2.39v2.39h-2.39zM474.92 79.64h2.39v2.39h-2.39zM471.14 102.32h2.39v2.39h-2.39zM465.47 113.66h2.39v2.39h-2.39zM463.58 117.44h2.39v2.39h-2.39z"/>
<path fill="#440a68" d="M467.36 68.3h4.28v2.39h-4.28zM467.36 70.19h4.28v2.39h-4.28zM471.14 73.97h2.39v2.39h-2.39zM471.14 75.86h2.39v2.39h-2.39zM473.03 77.75h2.39v2.39h-2.39zM474.92 100.43h2.39v2.39h-2.39zM469.25 106.1h2.39v2.39h-2.39zM467.36 109.88h2.39v2.39h-2.39zM467.36 111.77h2.39v2.39h-2.39zM465.47 115.55h2.39v2.39h-2.39zM463.58 119.33h2.39v2.39h-2.39zM459.8 121.22h4.28v2.39h-4.28zM459.8 123.11h4.28v2.39h-4.28z"/>
<path fill="#4f0d6c" d="M471.14 68.3h2.39v2.39h-2.39zM471.14 70.19h2.39v2.39h-2.39zM471.14 72.08h2.39v2.39h-2.39zM474.92 77.75h2.39v2.39h-2.39zM476.81 81.53h2.39v2.39h-2.39zM476.81 83.42h2.39v2.39h-2.39zM476.81 85.31h2.39v2.39h-2.39zM476.81 87.2h2.39v2.39h-2.39zM476.81 89.09h2.39v2.39h-2.39zM476.81 90.98h2.39v2.39h-2.39zM476.81 92.87h2.39v2.39h-2.39zM476.81 94.76h2.39v2.39h-2.39zM476.81 96.65h2.39v2.39h-2.39zM476.81 98.54h2.39v2.39h-2.39zM473.03 102.32h2.39v2.39h-2.39zM471.14 104.21h2.39v2.39h-2.39zM469.25 107.99h2.39v2.39h-2.39zM467.36 113.66h2.39v2.39h-2.39zM465.47 117.44h2.39v2.39h-2.39zM463.58 121.22h2.39v2.39h-2.39zM463.58 123.11h2.39v2.39h-2.39z"/>
<path fill="#59106e" d="M473.03 68.3h4.28v2.39h-4.28zM473.03 70.19h4.28v2.39h-4.28zM473.03 72.08h4.28v2.39h-4.28zM473.03 73.97h4.28v2.39h-4.28zM473.03 75.86h4.28v2.39h-4.28zM476.81 77.75h2.39v2.39h-2.39zM476.81 79.64h2.39v2.39h-2.39zM471.14 106.1h2.39v2.39h-2.39zM469.25 109.88h2.39v2.39h-2.39zM467.36 115.55h2.39v2.39h-2.39zM467.36 117.44h2.39v2.39h-2.39zM465.47 119.33h2.39v2.39h-2.39zM465.47 121.22h2.39v2.39h-2.39zM465.47 123.11h2.39v2.39h-2.39z"/>
<path fill="#64156e" d="M476.81 68.3h2.39v2.39h-2.39zM476.81 70.19h2.39v2.39h-2.39zM476.81 72.08h2.39v2.39h-2.39zM476.81 73.97h2.39v2.39h-2.39zM476.81 75.86h2.39v2.39h-2.39zM476.81 100.43h2.39v2.39h-2.39zM474.92 102.32h2.39v2.39h-2.39zM469.25 111.77h2.39v2.39h-2.39zM469.25 113.66h2.39v2.39h-2.39zM467.36 119.33h2.39v2.39h-2.39z"/>
<path fill="#6d186e" d="M478.7 68.3h4.28v2.39h-4.28zM478.7 70.19h4.28v2.39h-4.28zM478.7 72.08h4.28v2.39h-4.28zM478.7 73.97h4.28v2.39h-4.28zM478.7 75.86h4.28v2.39h-4.28zM478.7 77.75h4.28v2.39h-4.28zM478.7 79.64h4.28v2.39h-4.28zM478.7 81.53h4.28v2.39h-4.28zM478.7 83.42h4.28v2.39h-4.28zM478.7 85.31h4.28v2.39h-4.28zM490.04 85.31h2.39v2.39h-2.39zM478.7 87.2h4.28v2.39h-4.28zM488.15 87.2h4.28v2.39h-4.28zM478.7 89.09h4.28v2.39h-4.28zM488.15 89.09h4.28v2.39h-4.28zM478.7 90.98h4.28v2.39h-4.28zM488.15 90.98h4.28v2.39h-4.28zM478.7 92.87h4.28v2.39h-4.28zM488.15 92.87h4.28v2.39h-4.28zM478.7 94.76h2.39v2.39h-2.39zM478.7 96.65h2.39v2.39h-2.39zM478.7 98.54h2.39v2.39h-2.39zM476.81 102.32h2.39v2.39h-2.39zM473.03 104.21h2.39v2.39h-2.39zM471.14 107.99h2.39v2.39h-2.39zM469.25 115.55h2.39v2.39h-2.39zM469.25 117.44h2.39v2.39h-2.39zM469.25 119.33h2.39v2.39h-2.39zM467.36 121.22h4.28v2.39h-4.28zM467.36 123.11h4.28v2.39h-4.28z"/>
<path fill="#781c6d" d="M482.48 68.3h2.39v2.39h-2.39zM482.48 70.19h2.39v2.39h-2.39zM482.48 72.08h2.39v2.39h-2.39zM482.48 73.97h2.39v2.39h-2.39zM482.48 75.86h2.39v2.39h-2.39zM482.48 77.75h2.39v2.39h-2.39zM482.48 79.64h2.39v2.39h-2.39zM482.48 81.53h2.39v2.39h-2.39zM482.48 83.42h2.39v2.39h-2.39zM486.26 83.42h6.17v2.39h-6.17zM482.48 85.31h2.39v2.39h-2.39zM486.26 85.31h4.28v2.39h-4.28zM482.48 87.2h2.39v2.39h-2.39zM486.26 87.2h2.39v2.39h-2.39zM482.48 89.09h2.39v2.39h-2.39zM486.26 89.09h2.39v2.39h-2.39zM482.48 90.98h2.39v2.39h-2.39zM486.26 90.98h2.39v2.39h-2.39zM482.48 92.87h2.39v2.39h-2.39zM486.26 92.87h2.39v2.39h-2.39zM480.59 94.76h4.28v2.39h-4.28zM488.15 94.76h4.28v2.39h-4.28zM480.59 96.65h2.39v2.39h-2.39zM480.59 98.54h2.39v2.39h-2.39zM478.7 100.43h2.39v2.39h-2.39zM474.92 104.21h2.39v2.39h-2.39zM473.03 106.1h2.39v2.39h-2.39zM471.14 109.88h2.39v2.39h-2.39zM471.14 111.77h2.39v2.39h-2.39zM471.14 113.66h2.39v2.39h-2.39zM471.14 117.44h2.39v2.39h-2.39zM471.14 119.33h2.39v2.39h-2.39zM471.14 121.22h2.39v2.39h-2.39zM471.14 123.11h2.39v2.39h-2.39z"/>
<path fill="#82206c" d="M484.37 68.3h4.28v2.39h-4.28zM484.37 70.19h4.28v2.39h-4.28zM484.37 72.08h4.28v2.39h-4.28zM484.37 73.97h4.28v2.39h-4.28zM484.37 75.86h4.28v2.39h-4.28zM484.37 77.75h4.28v2.39h-4.28zM484.37 79.64h8.06v2.39h-8.06zM484.37 81.53h8.06v2.39h-8.06zM484.37 83.42h2.39v2.39h-2.39zM484.37 85.31h2.39v2.39h-2.39zM484.37 87.2h2.39v2.39h-2.39zM491.93 87.2h2.39v2.39h-2.39zM484.37 89.09h2.39v2.39h-2.39zM491.93 89.09h2.39v2.39h-2.39zM484.37 90.98h2.39v2.39h-2.39zM491.93 90.98h2.39v2.39h-2.39zM484.37 92.87h2.39v2.39h-2.39zM491.93 92.87h2.39v2.39h-2.39zM484.37 94.76h4.28v2.39h-4.28zM482.48 96.65h2.39v2.39h-2.39zM490.04 96.65h2.39v2.39h-2.39zM482.48 98.54h2.39v2.39h-2.39zM480.59 100.43h2.39v2.39h-2.39zM478.7 102.32h2.39v2.39h-2.39zM476.81 104.21h2.39v2.39h-2.39zM473.03 107.99h2.39v2.39h-2.39zM471.14 115.55h2.39v2.39h-2.39zM473.03 119.33h2.39v2.39h-2.39zM473.03 121.22h2.39v2.39h-2.39zM473.03 123.11h2.39v2.39h-2.39z"/>
<path fill="#8d2369" d="M488.15 68.3h2.39v2.39h-2.39zM488.15 70.19h2.39v2.39h-2.39zM488.15 72.08h2.39v2.39h-2.39zM488.15 73.97h2.39v2.39h-2.39zM488.15 75.86h2.39v2.39h-2.39zM488.15 77.75h4.28v2.39h-4.28zM491.93 83.42h2.39v2.39h-2.39zM491.93 85.31h2.39v2.39h-2.39zM491.93 94.76h2.39v2.39h-2.39zM484.37 96.65h6.17v2.39h-6.17zM482.48 100.43h2.39v2.39h-2.39zM480.59 102.32h2.39v2.39h-2.39zM474.92 106.1h2.39v2.39h-2.39zM473.03 117.44h2.39v2.39h-2.39zM474.92 121.22h2.39v2.39h-2.39zM474.92 123.11h2.39v2.39h-2.39z"/>
<path fill="#982766" d="M490.04 68.3h26.96v2.39h-26.96zM490.04 70.19h26.96v2.39h-26.96zM490.04 72.08h8.06v2.39h-8.06zM507.05 72.08h9.95v2.39h-9.95zM490.04 73.97h6.17v2.39h-6.17zM490.04 75.86h4.28v2.39h-4.28zM491.93 77.75h2.39v2.39h-2.39zM491.93 79.64h2.39v2.39h-2.39zM491.93 81.53h2.39v2.39h-2.39zM491.93 96.65h2.39v2.39h-2.39zM484.37 98.54h9.95v2.39h-9.95zM484.37 100.43h8.06v2.39h-8.06zM482.48 102.32h2.39v2.39h-2.39zM478.7 104.21h4.28v2.39h-4.28zM476.81 106.1h2.39v2.39h-2.39zM474.92 107.99h2.39v2.39h-2.39zM473.03 109.88h2.39v2.39h-2.39zM473.03 111.77h2.39v2.39h-2.39zM473.03 113.66h2.39v2.39h-2.39zM490.04 113.66h2.39v2.39h-2.39zM473.03 115.55h2.39v2.39h-2.39zM490.04 115.55h4.28v2.39h-4.28zM490.04 117.44h4.28v2.39h-4.28zM474.92 119.33h2.39v2.39h-2.39zM488.15 119.33h6.17v2.39h-6.17zM476.81 121.22h2.39v2.39h-2.39zM488.15 121.22h6.17v2.39h-6.17zM476.81 123.11h2.39v2.39h-2.39zM488.15 123.11h6.17v2.39h-6.17z"/>
<path fill="#a22b62" d="M497.6 72.08h2.39v2.39h-2.39zM505.16 72.08h2.39v2.39h-2.39zM495.71 73.97h2.39v2.39h-2.39zM507.05 73.97h9.95v2.39h-9.95zM493.82 75.86h2.39v2.39h-2.39zM493.82 77.75h2.39v2.39h-2.39zM493.82 79.64h2.39v2.39h-2.39zM493.82 83.42h2.39v2.39h-2.39zM493.82 85.31h2.39v2.39h-2.39zM493.82 87.2h2.39v2.39h-2.39zM493.82 89.09h2.39v2.39h-2.39zM493.82 90.98h2.39v2.39h-2.39zM493.82 92.87h2.39v2.39h-2.39zM493.82 94.76h2.39v2.39h-2.39zM493.82 96.65h2.39v2.39h-2.39zM493.82 98.54h2.39v2.39h-2.39zM491.93 100.43h2.39v2.39h-2.39zM484.37 102.32h8.06v2.39h-8.06zM482.48 104.21h2.39v2.39h-2.39zM490.04 111.77h2.39v2.39h-2.39zM488.15 113.66h2.39v2.39h-2.39zM491.93 113.66h2.39v2.39h-2.39zM488.15 115.55h2.39v2.39h-2.39zM493.82 115.55h2.39v2.39h-2.39zM474.92 117.44h2.39v2.39h-2.39zM488.15 117.44h2.39v2.39h-2.39zM493.82 117.44h2.39v2.39h-2.39zM476.81 119.33h2.39v2.39h-2.39zM486.26 119.33h2.39v2.39h-2.39zM493.82 119.33h2.39v2.39h-2.39zM486.26 121.22h2.39v2.39h-2.39zM493.82 121.22h2.39v2.39h-2.39zM486.26 123.11h2.39v2.39h-2.39zM493.82 123.11h2.39v2.39h-2.39z"/>
<path fill="#ad305d" d="M499.49 72.08h2.39v2.39h-2.39zM503.27 72.08h2.39v2.39h-2.39zM495.71 75.86h2.39v2.39h-2.39zM507.05 75.86h9.95v2.39h-9.95zM495.71 77.75h2.39v2.39h-2.39zM507.05 77.75h9.95v2.39h-9.95zM493.82 81.53h2.39v2.39h-2.39zM495.71 96.65h2.39v2.39h-2.39zM495.71 98.54h2.39v2.39h-2.39zM493.82 100.43h4.28v2.39h-4.28zM491.93 102.32h4.28v2.39h-4.28zM484.37 104.21h9.95v2.39h-9.95zM478.7 106.1h15.62v2.39h-15.62zM476.81 107.99h2.39v2.39h-2.39zM486.26 107.99h8.06v2.39h-8.06zM474.92 109.88h2.39v2.39h-2.39zM488.15 109.88h6.17v2.39h-6.17zM474.92 111.77h2.39v2.39h-2.39zM488.15 111.77h2.39v2.39h-2.39zM491.93 111.77h4.28v2.39h-4.28zM474.92 113.66h2.39v2.39h-2.39zM486.26 113.66h2.39v2.39h-2.39zM493.82 113.66h4.28v2.39h-4.28zM474.92 115.55h2.39v2.39h-2.39zM486.26 115.55h2.39v2.39h-2.39zM495.71 115.55h2.39v2.39h-2.39zM476.81 117.44h2.39v2.39h-2.39zM486.26 117.44h2.39v2.39h-2.39zM495.71 117.44h2.39v2.39h-2.39zM482.48 119.33h4.28v2.39h-4.28zM495.71 119.33h4.28v2.39h-4.28zM478.7 121.22h8.06v2.39h-8.06zM495.71 121.22h4.28v2.39h-4.28zM478.7 123.11h8.06v2.39h-8.06zM495.71 123.11h4.28v2.39h-4.28z"/>
<path fill="#b63458" d="M501.38 72.08h2.39v2.39h-2.39zM497.6 73.97h2.39v2.39h-2.39zM505.16 73.97h2.39v2.39h-2.39zM495.71 79.64h2.39v2.39h-2.39zM507.05 79.64h9.95v2.39h-9.95zM495.71 81.53h2.39v2.39h-2.39zM495.71 83.42h2.39v2.39h-2.39zM495.71 85.31h2.39v2.39h-2.39zM495.71 87.2h2.39v2.39h-2.39zM495.71 89.09h2.39v2.39h-2.39zM495.71 90.98h2.39v2.39h-2.39zM495.71 92.87h2.39v2.39h-2.39zM495.71 94.76h2.39v2.39h-2.39zM495.71 102.32h2.39v2.39h-2.39zM493.82 104.21h4.28v2.39h-4.28zM493.82 106.1h4.28v2.39h-4.28zM478.7 107.99h8.06v2.39h-8.06zM493.82 107.99h4.28v2.39h-4.28zM486.26 109.88h2.39v2.39h-2.39zM493.82 109.88h2.39v2.39h-2.39zM486.26 111.77h2.39v2.39h-2.39zM495.71 111.77h2.39v2.39h-2.39zM497.6 115.55h2.39v2.39h-2.39zM482.48 117.44h4.28v2.39h-4.28zM497.6 117.44h2.39v2.39h-2.39zM478.7 119.33h4.28v2.39h-4.28zM499.49 119.33h2.39v2.39h-2.39zM499.49 121.22h2.39v2.39h-2.39zM499.49 123.11h2.39v2.39h-2.39z"/>
<path fill="#c03a51" d="M499.49 73.97h2.39v2.39h-2.39zM503.27 73.97h2.39v2.39h-2.39zM497.6 75.86h2.39v2.39h-2.39zM505.16 75.86h2.39v2.39h-2.39zM507.05 81.53h9.95v2.39h-9.95zM507.05 83.42h6.17v2.39h-6.17zM507.05 85.31h4.28v2.39h-4.28zM507.05 87.2h2.39v2.39h-2.39zM507.05 89.09h2.39v2.39h-2.39zM507.05 90.98h2.39v2.39h-2.39zM507.05 92.87h2.39v2.39h-2.39zM507.05 94.76h2.39v2.39h-2.39zM507.05 96.65h2.39v2.39h-2.39zM507.05 98.54h2.39v2.39h-2.39zM507.05 100.43h2.39v2.39h-2.39zM507.05 102.32h2.39v2.39h-2.39zM507.05 104.21h2.39v2.39h-2.39zM507.05 106.1h2.39v2.39h-2.39zM507.05 107.99h2.39v2.39h-2.39zM476.81 109.88h2.39v2.39h-2.39zM482.48 109.88h4.28v2.39h-4.28zM495.71 109.88h2.39v2.39h-2.39zM507.05 109.88h2.39v2.39h-2.39zM476.81 111.77h2.39v2.39h-2.39zM482.48 111.77h4.28v2.39h-4.28zM507.05 111.77h2.39v2.39h-2.39zM476.81 113.66h2.39v2.39h-2.39zM482.48 113.66h4.28v2.39h-4.28zM497.6 113.66h2.39v2.39h-2.39zM507.05 113.66h2.39v2.39h-2.39zM476.81 115.55h2.39v2.39h-2.39zM482.48 115.55h4.28v2.39h-4.28zM499.49 115.55h2.39v2.39h-2.39zM505.16 115.55h4.28v2.39h-4.28zM478.7 117.44h4.28v2.39h-4.28zM499.49 117.44h2.39v2.39h-2.39zM503.27 117.44h6.17v2.39h-6.17zM501.38 119.33h8.06v2.39h-8.06zM501.38 121.22h8.06v2.39h-8.06zM501.38 123.11h8.06v2.39h-8.06z"/>
<path fill="#c83f4b" d="M497.6 77.75h2.39v2.39h-2.39zM505.16 77.75h2.39v2.39h-2.39zM512.72 83.42h4.28v2.39h-4.28zM510.83 85.31h2.39v2.39h-2.39zM508.94 87.2h2.39v2.39h-2.39zM508.94 89.09h2.39v2.39h-2.39zM478.7 109.88h4.28v2.39h-4.28zM497.6 109.88h2.39v2.39h-2.39zM505.16 109.88h2.39v2.39h-2.39zM478.7 111.77h4.28v2.39h-4.28zM497.6 111.77h2.39v2.39h-2.39zM505.16 111.77h2.39v2.39h-2.39zM478.7 113.66h4.28v2.39h-4.28zM499.49 113.66h2.39v2.39h-2.39zM505.16 113.66h2.39v2.39h-2.39zM478.7 115.55h4.28v2.39h-4.28zM501.38 115.55h4.28v2.39h-4.28zM501.38 117.44h2.39v2.39h-2.39z"/>
<path fill="#d24644" d="M501.38 73.97h2.39v2.39h-2.39zM497.6 79.64h2.39v2.39h-2.39zM505.16 79.64h2.39v2.39h-2.39zM512.72 85.31h4.28v2.39h-4.28zM510.83 87.2h2.39v2.39h-2.39zM508.94 90.98h2.39v2.39h-2.39zM508.94 92.87h2.39v2.39h-2.39zM508.94 94.76h2.39v2.39h-2.39zM497.6 98.54h2.39v2.39h-2.39zM497.6 100.43h2.39v2.39h-2.39zM497.6 106.1h2.39v2.39h-2.39zM505.16 106.1h2.39v2.39h-2.39zM497.6 107.99h2.39v2.39h-2.39zM505.16 107.99h2.39v2.39h-2.39zM499.49 111.77h2.39v2.39h-2.39zM503.27 113.66h2.39v2.39h-2.39z"/>
<path fill="#d94d3d" d="M499.49 75.86h2.39v2.39h-2.39zM503.27 75.86h2.39v2.39h-2.39zM497.6 81.53h2.39v2.39h-2.39zM505.16 81.53h2.39v2.39h-2.39zM512.72 87.2h4.28v2.39h-4.28zM510.83 89.09h2.39v2.39h-2.39zM497.6 94.76h2.39v2.39h-2.39zM497.6 96.65h2.39v2.39h-2.39zM508.94 96.65h2.39v2.39h-2.39zM505.16 98.54h2.39v2.39h-2.39zM508.94 98.54h2.39v2.39h-2.39zM505.16 100.43h2.39v2.39h-2.39zM508.94 100.43h2.39v2.39h-2.39zM497.6 102.32h2.39v2.39h-2.39zM505.16 102.32h2.39v2.39h-2.39zM508.94 102.32h2.39v2.39h-2.39zM497.6 104.21h2.39v2.39h-2.39zM505.16 104.21h2.39v2.39h-2.39zM508.94 104.21h2.39v2.39h-2.39zM508.94 106.1h2.39v2.39h-2.39zM508.94 107.99h2.39v2.39h-2.39zM499.49 109.88h2.39v2.39h-2.39zM503.27 109.88h2.39v2.39h-2.39zM508.94 109.88h2.39v2.39h-2.39zM503.27 111.77h2.39v2.39h-2.39zM501.38 113.66h2.39v2.39h-2.39z"/>
<path fill="#e15635" d="M499.49 77.75h2.39v2.39h-2.39zM503.27 77.75h2.39v2.39h-2.39zM497.6 83.42h2.39v2.39h-2.39zM505.16 83.42h2.39v2.39h-2.39zM497.6 85.31h2.39v2.39h-2.39zM505.16 85.31h2.39v2.39h-2.39zM497.6 87.2h2.39v2.39h-2.39zM505.16 87.2h2.39v2.39h-2.39zM497.6 89.09h2.39v2.39h-2.39zM505.16 89.09h2.39v2.39h-2.39zM497.6 90.98h2.39v2.39h-2.39zM505.16 90.98h2.39v2.39h-2.39zM510.83 90.98h2.39v2.39h-2.39zM497.6 92.87h2.39v2.39h-2.39zM505.16 92.87h2.39v2.39h-2.39zM505.16 94.76h2.39v2.39h-2.39zM505.16 96.65h2.39v2.39h-2.39zM499.49 107.99h2.39v2.39h-2.39zM503.27 107.99h2.39v2.39h-2.39zM501.38 111.77h2.39v2.39h-2.39zM508.94 111.77h2.39v2.39h-2.39zM508.94 113.66h2.39v2.39h-2.39zM508.94 115.55h2.39v2.39h-2.39zM508.94 117.44h2.39v2.39h-2.39zM508.94 119.33h2.39v2.39h-2.39zM508.94 121.22h2.39v2.39h-2.39zM508.94 123.11h2.39v2.39h-2.39z"/>
<path fill="#e8602d" d="M501.38 75.86h2.39v2.39h-2.39zM512.72 89.09h4.28v2.39h-4.28zM510.83 92.87h2.39v2.39h-2.39zM510.83 94.76h2.39v2.39h-2.39zM499.49 106.1h2.39v2.39h-2.39zM503.27 106.1h2.39v2.39h-2.39zM501.38 109.88h2.39v2.39h-2.39z"/>
<path fill="#ed6925" d="M499.49 79.64h2.39v2.39h-2.39zM503.27 79.64h2.39v2.39h-2.39zM512.72 90.98h4.28v2.39h-4.28zM510.83 96.65h2.39v2.39h-2.39zM510.83 98.54h2.39v2.39h-2.39zM499.49 100.43h2.39v2.39h-2.39zM510.83 100.43h2.39v2.39h-2.39zM499.49 102.32h2.39v2.39h-2.39zM503.27 102.32h2.39v2.39h-2.39zM499.49 104.21h2.39v2.39h-2.39zM503.27 104.21h2.39v2.39h-2.39z"/>
<path fill="#f2741c" d="M501.38 77.75h2.39v2.39h-2.39zM499.49 81.53h2.39v2.39h-2.39zM503.27 81.53h2.39v2.39h-2.39zM512.72 92.87h4.28v2.39h-4.28zM499.49 96.65h2.39v2.39h-2.39zM499.49 98.54h2.39v2.39h-2.39zM503.27 98.54h2.39v2.39h-2.39zM503.27 100.43h2.39v2.39h-2.39zM510.83 102.32h2.39v2.39h-2.39zM510.83 104.21h2.39v2.39h-2.39zM510.83 106.1h2.39v2.39h-2.39zM501.38 107.99h2.39v2.39h-2.39zM510.83 107.99h2.39v2.39h-2.39zM510.83 109.88h2.39v2.39h-2.39z"/>
<path fill="#f67e14" d="M499.49 83.42h2.39v2.39h-2.39zM503.27 83.42h2.39v2.39h-2.39zM499.49 85.31h2.39v2.39h-2.39zM503.27 85.31h2.39v2.39h-2.39zM499.49 94.76h2.39v2.39h-2.39zM503.27 94.76h2.39v2.39h-2.39zM512.72 94.76h4.28v2.39h-4.28zM503.27 96.65h2.39v2.39h-2.39zM501.38 106.1h2.39v2.39h-2.39zM510.83 111.77h2.39v2.39h-2.39zM510.83 113.66h2.39v2.39h-2.39z"/>
<path fill="#f98b0b" d="M501.38 79.64h2.39v2.39h-2.39zM499.49 87.2h2.39v2.39h-2.39zM503.27 87.2h2.39v2.39h-2.39zM499.49 89.09h2.39v2.39h-2.39zM503.27 89.09h2.39v2.39h-2.39zM499.49 90.98h2.39v2.39h-2.39zM503.27 90.98h2.39v2.39h-2.39zM499.49 92.87h2.39v2.39h-2.39zM503.27 92.87h2.39v2.39h-2.39zM512.72 96.65h4.28v2.39h-4.28zM512.72 98.54h4.28v2.39h-4.28zM501.38 104.21h2.39v2.39h-2.39zM510.83 115.55h2.39v2.39h-2.39zM510.83 117.44h2.39v2.39h-2.39zM510.83 119.33h2.39v2.39h-2.39zM510.83 121.22h2.39v2.39h-2.39zM510.83 123.11h2.39v2.39h-2.39z"/>
<path fill="#fb9606" d="M512.72 100.43h4.28v2.39h-4.28zM501.38 102.32h2.39v2.39h-2.39z"/>
<path fill="#fca309" d="M501.38 81.53h2.39v2.39h-2.39zM501.38 98.54h2.39v2.39h-2.39zM501.38 100.43h2.39v2.39h-2.39zM512.72 102.32h4.28v2.39h-4.28zM512.72 104.21h4.28v2.39h-4.28zM512.72 106.1h4.28v2.39h-4.28zM512.72 107.99h4.28v2.39h-4.28zM512.72 109.88h4.28v2.39h-4.28z"/>
<path fill="#fcb014" d="M501.38 83.42h2.39v2.39h-2.39zM501.38 85.31h2.39v2.39h-2.39zM501.38 94.76h2.39v2.39h-2.39zM501.38 96.65h2.39v2.39h-2.39zM512.72 111.77h4.28v2.39h-4.28zM512.72 113.66h4.28v2.39h-4.28z"/>
<path fill="#fbbc21" d="M501.38 87.2h2.39v2.39h-2.39zM501.38 89.09h2.39v2.39h-2.39zM501.38 90.98h2.39v2.39h-2.39zM501.38 92.87h2.39v2.39h-2.39zM512.72 115.55h4.28v2.39h-4.28zM512.72 117.44h4.28v2.39h-4.28zM512.72 119.33h4.28v2.39h-4.28zM512.72 121.22h4.28v2.39h-4.28zM512.72 123.11h4.28v2.39h-4.28z"/></g>
<line x1="477.6" y1="68.3" x2="498.7" y2="124.8" stroke="#b8b8c8" stroke-width="0.8" stroke-dasharray="1.5 1" opacity="0.85"/>
<rect x="489.2" y="98.1" width="3.2" height="6.4" fill="#10e8f0" transform="rotate(-21 490.8 101.3)"/>
</g>
<text x="462.26" y="82.21" font-size="15.34" textLength="20.51" lengthAdjust="spacingAndGlyphs" fill="#fff" font-family='"Liberation Sans", sans-serif'>(g)</text>
<g clip-path="url(#clip_h)"><rect x="542.5" y="68.3" width="56.7" height="56.5" fill="#000"/><g filter="url(#blurI)"><path fill="#02020e" d="M542.5 79.64h4.28v2.39h-4.28zM542.5 81.53h6.17v2.39h-6.17zM542.5 83.42h6.17v2.39h-6.17zM542.5 85.31h9.95v2.39h-9.95zM542.5 87.2h9.95v2.39h-9.95zM542.5 89.09h9.95v2.39h-9.95zM542.5 90.98h9.95v2.39h-9.95zM542.5 92.87h9.95v2.39h-9.95zM542.5 94.76h9.95v2.39h-9.95zM542.5 96.65h9.95v2.39h-9.95zM542.5 98.54h9.95v2.39h-9.95zM542.5 100.43h6.17v2.39h-6.17zM542.5 102.32h4.28v2.39h-4.28zM542.5 104.21h4.28v2.39h-4.28zM542.5 106.1h4.28v2.39h-4.28z"/>
<path fill="#08051d" d="M542.5 75.86h6.17v2.39h-6.17zM542.5 77.75h8.06v2.39h-8.06zM546.28 79.64h6.17v2.39h-6.17zM548.17 81.53h6.17v2.39h-6.17zM548.17 83.42h6.17v2.39h-6.17zM551.95 85.31h2.39v2.39h-2.39zM551.95 87.2h4.28v2.39h-4.28zM551.95 89.09h4.28v2.39h-4.28zM551.95 90.98h4.28v2.39h-4.28zM551.95 92.87h4.28v2.39h-4.28zM551.95 94.76h4.28v2.39h-4.28zM551.95 96.65h4.28v2.39h-4.28zM551.95 98.54h4.28v2.39h-4.28zM548.17 100.43h4.28v2.39h-4.28zM546.28 102.32h4.28v2.39h-4.28zM546.28 104.21h2.39v2.39h-2.39zM542.5 107.99h4.28v2.39h-4.28zM542.5 109.88h4.28v2.39h-4.28z"/>
<path fill="#0e092b" d="M542.5 73.97h4.28v2.39h-4.28zM548.17 75.86h4.28v2.39h-4.28zM550.06 77.75h2.39v2.39h-2.39zM551.95 79.64h2.39v2.39h-2.39zM553.84 81.53h4.28v2.39h-4.28zM553.84 83.42h4.28v2.39h-4.28zM553.84 85.31h4.28v2.39h-4.28zM555.73 87.2h2.39v2.39h-2.39zM555.73 89.09h2.39v2.39h-2.39zM555.73 90.98h2.39v2.39h-2.39zM555.73 92.87h2.39v2.39h-2.39zM555.73 94.76h2.39v2.39h-2.39zM555.73 96.65h2.39v2.39h-2.39zM555.73 98.54h2.39v2.39h-2.39zM551.95 100.43h2.39v2.39h-2.39zM550.06 102.32h2.39v2.39h-2.39zM548.17 104.21h2.39v2.39h-2.39zM546.28 106.1h2.39v2.39h-2.39zM546.28 107.99h2.39v2.39h-2.39zM542.5 111.77h4.28v2.39h-4.28zM542.5 113.66h4.28v2.39h-4.28z"/>
<path fill="#180c3c" d="M546.28 73.97h4.28v2.39h-4.28zM551.95 77.75h2.39v2.39h-2.39zM553.84 79.64h2.39v2.39h-2.39zM550.06 104.21h2.39v2.39h-2.39zM548.17 106.1h2.39v2.39h-2.39zM546.28 109.88h2.39v2.39h-2.39zM542.5 115.55h4.28v2.39h-4.28z"/>
<path fill="#210c4a" d="M542.5 72.08h6.17v2.39h-6.17zM550.06 73.97h2.39v2.39h-2.39zM551.95 75.86h2.39v2.39h-2.39zM555.73 79.64h2.39v2.39h-2.39zM553.84 100.43h2.39v2.39h-2.39zM551.95 102.32h2.39v2.39h-2.39zM550.06 106.1h2.39v2.39h-2.39zM548.17 107.99h2.39v2.39h-2.39zM546.28 111.77h2.39v2.39h-2.39zM546.28 113.66h2.39v2.39h-2.39zM542.5 117.44h4.28v2.39h-4.28z"/>
<path fill="#2d0b59" d="M542.5 68.3h6.17v2.39h-6.17zM542.5 70.19h6.17v2.39h-6.17zM548.17 72.08h4.28v2.39h-4.28zM551.95 73.97h2.39v2.39h-2.39zM553.84 77.75h2.39v2.39h-2.39zM557.62 81.53h2.39v2.39h-2.39zM557.62 83.42h2.39v2.39h-2.39zM557.62 85.31h2.39v2.39h-2.39zM557.62 87.2h2.39v2.39h-2.39zM557.62 89.09h2.39v2.39h-2.39zM557.62 90.98h2.39v2.39h-2.39zM557.62 92.87h2.39v2.39h-2.39zM557.62 94.76h2.39v2.39h-2.39zM557.62 96.65h2.39v2.39h-2.39zM557.62 98.54h2.39v2.39h-2.39zM555.73 100.43h2.39v2.39h-2.39zM551.95 104.21h2.39v2.39h-2.39zM550.06 107.99h2.39v2.39h-2.39zM548.17 109.88h2.39v2.39h-2.39zM548.17 111.77h2.39v2.39h-2.39zM546.28 115.55h2.39v2.39h-2.39zM542.5 119.33h4.28v2.39h-4.28z"/>
<path fill="#380962" d="M548.17 68.3h2.39v2.39h-2.39zM548.17 70.19h2.39v2.39h-2.39zM551.95 72.08h2.39v2.39h-2.39zM557.62 79.64h2.39v2.39h-2.39zM553.84 102.32h2.39v2.39h-2.39zM548.17 113.66h2.39v2.39h-2.39zM546.28 117.44h2.39v2.39h-2.39z"/>
<path fill="#440a68" d="M550.06 68.3h4.28v2.39h-4.28zM550.06 70.19h4.28v2.39h-4.28zM553.84 73.97h2.39v2.39h-2.39zM553.84 75.86h2.39v2.39h-2.39zM555.73 77.75h2.39v2.39h-2.39zM557.62 100.43h2.39v2.39h-2.39zM551.95 106.1h2.39v2.39h-2.39zM550.06 109.88h2.39v2.39h-2.39zM550.06 111.77h2.39v2.39h-2.39zM548.17 115.55h2.39v2.39h-2.39zM546.28 119.33h2.39v2.39h-2.39zM542.5 121.22h4.28v2.39h-4.28zM542.5 123.11h4.28v2.39h-4.28z"/>
<path fill="#4f0d6c" d="M553.84 68.3h2.39v2.39h-2.39zM553.84 70.19h2.39v2.39h-2.39zM553.84 72.08h2.39v2.39h-2.39zM557.62 77.75h2.39v2.39h-2.39zM559.51 81.53h2.39v2.39h-2.39zM559.51 83.42h2.39v2.39h-2.39zM559.51 85.31h2.39v2.39h-2.39zM559.51 87.2h2.39v2.39h-2.39zM559.51 89.09h2.39v2.39h-2.39zM559.51 90.98h2.39v2.39h-2.39zM559.51 92.87h2.39v2.39h-2.39zM559.51 94.76h2.39v2.39h-2.39zM559.51 96.65h2.39v2.39h-2.39zM559.51 98.54h2.39v2.39h-2.39zM555.73 102.32h2.39v2.39h-2.39zM553.84 104.21h2.39v2.39h-2.39zM551.95 107.99h2.39v2.39h-2.39zM550.06 113.66h2.39v2.39h-2.39zM548.17 117.44h2.39v2.39h-2.39zM546.28 121.22h2.39v2.39h-2.39zM546.28 123.11h2.39v2.39h-2.39z"/>
<path fill="#59106e" d="M555.73 68.3h4.28v2.39h-4.28zM555.73 70.19h4.28v2.39h-4.28zM555.73 72.08h4.28v2.39h-4.28zM555.73 73.97h4.28v2.39h-4.28zM555.73 75.86h4.28v2.39h-4.28zM559.51 77.75h2.39v2.39h-2.39zM559.51 79.64h2.39v2.39h-2.39zM572.74 87.2h2.39v2.39h-2.39zM572.74 89.09h2.39v2.39h-2.39zM572.74 90.98h2.39v2.39h-2.39zM572.74 92.87h2.39v2.39h-2.39zM553.84 106.1h2.39v2.39h-2.39zM551.95 109.88h2.39v2.39h-2.39zM550.06 115.55h2.39v2.39h-2.39zM550.06 117.44h2.39v2.39h-2.39zM548.17 119.33h2.39v2.39h-2.39zM548.17 121.22h2.39v2.39h-2.39zM548.17 123.11h2.39v2.39h-2.39z"/>
<path fill="#64156e" d="M559.51 68.3h2.39v2.39h-2.39zM559.51 70.19h2.39v2.39h-2.39zM559.51 72.08h2.39v2.39h-2.39zM559.51 73.97h2.39v2.39h-2.39zM559.51 75.86h2.39v2.39h-2.39zM572.74 85.31h2.39v2.39h-2.39zM570.85 87.2h2.39v2.39h-2.39zM570.85 89.09h2.39v2.39h-2.39zM570.85 90.98h2.39v2.39h-2.39zM570.85 92.87h2.39v2.39h-2.39zM559.51 100.43h2.39v2.39h-2.39zM557.62 102.32h2.39v2.39h-2.39zM551.95 111.77h2.39v2.39h-2.39zM551.95 113.66h2.39v2.39h-2.39zM550.06 119.33h2.39v2.39h-2.39z"/>
<path fill="#6d186e" d="M561.4 68.3h4.28v2.39h-4.28zM561.4 70.19h4.28v2.39h-4.28zM561.4 72.08h4.28v2.39h-4.28zM561.4 73.97h4.28v2.39h-4.28zM561.4 75.86h4.28v2.39h-4.28zM561.4 77.75h4.28v2.39h-4.28zM561.4 79.64h4.28v2.39h-4.28zM561.4 81.53h4.28v2.39h-4.28zM561.4 83.42h4.28v2.39h-4.28zM572.74 83.42h2.39v2.39h-2.39zM561.4 85.31h4.28v2.39h-4.28zM570.85 85.31h2.39v2.39h-2.39zM561.4 87.2h4.28v2.39h-4.28zM568.96 87.2h2.39v2.39h-2.39zM561.4 89.09h4.28v2.39h-4.28zM568.96 89.09h2.39v2.39h-2.39zM561.4 90.98h4.28v2.39h-4.28zM568.96 90.98h2.39v2.39h-2.39zM561.4 92.87h4.28v2.39h-4.28zM568.96 92.87h2.39v2.39h-2.39zM561.4 94.76h2.39v2.39h-2.39zM572.74 94.76h2.39v2.39h-2.39zM561.4 96.65h2.39v2.39h-2.39zM561.4 98.54h2.39v2.39h-2.39zM559.51 102.32h2.39v2.39h-2.39zM555.73 104.21h2.39v2.39h-2.39zM553.84 107.99h2.39v2.39h-2.39zM551.95 115.55h2.39v2.39h-2.39zM551.95 117.44h2.39v2.39h-2.39zM551.95 119.33h2.39v2.39h-2.39zM550.06 121.22h4.28v2.39h-4.28zM550.06 123.11h4.28v2.39h-4.28z"/>
<path fill="#781c6d" d="M565.18 68.3h2.39v2.39h-2.39zM565.18 70.19h2.39v2.39h-2.39zM565.18 72.08h2.39v2.39h-2.39zM565.18 73.97h2.39v2.39h-2.39zM565.18 75.86h2.39v2.39h-2.39zM565.18 77.75h2.39v2.39h-2.39zM565.18 79.64h2.39v2.39h-2.39zM565.18 81.53h2.39v2.39h-2.39zM565.18 83.42h2.39v2.39h-2.39zM568.96 83.42h4.28v2.39h-4.28zM565.18 85.31h2.39v2.39h-2.39zM568.96 85.31h2.39v2.39h-2.39zM565.18 87.2h2.39v2.39h-2.39zM574.63 87.2h2.39v2.39h-2.39zM565.18 89.09h2.39v2.39h-2.39zM574.63 89.09h2.39v2.39h-2.39zM565.18 90.98h2.39v2.39h-2.39zM574.63 90.98h2.39v2.39h-2.39zM565.18 92.87h2.39v2.39h-2.39zM574.63 92.87h2.39v2.39h-2.39zM563.29 94.76h4.28v2.39h-4.28zM568.96 94.76h4.28v2.39h-4.28zM563.29 96.65h2.39v2.39h-2.39zM563.29 98.54h2.39v2.39h-2.39zM561.4 100.43h2.39v2.39h-2.39zM557.62 104.21h2.39v2.39h-2.39zM555.73 106.1h2.39v2.39h-2.39zM553.84 109.88h2.39v2.39h-2.39zM553.84 111.77h2.39v2.39h-2.39zM553.84 113.66h2.39v2.39h-2.39zM553.84 117.44h2.39v2.39h-2.39zM553.84 119.33h2.39v2.39h-2.39zM553.84 121.22h2.39v2.39h-2.39zM553.84 123.11h2.39v2.39h-2.39z"/>
<path fill="#82206c" d="M567.07 68.3h4.28v2.39h-4.28zM567.07 70.19h4.28v2.39h-4.28zM567.07 72.08h4.28v2.39h-4.28zM567.07 73.97h4.28v2.39h-4.28zM567.07 75.86h4.28v2.39h-4.28zM567.07 77.75h4.28v2.39h-4.28zM567.07 79.64h8.06v2.39h-8.06zM567.07 81.53h8.06v2.39h-8.06zM567.07 83.42h2.39v2.39h-2.39zM567.07 85.31h2.39v2.39h-2.39zM574.63 85.31h2.39v2.39h-2.39zM567.07 87.2h2.39v2.39h-2.39zM567.07 89.09h2.39v2.39h-2.39zM567.07 90.98h2.39v2.39h-2.39zM567.07 92.87h2.39v2.39h-2.39zM567.07 94.76h2.39v2.39h-2.39zM574.63 94.76h2.39v2.39h-2.39zM565.18 96.65h2.39v2.39h-2.39zM570.85 96.65h4.28v2.39h-4.28zM565.18 98.54h2.39v2.39h-2.39zM563.29 100.43h2.39v2.39h-2.39zM561.4 102.32h2.39v2.39h-2.39zM559.51 104.21h2.39v2.39h-2.39zM555.73 107.99h2.39v2.39h-2.39zM553.84 115.55h2.39v2.39h-2.39zM555.73 119.33h2.39v2.39h-2.39zM555.73 121.22h2.39v2.39h-2.39zM555.73 123.11h2.39v2.39h-2.39z"/>
<path fill="#8d2369" d="M570.85 68.3h2.39v2.39h-2.39zM570.85 70.19h2.39v2.39h-2.39zM570.85 72.08h2.39v2.39h-2.39zM570.85 73.97h2.39v2.39h-2.39zM570.85 75.86h2.39v2.39h-2.39zM570.85 77.75h4.28v2.39h-4.28zM574.63 83.42h2.39v2.39h-2.39zM567.07 96.65h4.28v2.39h-4.28zM574.63 96.65h2.39v2.39h-2.39zM565.18 100.43h2.39v2.39h-2.39zM563.29 102.32h2.39v2.39h-2.39zM557.62 106.1h2.39v2.39h-2.39zM555.73 117.44h2.39v2.39h-2.39zM557.62 121.22h2.39v2.39h-2.39zM557.62 123.11h2.39v2.39h-2.39z"/>
<path fill="#982766" d="M572.74 68.3h26.96v2.39h-26.96zM572.74 70.19h26.96v2.39h-26.96zM572.74 72.08h8.06v2.39h-8.06zM589.75 72.08h9.95v2.39h-9.95zM572.74 73.97h6.17v2.39h-6.17zM572.74 75.86h4.28v2.39h-4.28zM574.63 77.75h2.39v2.39h-2.39zM574.63 79.64h2.39v2.39h-2.39zM574.63 81.53h2.39v2.39h-2.39zM576.52 87.2h2.39v2.39h-2.39zM576.52 89.09h2.39v2.39h-2.39zM576.52 90.98h2.39v2.39h-2.39zM576.52 92.87h2.39v2.39h-2.39zM576.52 94.76h2.39v2.39h-2.39zM567.07 98.54h9.95v2.39h-9.95zM567.07 100.43h8.06v2.39h-8.06zM565.18 102.32h2.39v2.39h-2.39zM561.4 104.21h4.28v2.39h-4.28zM559.51 106.1h2.39v2.39h-2.39zM557.62 107.99h2.39v2.39h-2.39zM555.73 109.88h2.39v2.39h-2.39zM555.73 111.77h2.39v2.39h-2.39zM555.73 113.66h2.39v2.39h-2.39zM572.74 113.66h2.39v2.39h-2.39zM555.73 115.55h2.39v2.39h-2.39zM572.74 115.55h4.28v2.39h-4.28zM572.74 117.44h4.28v2.39h-4.28zM557.62 119.33h2.39v2.39h-2.39zM570.85 119.33h6.17v2.39h-6.17zM559.51 121.22h2.39v2.39h-2.39zM570.85 121.22h6.17v2.39h-6.17zM559.51 123.11h2.39v2.39h-2.39zM570.85 123.11h6.17v2.39h-6.17z"/>
<path fill="#a22b62" d="M580.3 72.08h2.39v2.39h-2.39zM587.86 72.08h2.39v2.39h-2.39zM578.41 73.97h2.39v2.39h-2.39zM589.75 73.97h9.95v2.39h-9.95zM576.52 75.86h2.39v2.39h-2.39zM576.52 77.75h2.39v2.39h-2.39zM576.52 79.64h2.39v2.39h-2.39zM576.52 83.42h2.39v2.39h-2.39zM576.52 85.31h2.39v2.39h-2.39zM576.52 96.65h2.39v2.39h-2.39zM576.52 98.54h2.39v2.39h-2.39zM574.63 100.43h2.39v2.39h-2.39zM567.07 102.32h8.06v2.39h-8.06zM565.18 104.21h2.39v2.39h-2.39zM572.74 111.77h2.39v2.39h-2.39zM570.85 113.66h2.39v2.39h-2.39zM574.63 113.66h2.39v2.39h-2.39zM570.85 115.55h2.39v2.39h-2.39zM576.52 115.55h2.39v2.39h-2.39zM557.62 117.44h2.39v2.39h-2.39zM570.85 117.44h2.39v2.39h-2.39zM576.52 117.44h2.39v2.39h-2.39zM568.96 119.33h2.39v2.39h-2.39zM576.52 119.33h2.39v2.39h-2.39zM568.96 121.22h2.39v2.39h-2.39zM576.52 121.22h2.39v2.39h-2.39zM568.96 123.11h2.39v2.39h-2.39zM576.52 123.11h2.39v2.39h-2.39z"/>
<path fill="#ad305d" d="M582.19 72.08h2.39v2.39h-2.39zM585.97 72.08h2.39v2.39h-2.39zM578.41 75.86h2.39v2.39h-2.39zM589.75 75.86h9.95v2.39h-9.95zM578.41 77.75h2.39v2.39h-2.39zM589.75 77.75h9.95v2.39h-9.95zM576.52 81.53h2.39v2.39h-2.39zM578.41 96.65h2.39v2.39h-2.39zM578.41 98.54h2.39v2.39h-2.39zM576.52 100.43h4.28v2.39h-4.28zM574.63 102.32h4.28v2.39h-4.28zM567.07 104.21h9.95v2.39h-9.95zM561.4 106.1h15.62v2.39h-15.62zM568.96 107.99h8.06v2.39h-8.06zM557.62 109.88h2.39v2.39h-2.39zM570.85 109.88h6.17v2.39h-6.17zM557.62 111.77h2.39v2.39h-2.39zM570.85 111.77h2.39v2.39h-2.39zM574.63 111.77h4.28v2.39h-4.28zM557.62 113.66h2.39v2.39h-2.39zM568.96 113.66h2.39v2.39h-2.39zM576.52 113.66h4.28v2.39h-4.28zM557.62 115.55h2.39v2.39h-2.39zM568.96 115.55h2.39v2.39h-2.39zM578.41 115.55h2.39v2.39h-2.39zM568.96 117.44h2.39v2.39h-2.39zM578.41 117.44h2.39v2.39h-2.39zM559.51 119.33h2.39v2.39h-2.39zM567.07 119.33h2.39v2.39h-2.39zM578.41 119.33h4.28v2.39h-4.28zM561.4 121.22h8.06v2.39h-8.06zM578.41 121.22h4.28v2.39h-4.28zM561.4 123.11h8.06v2.39h-8.06zM578.41 123.11h4.28v2.39h-4.28z"/>
<path fill="#b63458" d="M584.08 72.08h2.39v2.39h-2.39zM580.3 73.97h2.39v2.39h-2.39zM587.86 73.97h2.39v2.39h-2.39zM578.41 79.64h2.39v2.39h-2.39zM589.75 79.64h9.95v2.39h-9.95zM578.41 81.53h2.39v2.39h-2.39zM578.41 83.42h2.39v2.39h-2.39zM578.41 85.31h2.39v2.39h-2.39zM578.41 87.2h2.39v2.39h-2.39zM578.41 89.09h2.39v2.39h-2.39zM578.41 90.98h2.39v2.39h-2.39zM578.41 92.87h2.39v2.39h-2.39zM578.41 94.76h2.39v2.39h-2.39zM578.41 102.32h2.39v2.39h-2.39zM576.52 104.21h4.28v2.39h-4.28zM576.52 106.1h4.28v2.39h-4.28zM559.51 107.99h2.39v2.39h-2.39zM567.07 107.99h2.39v2.39h-2.39zM576.52 107.99h4.28v2.39h-4.28zM568.96 109.88h2.39v2.39h-2.39zM576.52 109.88h2.39v2.39h-2.39zM568.96 111.77h2.39v2.39h-2.39zM578.41 111.77h2.39v2.39h-2.39zM580.3 115.55h2.39v2.39h-2.39zM559.51 117.44h2.39v2.39h-2.39zM567.07 117.44h2.39v2.39h-2.39zM580.3 117.44h2.39v2.39h-2.39zM563.29 119.33h4.28v2.39h-4.28zM582.19 119.33h2.39v2.39h-2.39zM582.19 121.22h2.39v2.39h-2.39zM582.19 123.11h2.39v2.39h-2.39z"/>
<path fill="#c03a51" d="M582.19 73.97h2.39v2.39h-2.39zM585.97 73.97h2.39v2.39h-2.39zM580.3 75.86h2.39v2.39h-2.39zM587.86 75.86h2.39v2.39h-2.39zM589.75 81.53h9.95v2.39h-9.95zM589.75 83.42h6.17v2.39h-6.17zM589.75 85.31h4.28v2.39h-4.28zM589.75 87.2h2.39v2.39h-2.39zM589.75 89.09h2.39v2.39h-2.39zM589.75 90.98h2.39v2.39h-2.39zM589.75 92.87h2.39v2.39h-2.39zM589.75 94.76h2.39v2.39h-2.39zM589.75 96.65h2.39v2.39h-2.39zM589.75 98.54h2.39v2.39h-2.39zM589.75 100.43h2.39v2.39h-2.39zM589.75 102.32h2.39v2.39h-2.39zM589.75 104.21h2.39v2.39h-2.39zM589.75 106.1h2.39v2.39h-2.39zM563.29 107.99h4.28v2.39h-4.28zM589.75 107.99h2.39v2.39h-2.39zM567.07 109.88h2.39v2.39h-2.39zM578.41 109.88h2.39v2.39h-2.39zM589.75 109.88h2.39v2.39h-2.39zM567.07 111.77h2.39v2.39h-2.39zM589.75 111.77h2.39v2.39h-2.39zM567.07 113.66h2.39v2.39h-2.39zM580.3 113.66h2.39v2.39h-2.39zM589.75 113.66h2.39v2.39h-2.39zM567.07 115.55h2.39v2.39h-2.39zM582.19 115.55h2.39v2.39h-2.39zM587.86 115.55h4.28v2.39h-4.28zM565.18 117.44h2.39v2.39h-2.39zM582.19 117.44h2.39v2.39h-2.39zM585.97 117.44h6.17v2.39h-6.17zM561.4 119.33h2.39v2.39h-2.39zM584.08 119.33h8.06v2.39h-8.06zM584.08 121.22h8.06v2.39h-8.06zM584.08 123.11h8.06v2.39h-8.06z"/>
<path fill="#c83f4b" d="M580.3 77.75h2.39v2.39h-2.39zM587.86 77.75h2.39v2.39h-2.39zM595.42 83.42h4.28v2.39h-4.28zM593.53 85.31h2.39v2.39h-2.39zM591.64 87.2h2.39v2.39h-2.39zM591.64 89.09h2.39v2.39h-2.39zM561.4 107.99h2.39v2.39h-2.39zM559.51 109.88h2.39v2.39h-2.39zM565.18 109.88h2.39v2.39h-2.39zM580.3 109.88h2.39v2.39h-2.39zM587.86 109.88h2.39v2.39h-2.39zM559.51 111.77h2.39v2.39h-2.39zM565.18 111.77h2.39v2.39h-2.39zM580.3 111.77h2.39v2.39h-2.39zM587.86 111.77h2.39v2.39h-2.39zM559.51 113.66h2.39v2.39h-2.39zM565.18 113.66h2.39v2.39h-2.39zM582.19 113.66h2.39v2.39h-2.39zM587.86 113.66h2.39v2.39h-2.39zM559.51 115.55h2.39v2.39h-2.39zM565.18 115.55h2.39v2.39h-2.39zM584.08 115.55h4.28v2.39h-4.28zM561.4 117.44h4.28v2.39h-4.28zM584.08 117.44h2.39v2.39h-2.39z"/>
<path fill="#d24644" d="M584.08 73.97h2.39v2.39h-2.39zM595.42 85.31h4.28v2.39h-4.28zM593.53 87.2h2.39v2.39h-2.39zM591.64 90.98h2.39v2.39h-2.39zM591.64 92.87h2.39v2.39h-2.39zM591.64 94.76h2.39v2.39h-2.39zM580.3 106.1h2.39v2.39h-2.39zM587.86 106.1h2.39v2.39h-2.39zM580.3 107.99h2.39v2.39h-2.39zM587.86 107.99h2.39v2.39h-2.39zM563.29 109.88h2.39v2.39h-2.39zM563.29 111.77h2.39v2.39h-2.39zM582.19 111.77h2.39v2.39h-2.39zM563.29 113.66h2.39v2.39h-2.39zM585.97 113.66h2.39v2.39h-2.39zM563.29 115.55h2.39v2.39h-2.39z"/>
<path fill="#d94d3d" d="M582.19 75.86h2.39v2.39h-2.39zM585.97 75.86h2.39v2.39h-2.39zM580.3 79.64h2.39v2.39h-2.39zM587.86 79.64h2.39v2.39h-2.39zM595.42 87.2h4.28v2.39h-4.28zM593.53 89.09h2.39v2.39h-2.39zM580.3 96.65h2.39v2.39h-2.39zM591.64 96.65h2.39v2.39h-2.39zM580.3 98.54h2.39v2.39h-2.39zM591.64 98.54h2.39v2.39h-2.39zM580.3 100.43h2.39v2.39h-2.39zM591.64 100.43h2.39v2.39h-2.39zM580.3 102.32h2.39v2.39h-2.39zM587.86 102.32h2.39v2.39h-2.39zM591.64 102.32h2.39v2.39h-2.39zM580.3 104.21h2.39v2.39h-2.39zM587.86 104.21h2.39v2.39h-2.39zM591.64 104.21h2.39v2.39h-2.39zM591.64 106.1h2.39v2.39h-2.39zM591.64 107.99h2.39v2.39h-2.39zM561.4 109.88h2.39v2.39h-2.39zM582.19 109.88h2.39v2.39h-2.39zM585.97 109.88h2.39v2.39h-2.39zM591.64 109.88h2.39v2.39h-2.39zM561.4 111.77h2.39v2.39h-2.39zM585.97 111.77h2.39v2.39h-2.39zM561.4 113.66h2.39v2.39h-2.39zM584.08 113.66h2.39v2.39h-2.39zM561.4 115.55h2.39v2.39h-2.39z"/>
<path fill="#e15635" d="M580.3 81.53h2.39v2.39h-2.39zM587.86 81.53h2.39v2.39h-2.39zM580.3 83.42h2.39v2.39h-2.39zM587.86 83.42h2.39v2.39h-2.39zM580.3 85.31h2.39v2.39h-2.39zM587.86 85.31h2.39v2.39h-2.39zM593.53 90.98h2.39v2.39h-2.39zM580.3 94.76h2.39v2.39h-2.39zM587.86 94.76h2.39v2.39h-2.39zM587.86 96.65h2.39v2.39h-2.39zM587.86 98.54h2.39v2.39h-2.39zM587.86 100.43h2.39v2.39h-2.39zM582.19 107.99h2.39v2.39h-2.39zM585.97 107.99h2.39v2.39h-2.39zM584.08 111.77h2.39v2.39h-2.39zM591.64 111.77h2.39v2.39h-2.39zM591.64 113.66h2.39v2.39h-2.39zM591.64 115.55h2.39v2.39h-2.39zM591.64 117.44h2.39v2.39h-2.39zM591.64 119.33h2.39v2.39h-2.39zM591.64 121.22h2.39v2.39h-2.39zM591.64 123.11h2.39v2.39h-2.39z"/>
<path fill="#e8602d" d="M584.08 75.86h2.39v2.39h-2.39zM582.19 77.75h2.39v2.39h-2.39zM585.97 77.75h2.39v2.39h-2.39zM580.3 87.2h2.39v2.39h-2.39zM587.86 87.2h2.39v2.39h-2.39zM580.3 89.09h2.39v2.39h-2.39zM587.86 89.09h2.39v2.39h-2.39zM595.42 89.09h4.28v2.39h-4.28zM580.3 90.98h2.39v2.39h-2.39zM587.86 90.98h2.39v2.39h-2.39zM580.3 92.87h2.39v2.39h-2.39zM587.86 92.87h2.39v2.39h-2.39zM593.53 92.87h2.39v2.39h-2.39zM593.53 94.76h2.39v2.39h-2.39zM582.19 106.1h2.39v2.39h-2.39zM585.97 106.1h2.39v2.39h-2.39zM584.08 109.88h2.39v2.39h-2.39z"/>
<path fill="#ed6925" d="M595.42 90.98h4.28v2.39h-4.28zM593.53 96.65h2.39v2.39h-2.39zM593.53 98.54h2.39v2.39h-2.39zM593.53 100.43h2.39v2.39h-2.39zM582.19 104.21h2.39v2.39h-2.39zM585.97 104.21h2.39v2.39h-2.39z"/>
<path fill="#f2741c" d="M582.19 79.64h2.39v2.39h-2.39zM585.97 79.64h2.39v2.39h-2.39zM595.42 92.87h4.28v2.39h-4.28zM582.19 100.43h2.39v2.39h-2.39zM582.19 102.32h2.39v2.39h-2.39zM585.97 102.32h2.39v2.39h-2.39zM593.53 102.32h2.39v2.39h-2.39zM593.53 104.21h2.39v2.39h-2.39zM593.53 106.1h2.39v2.39h-2.39zM584.08 107.99h2.39v2.39h-2.39zM593.53 107.99h2.39v2.39h-2.39zM593.53 109.88h2.39v2.39h-2.39z"/>
<path fill="#f67e14" d="M584.08 77.75h2.39v2.39h-2.39zM595.42 94.76h4.28v2.39h-4.28zM582.19 98.54h2.39v2.39h-2.39zM585.97 100.43h2.39v2.39h-2.39zM584.08 106.1h2.39v2.39h-2.39zM593.53 111.77h2.39v2.39h-2.39zM593.53 113.66h2.39v2.39h-2.39z"/>
<path fill="#f98b0b" d="M582.19 81.53h2.39v2.39h-2.39zM585.97 81.53h2.39v2.39h-2.39zM582.19 83.42h2.39v2.39h-2.39zM585.97 83.42h2.39v2.39h-2.39zM582.19 85.31h2.39v2.39h-2.39zM585.97 85.31h2.39v2.39h-2.39zM582.19 94.76h2.39v2.39h-2.39zM585.97 94.76h2.39v2.39h-2.39zM582.19 96.65h2.39v2.39h-2.39zM585.97 96.65h2.39v2.39h-2.39zM595.42 96.65h4.28v2.39h-4.28zM585.97 98.54h2.39v2.39h-2.39zM595.42 98.54h4.28v2.39h-4.28zM584.08 104.21h2.39v2.39h-2.39zM593.53 115.55h2.39v2.39h-2.39zM593.53 117.44h2.39v2.39h-2.39zM593.53 119.33h2.39v2.39h-2.39zM593.53 121.22h2.39v2.39h-2.39zM593.53 123.11h2.39v2.39h-2.39z"/>
<path fill="#fb9606" d="M582.19 87.2h2.39v2.39h-2.39zM585.97 87.2h2.39v2.39h-2.39zM582.19 89.09h2.39v2.39h-2.39zM585.97 89.09h2.39v2.39h-2.39zM582.19 90.98h2.39v2.39h-2.39zM585.97 90.98h2.39v2.39h-2.39zM582.19 92.87h2.39v2.39h-2.39zM585.97 92.87h2.39v2.39h-2.39zM595.42 100.43h4.28v2.39h-4.28z"/>
<path fill="#fca309" d="M584.08 79.64h2.39v2.39h-2.39zM584.08 102.32h2.39v2.39h-2.39zM595.42 102.32h4.28v2.39h-4.28zM595.42 104.21h4.28v2.39h-4.28zM595.42 106.1h4.28v2.39h-4.28zM595.42 107.99h4.28v2.39h-4.28zM595.42 109.88h4.28v2.39h-4.28z"/>
<path fill="#fcb014" d="M584.08 100.43h2.39v2.39h-2.39zM595.42 111.77h4.28v2.39h-4.28zM595.42 113.66h4.28v2.39h-4.28z"/>
<path fill="#fbbc21" d="M584.08 81.53h2.39v2.39h-2.39zM584.08 98.54h2.39v2.39h-2.39zM595.42 115.55h4.28v2.39h-4.28zM595.42 117.44h4.28v2.39h-4.28zM595.42 119.33h4.28v2.39h-4.28zM595.42 121.22h4.28v2.39h-4.28zM595.42 123.11h4.28v2.39h-4.28z"/>
<path fill="#f9c932" d="M584.08 83.42h2.39v2.39h-2.39zM584.08 85.31h2.39v2.39h-2.39zM584.08 94.76h2.39v2.39h-2.39zM584.08 96.65h2.39v2.39h-2.39z"/>
<path fill="#f6d543" d="M584.08 87.2h2.39v2.39h-2.39zM584.08 89.09h2.39v2.39h-2.39zM584.08 90.98h2.39v2.39h-2.39zM584.08 92.87h2.39v2.39h-2.39z"/></g>
<line x1="560.3" y1="68.3" x2="581.4" y2="124.8" stroke="#b8b8c8" stroke-width="0.8" stroke-dasharray="1.5 1" opacity="0.85"/>
<rect x="571.9" y="98.1" width="3.2" height="6.4" fill="#10e8f0" transform="rotate(-21 573.5 101.3)"/>
</g>
<text x="544.96" y="81.36" font-size="14.16" textLength="20.49" lengthAdjust="spacingAndGlyphs" fill="#fff" font-family='"Liberation Sans", sans-serif'>(h)</text>
<polyline points="365.0,214.7 368.0,215.0 369.3,214.6 370.7,215.2 372.0,215.2 373.5,215.3 375.0,216.0 376.5,216.1 379.0,215.0 380.2,214.8 381.4,213.5 382.6,213.8 384.3,213.2 386.0,214.3 388.5,213.6 391.4,214.0 392.6,214.4 393.8,213.2 395.0,213.4 397.5,212.8 400.2,212.2 401.5,211.3 402.9,212.1 404.2,210.7 405.5,210.3 408.0,208.5 410.8,206.8 413.5,207.2 416.1,207.3 419.0,206.3 421.4,205.9 422.9,205.8 424.5,204.5 426.1,203.7 427.6,202.9 429.3,203.6 431.0,203.8 432.2,203.5 433.4,204.6 434.6,204.7 437.5,204.3 440.3,204.9 441.8,204.7 443.2,203.2 444.7,202.3 446.4,202.3 448.2,201.4 449.7,200.2 451.1,197.7 452.6,197.0 454.1,196.5 455.5,195.4 457.0,194.3 458.8,192.7 460.5,191.7 462.0,189.1 463.4,188.8 464.9,186.4 466.4,185.5 467.8,185.0 469.3,183.8 471.1,182.2 472.9,179.4 474.4,178.6 475.8,177.7 477.3,175.8 479.1,174.4 480.8,173.3 482.0,172.4 483.2,170.4 484.5,169.8 485.7,167.6 487.0,167.1 488.2,164.6 489.5,163.5 490.8,163.0 492.5,170.0 494.2,180.0 495.7,197.4 498.4,210.0 500.6,221.6 502.8,227.2 506.3,224.1 510.7,228.0 512.5,226.2 514.2,225.4 515.7,225.5 517.1,223.8 518.6,223.2 521.0,222.6 523.3,221.0 526.3,215.8 527.8,215.8 529.4,215.4 531.0,216.6 532.5,218.5 534.0,220.4 535.6,222.2 537.0,222.8 538.5,223.6 539.9,224.7 541.3,225.1 542.7,225.3 544.1,225.4 546.5,226.5 549.0,227.9 550.2,228.4 551.5,227.9 552.7,228.1 553.9,227.2 556.0,228.0 558.8,230.3 561.5,229.8 564.5,230.3 567.0,231.2 568.5,232.1 570.1,231.7 572.5,230.6 575.0,230.0 577.5,230.8 580.0,230.3 582.0,231.3 584.2,232.0 586.5,230.9 589.1,230.3 592.0,231.4 594.7,231.7 596.4,232.3 598.0,231.3 599.3,231.5 600.5,230.5 601.8,231.0 604.5,231.5 607.5,231.0 609.2,232.0 610.9,231.7 612.2,231.5" fill="none" stroke="#000" stroke-width="1.5" stroke-linejoin="round"/>
<line x1="469.4" y1="157.8" x2="477.3" y2="168.7" stroke="#ff1010" stroke-width="1.6"/>
<line x1="478.5" y1="152.5" x2="483.5" y2="162.6" stroke="#ff1010" stroke-width="1.6"/>
<line x1="487" y1="148.5" x2="489.6" y2="158.2" stroke="#ff1010" stroke-width="1.6"/>
<line x1="498.4" y1="182.5" x2="496.5" y2="190.3" stroke="#ff1010" stroke-width="1.6"/>
<line x1="504.6" y1="208.5" x2="502.8" y2="216.6" stroke="#ff1010" stroke-width="1.6"/>
<line x1="512.9" y1="209.5" x2="508.5" y2="219.2" stroke="#ff1010" stroke-width="1.6"/>
<circle cx="480.8" cy="173.3" r="2.3" fill="#ff1010"/>
<circle cx="485.7" cy="167.6" r="2.3" fill="#ff1010"/>
<circle cx="490.8" cy="163.0" r="2.3" fill="#ff1010"/>
<circle cx="495.7" cy="197.4" r="2.3" fill="#ff1010"/>
<circle cx="500.6" cy="221.6" r="2.3" fill="#ff1010"/>
<circle cx="506.3" cy="224.1" r="2.3" fill="#ff1010"/>
<text x="458.35" y="153.80" font-size="16.51" textLength="8.52" lengthAdjust="spacingAndGlyphs" fill="#ff1010" font-family='"Liberation Sans", sans-serif'>c</text>
<text x="468.55" y="147.60" font-size="16.51" textLength="9.84" lengthAdjust="spacingAndGlyphs" fill="#ff1010" font-family='"Liberation Sans", sans-serif'>d</text>
<text x="479.95" y="144.10" font-size="16.51" textLength="9.54" lengthAdjust="spacingAndGlyphs" fill="#ff1010" font-family='"Liberation Sans", sans-serif'>e</text>
<text x="495.66" y="176.60" font-size="16.51" textLength="5.46" lengthAdjust="spacingAndGlyphs" fill="#ff1010" font-family='"Liberation Sans", sans-serif'>f</text>
<text x="502.25" y="201.20" font-size="16.51" textLength="9.84" lengthAdjust="spacingAndGlyphs" fill="#ff1010" font-family='"Liberation Sans", sans-serif'>g</text>
<text x="512.21" y="203.80" font-size="16.51" textLength="9.82" lengthAdjust="spacingAndGlyphs" fill="#ff1010" font-family='"Liberation Sans", sans-serif'>h</text>
<rect x="365.2" y="1.0" width="247.00000000000006" height="247.8" fill="none" stroke="#000" stroke-width="1.4"/>
<line x1="365.2" y1="245.00" x2="368.8" y2="245.00" stroke="#000" stroke-width="1.1"/>
<line x1="608.0" y1="245.00" x2="612.2" y2="245.00" stroke="#000" stroke-width="1.1"/>
<text x="345.45" y="249.60" font-size="13.21" textLength="15.78" lengthAdjust="spacingAndGlyphs" fill="#000" font-family='"Liberation Sans", sans-serif'>60</text>
<line x1="365.2" y1="214.95" x2="368.8" y2="214.95" stroke="#000" stroke-width="1.1"/>
<line x1="608.0" y1="214.95" x2="612.2" y2="214.95" stroke="#000" stroke-width="1.1"/>
<text x="345.45" y="219.55" font-size="13.21" textLength="15.78" lengthAdjust="spacingAndGlyphs" fill="#000" font-family='"Liberation Sans", sans-serif'>80</text>
<line x1="365.2" y1="184.90" x2="368.8" y2="184.90" stroke="#000" stroke-width="1.1"/>
<line x1="608.0" y1="184.90" x2="612.2" y2="184.90" stroke="#000" stroke-width="1.1"/>
<text x="337.56" y="189.50" font-size="13.21" textLength="23.67" lengthAdjust="spacingAndGlyphs" fill="#000" font-family='"Liberation Sans", sans-serif'>100</text>
<line x1="365.2" y1="154.85" x2="368.8" y2="154.85" stroke="#000" stroke-width="1.1"/>
<line x1="608.0" y1="154.85" x2="612.2" y2="154.85" stroke="#000" stroke-width="1.1"/>
<text x="337.56" y="159.45" font-size="13.21" textLength="23.67" lengthAdjust="spacingAndGlyphs" fill="#000" font-family='"Liberation Sans", sans-serif'>120</text>
<line x1="365.2" y1="124.80" x2="368.8" y2="124.80" stroke="#000" stroke-width="1.1"/>
<line x1="608.0" y1="124.80" x2="612.2" y2="124.80" stroke="#000" stroke-width="1.1"/>
<text x="337.56" y="129.40" font-size="13.21" textLength="23.67" lengthAdjust="spacingAndGlyphs" fill="#000" font-family='"Liberation Sans", sans-serif'>140</text>
<line x1="365.2" y1="94.75" x2="368.8" y2="94.75" stroke="#000" stroke-width="1.1"/>
<line x1="608.0" y1="94.75" x2="612.2" y2="94.75" stroke="#000" stroke-width="1.1"/>
<text x="337.56" y="99.35" font-size="13.21" textLength="23.67" lengthAdjust="spacingAndGlyphs" fill="#000" font-family='"Liberation Sans", sans-serif'>160</text>
<line x1="365.2" y1="64.70" x2="368.8" y2="64.70" stroke="#000" stroke-width="1.1"/>
<line x1="608.0" y1="64.70" x2="612.2" y2="64.70" stroke="#000" stroke-width="1.1"/>
<text x="337.56" y="69.30" font-size="13.21" textLength="23.67" lengthAdjust="spacingAndGlyphs" fill="#000" font-family='"Liberation Sans", sans-serif'>180</text>
<line x1="365.2" y1="34.65" x2="368.8" y2="34.65" stroke="#000" stroke-width="1.1"/>
<line x1="608.0" y1="34.65" x2="612.2" y2="34.65" stroke="#000" stroke-width="1.1"/>
<text x="337.56" y="39.25" font-size="13.21" textLength="23.67" lengthAdjust="spacingAndGlyphs" fill="#000" font-family='"Liberation Sans", sans-serif'>200</text>
<line x1="365.2" y1="4.60" x2="368.8" y2="4.60" stroke="#000" stroke-width="1.1"/>
<line x1="608.0" y1="4.60" x2="612.2" y2="4.60" stroke="#000" stroke-width="1.1"/>
<text x="337.56" y="9.20" font-size="13.21" textLength="23.67" lengthAdjust="spacingAndGlyphs" fill="#000" font-family='"Liberation Sans", sans-serif'>220</text>
<line x1="365.20" y1="248.8" x2="365.20" y2="245.20000000000002" stroke="#000" stroke-width="1.1"/>
<line x1="365.20" y1="1.0" x2="365.20" y2="4.6" stroke="#000" stroke-width="1.1"/>
<text x="347.68" y="263.10" font-size="13.10" textLength="35.45" lengthAdjust="spacingAndGlyphs" fill="#000" font-family='"Liberation Sans", sans-serif'>09:32</text>
<line x1="414.60" y1="248.8" x2="414.60" y2="245.20000000000002" stroke="#000" stroke-width="1.1"/>
<line x1="414.60" y1="1.0" x2="414.60" y2="4.6" stroke="#000" stroke-width="1.1"/>
<text x="396.96" y="263.10" font-size="13.10" textLength="35.45" lengthAdjust="spacingAndGlyphs" fill="#000" font-family='"Liberation Sans", sans-serif'>09:33</text>
<line x1="464.00" y1="248.8" x2="464.00" y2="245.20000000000002" stroke="#000" stroke-width="1.1"/>
<line x1="464.00" y1="1.0" x2="464.00" y2="4.6" stroke="#000" stroke-width="1.1"/>
<text x="446.21" y="263.10" font-size="13.10" textLength="35.45" lengthAdjust="spacingAndGlyphs" fill="#000" font-family='"Liberation Sans", sans-serif'>09:34</text>
<line x1="513.40" y1="248.8" x2="513.40" y2="245.20000000000002" stroke="#000" stroke-width="1.1"/>
<line x1="513.40" y1="1.0" x2="513.40" y2="4.6" stroke="#000" stroke-width="1.1"/>
<text x="495.81" y="263.10" font-size="13.10" textLength="35.45" lengthAdjust="spacingAndGlyphs" fill="#000" font-family='"Liberation Sans", sans-serif'>09:35</text>
<line x1="562.80" y1="248.8" x2="562.80" y2="245.20000000000002" stroke="#000" stroke-width="1.1"/>
<line x1="562.80" y1="1.0" x2="562.80" y2="4.6" stroke="#000" stroke-width="1.1"/>
<text x="545.06" y="263.10" font-size="13.10" textLength="35.45" lengthAdjust="spacingAndGlyphs" fill="#000" font-family='"Liberation Sans", sans-serif'>09:36</text>
<line x1="612.20" y1="248.8" x2="612.20" y2="245.20000000000002" stroke="#000" stroke-width="1.1"/>
<line x1="612.20" y1="1.0" x2="612.20" y2="4.6" stroke="#000" stroke-width="1.1"/>
<text x="594.60" y="263.10" font-size="13.10" textLength="35.45" lengthAdjust="spacingAndGlyphs" fill="#000" font-family='"Liberation Sans", sans-serif'>09:37</text>
<line x1="389.90" y1="248.8" x2="389.90" y2="246.8" stroke="#000" stroke-width="1.0"/>
<line x1="389.90" y1="1.0" x2="389.90" y2="3.0" stroke="#000" stroke-width="1.0"/>
<line x1="439.30" y1="248.8" x2="439.30" y2="246.8" stroke="#000" stroke-width="1.0"/>
<line x1="439.30" y1="1.0" x2="439.30" y2="3.0" stroke="#000" stroke-width="1.0"/>
<line x1="488.70" y1="248.8" x2="488.70" y2="246.8" stroke="#000" stroke-width="1.0"/>
<line x1="488.70" y1="1.0" x2="488.70" y2="3.0" stroke="#000" stroke-width="1.0"/>
<line x1="538.10" y1="248.8" x2="538.10" y2="246.8" stroke="#000" stroke-width="1.0"/>
<line x1="538.10" y1="1.0" x2="538.10" y2="3.0" stroke="#000" stroke-width="1.0"/>
<line x1="587.50" y1="248.8" x2="587.50" y2="246.8" stroke="#000" stroke-width="1.0"/>
<line x1="587.50" y1="1.0" x2="587.50" y2="3.0" stroke="#000" stroke-width="1.0"/>
<text x="366.09" y="239.95" font-size="15.12" textLength="21.90" lengthAdjust="spacingAndGlyphs" fill="#000" font-family='"Liberation Sans", sans-serif'>(b)</text>
<text x="476.23" y="283.60" font-size="19.49" textLength="24.57" lengthAdjust="spacingAndGlyphs" fill="#000" font-family='"Liberation Sans", sans-serif'>UT</text>
<g transform="translate(52.30,69.00) rotate(90)"><text x="0.00" y="0.00" font-size="16.40" textLength="8.58" lengthAdjust="spacingAndGlyphs" fill="#000" font-style="italic" font-family='"Liberation Sans", sans-serif'>L</text><text x="8.58" y="2.69" font-size="11.48" textLength="5.93" lengthAdjust="spacingAndGlyphs" fill="#000" font-style="italic" font-family='"Liberation Sans", sans-serif'>c</text><text x="19.40" y="0.00" font-size="16.40" textLength="6.01" lengthAdjust="spacingAndGlyphs" fill="#000" font-family='"Liberation Sans", sans-serif'>(</text><text x="25.41" y="0.00" font-size="16.40" textLength="9.80" lengthAdjust="spacingAndGlyphs" fill="#000" font-family='"Liberation Sans", sans-serif'>μ</text><text x="35.21" y="0.00" font-size="16.40" textLength="30.23" lengthAdjust="spacingAndGlyphs" fill="#000" font-family='"Liberation Sans", sans-serif'>Wm</text><text x="65.44" y="-5.70" font-size="11.48" textLength="15.89" lengthAdjust="spacingAndGlyphs" fill="#000" font-family='"Liberation Sans", sans-serif'>−2</text><text x="81.33" y="0.00" font-size="16.40" textLength="14.35" lengthAdjust="spacingAndGlyphs" fill="#000" font-family='"Liberation Sans", sans-serif'>sr</text><text x="95.68" y="-5.70" font-size="11.48" textLength="15.89" lengthAdjust="spacingAndGlyphs" fill="#000" font-family='"Liberation Sans", sans-serif'>−1</text><text x="111.57" y="0.00" font-size="16.40" textLength="6.01" lengthAdjust="spacingAndGlyphs" fill="#000" font-family='"Liberation Sans", sans-serif'>)</text></g>
<g transform="translate(329.00,184.80) rotate(-90)"><text x="0.00" y="0.00" font-size="16.40" textLength="8.58" lengthAdjust="spacingAndGlyphs" fill="#000" font-style="italic" font-family='"Liberation Sans", sans-serif'>L</text><text x="8.58" y="2.69" font-size="11.48" textLength="5.93" lengthAdjust="spacingAndGlyphs" fill="#000" font-style="italic" font-family='"Liberation Sans", sans-serif'>c</text><text x="19.40" y="0.00" font-size="16.40" textLength="6.01" lengthAdjust="spacingAndGlyphs" fill="#000" font-family='"Liberation Sans", sans-serif'>(</text><text x="25.41" y="0.00" font-size="16.40" textLength="9.80" lengthAdjust="spacingAndGlyphs" fill="#000" font-family='"Liberation Sans", sans-serif'>μ</text><text x="35.21" y="0.00" font-size="16.40" textLength="30.23" lengthAdjust="spacingAndGlyphs" fill="#000" font-family='"Liberation Sans", sans-serif'>Wm</text><text x="65.44" y="-5.70" font-size="11.48" textLength="15.89" lengthAdjust="spacingAndGlyphs" fill="#000" font-family='"Liberation Sans", sans-serif'>−2</text><text x="81.33" y="0.00" font-size="16.40" textLength="14.35" lengthAdjust="spacingAndGlyphs" fill="#000" font-family='"Liberation Sans", sans-serif'>sr</text><text x="95.68" y="-5.70" font-size="11.48" textLength="15.89" lengthAdjust="spacingAndGlyphs" fill="#000" font-family='"Liberation Sans", sans-serif'>−1</text><text x="111.57" y="0.00" font-size="16.40" textLength="6.01" lengthAdjust="spacingAndGlyphs" fill="#000" font-family='"Liberation Sans", sans-serif'>)</text></g>
<g transform="translate(670.40,8.00) rotate(90)"><text x="0.00" y="0.00" font-size="16.40" textLength="8.58" lengthAdjust="spacingAndGlyphs" fill="#000" font-style="italic" font-family='"Liberation Sans", sans-serif'>L</text><text x="8.58" y="2.69" font-size="11.48" textLength="5.93" lengthAdjust="spacingAndGlyphs" fill="#000" font-style="italic" font-family='"Liberation Sans", sans-serif'>c</text><text x="19.40" y="0.00" font-size="16.40" textLength="6.01" lengthAdjust="spacingAndGlyphs" fill="#000" font-family='"Liberation Sans", sans-serif'>(</text><text x="25.41" y="0.00" font-size="16.40" textLength="9.80" lengthAdjust="spacingAndGlyphs" fill="#000" font-family='"Liberation Sans", sans-serif'>μ</text><text x="35.21" y="0.00" font-size="16.40" textLength="30.23" lengthAdjust="spacingAndGlyphs" fill="#000" font-family='"Liberation Sans", sans-serif'>Wm</text><text x="65.44" y="-5.70" font-size="11.48" textLength="15.89" lengthAdjust="spacingAndGlyphs" fill="#000" font-family='"Liberation Sans", sans-serif'>−2</text><text x="81.33" y="0.00" font-size="16.40" textLength="14.35" lengthAdjust="spacingAndGlyphs" fill="#000" font-family='"Liberation Sans", sans-serif'>sr</text><text x="95.68" y="-5.70" font-size="11.48" textLength="15.89" lengthAdjust="spacingAndGlyphs" fill="#000" font-family='"Liberation Sans", sans-serif'>−1</text><text x="111.57" y="0.00" font-size="16.40" textLength="6.01" lengthAdjust="spacingAndGlyphs" fill="#000" font-family='"Liberation Sans", sans-serif'>)</text></g>
</svg>
</body></html>
